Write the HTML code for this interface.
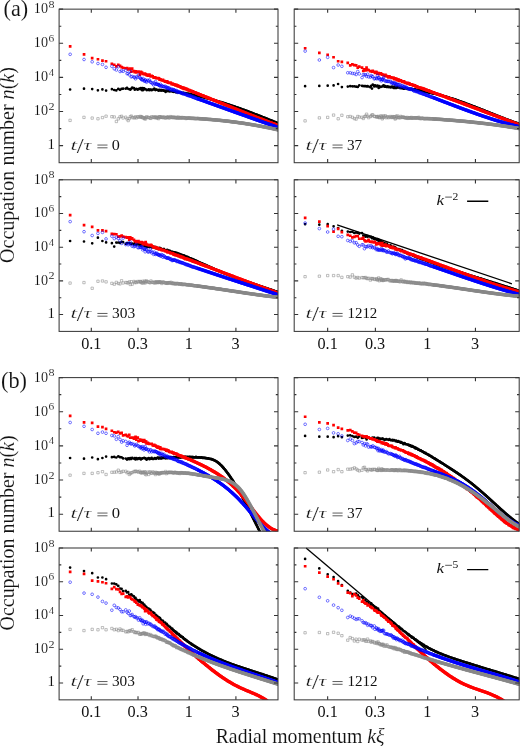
<!DOCTYPE html><html><head><meta charset="utf-8"><style>html,body{margin:0;padding:0;background:#fff;width:520px;height:746px;overflow:hidden}svg{display:block;will-change:transform}text{font-family:"Liberation Serif",serif;fill:#111}</style></head><body>
<svg width="520" height="746" viewBox="0 0 520 746">
<defs>
<clipPath id="cA1"><rect x="59.10" y="9.15" width="218.90" height="153.55"/></clipPath>
<clipPath id="cA2"><rect x="294.20" y="9.15" width="225.00" height="153.55"/></clipPath>
<clipPath id="cA3"><rect x="59.10" y="179.80" width="218.90" height="151.60"/></clipPath>
<clipPath id="cA4"><rect x="294.20" y="179.80" width="225.00" height="151.60"/></clipPath>
<clipPath id="cB1"><rect x="59.10" y="377.60" width="218.90" height="153.65"/></clipPath>
<clipPath id="cB2"><rect x="294.20" y="377.60" width="225.00" height="153.65"/></clipPath>
<clipPath id="cB3"><rect x="59.10" y="548.00" width="218.90" height="151.85"/></clipPath>
<clipPath id="cB4"><rect x="294.20" y="548.00" width="225.00" height="151.85"/></clipPath>
</defs>
<g clip-path="url(#cA1)">
<path d="M172.0 91.5L173.5 91.6L175.0 91.8L176.5 92.0L178.0 92.3L179.5 92.5L181.0 92.7L182.5 93.0L184.0 93.2L185.5 93.5L187.0 93.7L188.5 94.0L190.0 94.3L191.5 94.6L193.0 94.9L194.5 95.2L196.0 95.5L197.5 95.9L199.0 96.2L200.5 96.6L202.0 96.9L203.5 97.3L205.0 97.7L206.5 98.1L208.0 98.5L209.5 98.9L211.0 99.3L212.5 99.7L214.0 100.1L215.5 100.5L217.0 101.0L218.5 101.4L220.0 101.9L221.5 102.3L223.0 102.8L224.5 103.3L226.0 103.7L227.5 104.2L229.0 104.7L230.5 105.2L232.0 105.7L233.5 106.2L235.0 106.7L236.5 107.3L238.0 107.8L239.5 108.3L241.0 108.8L242.5 109.4L244.0 109.9L245.5 110.5L247.0 111.0L248.5 111.6L250.0 112.1L251.5 112.7L253.0 113.3L254.5 113.9L256.0 114.4L257.5 115.0L259.0 115.6L260.5 116.2L262.0 116.8L263.5 117.4L265.0 118.0L266.5 118.6L268.0 119.2L269.5 119.8L271.0 120.4L272.5 121.0L274.0 121.6L275.5 122.2L277.0 122.8L278.5 123.4L280.0 124.0" stroke="#000" stroke-width="2.5" fill="none" stroke-linejoin="round"/>
<path d="M70.1 89.5h0M84.0 88.7h0M92.2 89.1h0M97.9 90.3h0M102.4 89.4h0M106.1 90.6h0M111.9 89.2h0M114.2 90.0h0M116.3 90.4h0M118.3 88.8h0M120.0 89.8h0M121.6 88.9h0M123.1 88.7h0M125.8 88.7h0M127.0 87.9h0M128.2 88.8h0M129.2 89.0h0M130.3 89.7h0M131.3 88.7h0M132.2 87.7h0M133.9 88.2h0M134.8 89.7h0M135.5 89.2h0M136.3 88.9h0M137.7 89.7h0M138.4 89.0h0M139.7 88.6h0M140.3 89.1h0M140.9 88.2h0M141.5 88.6h0M142.1 90.2h0M142.6 88.0h0M143.2 90.1h0M144.2 88.3h0M144.7 89.2h0M145.2 89.0h0M145.6 89.3h0M146.1 89.5h0M146.6 90.1h0M147.9 89.9h0M148.7 89.3h0M149.5 90.2h0M150.2 89.5h0M151.0 89.5h0M151.7 90.2h0M152.7 89.7h0M153.6 89.5h0M154.3 88.7h0M154.9 89.5h0M155.4 90.1h0M156.0 89.7h0M156.6 89.5h0M157.1 89.8h0M157.6 89.9h0M158.1 90.3h0M158.6 90.7h0M159.1 89.9h0M159.6 90.5h0M160.0 90.2h0M160.5 90.0h0M161.1 90.7h0M161.8 90.2h0M162.4 90.5h0M163.0 90.6h0M163.6 90.4h0M164.1 90.7h0M165.1 90.7h0M165.6 91.9h0M166.3 90.8h0M166.8 90.7h0M167.2 90.7h0M167.7 91.1h0M168.2 90.9h0M168.8 90.6h0M169.4 91.4h0M169.9 90.9h0M170.5 91.0h0M171.0 91.3h0M171.7 91.0h0M172.2 91.3h0M172.7 91.5h0M173.1 91.3h0M173.6 91.8h0M174.1 91.7h0M174.6 91.4h0M175.2 91.6h0M175.7 92.2h0M176.2 91.8h0M176.7 92.2h0M177.3 92.0h0M177.8 92.1h0M178.3 92.1h0M178.8 92.3h0M179.3 92.4h0M179.8 92.8h0M180.4 93.0h0M180.8 92.3h0M181.3 93.0h0M181.8 93.2h0M182.3 93.2h0M182.8 93.3h0M183.3 92.8h0M183.8 92.8h0M184.4 93.3h0M184.9 93.6h0M185.5 93.1h0M186.0 93.3h0M186.5 93.5h0M186.9 93.7h0M187.4 94.1h0M187.9 93.7h0M188.3 94.0h0M188.8 93.8h0M189.3 93.9h0M189.8 94.0h0M190.2 94.2h0M190.7 94.2h0M191.2 94.5h0M191.7 94.6h0M192.2 94.6h0M192.6 94.8h0M193.1 94.8h0M193.6 95.2h0M194.1 94.9h0M194.6 95.2h0M195.1 95.5h0M195.6 95.4h0M196.0 95.4h0M196.5 95.6h0M197.0 95.7h0M197.5 95.8h0M197.9 95.8h0M198.4 96.2h0M198.9 96.0h0M199.4 96.4h0M199.9 96.5h0M200.4 96.7h0M200.9 96.7h0M201.3 96.7h0M201.8 96.9h0M202.3 96.9h0M202.7 97.1h0M203.2 97.1h0M203.7 97.2h0M204.1 97.6h0M204.6 97.7h0M205.0 97.7h0M205.5 97.9h0M206.0 97.9h0M206.4 98.0h0M206.9 98.2h0M207.3 98.3h0M207.8 98.4h0M208.3 98.5h0M208.7 98.7h0M209.2 98.8h0M209.7 99.0h0M210.1 99.0h0M210.6 99.2h0M211.1 99.3h0M211.6 99.5h0M212.0 99.5h0M212.5 99.7h0M212.9 99.8h0M213.4 100.0h0M213.8 100.0h0M214.3 100.2h0M214.8 100.3h0M215.2 100.4h0M215.7 100.6h0M216.1 100.7h0M216.6 100.9h0M217.0 101.0h0M217.5 101.1h0M218.0 101.3h0M218.4 101.4h0M218.9 101.5h0M219.4 101.7h0M219.8 101.8h0M220.3 102.0h0M220.8 102.1h0M221.2 102.2h0M221.7 102.4h0M222.1 102.5h0M222.6 102.7h0M223.0 102.8h0M223.5 102.9h0M223.9 103.1h0M224.4 103.2h0M224.9 103.4h0M225.3 103.5h0M225.8 103.7h0M226.2 103.8h0M226.7 104.0h0M227.1 104.1h0M227.6 104.3h0M228.1 104.4h0M228.5 104.6h0M229.0 104.7h0M229.4 104.9h0M229.9 105.0h0M230.3 105.2h0M230.8 105.3h0M231.2 105.5h0M231.7 105.6h0M232.2 105.8h0M232.6 105.9h0M233.1 106.1h0M233.5 106.2h0M234.0 106.4h0M234.4 106.5h0M234.9 106.7h0M235.3 106.9h0M235.8 107.0h0M236.2 107.2h0M236.7 107.3h0M237.2 107.5h0M237.6 107.6h0M238.1 107.8h0M238.5 108.0h0M239.0 108.1h0M239.4 108.3h0M239.9 108.4h0M240.3 108.6h0M240.8 108.8h0M241.2 108.9h0M241.7 109.1h0M242.1 109.3h0M242.6 109.4h0M243.0 109.6h0M243.5 109.7h0M243.9 109.9h0M244.4 110.1h0M244.8 110.2h0M245.3 110.4h0M245.8 110.6h0M246.2 110.7h0M246.7 110.9h0M247.1 111.1h0M247.6 111.2h0M248.0 111.4h0M248.5 111.6h0M248.9 111.7h0M249.4 111.9h0M249.8 112.1h0M250.3 112.3h0M250.7 112.4h0M251.2 112.6h0M251.6 112.8h0M252.1 112.9h0M252.5 113.1h0M253.0 113.3h0M253.4 113.5h0M253.9 113.6h0M254.3 113.8h0M254.8 114.0h0M255.3 114.1h0M255.7 114.3h0M256.2 114.5h0M256.6 114.7h0M257.1 114.8h0M257.5 115.0h0M258.0 115.2h0M258.4 115.4h0M258.9 115.5h0M259.3 115.7h0M259.8 115.9h0M260.2 116.1h0M260.7 116.2h0M261.1 116.4h0M261.6 116.6h0M262.0 116.8h0M262.5 117.0h0M262.9 117.1h0M263.4 117.3h0M263.8 117.5h0M264.3 117.7h0M264.7 117.8h0M265.2 118.0h0M265.6 118.2h0M266.1 118.4h0M266.5 118.6h0M267.0 118.7h0M267.4 118.9h0M267.9 119.1h0M268.3 119.3h0M268.8 119.5h0M269.2 119.7h0M269.7 119.8h0M270.1 120.0h0M270.6 120.2h0M271.0 120.4h0M271.5 120.6h0M271.9 120.7h0M272.4 120.9h0M272.8 121.1h0M273.3 121.3h0M273.7 121.5h0M274.2 121.7h0M274.6 121.8h0M275.1 122.0h0M275.5 122.2h0M276.0 122.4h0M276.4 122.6h0M276.9 122.8h0M277.3 123.0h0M277.8 123.1h0M278.2 123.3h0M278.7 123.5h0" stroke="#000" stroke-width="2.7" stroke-linecap="round" fill="none"/>
<path d="M172.0 83.7L173.5 84.3L175.0 84.8L176.5 85.4L178.0 86.0L179.5 86.5L181.0 87.1L182.5 87.7L184.0 88.3L185.5 88.8L187.0 89.4L188.5 90.0L190.0 90.6L191.5 91.2L193.0 91.8L194.5 92.4L196.0 93.0L197.5 93.6L199.0 94.2L200.5 94.8L202.0 95.4L203.5 96.0L205.0 96.6L206.5 97.2L208.0 97.8L209.5 98.4L211.0 99.0L212.5 99.6L214.0 100.2L215.5 100.8L217.0 101.4L218.5 102.0L220.0 102.6L221.5 103.2L223.0 103.8L224.5 104.5L226.0 105.1L227.5 105.7L229.0 106.3L230.5 106.9L232.0 107.5L233.5 108.1L235.0 108.7L236.5 109.3L238.0 109.9L239.5 110.5L241.0 111.1L242.5 111.7L244.0 112.3L245.5 112.9L247.0 113.5L248.5 114.1L250.0 114.7L251.5 115.3L253.0 115.8L254.5 116.4L256.0 117.0L257.5 117.6L259.0 118.2L260.5 118.8L262.0 119.3L263.5 119.9L265.0 120.5L266.5 121.0L268.0 121.6L269.5 122.2L271.0 122.7L272.5 123.3L274.0 123.8L275.5 124.4L277.0 124.9L278.5 125.5L280.0 126.0" stroke="#f00" stroke-width="3.1" fill="none" stroke-linejoin="round"/>
<path d="M68.8 45.1h2.7v2.7h-2.7zM82.7 53.0h2.7v2.7h-2.7zM90.8 56.8h2.7v2.7h-2.7zM96.6 57.9h2.7v2.7h-2.7zM101.1 59.2h2.7v2.7h-2.7zM104.7 59.9h2.7v2.7h-2.7zM110.5 62.4h2.7v2.7h-2.7zM112.9 63.4h2.7v2.7h-2.7zM115.0 65.0h2.7v2.7h-2.7zM116.9 63.4h2.7v2.7h-2.7zM118.7 64.6h2.7v2.7h-2.7zM120.3 65.7h2.7v2.7h-2.7zM121.8 66.4h2.7v2.7h-2.7zM124.4 66.9h2.7v2.7h-2.7zM125.7 66.8h2.7v2.7h-2.7zM126.8 68.0h2.7v2.7h-2.7zM127.9 67.5h2.7v2.7h-2.7zM128.9 67.3h2.7v2.7h-2.7zM129.9 70.3h2.7v2.7h-2.7zM130.8 67.2h2.7v2.7h-2.7zM132.6 69.8h2.7v2.7h-2.7zM133.4 70.9h2.7v2.7h-2.7zM134.2 69.9h2.7v2.7h-2.7zM135.0 71.0h2.7v2.7h-2.7zM136.4 70.2h2.7v2.7h-2.7zM137.1 70.3h2.7v2.7h-2.7zM138.4 73.3h2.7v2.7h-2.7zM139.0 71.2h2.7v2.7h-2.7zM139.6 70.4h2.7v2.7h-2.7zM140.2 71.5h2.7v2.7h-2.7zM140.7 71.3h2.7v2.7h-2.7zM141.3 72.6h2.7v2.7h-2.7zM141.8 72.5h2.7v2.7h-2.7zM142.8 72.7h2.7v2.7h-2.7zM143.3 72.2h2.7v2.7h-2.7zM143.8 73.1h2.7v2.7h-2.7zM144.3 72.8h2.7v2.7h-2.7zM144.8 73.0h2.7v2.7h-2.7zM145.2 73.7h2.7v2.7h-2.7zM146.5 74.4h2.7v2.7h-2.7zM147.3 73.6h2.7v2.7h-2.7zM148.1 73.3h2.7v2.7h-2.7zM148.9 74.5h2.7v2.7h-2.7zM149.6 75.0h2.7v2.7h-2.7zM150.3 74.4h2.7v2.7h-2.7zM151.3 75.0h2.7v2.7h-2.7zM152.3 76.3h2.7v2.7h-2.7zM152.9 76.1h2.7v2.7h-2.7zM153.5 76.1h2.7v2.7h-2.7zM154.1 76.2h2.7v2.7h-2.7zM154.7 76.7h2.7v2.7h-2.7zM155.2 76.7h2.7v2.7h-2.7zM155.7 76.9h2.7v2.7h-2.7zM156.3 77.0h2.7v2.7h-2.7zM156.8 76.7h2.7v2.7h-2.7zM157.3 76.9h2.7v2.7h-2.7zM157.7 77.1h2.7v2.7h-2.7zM158.2 78.4h2.7v2.7h-2.7zM158.7 77.9h2.7v2.7h-2.7zM159.1 78.1h2.7v2.7h-2.7zM159.8 78.6h2.7v2.7h-2.7zM160.4 78.8h2.7v2.7h-2.7zM161.0 79.0h2.7v2.7h-2.7zM161.6 78.6h2.7v2.7h-2.7zM162.2 79.4h2.7v2.7h-2.7zM162.8 79.6h2.7v2.7h-2.7zM163.7 80.2h2.7v2.7h-2.7zM164.2 80.3h2.7v2.7h-2.7zM164.9 80.1h2.7v2.7h-2.7zM165.4 80.6h2.7v2.7h-2.7zM165.9 80.1h2.7v2.7h-2.7zM166.4 81.0h2.7v2.7h-2.7zM166.8 81.4h2.7v2.7h-2.7zM167.4 81.3h2.7v2.7h-2.7zM168.0 81.5h2.7v2.7h-2.7zM168.6 81.3h2.7v2.7h-2.7zM169.1 81.3h2.7v2.7h-2.7zM169.7 81.7h2.7v2.7h-2.7zM170.3 82.7h2.7v2.7h-2.7zM170.8 82.4h2.7v2.7h-2.7zM171.3 82.8h2.7v2.7h-2.7zM171.8 82.7h2.7v2.7h-2.7zM172.3 83.0h2.7v2.7h-2.7zM172.7 83.0h2.7v2.7h-2.7zM173.3 83.4h2.7v2.7h-2.7zM173.8 83.6h2.7v2.7h-2.7zM174.4 84.1h2.7v2.7h-2.7zM174.9 83.5h2.7v2.7h-2.7zM175.4 83.8h2.7v2.7h-2.7zM176.0 84.1h2.7v2.7h-2.7zM176.4 84.7h2.7v2.7h-2.7zM176.9 84.5h2.7v2.7h-2.7zM177.4 84.9h2.7v2.7h-2.7zM178.0 84.9h2.7v2.7h-2.7zM178.5 85.2h2.7v2.7h-2.7zM179.0 85.5h2.7v2.7h-2.7zM179.5 85.7h2.7v2.7h-2.7zM180.0 86.0h2.7v2.7h-2.7zM180.4 86.3h2.7v2.7h-2.7zM180.9 86.5h2.7v2.7h-2.7zM181.4 86.8h2.7v2.7h-2.7zM181.9 86.3h2.7v2.7h-2.7zM182.5 87.6h2.7v2.7h-2.7zM183.0 86.8h2.7v2.7h-2.7zM183.6 87.2h2.7v2.7h-2.7zM184.1 87.3h2.7v2.7h-2.7zM184.6 87.7h2.7v2.7h-2.7zM185.1 87.6h2.7v2.7h-2.7zM185.6 87.8h2.7v2.7h-2.7zM186.1 88.3h2.7v2.7h-2.7zM186.5 88.7h2.7v2.7h-2.7zM187.0 88.7h2.7v2.7h-2.7zM187.5 88.7h2.7v2.7h-2.7zM188.0 88.8h2.7v2.7h-2.7zM188.4 89.2h2.7v2.7h-2.7zM188.9 89.5h2.7v2.7h-2.7zM189.3 89.6h2.7v2.7h-2.7zM189.9 89.5h2.7v2.7h-2.7zM190.4 90.2h2.7v2.7h-2.7zM190.8 90.2h2.7v2.7h-2.7zM191.3 90.1h2.7v2.7h-2.7zM191.8 90.4h2.7v2.7h-2.7zM192.2 90.8h2.7v2.7h-2.7zM192.8 91.0h2.7v2.7h-2.7zM193.2 91.0h2.7v2.7h-2.7zM193.7 91.0h2.7v2.7h-2.7zM194.2 91.4h2.7v2.7h-2.7zM194.7 91.6h2.7v2.7h-2.7zM195.2 91.9h2.7v2.7h-2.7zM195.6 92.0h2.7v2.7h-2.7zM196.1 92.4h2.7v2.7h-2.7zM196.6 92.3h2.7v2.7h-2.7zM197.1 92.6h2.7v2.7h-2.7zM197.5 92.9h2.7v2.7h-2.7zM198.1 92.9h2.7v2.7h-2.7zM198.5 93.3h2.7v2.7h-2.7zM199.0 93.4h2.7v2.7h-2.7zM199.5 93.6h2.7v2.7h-2.7zM200.0 93.9h2.7v2.7h-2.7zM200.5 94.0h2.7v2.7h-2.7zM200.9 94.1h2.7v2.7h-2.7zM201.4 94.2h2.7v2.7h-2.7zM201.8 94.5h2.7v2.7h-2.7zM202.3 94.6h2.7v2.7h-2.7zM202.8 94.9h2.7v2.7h-2.7zM203.2 95.1h2.7v2.7h-2.7zM203.7 95.3h2.7v2.7h-2.7zM204.1 95.3h2.7v2.7h-2.7zM204.6 95.5h2.7v2.7h-2.7zM205.1 95.7h2.7v2.7h-2.7zM205.5 96.0h2.7v2.7h-2.7zM206.0 96.1h2.7v2.7h-2.7zM206.5 96.3h2.7v2.7h-2.7zM206.9 96.6h2.7v2.7h-2.7zM207.4 96.7h2.7v2.7h-2.7zM207.9 96.8h2.7v2.7h-2.7zM208.3 97.1h2.7v2.7h-2.7zM208.8 97.2h2.7v2.7h-2.7zM209.2 97.5h2.7v2.7h-2.7zM209.7 97.7h2.7v2.7h-2.7zM210.2 97.9h2.7v2.7h-2.7zM210.7 98.0h2.7v2.7h-2.7zM211.1 98.2h2.7v2.7h-2.7zM211.6 98.4h2.7v2.7h-2.7zM212.0 98.6h2.7v2.7h-2.7zM212.5 98.8h2.7v2.7h-2.7zM213.0 98.9h2.7v2.7h-2.7zM213.4 99.2h2.7v2.7h-2.7zM213.9 99.3h2.7v2.7h-2.7zM214.3 99.5h2.7v2.7h-2.7zM214.8 99.7h2.7v2.7h-2.7zM215.2 99.9h2.7v2.7h-2.7zM215.7 100.1h2.7v2.7h-2.7zM216.2 100.3h2.7v2.7h-2.7zM216.6 100.5h2.7v2.7h-2.7zM217.1 100.6h2.7v2.7h-2.7zM217.5 100.8h2.7v2.7h-2.7zM218.0 101.0h2.7v2.7h-2.7zM218.5 101.2h2.7v2.7h-2.7zM218.9 101.4h2.7v2.7h-2.7zM219.4 101.6h2.7v2.7h-2.7zM219.9 101.8h2.7v2.7h-2.7zM220.3 102.0h2.7v2.7h-2.7zM220.8 102.1h2.7v2.7h-2.7zM221.2 102.3h2.7v2.7h-2.7zM221.7 102.5h2.7v2.7h-2.7zM222.1 102.7h2.7v2.7h-2.7zM222.6 102.9h2.7v2.7h-2.7zM223.1 103.1h2.7v2.7h-2.7zM223.5 103.2h2.7v2.7h-2.7zM224.0 103.4h2.7v2.7h-2.7zM224.4 103.6h2.7v2.7h-2.7zM224.9 103.8h2.7v2.7h-2.7zM225.3 104.0h2.7v2.7h-2.7zM225.8 104.2h2.7v2.7h-2.7zM226.3 104.4h2.7v2.7h-2.7zM226.7 104.5h2.7v2.7h-2.7zM227.2 104.7h2.7v2.7h-2.7zM227.6 104.9h2.7v2.7h-2.7zM228.1 105.1h2.7v2.7h-2.7zM228.5 105.3h2.7v2.7h-2.7zM229.0 105.5h2.7v2.7h-2.7zM229.4 105.6h2.7v2.7h-2.7zM229.9 105.8h2.7v2.7h-2.7zM230.4 106.0h2.7v2.7h-2.7zM230.8 106.2h2.7v2.7h-2.7zM231.3 106.4h2.7v2.7h-2.7zM231.7 106.6h2.7v2.7h-2.7zM232.2 106.7h2.7v2.7h-2.7zM232.6 106.9h2.7v2.7h-2.7zM233.1 107.1h2.7v2.7h-2.7zM233.5 107.3h2.7v2.7h-2.7zM234.0 107.5h2.7v2.7h-2.7zM234.4 107.7h2.7v2.7h-2.7zM234.9 107.8h2.7v2.7h-2.7zM235.4 108.0h2.7v2.7h-2.7zM235.8 108.2h2.7v2.7h-2.7zM236.3 108.4h2.7v2.7h-2.7zM236.7 108.6h2.7v2.7h-2.7zM237.2 108.8h2.7v2.7h-2.7zM237.6 108.9h2.7v2.7h-2.7zM238.1 109.1h2.7v2.7h-2.7zM238.5 109.3h2.7v2.7h-2.7zM239.0 109.5h2.7v2.7h-2.7zM239.4 109.7h2.7v2.7h-2.7zM239.9 109.8h2.7v2.7h-2.7zM240.3 110.0h2.7v2.7h-2.7zM240.8 110.2h2.7v2.7h-2.7zM241.2 110.4h2.7v2.7h-2.7zM241.7 110.6h2.7v2.7h-2.7zM242.1 110.7h2.7v2.7h-2.7zM242.6 110.9h2.7v2.7h-2.7zM243.0 111.1h2.7v2.7h-2.7zM243.5 111.3h2.7v2.7h-2.7zM244.0 111.5h2.7v2.7h-2.7zM244.4 111.6h2.7v2.7h-2.7zM244.9 111.8h2.7v2.7h-2.7zM245.3 112.0h2.7v2.7h-2.7zM245.8 112.2h2.7v2.7h-2.7zM246.2 112.4h2.7v2.7h-2.7zM246.7 112.5h2.7v2.7h-2.7zM247.1 112.7h2.7v2.7h-2.7zM247.6 112.9h2.7v2.7h-2.7zM248.0 113.1h2.7v2.7h-2.7zM248.5 113.3h2.7v2.7h-2.7zM248.9 113.4h2.7v2.7h-2.7zM249.4 113.6h2.7v2.7h-2.7zM249.8 113.8h2.7v2.7h-2.7zM250.3 114.0h2.7v2.7h-2.7zM250.7 114.1h2.7v2.7h-2.7zM251.2 114.3h2.7v2.7h-2.7zM251.6 114.5h2.7v2.7h-2.7zM252.1 114.7h2.7v2.7h-2.7zM252.5 114.8h2.7v2.7h-2.7zM253.0 115.0h2.7v2.7h-2.7zM253.4 115.2h2.7v2.7h-2.7zM253.9 115.4h2.7v2.7h-2.7zM254.4 115.5h2.7v2.7h-2.7zM254.8 115.7h2.7v2.7h-2.7zM255.3 115.9h2.7v2.7h-2.7zM255.7 116.1h2.7v2.7h-2.7zM256.2 116.2h2.7v2.7h-2.7zM256.6 116.4h2.7v2.7h-2.7zM257.1 116.6h2.7v2.7h-2.7zM257.5 116.8h2.7v2.7h-2.7zM258.0 116.9h2.7v2.7h-2.7zM258.4 117.1h2.7v2.7h-2.7zM258.9 117.3h2.7v2.7h-2.7zM259.3 117.5h2.7v2.7h-2.7zM259.8 117.6h2.7v2.7h-2.7zM260.2 117.8h2.7v2.7h-2.7zM260.7 118.0h2.7v2.7h-2.7zM261.1 118.2h2.7v2.7h-2.7zM261.6 118.3h2.7v2.7h-2.7zM262.0 118.5h2.7v2.7h-2.7zM262.5 118.7h2.7v2.7h-2.7zM262.9 118.8h2.7v2.7h-2.7zM263.4 119.0h2.7v2.7h-2.7zM263.8 119.2h2.7v2.7h-2.7zM264.3 119.3h2.7v2.7h-2.7zM264.7 119.5h2.7v2.7h-2.7zM265.2 119.7h2.7v2.7h-2.7zM265.6 119.9h2.7v2.7h-2.7zM266.1 120.0h2.7v2.7h-2.7zM266.5 120.2h2.7v2.7h-2.7zM267.0 120.4h2.7v2.7h-2.7zM267.4 120.5h2.7v2.7h-2.7zM267.9 120.7h2.7v2.7h-2.7zM268.3 120.9h2.7v2.7h-2.7zM268.8 121.0h2.7v2.7h-2.7zM269.2 121.2h2.7v2.7h-2.7zM269.7 121.4h2.7v2.7h-2.7zM270.1 121.5h2.7v2.7h-2.7zM270.6 121.7h2.7v2.7h-2.7zM271.0 121.9h2.7v2.7h-2.7zM271.5 122.0h2.7v2.7h-2.7zM271.9 122.2h2.7v2.7h-2.7zM272.4 122.4h2.7v2.7h-2.7zM272.8 122.5h2.7v2.7h-2.7zM273.3 122.7h2.7v2.7h-2.7zM273.7 122.9h2.7v2.7h-2.7zM274.2 123.0h2.7v2.7h-2.7zM274.6 123.2h2.7v2.7h-2.7zM275.1 123.4h2.7v2.7h-2.7zM275.5 123.5h2.7v2.7h-2.7zM276.0 123.7h2.7v2.7h-2.7zM276.4 123.8h2.7v2.7h-2.7zM276.9 124.0h2.7v2.7h-2.7zM277.3 124.2h2.7v2.7h-2.7z" fill="#f00"/>
<path d="M197.0 98.5L198.5 99.0L200.0 99.6L201.5 100.1L203.0 100.7L204.5 101.2L206.0 101.7L207.5 102.3L209.0 102.8L210.5 103.4L212.0 103.9L213.5 104.4L215.0 105.0L216.5 105.5L218.0 106.0L219.5 106.6L221.0 107.1L222.5 107.7L224.0 108.2L225.5 108.7L227.0 109.3L228.5 109.8L230.0 110.3L231.5 110.9L233.0 111.4L234.5 112.0L236.0 112.5L237.5 113.0L239.0 113.6L240.5 114.1L242.0 114.6L243.5 115.2L245.0 115.7L246.5 116.2L248.0 116.8L249.5 117.3L251.0 117.8L252.5 118.4L254.0 118.9L255.5 119.5L257.0 120.0L258.5 120.5L260.0 121.1L261.5 121.6L263.0 122.1L264.5 122.7L266.0 123.2L267.5 123.7L269.0 124.2L270.5 124.8L272.0 125.3L273.5 125.8L275.0 126.4L276.5 126.9L278.0 127.4L279.5 128.0" stroke="#00f" stroke-width="3.0" fill="none" stroke-linejoin="round"/>
<path d="M68.8 54.3a1.35 1.35 0 1 0 2.7 0a1.35 1.35 0 1 0 -2.7 0M82.7 59.5a1.35 1.35 0 1 0 2.7 0a1.35 1.35 0 1 0 -2.7 0M90.8 61.8a1.35 1.35 0 1 0 2.7 0a1.35 1.35 0 1 0 -2.7 0M96.6 63.5a1.35 1.35 0 1 0 2.7 0a1.35 1.35 0 1 0 -2.7 0M101.1 64.4a1.35 1.35 0 1 0 2.7 0a1.35 1.35 0 1 0 -2.7 0M104.7 67.3a1.35 1.35 0 1 0 2.7 0a1.35 1.35 0 1 0 -2.7 0M110.5 66.3a1.35 1.35 0 1 0 2.7 0a1.35 1.35 0 1 0 -2.7 0M112.9 68.8a1.35 1.35 0 1 0 2.7 0a1.35 1.35 0 1 0 -2.7 0M115.0 70.0a1.35 1.35 0 1 0 2.7 0a1.35 1.35 0 1 0 -2.7 0M116.9 66.8a1.35 1.35 0 1 0 2.7 0a1.35 1.35 0 1 0 -2.7 0M118.7 71.5a1.35 1.35 0 1 0 2.7 0a1.35 1.35 0 1 0 -2.7 0M120.3 70.7a1.35 1.35 0 1 0 2.7 0a1.35 1.35 0 1 0 -2.7 0M121.8 71.3a1.35 1.35 0 1 0 2.7 0a1.35 1.35 0 1 0 -2.7 0M124.4 70.3a1.35 1.35 0 1 0 2.7 0a1.35 1.35 0 1 0 -2.7 0M125.7 73.7a1.35 1.35 0 1 0 2.7 0a1.35 1.35 0 1 0 -2.7 0M126.8 73.4a1.35 1.35 0 1 0 2.7 0a1.35 1.35 0 1 0 -2.7 0M127.9 74.8a1.35 1.35 0 1 0 2.7 0a1.35 1.35 0 1 0 -2.7 0M128.9 71.5a1.35 1.35 0 1 0 2.7 0a1.35 1.35 0 1 0 -2.7 0M129.9 76.9a1.35 1.35 0 1 0 2.7 0a1.35 1.35 0 1 0 -2.7 0M130.8 76.4a1.35 1.35 0 1 0 2.7 0a1.35 1.35 0 1 0 -2.7 0M132.6 77.0a1.35 1.35 0 1 0 2.7 0a1.35 1.35 0 1 0 -2.7 0M133.4 77.5a1.35 1.35 0 1 0 2.7 0a1.35 1.35 0 1 0 -2.7 0M134.2 78.8a1.35 1.35 0 1 0 2.7 0a1.35 1.35 0 1 0 -2.7 0M135.0 76.9a1.35 1.35 0 1 0 2.7 0a1.35 1.35 0 1 0 -2.7 0M136.4 77.3a1.35 1.35 0 1 0 2.7 0a1.35 1.35 0 1 0 -2.7 0M137.1 75.0a1.35 1.35 0 1 0 2.7 0a1.35 1.35 0 1 0 -2.7 0M138.4 77.3a1.35 1.35 0 1 0 2.7 0a1.35 1.35 0 1 0 -2.7 0M139.0 78.2a1.35 1.35 0 1 0 2.7 0a1.35 1.35 0 1 0 -2.7 0M139.6 78.8a1.35 1.35 0 1 0 2.7 0a1.35 1.35 0 1 0 -2.7 0M140.2 79.6a1.35 1.35 0 1 0 2.7 0a1.35 1.35 0 1 0 -2.7 0M140.7 79.6a1.35 1.35 0 1 0 2.7 0a1.35 1.35 0 1 0 -2.7 0M141.3 79.8a1.35 1.35 0 1 0 2.7 0a1.35 1.35 0 1 0 -2.7 0M141.8 78.5a1.35 1.35 0 1 0 2.7 0a1.35 1.35 0 1 0 -2.7 0M142.8 81.0a1.35 1.35 0 1 0 2.7 0a1.35 1.35 0 1 0 -2.7 0M143.3 81.0a1.35 1.35 0 1 0 2.7 0a1.35 1.35 0 1 0 -2.7 0M143.8 80.1a1.35 1.35 0 1 0 2.7 0a1.35 1.35 0 1 0 -2.7 0M144.3 80.0a1.35 1.35 0 1 0 2.7 0a1.35 1.35 0 1 0 -2.7 0M144.8 81.3a1.35 1.35 0 1 0 2.7 0a1.35 1.35 0 1 0 -2.7 0M145.2 82.2a1.35 1.35 0 1 0 2.7 0a1.35 1.35 0 1 0 -2.7 0M146.5 80.3a1.35 1.35 0 1 0 2.7 0a1.35 1.35 0 1 0 -2.7 0M147.3 81.0a1.35 1.35 0 1 0 2.7 0a1.35 1.35 0 1 0 -2.7 0M148.1 80.0a1.35 1.35 0 1 0 2.7 0a1.35 1.35 0 1 0 -2.7 0M148.9 81.9a1.35 1.35 0 1 0 2.7 0a1.35 1.35 0 1 0 -2.7 0M149.6 82.5a1.35 1.35 0 1 0 2.7 0a1.35 1.35 0 1 0 -2.7 0M150.3 82.6a1.35 1.35 0 1 0 2.7 0a1.35 1.35 0 1 0 -2.7 0M151.3 83.7a1.35 1.35 0 1 0 2.7 0a1.35 1.35 0 1 0 -2.7 0M152.3 84.9a1.35 1.35 0 1 0 2.7 0a1.35 1.35 0 1 0 -2.7 0M152.9 82.7a1.35 1.35 0 1 0 2.7 0a1.35 1.35 0 1 0 -2.7 0M153.5 83.8a1.35 1.35 0 1 0 2.7 0a1.35 1.35 0 1 0 -2.7 0M154.1 81.6a1.35 1.35 0 1 0 2.7 0a1.35 1.35 0 1 0 -2.7 0M154.7 84.2a1.35 1.35 0 1 0 2.7 0a1.35 1.35 0 1 0 -2.7 0M155.2 84.0a1.35 1.35 0 1 0 2.7 0a1.35 1.35 0 1 0 -2.7 0M155.7 84.3a1.35 1.35 0 1 0 2.7 0a1.35 1.35 0 1 0 -2.7 0M156.3 84.3a1.35 1.35 0 1 0 2.7 0a1.35 1.35 0 1 0 -2.7 0M156.8 84.7a1.35 1.35 0 1 0 2.7 0a1.35 1.35 0 1 0 -2.7 0M157.3 84.5a1.35 1.35 0 1 0 2.7 0a1.35 1.35 0 1 0 -2.7 0M157.7 85.4a1.35 1.35 0 1 0 2.7 0a1.35 1.35 0 1 0 -2.7 0M158.2 85.4a1.35 1.35 0 1 0 2.7 0a1.35 1.35 0 1 0 -2.7 0M158.7 85.8a1.35 1.35 0 1 0 2.7 0a1.35 1.35 0 1 0 -2.7 0M159.1 84.3a1.35 1.35 0 1 0 2.7 0a1.35 1.35 0 1 0 -2.7 0M159.8 86.7a1.35 1.35 0 1 0 2.7 0a1.35 1.35 0 1 0 -2.7 0M160.4 85.6a1.35 1.35 0 1 0 2.7 0a1.35 1.35 0 1 0 -2.7 0M161.0 86.4a1.35 1.35 0 1 0 2.7 0a1.35 1.35 0 1 0 -2.7 0M161.6 86.3a1.35 1.35 0 1 0 2.7 0a1.35 1.35 0 1 0 -2.7 0M162.2 86.8a1.35 1.35 0 1 0 2.7 0a1.35 1.35 0 1 0 -2.7 0M162.8 86.7a1.35 1.35 0 1 0 2.7 0a1.35 1.35 0 1 0 -2.7 0M163.7 86.2a1.35 1.35 0 1 0 2.7 0a1.35 1.35 0 1 0 -2.7 0M164.2 87.2a1.35 1.35 0 1 0 2.7 0a1.35 1.35 0 1 0 -2.7 0M164.9 87.6a1.35 1.35 0 1 0 2.7 0a1.35 1.35 0 1 0 -2.7 0M165.4 87.0a1.35 1.35 0 1 0 2.7 0a1.35 1.35 0 1 0 -2.7 0M165.9 88.6a1.35 1.35 0 1 0 2.7 0a1.35 1.35 0 1 0 -2.7 0M166.4 88.0a1.35 1.35 0 1 0 2.7 0a1.35 1.35 0 1 0 -2.7 0M166.8 87.8a1.35 1.35 0 1 0 2.7 0a1.35 1.35 0 1 0 -2.7 0M167.4 88.4a1.35 1.35 0 1 0 2.7 0a1.35 1.35 0 1 0 -2.7 0M168.0 88.0a1.35 1.35 0 1 0 2.7 0a1.35 1.35 0 1 0 -2.7 0M168.6 89.4a1.35 1.35 0 1 0 2.7 0a1.35 1.35 0 1 0 -2.7 0M169.1 89.7a1.35 1.35 0 1 0 2.7 0a1.35 1.35 0 1 0 -2.7 0M169.7 89.7a1.35 1.35 0 1 0 2.7 0a1.35 1.35 0 1 0 -2.7 0M170.3 88.8a1.35 1.35 0 1 0 2.7 0a1.35 1.35 0 1 0 -2.7 0M170.8 89.9a1.35 1.35 0 1 0 2.7 0a1.35 1.35 0 1 0 -2.7 0M171.3 90.0a1.35 1.35 0 1 0 2.7 0a1.35 1.35 0 1 0 -2.7 0M171.8 90.3a1.35 1.35 0 1 0 2.7 0a1.35 1.35 0 1 0 -2.7 0M172.3 89.6a1.35 1.35 0 1 0 2.7 0a1.35 1.35 0 1 0 -2.7 0M172.7 89.9a1.35 1.35 0 1 0 2.7 0a1.35 1.35 0 1 0 -2.7 0M173.3 90.2a1.35 1.35 0 1 0 2.7 0a1.35 1.35 0 1 0 -2.7 0M173.8 90.7a1.35 1.35 0 1 0 2.7 0a1.35 1.35 0 1 0 -2.7 0M174.4 91.4a1.35 1.35 0 1 0 2.7 0a1.35 1.35 0 1 0 -2.7 0M174.9 90.5a1.35 1.35 0 1 0 2.7 0a1.35 1.35 0 1 0 -2.7 0M175.4 91.1a1.35 1.35 0 1 0 2.7 0a1.35 1.35 0 1 0 -2.7 0M176.0 92.4a1.35 1.35 0 1 0 2.7 0a1.35 1.35 0 1 0 -2.7 0M176.4 91.2a1.35 1.35 0 1 0 2.7 0a1.35 1.35 0 1 0 -2.7 0M176.9 92.1a1.35 1.35 0 1 0 2.7 0a1.35 1.35 0 1 0 -2.7 0M177.4 92.3a1.35 1.35 0 1 0 2.7 0a1.35 1.35 0 1 0 -2.7 0M178.0 91.9a1.35 1.35 0 1 0 2.7 0a1.35 1.35 0 1 0 -2.7 0M178.5 92.3a1.35 1.35 0 1 0 2.7 0a1.35 1.35 0 1 0 -2.7 0M179.0 92.5a1.35 1.35 0 1 0 2.7 0a1.35 1.35 0 1 0 -2.7 0M179.5 92.7a1.35 1.35 0 1 0 2.7 0a1.35 1.35 0 1 0 -2.7 0M180.0 92.9a1.35 1.35 0 1 0 2.7 0a1.35 1.35 0 1 0 -2.7 0M180.4 92.7a1.35 1.35 0 1 0 2.7 0a1.35 1.35 0 1 0 -2.7 0M180.9 93.6a1.35 1.35 0 1 0 2.7 0a1.35 1.35 0 1 0 -2.7 0M181.4 93.5a1.35 1.35 0 1 0 2.7 0a1.35 1.35 0 1 0 -2.7 0M181.9 93.7a1.35 1.35 0 1 0 2.7 0a1.35 1.35 0 1 0 -2.7 0M182.5 93.9a1.35 1.35 0 1 0 2.7 0a1.35 1.35 0 1 0 -2.7 0M183.0 94.0a1.35 1.35 0 1 0 2.7 0a1.35 1.35 0 1 0 -2.7 0M183.6 94.0a1.35 1.35 0 1 0 2.7 0a1.35 1.35 0 1 0 -2.7 0M184.1 94.1a1.35 1.35 0 1 0 2.7 0a1.35 1.35 0 1 0 -2.7 0M184.6 94.8a1.35 1.35 0 1 0 2.7 0a1.35 1.35 0 1 0 -2.7 0M185.1 94.5a1.35 1.35 0 1 0 2.7 0a1.35 1.35 0 1 0 -2.7 0M185.6 94.9a1.35 1.35 0 1 0 2.7 0a1.35 1.35 0 1 0 -2.7 0M186.1 95.1a1.35 1.35 0 1 0 2.7 0a1.35 1.35 0 1 0 -2.7 0M186.5 95.5a1.35 1.35 0 1 0 2.7 0a1.35 1.35 0 1 0 -2.7 0M187.0 95.4a1.35 1.35 0 1 0 2.7 0a1.35 1.35 0 1 0 -2.7 0M187.5 95.7a1.35 1.35 0 1 0 2.7 0a1.35 1.35 0 1 0 -2.7 0M188.0 95.5a1.35 1.35 0 1 0 2.7 0a1.35 1.35 0 1 0 -2.7 0M188.4 95.9a1.35 1.35 0 1 0 2.7 0a1.35 1.35 0 1 0 -2.7 0M188.9 95.9a1.35 1.35 0 1 0 2.7 0a1.35 1.35 0 1 0 -2.7 0M189.3 96.1a1.35 1.35 0 1 0 2.7 0a1.35 1.35 0 1 0 -2.7 0M189.9 96.4a1.35 1.35 0 1 0 2.7 0a1.35 1.35 0 1 0 -2.7 0M190.4 96.4a1.35 1.35 0 1 0 2.7 0a1.35 1.35 0 1 0 -2.7 0M190.8 96.7a1.35 1.35 0 1 0 2.7 0a1.35 1.35 0 1 0 -2.7 0M191.3 97.0a1.35 1.35 0 1 0 2.7 0a1.35 1.35 0 1 0 -2.7 0M191.8 97.1a1.35 1.35 0 1 0 2.7 0a1.35 1.35 0 1 0 -2.7 0M192.2 97.4a1.35 1.35 0 1 0 2.7 0a1.35 1.35 0 1 0 -2.7 0M192.8 97.5a1.35 1.35 0 1 0 2.7 0a1.35 1.35 0 1 0 -2.7 0M193.2 97.5a1.35 1.35 0 1 0 2.7 0a1.35 1.35 0 1 0 -2.7 0M193.7 97.8a1.35 1.35 0 1 0 2.7 0a1.35 1.35 0 1 0 -2.7 0M194.2 98.1a1.35 1.35 0 1 0 2.7 0a1.35 1.35 0 1 0 -2.7 0M194.7 98.3a1.35 1.35 0 1 0 2.7 0a1.35 1.35 0 1 0 -2.7 0M195.2 98.5a1.35 1.35 0 1 0 2.7 0a1.35 1.35 0 1 0 -2.7 0M195.6 98.6a1.35 1.35 0 1 0 2.7 0a1.35 1.35 0 1 0 -2.7 0M196.1 98.8a1.35 1.35 0 1 0 2.7 0a1.35 1.35 0 1 0 -2.7 0M196.6 98.8a1.35 1.35 0 1 0 2.7 0a1.35 1.35 0 1 0 -2.7 0M197.1 99.0a1.35 1.35 0 1 0 2.7 0a1.35 1.35 0 1 0 -2.7 0M197.5 99.2a1.35 1.35 0 1 0 2.7 0a1.35 1.35 0 1 0 -2.7 0M198.1 99.4a1.35 1.35 0 1 0 2.7 0a1.35 1.35 0 1 0 -2.7 0M198.5 99.5a1.35 1.35 0 1 0 2.7 0a1.35 1.35 0 1 0 -2.7 0M199.0 99.8a1.35 1.35 0 1 0 2.7 0a1.35 1.35 0 1 0 -2.7 0M199.5 99.9a1.35 1.35 0 1 0 2.7 0a1.35 1.35 0 1 0 -2.7 0M200.0 100.1a1.35 1.35 0 1 0 2.7 0a1.35 1.35 0 1 0 -2.7 0M200.5 100.2a1.35 1.35 0 1 0 2.7 0a1.35 1.35 0 1 0 -2.7 0M200.9 100.4a1.35 1.35 0 1 0 2.7 0a1.35 1.35 0 1 0 -2.7 0M201.4 100.5a1.35 1.35 0 1 0 2.7 0a1.35 1.35 0 1 0 -2.7 0M201.8 100.7a1.35 1.35 0 1 0 2.7 0a1.35 1.35 0 1 0 -2.7 0M202.3 100.9a1.35 1.35 0 1 0 2.7 0a1.35 1.35 0 1 0 -2.7 0M202.8 101.1a1.35 1.35 0 1 0 2.7 0a1.35 1.35 0 1 0 -2.7 0M203.2 101.2a1.35 1.35 0 1 0 2.7 0a1.35 1.35 0 1 0 -2.7 0M203.7 101.4a1.35 1.35 0 1 0 2.7 0a1.35 1.35 0 1 0 -2.7 0M204.1 101.6a1.35 1.35 0 1 0 2.7 0a1.35 1.35 0 1 0 -2.7 0M204.6 101.7a1.35 1.35 0 1 0 2.7 0a1.35 1.35 0 1 0 -2.7 0M205.1 101.9a1.35 1.35 0 1 0 2.7 0a1.35 1.35 0 1 0 -2.7 0M205.5 102.1a1.35 1.35 0 1 0 2.7 0a1.35 1.35 0 1 0 -2.7 0M206.0 102.2a1.35 1.35 0 1 0 2.7 0a1.35 1.35 0 1 0 -2.7 0M206.5 102.4a1.35 1.35 0 1 0 2.7 0a1.35 1.35 0 1 0 -2.7 0M206.9 102.6a1.35 1.35 0 1 0 2.7 0a1.35 1.35 0 1 0 -2.7 0M207.4 102.7a1.35 1.35 0 1 0 2.7 0a1.35 1.35 0 1 0 -2.7 0M207.9 102.9a1.35 1.35 0 1 0 2.7 0a1.35 1.35 0 1 0 -2.7 0M208.3 103.1a1.35 1.35 0 1 0 2.7 0a1.35 1.35 0 1 0 -2.7 0M208.8 103.2a1.35 1.35 0 1 0 2.7 0a1.35 1.35 0 1 0 -2.7 0M209.2 103.4a1.35 1.35 0 1 0 2.7 0a1.35 1.35 0 1 0 -2.7 0M209.7 103.6a1.35 1.35 0 1 0 2.7 0a1.35 1.35 0 1 0 -2.7 0M210.2 103.7a1.35 1.35 0 1 0 2.7 0a1.35 1.35 0 1 0 -2.7 0M210.7 103.9a1.35 1.35 0 1 0 2.7 0a1.35 1.35 0 1 0 -2.7 0M211.1 104.1a1.35 1.35 0 1 0 2.7 0a1.35 1.35 0 1 0 -2.7 0M211.6 104.2a1.35 1.35 0 1 0 2.7 0a1.35 1.35 0 1 0 -2.7 0M212.0 104.4a1.35 1.35 0 1 0 2.7 0a1.35 1.35 0 1 0 -2.7 0M212.5 104.5a1.35 1.35 0 1 0 2.7 0a1.35 1.35 0 1 0 -2.7 0M213.0 104.7a1.35 1.35 0 1 0 2.7 0a1.35 1.35 0 1 0 -2.7 0M213.4 104.9a1.35 1.35 0 1 0 2.7 0a1.35 1.35 0 1 0 -2.7 0M213.9 105.0a1.35 1.35 0 1 0 2.7 0a1.35 1.35 0 1 0 -2.7 0M214.3 105.2a1.35 1.35 0 1 0 2.7 0a1.35 1.35 0 1 0 -2.7 0M214.8 105.4a1.35 1.35 0 1 0 2.7 0a1.35 1.35 0 1 0 -2.7 0M215.2 105.5a1.35 1.35 0 1 0 2.7 0a1.35 1.35 0 1 0 -2.7 0M215.7 105.7a1.35 1.35 0 1 0 2.7 0a1.35 1.35 0 1 0 -2.7 0M216.2 105.9a1.35 1.35 0 1 0 2.7 0a1.35 1.35 0 1 0 -2.7 0M216.6 106.0a1.35 1.35 0 1 0 2.7 0a1.35 1.35 0 1 0 -2.7 0M217.1 106.2a1.35 1.35 0 1 0 2.7 0a1.35 1.35 0 1 0 -2.7 0M217.5 106.4a1.35 1.35 0 1 0 2.7 0a1.35 1.35 0 1 0 -2.7 0M218.0 106.5a1.35 1.35 0 1 0 2.7 0a1.35 1.35 0 1 0 -2.7 0M218.5 106.7a1.35 1.35 0 1 0 2.7 0a1.35 1.35 0 1 0 -2.7 0M218.9 106.9a1.35 1.35 0 1 0 2.7 0a1.35 1.35 0 1 0 -2.7 0M219.4 107.0a1.35 1.35 0 1 0 2.7 0a1.35 1.35 0 1 0 -2.7 0M219.9 107.2a1.35 1.35 0 1 0 2.7 0a1.35 1.35 0 1 0 -2.7 0M220.3 107.4a1.35 1.35 0 1 0 2.7 0a1.35 1.35 0 1 0 -2.7 0M220.8 107.5a1.35 1.35 0 1 0 2.7 0a1.35 1.35 0 1 0 -2.7 0M221.2 107.7a1.35 1.35 0 1 0 2.7 0a1.35 1.35 0 1 0 -2.7 0M221.7 107.8a1.35 1.35 0 1 0 2.7 0a1.35 1.35 0 1 0 -2.7 0M222.1 108.0a1.35 1.35 0 1 0 2.7 0a1.35 1.35 0 1 0 -2.7 0M222.6 108.2a1.35 1.35 0 1 0 2.7 0a1.35 1.35 0 1 0 -2.7 0M223.1 108.3a1.35 1.35 0 1 0 2.7 0a1.35 1.35 0 1 0 -2.7 0M223.5 108.5a1.35 1.35 0 1 0 2.7 0a1.35 1.35 0 1 0 -2.7 0M224.0 108.7a1.35 1.35 0 1 0 2.7 0a1.35 1.35 0 1 0 -2.7 0M224.4 108.8a1.35 1.35 0 1 0 2.7 0a1.35 1.35 0 1 0 -2.7 0M224.9 109.0a1.35 1.35 0 1 0 2.7 0a1.35 1.35 0 1 0 -2.7 0M225.3 109.2a1.35 1.35 0 1 0 2.7 0a1.35 1.35 0 1 0 -2.7 0M225.8 109.3a1.35 1.35 0 1 0 2.7 0a1.35 1.35 0 1 0 -2.7 0M226.3 109.5a1.35 1.35 0 1 0 2.7 0a1.35 1.35 0 1 0 -2.7 0M226.7 109.7a1.35 1.35 0 1 0 2.7 0a1.35 1.35 0 1 0 -2.7 0M227.2 109.8a1.35 1.35 0 1 0 2.7 0a1.35 1.35 0 1 0 -2.7 0M227.6 110.0a1.35 1.35 0 1 0 2.7 0a1.35 1.35 0 1 0 -2.7 0M228.1 110.1a1.35 1.35 0 1 0 2.7 0a1.35 1.35 0 1 0 -2.7 0M228.5 110.3a1.35 1.35 0 1 0 2.7 0a1.35 1.35 0 1 0 -2.7 0M229.0 110.5a1.35 1.35 0 1 0 2.7 0a1.35 1.35 0 1 0 -2.7 0M229.4 110.6a1.35 1.35 0 1 0 2.7 0a1.35 1.35 0 1 0 -2.7 0M229.9 110.8a1.35 1.35 0 1 0 2.7 0a1.35 1.35 0 1 0 -2.7 0M230.4 111.0a1.35 1.35 0 1 0 2.7 0a1.35 1.35 0 1 0 -2.7 0M230.8 111.1a1.35 1.35 0 1 0 2.7 0a1.35 1.35 0 1 0 -2.7 0M231.3 111.3a1.35 1.35 0 1 0 2.7 0a1.35 1.35 0 1 0 -2.7 0M231.7 111.4a1.35 1.35 0 1 0 2.7 0a1.35 1.35 0 1 0 -2.7 0M232.2 111.6a1.35 1.35 0 1 0 2.7 0a1.35 1.35 0 1 0 -2.7 0M232.6 111.8a1.35 1.35 0 1 0 2.7 0a1.35 1.35 0 1 0 -2.7 0M233.1 111.9a1.35 1.35 0 1 0 2.7 0a1.35 1.35 0 1 0 -2.7 0M233.5 112.1a1.35 1.35 0 1 0 2.7 0a1.35 1.35 0 1 0 -2.7 0M234.0 112.3a1.35 1.35 0 1 0 2.7 0a1.35 1.35 0 1 0 -2.7 0M234.4 112.4a1.35 1.35 0 1 0 2.7 0a1.35 1.35 0 1 0 -2.7 0M234.9 112.6a1.35 1.35 0 1 0 2.7 0a1.35 1.35 0 1 0 -2.7 0M235.4 112.7a1.35 1.35 0 1 0 2.7 0a1.35 1.35 0 1 0 -2.7 0M235.8 112.9a1.35 1.35 0 1 0 2.7 0a1.35 1.35 0 1 0 -2.7 0M236.3 113.1a1.35 1.35 0 1 0 2.7 0a1.35 1.35 0 1 0 -2.7 0M236.7 113.2a1.35 1.35 0 1 0 2.7 0a1.35 1.35 0 1 0 -2.7 0M237.2 113.4a1.35 1.35 0 1 0 2.7 0a1.35 1.35 0 1 0 -2.7 0M237.6 113.6a1.35 1.35 0 1 0 2.7 0a1.35 1.35 0 1 0 -2.7 0M238.1 113.7a1.35 1.35 0 1 0 2.7 0a1.35 1.35 0 1 0 -2.7 0M238.5 113.9a1.35 1.35 0 1 0 2.7 0a1.35 1.35 0 1 0 -2.7 0M239.0 114.0a1.35 1.35 0 1 0 2.7 0a1.35 1.35 0 1 0 -2.7 0M239.4 114.2a1.35 1.35 0 1 0 2.7 0a1.35 1.35 0 1 0 -2.7 0M239.9 114.4a1.35 1.35 0 1 0 2.7 0a1.35 1.35 0 1 0 -2.7 0M240.3 114.5a1.35 1.35 0 1 0 2.7 0a1.35 1.35 0 1 0 -2.7 0M240.8 114.7a1.35 1.35 0 1 0 2.7 0a1.35 1.35 0 1 0 -2.7 0M241.2 114.8a1.35 1.35 0 1 0 2.7 0a1.35 1.35 0 1 0 -2.7 0M241.7 115.0a1.35 1.35 0 1 0 2.7 0a1.35 1.35 0 1 0 -2.7 0M242.1 115.2a1.35 1.35 0 1 0 2.7 0a1.35 1.35 0 1 0 -2.7 0M242.6 115.3a1.35 1.35 0 1 0 2.7 0a1.35 1.35 0 1 0 -2.7 0M243.0 115.5a1.35 1.35 0 1 0 2.7 0a1.35 1.35 0 1 0 -2.7 0M243.5 115.7a1.35 1.35 0 1 0 2.7 0a1.35 1.35 0 1 0 -2.7 0M244.0 115.8a1.35 1.35 0 1 0 2.7 0a1.35 1.35 0 1 0 -2.7 0M244.4 116.0a1.35 1.35 0 1 0 2.7 0a1.35 1.35 0 1 0 -2.7 0M244.9 116.1a1.35 1.35 0 1 0 2.7 0a1.35 1.35 0 1 0 -2.7 0M245.3 116.3a1.35 1.35 0 1 0 2.7 0a1.35 1.35 0 1 0 -2.7 0M245.8 116.5a1.35 1.35 0 1 0 2.7 0a1.35 1.35 0 1 0 -2.7 0M246.2 116.6a1.35 1.35 0 1 0 2.7 0a1.35 1.35 0 1 0 -2.7 0M246.7 116.8a1.35 1.35 0 1 0 2.7 0a1.35 1.35 0 1 0 -2.7 0M247.1 116.9a1.35 1.35 0 1 0 2.7 0a1.35 1.35 0 1 0 -2.7 0M247.6 117.1a1.35 1.35 0 1 0 2.7 0a1.35 1.35 0 1 0 -2.7 0M248.0 117.3a1.35 1.35 0 1 0 2.7 0a1.35 1.35 0 1 0 -2.7 0M248.5 117.4a1.35 1.35 0 1 0 2.7 0a1.35 1.35 0 1 0 -2.7 0M248.9 117.6a1.35 1.35 0 1 0 2.7 0a1.35 1.35 0 1 0 -2.7 0M249.4 117.8a1.35 1.35 0 1 0 2.7 0a1.35 1.35 0 1 0 -2.7 0M249.8 117.9a1.35 1.35 0 1 0 2.7 0a1.35 1.35 0 1 0 -2.7 0M250.3 118.1a1.35 1.35 0 1 0 2.7 0a1.35 1.35 0 1 0 -2.7 0M250.7 118.2a1.35 1.35 0 1 0 2.7 0a1.35 1.35 0 1 0 -2.7 0M251.2 118.4a1.35 1.35 0 1 0 2.7 0a1.35 1.35 0 1 0 -2.7 0M251.6 118.6a1.35 1.35 0 1 0 2.7 0a1.35 1.35 0 1 0 -2.7 0M252.1 118.7a1.35 1.35 0 1 0 2.7 0a1.35 1.35 0 1 0 -2.7 0M252.5 118.9a1.35 1.35 0 1 0 2.7 0a1.35 1.35 0 1 0 -2.7 0M253.0 119.0a1.35 1.35 0 1 0 2.7 0a1.35 1.35 0 1 0 -2.7 0M253.4 119.2a1.35 1.35 0 1 0 2.7 0a1.35 1.35 0 1 0 -2.7 0M253.9 119.4a1.35 1.35 0 1 0 2.7 0a1.35 1.35 0 1 0 -2.7 0M254.4 119.5a1.35 1.35 0 1 0 2.7 0a1.35 1.35 0 1 0 -2.7 0M254.8 119.7a1.35 1.35 0 1 0 2.7 0a1.35 1.35 0 1 0 -2.7 0M255.3 119.8a1.35 1.35 0 1 0 2.7 0a1.35 1.35 0 1 0 -2.7 0M255.7 120.0a1.35 1.35 0 1 0 2.7 0a1.35 1.35 0 1 0 -2.7 0M256.2 120.2a1.35 1.35 0 1 0 2.7 0a1.35 1.35 0 1 0 -2.7 0M256.6 120.3a1.35 1.35 0 1 0 2.7 0a1.35 1.35 0 1 0 -2.7 0M257.1 120.5a1.35 1.35 0 1 0 2.7 0a1.35 1.35 0 1 0 -2.7 0M257.5 120.6a1.35 1.35 0 1 0 2.7 0a1.35 1.35 0 1 0 -2.7 0M258.0 120.8a1.35 1.35 0 1 0 2.7 0a1.35 1.35 0 1 0 -2.7 0M258.4 121.0a1.35 1.35 0 1 0 2.7 0a1.35 1.35 0 1 0 -2.7 0M258.9 121.1a1.35 1.35 0 1 0 2.7 0a1.35 1.35 0 1 0 -2.7 0M259.3 121.3a1.35 1.35 0 1 0 2.7 0a1.35 1.35 0 1 0 -2.7 0M259.8 121.4a1.35 1.35 0 1 0 2.7 0a1.35 1.35 0 1 0 -2.7 0M260.2 121.6a1.35 1.35 0 1 0 2.7 0a1.35 1.35 0 1 0 -2.7 0M260.7 121.8a1.35 1.35 0 1 0 2.7 0a1.35 1.35 0 1 0 -2.7 0M261.1 121.9a1.35 1.35 0 1 0 2.7 0a1.35 1.35 0 1 0 -2.7 0M261.6 122.1a1.35 1.35 0 1 0 2.7 0a1.35 1.35 0 1 0 -2.7 0M262.0 122.2a1.35 1.35 0 1 0 2.7 0a1.35 1.35 0 1 0 -2.7 0M262.5 122.4a1.35 1.35 0 1 0 2.7 0a1.35 1.35 0 1 0 -2.7 0M262.9 122.6a1.35 1.35 0 1 0 2.7 0a1.35 1.35 0 1 0 -2.7 0M263.4 122.7a1.35 1.35 0 1 0 2.7 0a1.35 1.35 0 1 0 -2.7 0M263.8 122.9a1.35 1.35 0 1 0 2.7 0a1.35 1.35 0 1 0 -2.7 0M264.3 123.0a1.35 1.35 0 1 0 2.7 0a1.35 1.35 0 1 0 -2.7 0M264.7 123.2a1.35 1.35 0 1 0 2.7 0a1.35 1.35 0 1 0 -2.7 0M265.2 123.4a1.35 1.35 0 1 0 2.7 0a1.35 1.35 0 1 0 -2.7 0M265.6 123.5a1.35 1.35 0 1 0 2.7 0a1.35 1.35 0 1 0 -2.7 0M266.1 123.7a1.35 1.35 0 1 0 2.7 0a1.35 1.35 0 1 0 -2.7 0M266.5 123.8a1.35 1.35 0 1 0 2.7 0a1.35 1.35 0 1 0 -2.7 0M267.0 124.0a1.35 1.35 0 1 0 2.7 0a1.35 1.35 0 1 0 -2.7 0M267.4 124.2a1.35 1.35 0 1 0 2.7 0a1.35 1.35 0 1 0 -2.7 0M267.9 124.3a1.35 1.35 0 1 0 2.7 0a1.35 1.35 0 1 0 -2.7 0M268.3 124.5a1.35 1.35 0 1 0 2.7 0a1.35 1.35 0 1 0 -2.7 0M268.8 124.6a1.35 1.35 0 1 0 2.7 0a1.35 1.35 0 1 0 -2.7 0M269.2 124.8a1.35 1.35 0 1 0 2.7 0a1.35 1.35 0 1 0 -2.7 0M269.7 125.0a1.35 1.35 0 1 0 2.7 0a1.35 1.35 0 1 0 -2.7 0M270.1 125.1a1.35 1.35 0 1 0 2.7 0a1.35 1.35 0 1 0 -2.7 0M270.6 125.3a1.35 1.35 0 1 0 2.7 0a1.35 1.35 0 1 0 -2.7 0M271.0 125.4a1.35 1.35 0 1 0 2.7 0a1.35 1.35 0 1 0 -2.7 0M271.5 125.6a1.35 1.35 0 1 0 2.7 0a1.35 1.35 0 1 0 -2.7 0M271.9 125.8a1.35 1.35 0 1 0 2.7 0a1.35 1.35 0 1 0 -2.7 0M272.4 125.9a1.35 1.35 0 1 0 2.7 0a1.35 1.35 0 1 0 -2.7 0M272.8 126.1a1.35 1.35 0 1 0 2.7 0a1.35 1.35 0 1 0 -2.7 0M273.3 126.2a1.35 1.35 0 1 0 2.7 0a1.35 1.35 0 1 0 -2.7 0M273.7 126.4a1.35 1.35 0 1 0 2.7 0a1.35 1.35 0 1 0 -2.7 0M274.2 126.6a1.35 1.35 0 1 0 2.7 0a1.35 1.35 0 1 0 -2.7 0M274.6 126.7a1.35 1.35 0 1 0 2.7 0a1.35 1.35 0 1 0 -2.7 0M275.1 126.9a1.35 1.35 0 1 0 2.7 0a1.35 1.35 0 1 0 -2.7 0M275.5 127.0a1.35 1.35 0 1 0 2.7 0a1.35 1.35 0 1 0 -2.7 0M276.0 127.2a1.35 1.35 0 1 0 2.7 0a1.35 1.35 0 1 0 -2.7 0M276.4 127.4a1.35 1.35 0 1 0 2.7 0a1.35 1.35 0 1 0 -2.7 0M276.9 127.5a1.35 1.35 0 1 0 2.7 0a1.35 1.35 0 1 0 -2.7 0M277.3 127.7a1.35 1.35 0 1 0 2.7 0a1.35 1.35 0 1 0 -2.7 0" stroke="#00f" stroke-width="0.55" fill="none"/>
<path d="M197.0 118.5L198.5 118.6L200.0 118.7L201.5 118.8L203.0 118.9L204.5 119.0L206.0 119.1L207.5 119.3L209.0 119.4L210.5 119.5L212.0 119.6L213.5 119.8L215.0 119.9L216.5 120.0L218.0 120.2L219.5 120.3L221.0 120.5L222.5 120.6L224.0 120.8L225.5 121.0L227.0 121.1L228.5 121.3L230.0 121.5L231.5 121.7L233.0 121.9L234.5 122.1L236.0 122.3L237.5 122.5L239.0 122.7L240.5 122.9L242.0 123.1L243.5 123.3L245.0 123.5L246.5 123.8L248.0 124.0L249.5 124.3L251.0 124.5L252.5 124.8L254.0 125.0L255.5 125.3L257.0 125.5L258.5 125.8L260.0 126.1L261.5 126.4L263.0 126.7L264.5 127.0L266.0 127.3L267.5 127.6L269.0 127.9L270.5 128.2L272.0 128.5L273.5 128.8L275.0 129.2L276.5 129.5L278.0 129.8L279.5 130.2" stroke="#808080" stroke-width="3.0" fill="none" stroke-linejoin="round"/>
<path d="M68.9 119.2h2.35v2.35h-2.35zM82.8 116.2h2.35v2.35h-2.35zM91.0 116.9h2.35v2.35h-2.35zM96.8 117.6h2.35v2.35h-2.35zM101.3 116.4h2.35v2.35h-2.35zM104.9 115.0h2.35v2.35h-2.35zM110.7 115.5h2.35v2.35h-2.35zM113.1 115.8h2.35v2.35h-2.35zM115.2 120.3h2.35v2.35h-2.35zM117.1 117.7h2.35v2.35h-2.35zM118.8 115.7h2.35v2.35h-2.35zM120.4 115.1h2.35v2.35h-2.35zM121.9 116.8h2.35v2.35h-2.35zM124.6 116.0h2.35v2.35h-2.35zM125.8 117.7h2.35v2.35h-2.35zM127.0 119.4h2.35v2.35h-2.35zM128.1 117.5h2.35v2.35h-2.35zM129.1 115.6h2.35v2.35h-2.35zM130.1 114.9h2.35v2.35h-2.35zM131.0 116.4h2.35v2.35h-2.35zM132.8 116.8h2.35v2.35h-2.35zM133.6 116.1h2.35v2.35h-2.35zM134.4 115.7h2.35v2.35h-2.35zM135.1 116.8h2.35v2.35h-2.35zM136.6 115.6h2.35v2.35h-2.35zM137.2 115.8h2.35v2.35h-2.35zM138.5 116.0h2.35v2.35h-2.35zM139.2 115.2h2.35v2.35h-2.35zM139.8 115.9h2.35v2.35h-2.35zM140.3 115.7h2.35v2.35h-2.35zM140.9 115.8h2.35v2.35h-2.35zM141.5 116.6h2.35v2.35h-2.35zM142.0 116.6h2.35v2.35h-2.35zM143.0 116.9h2.35v2.35h-2.35zM143.5 117.7h2.35v2.35h-2.35zM144.0 116.7h2.35v2.35h-2.35zM144.5 117.7h2.35v2.35h-2.35zM144.9 116.1h2.35v2.35h-2.35zM145.4 115.7h2.35v2.35h-2.35zM146.7 116.1h2.35v2.35h-2.35zM147.5 116.3h2.35v2.35h-2.35zM148.3 116.6h2.35v2.35h-2.35zM149.0 116.9h2.35v2.35h-2.35zM149.8 117.2h2.35v2.35h-2.35zM150.5 115.5h2.35v2.35h-2.35zM151.5 116.1h2.35v2.35h-2.35zM152.5 115.9h2.35v2.35h-2.35zM153.1 116.4h2.35v2.35h-2.35zM153.7 115.8h2.35v2.35h-2.35zM154.3 116.6h2.35v2.35h-2.35zM154.8 115.8h2.35v2.35h-2.35zM155.4 116.4h2.35v2.35h-2.35zM155.9 116.8h2.35v2.35h-2.35zM156.4 116.0h2.35v2.35h-2.35zM156.9 116.8h2.35v2.35h-2.35zM157.4 117.5h2.35v2.35h-2.35zM157.9 115.7h2.35v2.35h-2.35zM158.4 115.7h2.35v2.35h-2.35zM158.9 115.7h2.35v2.35h-2.35zM159.3 116.2h2.35v2.35h-2.35zM160.0 115.9h2.35v2.35h-2.35zM160.6 116.1h2.35v2.35h-2.35zM161.2 116.1h2.35v2.35h-2.35zM161.8 116.6h2.35v2.35h-2.35zM162.4 116.0h2.35v2.35h-2.35zM163.0 115.8h2.35v2.35h-2.35zM163.9 116.8h2.35v2.35h-2.35zM164.4 116.7h2.35v2.35h-2.35zM165.1 116.4h2.35v2.35h-2.35zM165.6 116.0h2.35v2.35h-2.35zM166.1 116.4h2.35v2.35h-2.35zM166.5 116.0h2.35v2.35h-2.35zM167.0 115.8h2.35v2.35h-2.35zM167.6 116.8h2.35v2.35h-2.35zM168.2 116.3h2.35v2.35h-2.35zM168.7 116.6h2.35v2.35h-2.35zM169.3 115.4h2.35v2.35h-2.35zM169.8 116.0h2.35v2.35h-2.35zM170.5 115.9h2.35v2.35h-2.35zM171.0 116.3h2.35v2.35h-2.35zM171.5 116.4h2.35v2.35h-2.35zM172.0 116.1h2.35v2.35h-2.35zM172.4 116.4h2.35v2.35h-2.35zM172.9 115.9h2.35v2.35h-2.35zM173.5 116.5h2.35v2.35h-2.35zM174.0 116.2h2.35v2.35h-2.35zM174.5 116.7h2.35v2.35h-2.35zM175.0 116.7h2.35v2.35h-2.35zM175.5 116.1h2.35v2.35h-2.35zM176.1 116.8h2.35v2.35h-2.35zM176.6 116.9h2.35v2.35h-2.35zM177.1 115.8h2.35v2.35h-2.35zM177.6 116.9h2.35v2.35h-2.35zM178.2 116.4h2.35v2.35h-2.35zM178.7 116.8h2.35v2.35h-2.35zM179.2 116.5h2.35v2.35h-2.35zM179.7 116.8h2.35v2.35h-2.35zM180.1 116.4h2.35v2.35h-2.35zM180.6 116.3h2.35v2.35h-2.35zM181.1 116.9h2.35v2.35h-2.35zM181.6 116.7h2.35v2.35h-2.35zM182.1 116.4h2.35v2.35h-2.35zM182.7 116.7h2.35v2.35h-2.35zM183.2 116.5h2.35v2.35h-2.35zM183.8 116.5h2.35v2.35h-2.35zM184.3 117.0h2.35v2.35h-2.35zM184.8 117.4h2.35v2.35h-2.35zM185.3 117.0h2.35v2.35h-2.35zM185.8 116.9h2.35v2.35h-2.35zM186.2 116.9h2.35v2.35h-2.35zM186.7 116.9h2.35v2.35h-2.35zM187.2 116.8h2.35v2.35h-2.35zM187.6 117.0h2.35v2.35h-2.35zM188.1 116.8h2.35v2.35h-2.35zM188.6 116.9h2.35v2.35h-2.35zM189.1 116.8h2.35v2.35h-2.35zM189.5 117.3h2.35v2.35h-2.35zM190.1 117.1h2.35v2.35h-2.35zM190.5 117.0h2.35v2.35h-2.35zM191.0 117.3h2.35v2.35h-2.35zM191.5 117.2h2.35v2.35h-2.35zM191.9 116.9h2.35v2.35h-2.35zM192.4 117.3h2.35v2.35h-2.35zM192.9 117.4h2.35v2.35h-2.35zM193.4 117.0h2.35v2.35h-2.35zM193.9 117.4h2.35v2.35h-2.35zM194.4 117.5h2.35v2.35h-2.35zM194.8 117.3h2.35v2.35h-2.35zM195.3 117.5h2.35v2.35h-2.35zM195.8 117.2h2.35v2.35h-2.35zM196.3 117.4h2.35v2.35h-2.35zM196.8 117.3h2.35v2.35h-2.35zM197.2 117.3h2.35v2.35h-2.35zM197.7 117.5h2.35v2.35h-2.35zM198.2 117.6h2.35v2.35h-2.35zM198.7 117.4h2.35v2.35h-2.35zM199.2 117.5h2.35v2.35h-2.35zM199.7 117.7h2.35v2.35h-2.35zM200.2 117.7h2.35v2.35h-2.35zM200.6 117.6h2.35v2.35h-2.35zM201.1 117.6h2.35v2.35h-2.35zM201.5 117.8h2.35v2.35h-2.35zM202.0 117.6h2.35v2.35h-2.35zM202.5 117.7h2.35v2.35h-2.35zM202.9 117.8h2.35v2.35h-2.35zM203.4 117.8h2.35v2.35h-2.35zM203.9 118.0h2.35v2.35h-2.35zM204.3 118.0h2.35v2.35h-2.35zM204.8 117.9h2.35v2.35h-2.35zM205.2 118.1h2.35v2.35h-2.35zM205.7 118.1h2.35v2.35h-2.35zM206.2 118.1h2.35v2.35h-2.35zM206.6 118.0h2.35v2.35h-2.35zM207.1 118.2h2.35v2.35h-2.35zM207.6 118.3h2.35v2.35h-2.35zM208.0 118.2h2.35v2.35h-2.35zM208.5 118.2h2.35v2.35h-2.35zM209.0 118.3h2.35v2.35h-2.35zM209.4 118.3h2.35v2.35h-2.35zM209.9 118.3h2.35v2.35h-2.35zM210.4 118.5h2.35v2.35h-2.35zM210.8 118.4h2.35v2.35h-2.35zM211.3 118.5h2.35v2.35h-2.35zM211.8 118.6h2.35v2.35h-2.35zM212.2 118.6h2.35v2.35h-2.35zM212.7 118.6h2.35v2.35h-2.35zM213.1 118.6h2.35v2.35h-2.35zM213.6 118.7h2.35v2.35h-2.35zM214.0 118.7h2.35v2.35h-2.35zM214.5 118.8h2.35v2.35h-2.35zM215.0 118.8h2.35v2.35h-2.35zM215.4 118.9h2.35v2.35h-2.35zM215.9 118.9h2.35v2.35h-2.35zM216.3 119.0h2.35v2.35h-2.35zM216.8 119.0h2.35v2.35h-2.35zM217.2 119.0h2.35v2.35h-2.35zM217.7 119.1h2.35v2.35h-2.35zM218.2 119.1h2.35v2.35h-2.35zM218.7 119.2h2.35v2.35h-2.35zM219.1 119.2h2.35v2.35h-2.35zM219.6 119.3h2.35v2.35h-2.35zM220.0 119.3h2.35v2.35h-2.35zM220.5 119.4h2.35v2.35h-2.35zM220.9 119.4h2.35v2.35h-2.35zM221.4 119.5h2.35v2.35h-2.35zM221.9 119.5h2.35v2.35h-2.35zM222.3 119.6h2.35v2.35h-2.35zM222.8 119.6h2.35v2.35h-2.35zM223.2 119.7h2.35v2.35h-2.35zM223.7 119.7h2.35v2.35h-2.35zM224.1 119.8h2.35v2.35h-2.35zM224.6 119.8h2.35v2.35h-2.35zM225.1 119.9h2.35v2.35h-2.35zM225.5 119.9h2.35v2.35h-2.35zM226.0 120.0h2.35v2.35h-2.35zM226.4 120.0h2.35v2.35h-2.35zM226.9 120.1h2.35v2.35h-2.35zM227.3 120.1h2.35v2.35h-2.35zM227.8 120.2h2.35v2.35h-2.35zM228.2 120.2h2.35v2.35h-2.35zM228.7 120.3h2.35v2.35h-2.35zM229.2 120.4h2.35v2.35h-2.35zM229.6 120.4h2.35v2.35h-2.35zM230.1 120.5h2.35v2.35h-2.35zM230.5 120.5h2.35v2.35h-2.35zM231.0 120.6h2.35v2.35h-2.35zM231.4 120.6h2.35v2.35h-2.35zM231.9 120.7h2.35v2.35h-2.35zM232.4 120.8h2.35v2.35h-2.35zM232.8 120.8h2.35v2.35h-2.35zM233.3 120.9h2.35v2.35h-2.35zM233.7 120.9h2.35v2.35h-2.35zM234.2 121.0h2.35v2.35h-2.35zM234.6 121.1h2.35v2.35h-2.35zM235.1 121.1h2.35v2.35h-2.35zM235.5 121.2h2.35v2.35h-2.35zM236.0 121.2h2.35v2.35h-2.35zM236.4 121.3h2.35v2.35h-2.35zM236.9 121.4h2.35v2.35h-2.35zM237.3 121.4h2.35v2.35h-2.35zM237.8 121.5h2.35v2.35h-2.35zM238.2 121.6h2.35v2.35h-2.35zM238.7 121.6h2.35v2.35h-2.35zM239.1 121.7h2.35v2.35h-2.35zM239.6 121.7h2.35v2.35h-2.35zM240.1 121.8h2.35v2.35h-2.35zM240.5 121.9h2.35v2.35h-2.35zM241.0 121.9h2.35v2.35h-2.35zM241.4 122.0h2.35v2.35h-2.35zM241.9 122.1h2.35v2.35h-2.35zM242.3 122.1h2.35v2.35h-2.35zM242.8 122.2h2.35v2.35h-2.35zM243.2 122.3h2.35v2.35h-2.35zM243.7 122.3h2.35v2.35h-2.35zM244.1 122.4h2.35v2.35h-2.35zM244.6 122.5h2.35v2.35h-2.35zM245.0 122.6h2.35v2.35h-2.35zM245.5 122.6h2.35v2.35h-2.35zM245.9 122.7h2.35v2.35h-2.35zM246.4 122.8h2.35v2.35h-2.35zM246.8 122.8h2.35v2.35h-2.35zM247.3 122.9h2.35v2.35h-2.35zM247.7 123.0h2.35v2.35h-2.35zM248.2 123.1h2.35v2.35h-2.35zM248.7 123.1h2.35v2.35h-2.35zM249.1 123.2h2.35v2.35h-2.35zM249.6 123.3h2.35v2.35h-2.35zM250.0 123.4h2.35v2.35h-2.35zM250.5 123.4h2.35v2.35h-2.35zM250.9 123.5h2.35v2.35h-2.35zM251.4 123.6h2.35v2.35h-2.35zM251.8 123.7h2.35v2.35h-2.35zM252.3 123.7h2.35v2.35h-2.35zM252.7 123.8h2.35v2.35h-2.35zM253.2 123.9h2.35v2.35h-2.35zM253.6 124.0h2.35v2.35h-2.35zM254.1 124.1h2.35v2.35h-2.35zM254.5 124.1h2.35v2.35h-2.35zM255.0 124.2h2.35v2.35h-2.35zM255.4 124.3h2.35v2.35h-2.35zM255.9 124.4h2.35v2.35h-2.35zM256.3 124.5h2.35v2.35h-2.35zM256.8 124.5h2.35v2.35h-2.35zM257.2 124.6h2.35v2.35h-2.35zM257.7 124.7h2.35v2.35h-2.35zM258.1 124.8h2.35v2.35h-2.35zM258.6 124.9h2.35v2.35h-2.35zM259.0 125.0h2.35v2.35h-2.35zM259.5 125.0h2.35v2.35h-2.35zM259.9 125.1h2.35v2.35h-2.35zM260.4 125.2h2.35v2.35h-2.35zM260.8 125.3h2.35v2.35h-2.35zM261.3 125.4h2.35v2.35h-2.35zM261.7 125.5h2.35v2.35h-2.35zM262.2 125.6h2.35v2.35h-2.35zM262.6 125.6h2.35v2.35h-2.35zM263.1 125.7h2.35v2.35h-2.35zM263.5 125.8h2.35v2.35h-2.35zM264.0 125.9h2.35v2.35h-2.35zM264.4 126.0h2.35v2.35h-2.35zM264.9 126.1h2.35v2.35h-2.35zM265.3 126.2h2.35v2.35h-2.35zM265.8 126.3h2.35v2.35h-2.35zM266.2 126.4h2.35v2.35h-2.35zM266.7 126.5h2.35v2.35h-2.35zM267.1 126.5h2.35v2.35h-2.35zM267.6 126.6h2.35v2.35h-2.35zM268.1 126.7h2.35v2.35h-2.35zM268.5 126.8h2.35v2.35h-2.35zM269.0 126.9h2.35v2.35h-2.35zM269.4 127.0h2.35v2.35h-2.35zM269.9 127.1h2.35v2.35h-2.35zM270.3 127.2h2.35v2.35h-2.35zM270.8 127.3h2.35v2.35h-2.35zM271.2 127.4h2.35v2.35h-2.35zM271.7 127.5h2.35v2.35h-2.35zM272.1 127.6h2.35v2.35h-2.35zM272.6 127.7h2.35v2.35h-2.35zM273.0 127.8h2.35v2.35h-2.35zM273.5 127.9h2.35v2.35h-2.35zM273.9 128.0h2.35v2.35h-2.35zM274.4 128.1h2.35v2.35h-2.35zM274.8 128.2h2.35v2.35h-2.35zM275.3 128.3h2.35v2.35h-2.35zM275.7 128.4h2.35v2.35h-2.35zM276.2 128.5h2.35v2.35h-2.35zM276.6 128.6h2.35v2.35h-2.35zM277.1 128.7h2.35v2.35h-2.35zM277.5 128.8h2.35v2.35h-2.35z" stroke="#8a8a8a" stroke-width="0.55" fill="none"/>
</g>
<g clip-path="url(#cA2)">
<path d="M407.8 88.7L409.3 88.9L410.8 89.1L412.3 89.3L413.8 89.6L415.3 89.8L416.8 90.0L418.3 90.3L419.8 90.6L421.3 90.8L422.8 91.1L424.3 91.4L425.8 91.7L427.3 92.0L428.8 92.3L430.3 92.7L431.8 93.0L433.3 93.3L434.8 93.7L436.3 94.1L437.8 94.4L439.3 94.8L440.8 95.2L442.3 95.6L443.8 96.1L445.3 96.5L446.8 96.9L448.3 97.4L449.8 97.9L451.3 98.3L452.8 98.8L454.3 99.3L455.8 99.8L457.3 100.3L458.8 100.8L460.3 101.4L461.8 101.9L463.3 102.5L464.8 103.0L466.3 103.6L467.8 104.1L469.3 104.7L470.8 105.2L472.3 105.8L473.8 106.4L475.3 107.0L476.8 107.6L478.3 108.2L479.8 108.7L481.3 109.3L482.8 109.9L484.3 110.5L485.8 111.1L487.3 111.7L488.8 112.3L490.3 112.9L491.8 113.5L493.3 114.1L494.8 114.7L496.3 115.3L497.8 115.9L499.3 116.5L500.8 117.1L502.3 117.6L503.8 118.2L505.3 118.8L506.8 119.4L508.3 119.9L509.8 120.5L511.3 121.0L512.8 121.6L514.3 122.1L515.8 122.6L517.3 123.2L518.8 123.7L520.3 124.2" stroke="#000" stroke-width="2.5" fill="none" stroke-linejoin="round"/>
<path d="M305.1 86.2h0M319.3 85.9h0M327.7 85.7h0M333.6 85.4h0M338.1 84.0h0M341.9 87.1h0M347.8 86.6h0M350.2 86.2h0M352.4 86.3h0M354.3 86.3h0M356.1 86.7h0M357.8 86.9h0M359.3 85.3h0M362.0 85.8h0M363.3 86.1h0M364.4 86.1h0M365.5 86.2h0M366.6 86.5h0M367.6 86.1h0M368.6 86.5h0M370.3 87.2h0M371.2 85.8h0M372.0 88.6h0M372.8 84.7h0M374.2 86.4h0M374.9 85.3h0M376.2 86.2h0M376.9 86.4h0M377.5 85.7h0M378.1 86.7h0M378.7 87.9h0M379.2 86.1h0M379.8 86.7h0M380.8 87.0h0M381.3 86.7h0M381.8 86.6h0M382.3 86.4h0M382.8 86.3h0M383.2 85.7h0M383.7 85.4h0M384.6 86.7h0M385.4 86.2h0M386.2 86.8h0M387.0 86.8h0M387.7 86.3h0M388.5 87.1h0M389.5 86.8h0M390.5 87.4h0M391.1 86.8h0M391.7 87.2h0M392.3 86.6h0M392.9 87.4h0M393.5 87.8h0M394.0 86.9h0M394.5 87.9h0M395.1 86.7h0M395.6 87.1h0M396.1 86.8h0M396.5 87.9h0M397.0 87.6h0M397.5 87.2h0M398.2 87.4h0M398.8 87.6h0M399.4 87.8h0M400.0 87.7h0M400.6 88.1h0M401.2 88.2h0M402.1 87.6h0M402.7 88.4h0M403.4 88.6h0M403.9 88.3h0M404.4 88.7h0M404.9 88.3h0M405.3 88.3h0M406.0 88.4h0M406.5 88.6h0M407.1 88.9h0M407.7 89.0h0M408.2 88.9h0M408.9 88.6h0M409.4 89.2h0M409.9 88.9h0M410.4 89.0h0M410.9 88.9h0M411.4 89.4h0M411.8 89.5h0M412.4 89.1h0M413.0 89.4h0M413.6 89.9h0M414.1 89.3h0M414.7 89.7h0M415.2 89.3h0M415.6 89.7h0M416.2 90.3h0M416.6 89.9h0M417.2 90.5h0M417.7 89.9h0M418.3 90.5h0M418.8 90.5h0M419.3 90.1h0M419.7 90.5h0M420.2 90.6h0M420.8 90.6h0M421.4 90.8h0M421.9 91.2h0M422.5 90.7h0M423.0 91.5h0M423.5 91.5h0M424.0 91.6h0M424.5 91.2h0M425.0 91.4h0M425.5 91.8h0M425.9 91.9h0M426.4 92.0h0M426.9 91.8h0M427.4 92.1h0M427.9 92.1h0M428.4 92.1h0M428.8 92.7h0M429.3 92.7h0M429.8 92.5h0M430.3 92.6h0M430.8 92.8h0M431.3 92.7h0M431.8 93.2h0M432.2 93.3h0M432.7 93.3h0M433.2 93.5h0M433.6 93.6h0M434.1 93.5h0M434.6 93.5h0M435.0 93.6h0M435.5 93.8h0M436.0 93.9h0M436.5 94.1h0M437.0 94.2h0M437.4 94.4h0M437.9 94.5h0M438.3 94.6h0M438.8 94.8h0M439.3 94.9h0M439.7 94.8h0M440.2 95.1h0M440.6 95.2h0M441.1 95.2h0M441.6 95.4h0M442.0 95.7h0M442.5 95.6h0M443.0 95.8h0M443.5 95.9h0M443.9 96.1h0M444.4 96.2h0M444.8 96.4h0M445.3 96.5h0M445.8 96.6h0M446.2 96.7h0M446.7 96.9h0M447.2 97.0h0M447.6 97.2h0M448.1 97.4h0M448.5 97.4h0M449.0 97.6h0M449.4 97.8h0M449.9 97.9h0M450.4 98.1h0M450.8 98.2h0M451.3 98.3h0M451.8 98.5h0M452.2 98.6h0M452.7 98.8h0M453.1 98.9h0M453.6 99.1h0M454.1 99.2h0M454.5 99.4h0M455.0 99.5h0M455.4 99.7h0M455.9 99.9h0M456.4 100.0h0M456.8 100.2h0M457.3 100.3h0M457.7 100.5h0M458.2 100.6h0M458.6 100.8h0M459.1 101.0h0M459.6 101.1h0M460.0 101.3h0M460.5 101.4h0M460.9 101.6h0M461.4 101.8h0M461.8 101.9h0M462.3 102.1h0M462.7 102.2h0M463.2 102.4h0M463.6 102.6h0M464.1 102.7h0M464.6 102.9h0M465.0 103.1h0M465.5 103.3h0M465.9 103.4h0M466.4 103.6h0M466.9 103.8h0M467.3 103.9h0M467.8 104.1h0M468.2 104.3h0M468.7 104.4h0M469.1 104.6h0M469.6 104.8h0M470.0 105.0h0M470.5 105.1h0M470.9 105.3h0M471.4 105.5h0M471.9 105.7h0M472.3 105.8h0M472.8 106.0h0M473.2 106.2h0M473.7 106.3h0M474.1 106.5h0M474.6 106.7h0M475.0 106.9h0M475.5 107.1h0M475.9 107.2h0M476.4 107.4h0M476.8 107.6h0M477.3 107.8h0M477.8 107.9h0M478.2 108.1h0M478.7 108.3h0M479.1 108.5h0M479.6 108.7h0M480.0 108.8h0M480.5 109.0h0M480.9 109.2h0M481.4 109.4h0M481.8 109.6h0M482.3 109.7h0M482.7 109.9h0M483.2 110.1h0M483.6 110.3h0M484.1 110.5h0M484.6 110.6h0M485.0 110.8h0M485.5 111.0h0M485.9 111.2h0M486.4 111.4h0M486.8 111.5h0M487.3 111.7h0M487.7 111.9h0M488.2 112.1h0M488.6 112.3h0M489.1 112.4h0M489.5 112.6h0M490.0 112.8h0M490.4 113.0h0M490.9 113.1h0M491.3 113.3h0M491.8 113.5h0M492.2 113.7h0M492.7 113.9h0M493.1 114.0h0M493.6 114.2h0M494.0 114.4h0M494.5 114.6h0M494.9 114.8h0M495.4 114.9h0M495.8 115.1h0M496.3 115.3h0M496.8 115.5h0M497.2 115.7h0M497.7 115.8h0M498.1 116.0h0M498.6 116.2h0M499.0 116.4h0M499.5 116.5h0M499.9 116.7h0M500.4 116.9h0M500.8 117.1h0M501.3 117.2h0M501.7 117.4h0M502.2 117.6h0M502.6 117.8h0M503.1 117.9h0M503.5 118.1h0M504.0 118.3h0M504.4 118.5h0M504.9 118.6h0M505.3 118.8h0M505.8 119.0h0M506.2 119.1h0M506.7 119.3h0M507.1 119.5h0M507.6 119.6h0M508.0 119.8h0M508.5 120.0h0M508.9 120.2h0M509.4 120.3h0M509.8 120.5h0M510.3 120.7h0M510.7 120.8h0M511.2 121.0h0M511.6 121.1h0M512.1 121.3h0M512.5 121.5h0M513.0 121.6h0M513.4 121.8h0M513.9 122.0h0M514.3 122.1h0M514.8 122.3h0M515.2 122.4h0M515.7 122.6h0M516.1 122.8h0M516.6 122.9h0M517.0 123.1h0M517.5 123.2h0M517.9 123.4h0M518.4 123.5h0M518.8 123.7h0M519.3 123.8h0M519.7 124.0h0M520.2 124.1h0" stroke="#000" stroke-width="2.7" stroke-linecap="round" fill="none"/>
<path d="M407.8 83.3L409.3 83.8L410.8 84.4L412.3 84.9L413.8 85.4L415.3 86.0L416.8 86.5L418.3 87.1L419.8 87.6L421.3 88.1L422.8 88.7L424.3 89.2L425.8 89.8L427.3 90.3L428.8 90.9L430.3 91.4L431.8 92.0L433.3 92.5L434.8 93.1L436.3 93.6L437.8 94.2L439.3 94.7L440.8 95.3L442.3 95.8L443.8 96.4L445.3 96.9L446.8 97.5L448.3 98.1L449.8 98.6L451.3 99.2L452.8 99.7L454.3 100.3L455.8 100.9L457.3 101.4L458.8 102.0L460.3 102.5L461.8 103.1L463.3 103.7L464.8 104.2L466.3 104.8L467.8 105.4L469.3 105.9L470.8 106.5L472.3 107.1L473.8 107.6L475.3 108.2L476.8 108.8L478.3 109.3L479.8 109.9L481.3 110.5L482.8 111.0L484.3 111.6L485.8 112.2L487.3 112.7L488.8 113.3L490.3 113.9L491.8 114.4L493.3 115.0L494.8 115.6L496.3 116.1L497.8 116.7L499.3 117.3L500.8 117.8L502.3 118.4L503.8 119.0L505.3 119.5L506.8 120.1L508.3 120.7L509.8 121.2L511.3 121.8L512.8 122.3L514.3 122.9L515.8 123.5L517.3 124.0L518.8 124.6L520.3 125.2" stroke="#f00" stroke-width="3.1" fill="none" stroke-linejoin="round"/>
<path d="M303.8 46.9h2.7v2.7h-2.7zM318.0 51.6h2.7v2.7h-2.7zM326.3 53.4h2.7v2.7h-2.7zM332.2 55.9h2.7v2.7h-2.7zM336.8 59.9h2.7v2.7h-2.7zM340.5 60.6h2.7v2.7h-2.7zM346.4 61.5h2.7v2.7h-2.7zM348.9 64.1h2.7v2.7h-2.7zM351.0 63.1h2.7v2.7h-2.7zM353.0 63.8h2.7v2.7h-2.7zM354.8 64.0h2.7v2.7h-2.7zM356.4 66.3h2.7v2.7h-2.7zM357.9 65.2h2.7v2.7h-2.7zM360.7 66.2h2.7v2.7h-2.7zM361.9 69.6h2.7v2.7h-2.7zM363.1 68.0h2.7v2.7h-2.7zM364.2 69.1h2.7v2.7h-2.7zM365.2 66.3h2.7v2.7h-2.7zM366.3 68.6h2.7v2.7h-2.7zM367.2 68.8h2.7v2.7h-2.7zM369.0 69.7h2.7v2.7h-2.7zM369.8 69.9h2.7v2.7h-2.7zM370.6 70.3h2.7v2.7h-2.7zM371.4 69.6h2.7v2.7h-2.7zM372.9 70.4h2.7v2.7h-2.7zM373.6 71.6h2.7v2.7h-2.7zM374.9 70.4h2.7v2.7h-2.7zM375.5 71.2h2.7v2.7h-2.7zM376.1 72.2h2.7v2.7h-2.7zM376.7 72.6h2.7v2.7h-2.7zM377.3 71.8h2.7v2.7h-2.7zM377.9 72.3h2.7v2.7h-2.7zM378.4 72.7h2.7v2.7h-2.7zM379.5 71.9h2.7v2.7h-2.7zM380.0 72.7h2.7v2.7h-2.7zM380.5 72.9h2.7v2.7h-2.7zM381.0 73.3h2.7v2.7h-2.7zM381.4 73.2h2.7v2.7h-2.7zM381.9 73.4h2.7v2.7h-2.7zM382.3 73.6h2.7v2.7h-2.7zM383.2 74.6h2.7v2.7h-2.7zM384.1 73.6h2.7v2.7h-2.7zM384.9 74.6h2.7v2.7h-2.7zM385.6 75.1h2.7v2.7h-2.7zM386.4 75.1h2.7v2.7h-2.7zM387.1 76.0h2.7v2.7h-2.7zM388.1 75.1h2.7v2.7h-2.7zM389.1 76.0h2.7v2.7h-2.7zM389.8 76.0h2.7v2.7h-2.7zM390.4 76.4h2.7v2.7h-2.7zM391.0 76.6h2.7v2.7h-2.7zM391.5 76.6h2.7v2.7h-2.7zM392.1 76.3h2.7v2.7h-2.7zM392.7 77.8h2.7v2.7h-2.7zM393.2 77.3h2.7v2.7h-2.7zM393.7 77.1h2.7v2.7h-2.7zM394.2 77.2h2.7v2.7h-2.7zM394.7 78.0h2.7v2.7h-2.7zM395.2 77.4h2.7v2.7h-2.7zM395.7 78.7h2.7v2.7h-2.7zM396.1 78.1h2.7v2.7h-2.7zM396.8 79.1h2.7v2.7h-2.7zM397.5 78.3h2.7v2.7h-2.7zM398.1 79.5h2.7v2.7h-2.7zM398.7 79.4h2.7v2.7h-2.7zM399.3 79.1h2.7v2.7h-2.7zM399.9 79.4h2.7v2.7h-2.7zM400.8 80.5h2.7v2.7h-2.7zM401.3 79.9h2.7v2.7h-2.7zM402.0 80.0h2.7v2.7h-2.7zM402.5 80.1h2.7v2.7h-2.7zM403.0 80.6h2.7v2.7h-2.7zM403.5 81.4h2.7v2.7h-2.7zM404.0 81.6h2.7v2.7h-2.7zM404.6 81.2h2.7v2.7h-2.7zM405.2 81.8h2.7v2.7h-2.7zM405.8 81.4h2.7v2.7h-2.7zM406.3 82.2h2.7v2.7h-2.7zM406.9 81.8h2.7v2.7h-2.7zM407.6 82.5h2.7v2.7h-2.7zM408.1 82.3h2.7v2.7h-2.7zM408.6 82.9h2.7v2.7h-2.7zM409.1 83.2h2.7v2.7h-2.7zM409.5 83.4h2.7v2.7h-2.7zM410.0 83.0h2.7v2.7h-2.7zM410.5 83.2h2.7v2.7h-2.7zM411.0 83.4h2.7v2.7h-2.7zM411.7 84.1h2.7v2.7h-2.7zM412.2 83.7h2.7v2.7h-2.7zM412.7 84.4h2.7v2.7h-2.7zM413.3 84.0h2.7v2.7h-2.7zM413.8 84.8h2.7v2.7h-2.7zM414.3 84.7h2.7v2.7h-2.7zM414.8 85.1h2.7v2.7h-2.7zM415.3 84.9h2.7v2.7h-2.7zM415.8 85.6h2.7v2.7h-2.7zM416.3 85.8h2.7v2.7h-2.7zM416.9 86.0h2.7v2.7h-2.7zM417.4 86.1h2.7v2.7h-2.7zM417.9 86.3h2.7v2.7h-2.7zM418.4 86.6h2.7v2.7h-2.7zM418.8 86.5h2.7v2.7h-2.7zM419.4 86.6h2.7v2.7h-2.7zM420.0 86.8h2.7v2.7h-2.7zM420.6 86.7h2.7v2.7h-2.7zM421.1 86.9h2.7v2.7h-2.7zM421.6 87.2h2.7v2.7h-2.7zM422.2 87.3h2.7v2.7h-2.7zM422.7 87.9h2.7v2.7h-2.7zM423.2 87.7h2.7v2.7h-2.7zM423.7 88.3h2.7v2.7h-2.7zM424.1 88.4h2.7v2.7h-2.7zM424.6 88.3h2.7v2.7h-2.7zM425.1 88.8h2.7v2.7h-2.7zM425.6 88.9h2.7v2.7h-2.7zM426.1 89.0h2.7v2.7h-2.7zM426.5 89.3h2.7v2.7h-2.7zM427.0 89.1h2.7v2.7h-2.7zM427.5 89.3h2.7v2.7h-2.7zM427.9 89.6h2.7v2.7h-2.7zM428.4 90.1h2.7v2.7h-2.7zM428.9 90.1h2.7v2.7h-2.7zM429.4 90.1h2.7v2.7h-2.7zM429.9 90.6h2.7v2.7h-2.7zM430.4 90.8h2.7v2.7h-2.7zM430.9 90.9h2.7v2.7h-2.7zM431.3 90.9h2.7v2.7h-2.7zM431.8 90.9h2.7v2.7h-2.7zM432.3 91.1h2.7v2.7h-2.7zM432.8 91.4h2.7v2.7h-2.7zM433.2 91.4h2.7v2.7h-2.7zM433.7 91.9h2.7v2.7h-2.7zM434.2 92.1h2.7v2.7h-2.7zM434.6 92.2h2.7v2.7h-2.7zM435.1 92.3h2.7v2.7h-2.7zM435.6 92.3h2.7v2.7h-2.7zM436.1 92.8h2.7v2.7h-2.7zM436.5 92.8h2.7v2.7h-2.7zM437.0 92.9h2.7v2.7h-2.7zM437.5 93.0h2.7v2.7h-2.7zM437.9 93.3h2.7v2.7h-2.7zM438.4 93.7h2.7v2.7h-2.7zM438.8 93.7h2.7v2.7h-2.7zM439.3 93.8h2.7v2.7h-2.7zM439.8 94.1h2.7v2.7h-2.7zM440.2 94.1h2.7v2.7h-2.7zM440.7 94.3h2.7v2.7h-2.7zM441.2 94.5h2.7v2.7h-2.7zM441.6 94.7h2.7v2.7h-2.7zM442.1 94.9h2.7v2.7h-2.7zM442.6 95.1h2.7v2.7h-2.7zM443.0 95.3h2.7v2.7h-2.7zM443.5 95.4h2.7v2.7h-2.7zM444.0 95.6h2.7v2.7h-2.7zM444.4 95.7h2.7v2.7h-2.7zM444.9 95.9h2.7v2.7h-2.7zM445.4 96.1h2.7v2.7h-2.7zM445.8 96.2h2.7v2.7h-2.7zM446.3 96.5h2.7v2.7h-2.7zM446.7 96.6h2.7v2.7h-2.7zM447.2 96.8h2.7v2.7h-2.7zM447.6 97.0h2.7v2.7h-2.7zM448.1 97.1h2.7v2.7h-2.7zM448.6 97.3h2.7v2.7h-2.7zM449.0 97.5h2.7v2.7h-2.7zM449.5 97.7h2.7v2.7h-2.7zM449.9 97.8h2.7v2.7h-2.7zM450.4 98.0h2.7v2.7h-2.7zM450.9 98.2h2.7v2.7h-2.7zM451.3 98.3h2.7v2.7h-2.7zM451.8 98.5h2.7v2.7h-2.7zM452.3 98.7h2.7v2.7h-2.7zM452.7 98.9h2.7v2.7h-2.7zM453.2 99.0h2.7v2.7h-2.7zM453.6 99.2h2.7v2.7h-2.7zM454.1 99.4h2.7v2.7h-2.7zM454.5 99.5h2.7v2.7h-2.7zM455.0 99.7h2.7v2.7h-2.7zM455.5 99.9h2.7v2.7h-2.7zM455.9 100.1h2.7v2.7h-2.7zM456.4 100.2h2.7v2.7h-2.7zM456.8 100.4h2.7v2.7h-2.7zM457.3 100.6h2.7v2.7h-2.7zM457.7 100.7h2.7v2.7h-2.7zM458.2 100.9h2.7v2.7h-2.7zM458.7 101.1h2.7v2.7h-2.7zM459.1 101.3h2.7v2.7h-2.7zM459.6 101.4h2.7v2.7h-2.7zM460.0 101.6h2.7v2.7h-2.7zM460.5 101.8h2.7v2.7h-2.7zM460.9 101.9h2.7v2.7h-2.7zM461.4 102.1h2.7v2.7h-2.7zM461.8 102.3h2.7v2.7h-2.7zM462.3 102.4h2.7v2.7h-2.7zM462.7 102.6h2.7v2.7h-2.7zM463.2 102.8h2.7v2.7h-2.7zM463.7 103.0h2.7v2.7h-2.7zM464.1 103.1h2.7v2.7h-2.7zM464.6 103.3h2.7v2.7h-2.7zM465.1 103.5h2.7v2.7h-2.7zM465.5 103.7h2.7v2.7h-2.7zM466.0 103.8h2.7v2.7h-2.7zM466.4 104.0h2.7v2.7h-2.7zM466.9 104.2h2.7v2.7h-2.7zM467.3 104.3h2.7v2.7h-2.7zM467.8 104.5h2.7v2.7h-2.7zM468.2 104.7h2.7v2.7h-2.7zM468.7 104.9h2.7v2.7h-2.7zM469.1 105.0h2.7v2.7h-2.7zM469.6 105.2h2.7v2.7h-2.7zM470.1 105.4h2.7v2.7h-2.7zM470.5 105.5h2.7v2.7h-2.7zM471.0 105.7h2.7v2.7h-2.7zM471.4 105.9h2.7v2.7h-2.7zM471.9 106.0h2.7v2.7h-2.7zM472.3 106.2h2.7v2.7h-2.7zM472.8 106.4h2.7v2.7h-2.7zM473.2 106.6h2.7v2.7h-2.7zM473.7 106.7h2.7v2.7h-2.7zM474.1 106.9h2.7v2.7h-2.7zM474.6 107.1h2.7v2.7h-2.7zM475.0 107.2h2.7v2.7h-2.7zM475.5 107.4h2.7v2.7h-2.7zM475.9 107.6h2.7v2.7h-2.7zM476.4 107.8h2.7v2.7h-2.7zM476.9 107.9h2.7v2.7h-2.7zM477.3 108.1h2.7v2.7h-2.7zM477.8 108.3h2.7v2.7h-2.7zM478.2 108.4h2.7v2.7h-2.7zM478.7 108.6h2.7v2.7h-2.7zM479.1 108.8h2.7v2.7h-2.7zM479.6 109.0h2.7v2.7h-2.7zM480.0 109.1h2.7v2.7h-2.7zM480.5 109.3h2.7v2.7h-2.7zM480.9 109.5h2.7v2.7h-2.7zM481.4 109.6h2.7v2.7h-2.7zM481.8 109.8h2.7v2.7h-2.7zM482.3 110.0h2.7v2.7h-2.7zM482.7 110.2h2.7v2.7h-2.7zM483.2 110.3h2.7v2.7h-2.7zM483.7 110.5h2.7v2.7h-2.7zM484.1 110.7h2.7v2.7h-2.7zM484.6 110.8h2.7v2.7h-2.7zM485.0 111.0h2.7v2.7h-2.7zM485.5 111.2h2.7v2.7h-2.7zM485.9 111.4h2.7v2.7h-2.7zM486.4 111.5h2.7v2.7h-2.7zM486.8 111.7h2.7v2.7h-2.7zM487.3 111.9h2.7v2.7h-2.7zM487.7 112.0h2.7v2.7h-2.7zM488.2 112.2h2.7v2.7h-2.7zM488.6 112.4h2.7v2.7h-2.7zM489.1 112.6h2.7v2.7h-2.7zM489.5 112.7h2.7v2.7h-2.7zM490.0 112.9h2.7v2.7h-2.7zM490.4 113.1h2.7v2.7h-2.7zM490.9 113.2h2.7v2.7h-2.7zM491.3 113.4h2.7v2.7h-2.7zM491.8 113.6h2.7v2.7h-2.7zM492.2 113.7h2.7v2.7h-2.7zM492.7 113.9h2.7v2.7h-2.7zM493.1 114.1h2.7v2.7h-2.7zM493.6 114.3h2.7v2.7h-2.7zM494.0 114.4h2.7v2.7h-2.7zM494.5 114.6h2.7v2.7h-2.7zM495.0 114.8h2.7v2.7h-2.7zM495.4 114.9h2.7v2.7h-2.7zM495.9 115.1h2.7v2.7h-2.7zM496.3 115.3h2.7v2.7h-2.7zM496.8 115.5h2.7v2.7h-2.7zM497.2 115.6h2.7v2.7h-2.7zM497.7 115.8h2.7v2.7h-2.7zM498.1 116.0h2.7v2.7h-2.7zM498.6 116.1h2.7v2.7h-2.7zM499.0 116.3h2.7v2.7h-2.7zM499.5 116.5h2.7v2.7h-2.7zM499.9 116.6h2.7v2.7h-2.7zM500.4 116.8h2.7v2.7h-2.7zM500.8 117.0h2.7v2.7h-2.7zM501.3 117.2h2.7v2.7h-2.7zM501.7 117.3h2.7v2.7h-2.7zM502.2 117.5h2.7v2.7h-2.7zM502.6 117.7h2.7v2.7h-2.7zM503.1 117.8h2.7v2.7h-2.7zM503.5 118.0h2.7v2.7h-2.7zM504.0 118.2h2.7v2.7h-2.7zM504.4 118.3h2.7v2.7h-2.7zM504.9 118.5h2.7v2.7h-2.7zM505.3 118.7h2.7v2.7h-2.7zM505.8 118.9h2.7v2.7h-2.7zM506.2 119.0h2.7v2.7h-2.7zM506.7 119.2h2.7v2.7h-2.7zM507.1 119.4h2.7v2.7h-2.7zM507.6 119.5h2.7v2.7h-2.7zM508.0 119.7h2.7v2.7h-2.7zM508.5 119.9h2.7v2.7h-2.7zM508.9 120.0h2.7v2.7h-2.7zM509.4 120.2h2.7v2.7h-2.7zM509.8 120.4h2.7v2.7h-2.7zM510.3 120.6h2.7v2.7h-2.7zM510.7 120.7h2.7v2.7h-2.7zM511.2 120.9h2.7v2.7h-2.7zM511.6 121.1h2.7v2.7h-2.7zM512.1 121.2h2.7v2.7h-2.7zM512.5 121.4h2.7v2.7h-2.7zM513.0 121.6h2.7v2.7h-2.7zM513.4 121.7h2.7v2.7h-2.7zM513.9 121.9h2.7v2.7h-2.7zM514.3 122.1h2.7v2.7h-2.7zM514.8 122.3h2.7v2.7h-2.7zM515.2 122.4h2.7v2.7h-2.7zM515.7 122.6h2.7v2.7h-2.7zM516.1 122.8h2.7v2.7h-2.7zM516.6 122.9h2.7v2.7h-2.7zM517.0 123.1h2.7v2.7h-2.7zM517.5 123.3h2.7v2.7h-2.7zM517.9 123.4h2.7v2.7h-2.7zM518.4 123.6h2.7v2.7h-2.7zM518.8 123.8h2.7v2.7h-2.7z" fill="#f00"/>
<path d="M432.8 97.5L434.3 98.0L435.8 98.6L437.3 99.2L438.8 99.8L440.3 100.3L441.8 100.9L443.3 101.5L444.8 102.1L446.3 102.6L447.8 103.2L449.3 103.8L450.8 104.4L452.3 104.9L453.8 105.5L455.3 106.1L456.8 106.6L458.3 107.2L459.8 107.8L461.3 108.3L462.8 108.9L464.3 109.4L465.8 110.0L467.3 110.5L468.8 111.1L470.3 111.6L471.8 112.2L473.3 112.7L474.8 113.2L476.3 113.8L477.8 114.3L479.3 114.8L480.8 115.3L482.3 115.9L483.8 116.4L485.3 116.9L486.8 117.4L488.3 117.9L489.8 118.4L491.3 118.9L492.8 119.3L494.3 119.8L495.8 120.3L497.3 120.7L498.8 121.2L500.3 121.7L501.8 122.1L503.3 122.5L504.8 123.0L506.3 123.4L507.8 123.8L509.3 124.2L510.8 124.6L512.3 125.0L513.8 125.4L515.3 125.8L516.8 126.2L518.3 126.5L519.8 126.9" stroke="#00f" stroke-width="3.0" fill="none" stroke-linejoin="round"/>
<path d="M303.8 51.1a1.35 1.35 0 1 0 2.7 0a1.35 1.35 0 1 0 -2.7 0M318.0 60.0a1.35 1.35 0 1 0 2.7 0a1.35 1.35 0 1 0 -2.7 0M326.3 57.3a1.35 1.35 0 1 0 2.7 0a1.35 1.35 0 1 0 -2.7 0M332.2 67.6a1.35 1.35 0 1 0 2.7 0a1.35 1.35 0 1 0 -2.7 0M336.8 65.0a1.35 1.35 0 1 0 2.7 0a1.35 1.35 0 1 0 -2.7 0M340.5 66.3a1.35 1.35 0 1 0 2.7 0a1.35 1.35 0 1 0 -2.7 0M346.4 72.8a1.35 1.35 0 1 0 2.7 0a1.35 1.35 0 1 0 -2.7 0M348.9 72.8a1.35 1.35 0 1 0 2.7 0a1.35 1.35 0 1 0 -2.7 0M351.0 73.4a1.35 1.35 0 1 0 2.7 0a1.35 1.35 0 1 0 -2.7 0M353.0 73.6a1.35 1.35 0 1 0 2.7 0a1.35 1.35 0 1 0 -2.7 0M354.8 74.5a1.35 1.35 0 1 0 2.7 0a1.35 1.35 0 1 0 -2.7 0M356.4 71.5a1.35 1.35 0 1 0 2.7 0a1.35 1.35 0 1 0 -2.7 0M357.9 73.9a1.35 1.35 0 1 0 2.7 0a1.35 1.35 0 1 0 -2.7 0M360.7 77.6a1.35 1.35 0 1 0 2.7 0a1.35 1.35 0 1 0 -2.7 0M361.9 74.6a1.35 1.35 0 1 0 2.7 0a1.35 1.35 0 1 0 -2.7 0M363.1 74.8a1.35 1.35 0 1 0 2.7 0a1.35 1.35 0 1 0 -2.7 0M364.2 74.9a1.35 1.35 0 1 0 2.7 0a1.35 1.35 0 1 0 -2.7 0M365.2 76.4a1.35 1.35 0 1 0 2.7 0a1.35 1.35 0 1 0 -2.7 0M366.3 74.2a1.35 1.35 0 1 0 2.7 0a1.35 1.35 0 1 0 -2.7 0M367.2 76.9a1.35 1.35 0 1 0 2.7 0a1.35 1.35 0 1 0 -2.7 0M369.0 77.1a1.35 1.35 0 1 0 2.7 0a1.35 1.35 0 1 0 -2.7 0M369.8 75.5a1.35 1.35 0 1 0 2.7 0a1.35 1.35 0 1 0 -2.7 0M370.6 76.4a1.35 1.35 0 1 0 2.7 0a1.35 1.35 0 1 0 -2.7 0M371.4 76.7a1.35 1.35 0 1 0 2.7 0a1.35 1.35 0 1 0 -2.7 0M372.9 78.9a1.35 1.35 0 1 0 2.7 0a1.35 1.35 0 1 0 -2.7 0M373.6 78.4a1.35 1.35 0 1 0 2.7 0a1.35 1.35 0 1 0 -2.7 0M374.9 78.1a1.35 1.35 0 1 0 2.7 0a1.35 1.35 0 1 0 -2.7 0M375.5 78.8a1.35 1.35 0 1 0 2.7 0a1.35 1.35 0 1 0 -2.7 0M376.1 75.4a1.35 1.35 0 1 0 2.7 0a1.35 1.35 0 1 0 -2.7 0M376.7 78.1a1.35 1.35 0 1 0 2.7 0a1.35 1.35 0 1 0 -2.7 0M377.3 77.7a1.35 1.35 0 1 0 2.7 0a1.35 1.35 0 1 0 -2.7 0M377.9 77.9a1.35 1.35 0 1 0 2.7 0a1.35 1.35 0 1 0 -2.7 0M378.4 79.5a1.35 1.35 0 1 0 2.7 0a1.35 1.35 0 1 0 -2.7 0M379.5 79.3a1.35 1.35 0 1 0 2.7 0a1.35 1.35 0 1 0 -2.7 0M380.0 80.9a1.35 1.35 0 1 0 2.7 0a1.35 1.35 0 1 0 -2.7 0M380.5 79.5a1.35 1.35 0 1 0 2.7 0a1.35 1.35 0 1 0 -2.7 0M381.0 79.2a1.35 1.35 0 1 0 2.7 0a1.35 1.35 0 1 0 -2.7 0M381.4 79.9a1.35 1.35 0 1 0 2.7 0a1.35 1.35 0 1 0 -2.7 0M381.9 78.8a1.35 1.35 0 1 0 2.7 0a1.35 1.35 0 1 0 -2.7 0M382.3 77.2a1.35 1.35 0 1 0 2.7 0a1.35 1.35 0 1 0 -2.7 0M383.2 80.3a1.35 1.35 0 1 0 2.7 0a1.35 1.35 0 1 0 -2.7 0M384.1 81.3a1.35 1.35 0 1 0 2.7 0a1.35 1.35 0 1 0 -2.7 0M384.9 81.1a1.35 1.35 0 1 0 2.7 0a1.35 1.35 0 1 0 -2.7 0M385.6 81.2a1.35 1.35 0 1 0 2.7 0a1.35 1.35 0 1 0 -2.7 0M386.4 81.4a1.35 1.35 0 1 0 2.7 0a1.35 1.35 0 1 0 -2.7 0M387.1 81.3a1.35 1.35 0 1 0 2.7 0a1.35 1.35 0 1 0 -2.7 0M388.1 81.6a1.35 1.35 0 1 0 2.7 0a1.35 1.35 0 1 0 -2.7 0M389.1 81.2a1.35 1.35 0 1 0 2.7 0a1.35 1.35 0 1 0 -2.7 0M389.8 82.3a1.35 1.35 0 1 0 2.7 0a1.35 1.35 0 1 0 -2.7 0M390.4 83.5a1.35 1.35 0 1 0 2.7 0a1.35 1.35 0 1 0 -2.7 0M391.0 82.7a1.35 1.35 0 1 0 2.7 0a1.35 1.35 0 1 0 -2.7 0M391.5 83.0a1.35 1.35 0 1 0 2.7 0a1.35 1.35 0 1 0 -2.7 0M392.1 83.7a1.35 1.35 0 1 0 2.7 0a1.35 1.35 0 1 0 -2.7 0M392.7 83.3a1.35 1.35 0 1 0 2.7 0a1.35 1.35 0 1 0 -2.7 0M393.2 82.8a1.35 1.35 0 1 0 2.7 0a1.35 1.35 0 1 0 -2.7 0M393.7 83.3a1.35 1.35 0 1 0 2.7 0a1.35 1.35 0 1 0 -2.7 0M394.2 83.9a1.35 1.35 0 1 0 2.7 0a1.35 1.35 0 1 0 -2.7 0M394.7 85.4a1.35 1.35 0 1 0 2.7 0a1.35 1.35 0 1 0 -2.7 0M395.2 84.1a1.35 1.35 0 1 0 2.7 0a1.35 1.35 0 1 0 -2.7 0M395.7 84.3a1.35 1.35 0 1 0 2.7 0a1.35 1.35 0 1 0 -2.7 0M396.1 84.6a1.35 1.35 0 1 0 2.7 0a1.35 1.35 0 1 0 -2.7 0M396.8 84.9a1.35 1.35 0 1 0 2.7 0a1.35 1.35 0 1 0 -2.7 0M397.5 84.5a1.35 1.35 0 1 0 2.7 0a1.35 1.35 0 1 0 -2.7 0M398.1 84.6a1.35 1.35 0 1 0 2.7 0a1.35 1.35 0 1 0 -2.7 0M398.7 87.1a1.35 1.35 0 1 0 2.7 0a1.35 1.35 0 1 0 -2.7 0M399.3 85.3a1.35 1.35 0 1 0 2.7 0a1.35 1.35 0 1 0 -2.7 0M399.9 86.5a1.35 1.35 0 1 0 2.7 0a1.35 1.35 0 1 0 -2.7 0M400.8 86.0a1.35 1.35 0 1 0 2.7 0a1.35 1.35 0 1 0 -2.7 0M401.3 85.7a1.35 1.35 0 1 0 2.7 0a1.35 1.35 0 1 0 -2.7 0M402.0 86.9a1.35 1.35 0 1 0 2.7 0a1.35 1.35 0 1 0 -2.7 0M402.5 86.9a1.35 1.35 0 1 0 2.7 0a1.35 1.35 0 1 0 -2.7 0M403.0 86.6a1.35 1.35 0 1 0 2.7 0a1.35 1.35 0 1 0 -2.7 0M403.5 87.5a1.35 1.35 0 1 0 2.7 0a1.35 1.35 0 1 0 -2.7 0M404.0 87.4a1.35 1.35 0 1 0 2.7 0a1.35 1.35 0 1 0 -2.7 0M404.6 87.4a1.35 1.35 0 1 0 2.7 0a1.35 1.35 0 1 0 -2.7 0M405.2 87.2a1.35 1.35 0 1 0 2.7 0a1.35 1.35 0 1 0 -2.7 0M405.8 88.1a1.35 1.35 0 1 0 2.7 0a1.35 1.35 0 1 0 -2.7 0M406.3 88.5a1.35 1.35 0 1 0 2.7 0a1.35 1.35 0 1 0 -2.7 0M406.9 88.6a1.35 1.35 0 1 0 2.7 0a1.35 1.35 0 1 0 -2.7 0M407.6 88.8a1.35 1.35 0 1 0 2.7 0a1.35 1.35 0 1 0 -2.7 0M408.1 89.2a1.35 1.35 0 1 0 2.7 0a1.35 1.35 0 1 0 -2.7 0M408.6 89.1a1.35 1.35 0 1 0 2.7 0a1.35 1.35 0 1 0 -2.7 0M409.1 89.2a1.35 1.35 0 1 0 2.7 0a1.35 1.35 0 1 0 -2.7 0M409.5 89.4a1.35 1.35 0 1 0 2.7 0a1.35 1.35 0 1 0 -2.7 0M410.0 88.8a1.35 1.35 0 1 0 2.7 0a1.35 1.35 0 1 0 -2.7 0M410.5 89.1a1.35 1.35 0 1 0 2.7 0a1.35 1.35 0 1 0 -2.7 0M411.0 89.9a1.35 1.35 0 1 0 2.7 0a1.35 1.35 0 1 0 -2.7 0M411.7 89.9a1.35 1.35 0 1 0 2.7 0a1.35 1.35 0 1 0 -2.7 0M412.2 90.5a1.35 1.35 0 1 0 2.7 0a1.35 1.35 0 1 0 -2.7 0M412.7 91.1a1.35 1.35 0 1 0 2.7 0a1.35 1.35 0 1 0 -2.7 0M413.3 90.3a1.35 1.35 0 1 0 2.7 0a1.35 1.35 0 1 0 -2.7 0M413.8 90.6a1.35 1.35 0 1 0 2.7 0a1.35 1.35 0 1 0 -2.7 0M414.3 91.4a1.35 1.35 0 1 0 2.7 0a1.35 1.35 0 1 0 -2.7 0M414.8 91.2a1.35 1.35 0 1 0 2.7 0a1.35 1.35 0 1 0 -2.7 0M415.3 91.7a1.35 1.35 0 1 0 2.7 0a1.35 1.35 0 1 0 -2.7 0M415.8 91.2a1.35 1.35 0 1 0 2.7 0a1.35 1.35 0 1 0 -2.7 0M416.3 91.8a1.35 1.35 0 1 0 2.7 0a1.35 1.35 0 1 0 -2.7 0M416.9 91.7a1.35 1.35 0 1 0 2.7 0a1.35 1.35 0 1 0 -2.7 0M417.4 92.5a1.35 1.35 0 1 0 2.7 0a1.35 1.35 0 1 0 -2.7 0M417.9 92.1a1.35 1.35 0 1 0 2.7 0a1.35 1.35 0 1 0 -2.7 0M418.4 92.9a1.35 1.35 0 1 0 2.7 0a1.35 1.35 0 1 0 -2.7 0M418.8 92.8a1.35 1.35 0 1 0 2.7 0a1.35 1.35 0 1 0 -2.7 0M419.4 92.9a1.35 1.35 0 1 0 2.7 0a1.35 1.35 0 1 0 -2.7 0M420.0 93.4a1.35 1.35 0 1 0 2.7 0a1.35 1.35 0 1 0 -2.7 0M420.6 93.0a1.35 1.35 0 1 0 2.7 0a1.35 1.35 0 1 0 -2.7 0M421.1 93.8a1.35 1.35 0 1 0 2.7 0a1.35 1.35 0 1 0 -2.7 0M421.6 93.9a1.35 1.35 0 1 0 2.7 0a1.35 1.35 0 1 0 -2.7 0M422.2 94.1a1.35 1.35 0 1 0 2.7 0a1.35 1.35 0 1 0 -2.7 0M422.7 94.1a1.35 1.35 0 1 0 2.7 0a1.35 1.35 0 1 0 -2.7 0M423.2 94.2a1.35 1.35 0 1 0 2.7 0a1.35 1.35 0 1 0 -2.7 0M423.7 94.7a1.35 1.35 0 1 0 2.7 0a1.35 1.35 0 1 0 -2.7 0M424.1 94.4a1.35 1.35 0 1 0 2.7 0a1.35 1.35 0 1 0 -2.7 0M424.6 95.0a1.35 1.35 0 1 0 2.7 0a1.35 1.35 0 1 0 -2.7 0M425.1 95.3a1.35 1.35 0 1 0 2.7 0a1.35 1.35 0 1 0 -2.7 0M425.6 95.3a1.35 1.35 0 1 0 2.7 0a1.35 1.35 0 1 0 -2.7 0M426.1 95.5a1.35 1.35 0 1 0 2.7 0a1.35 1.35 0 1 0 -2.7 0M426.5 95.5a1.35 1.35 0 1 0 2.7 0a1.35 1.35 0 1 0 -2.7 0M427.0 95.6a1.35 1.35 0 1 0 2.7 0a1.35 1.35 0 1 0 -2.7 0M427.5 95.9a1.35 1.35 0 1 0 2.7 0a1.35 1.35 0 1 0 -2.7 0M427.9 96.3a1.35 1.35 0 1 0 2.7 0a1.35 1.35 0 1 0 -2.7 0M428.4 96.2a1.35 1.35 0 1 0 2.7 0a1.35 1.35 0 1 0 -2.7 0M428.9 96.6a1.35 1.35 0 1 0 2.7 0a1.35 1.35 0 1 0 -2.7 0M429.4 96.8a1.35 1.35 0 1 0 2.7 0a1.35 1.35 0 1 0 -2.7 0M429.9 96.9a1.35 1.35 0 1 0 2.7 0a1.35 1.35 0 1 0 -2.7 0M430.4 97.1a1.35 1.35 0 1 0 2.7 0a1.35 1.35 0 1 0 -2.7 0M430.9 97.3a1.35 1.35 0 1 0 2.7 0a1.35 1.35 0 1 0 -2.7 0M431.3 97.3a1.35 1.35 0 1 0 2.7 0a1.35 1.35 0 1 0 -2.7 0M431.8 97.5a1.35 1.35 0 1 0 2.7 0a1.35 1.35 0 1 0 -2.7 0M432.3 97.8a1.35 1.35 0 1 0 2.7 0a1.35 1.35 0 1 0 -2.7 0M432.8 97.9a1.35 1.35 0 1 0 2.7 0a1.35 1.35 0 1 0 -2.7 0M433.2 98.2a1.35 1.35 0 1 0 2.7 0a1.35 1.35 0 1 0 -2.7 0M433.7 98.3a1.35 1.35 0 1 0 2.7 0a1.35 1.35 0 1 0 -2.7 0M434.2 98.4a1.35 1.35 0 1 0 2.7 0a1.35 1.35 0 1 0 -2.7 0M434.6 98.6a1.35 1.35 0 1 0 2.7 0a1.35 1.35 0 1 0 -2.7 0M435.1 98.9a1.35 1.35 0 1 0 2.7 0a1.35 1.35 0 1 0 -2.7 0M435.6 99.1a1.35 1.35 0 1 0 2.7 0a1.35 1.35 0 1 0 -2.7 0M436.1 99.2a1.35 1.35 0 1 0 2.7 0a1.35 1.35 0 1 0 -2.7 0M436.5 99.4a1.35 1.35 0 1 0 2.7 0a1.35 1.35 0 1 0 -2.7 0M437.0 99.6a1.35 1.35 0 1 0 2.7 0a1.35 1.35 0 1 0 -2.7 0M437.5 99.8a1.35 1.35 0 1 0 2.7 0a1.35 1.35 0 1 0 -2.7 0M437.9 99.9a1.35 1.35 0 1 0 2.7 0a1.35 1.35 0 1 0 -2.7 0M438.4 100.1a1.35 1.35 0 1 0 2.7 0a1.35 1.35 0 1 0 -2.7 0M438.8 100.3a1.35 1.35 0 1 0 2.7 0a1.35 1.35 0 1 0 -2.7 0M439.3 100.5a1.35 1.35 0 1 0 2.7 0a1.35 1.35 0 1 0 -2.7 0M439.8 100.7a1.35 1.35 0 1 0 2.7 0a1.35 1.35 0 1 0 -2.7 0M440.2 100.8a1.35 1.35 0 1 0 2.7 0a1.35 1.35 0 1 0 -2.7 0M440.7 101.0a1.35 1.35 0 1 0 2.7 0a1.35 1.35 0 1 0 -2.7 0M441.2 101.2a1.35 1.35 0 1 0 2.7 0a1.35 1.35 0 1 0 -2.7 0M441.6 101.4a1.35 1.35 0 1 0 2.7 0a1.35 1.35 0 1 0 -2.7 0M442.1 101.6a1.35 1.35 0 1 0 2.7 0a1.35 1.35 0 1 0 -2.7 0M442.6 101.7a1.35 1.35 0 1 0 2.7 0a1.35 1.35 0 1 0 -2.7 0M443.0 101.9a1.35 1.35 0 1 0 2.7 0a1.35 1.35 0 1 0 -2.7 0M443.5 102.1a1.35 1.35 0 1 0 2.7 0a1.35 1.35 0 1 0 -2.7 0M444.0 102.3a1.35 1.35 0 1 0 2.7 0a1.35 1.35 0 1 0 -2.7 0M444.4 102.4a1.35 1.35 0 1 0 2.7 0a1.35 1.35 0 1 0 -2.7 0M444.9 102.6a1.35 1.35 0 1 0 2.7 0a1.35 1.35 0 1 0 -2.7 0M445.4 102.8a1.35 1.35 0 1 0 2.7 0a1.35 1.35 0 1 0 -2.7 0M445.8 103.0a1.35 1.35 0 1 0 2.7 0a1.35 1.35 0 1 0 -2.7 0M446.3 103.1a1.35 1.35 0 1 0 2.7 0a1.35 1.35 0 1 0 -2.7 0M446.7 103.3a1.35 1.35 0 1 0 2.7 0a1.35 1.35 0 1 0 -2.7 0M447.2 103.5a1.35 1.35 0 1 0 2.7 0a1.35 1.35 0 1 0 -2.7 0M447.6 103.7a1.35 1.35 0 1 0 2.7 0a1.35 1.35 0 1 0 -2.7 0M448.1 103.8a1.35 1.35 0 1 0 2.7 0a1.35 1.35 0 1 0 -2.7 0M448.6 104.0a1.35 1.35 0 1 0 2.7 0a1.35 1.35 0 1 0 -2.7 0M449.0 104.2a1.35 1.35 0 1 0 2.7 0a1.35 1.35 0 1 0 -2.7 0M449.5 104.4a1.35 1.35 0 1 0 2.7 0a1.35 1.35 0 1 0 -2.7 0M449.9 104.5a1.35 1.35 0 1 0 2.7 0a1.35 1.35 0 1 0 -2.7 0M450.4 104.7a1.35 1.35 0 1 0 2.7 0a1.35 1.35 0 1 0 -2.7 0M450.9 104.9a1.35 1.35 0 1 0 2.7 0a1.35 1.35 0 1 0 -2.7 0M451.3 105.1a1.35 1.35 0 1 0 2.7 0a1.35 1.35 0 1 0 -2.7 0M451.8 105.2a1.35 1.35 0 1 0 2.7 0a1.35 1.35 0 1 0 -2.7 0M452.3 105.4a1.35 1.35 0 1 0 2.7 0a1.35 1.35 0 1 0 -2.7 0M452.7 105.6a1.35 1.35 0 1 0 2.7 0a1.35 1.35 0 1 0 -2.7 0M453.2 105.8a1.35 1.35 0 1 0 2.7 0a1.35 1.35 0 1 0 -2.7 0M453.6 105.9a1.35 1.35 0 1 0 2.7 0a1.35 1.35 0 1 0 -2.7 0M454.1 106.1a1.35 1.35 0 1 0 2.7 0a1.35 1.35 0 1 0 -2.7 0M454.5 106.3a1.35 1.35 0 1 0 2.7 0a1.35 1.35 0 1 0 -2.7 0M455.0 106.5a1.35 1.35 0 1 0 2.7 0a1.35 1.35 0 1 0 -2.7 0M455.5 106.6a1.35 1.35 0 1 0 2.7 0a1.35 1.35 0 1 0 -2.7 0M455.9 106.8a1.35 1.35 0 1 0 2.7 0a1.35 1.35 0 1 0 -2.7 0M456.4 107.0a1.35 1.35 0 1 0 2.7 0a1.35 1.35 0 1 0 -2.7 0M456.8 107.1a1.35 1.35 0 1 0 2.7 0a1.35 1.35 0 1 0 -2.7 0M457.3 107.3a1.35 1.35 0 1 0 2.7 0a1.35 1.35 0 1 0 -2.7 0M457.7 107.5a1.35 1.35 0 1 0 2.7 0a1.35 1.35 0 1 0 -2.7 0M458.2 107.7a1.35 1.35 0 1 0 2.7 0a1.35 1.35 0 1 0 -2.7 0M458.7 107.8a1.35 1.35 0 1 0 2.7 0a1.35 1.35 0 1 0 -2.7 0M459.1 108.0a1.35 1.35 0 1 0 2.7 0a1.35 1.35 0 1 0 -2.7 0M459.6 108.2a1.35 1.35 0 1 0 2.7 0a1.35 1.35 0 1 0 -2.7 0M460.0 108.3a1.35 1.35 0 1 0 2.7 0a1.35 1.35 0 1 0 -2.7 0M460.5 108.5a1.35 1.35 0 1 0 2.7 0a1.35 1.35 0 1 0 -2.7 0M460.9 108.7a1.35 1.35 0 1 0 2.7 0a1.35 1.35 0 1 0 -2.7 0M461.4 108.9a1.35 1.35 0 1 0 2.7 0a1.35 1.35 0 1 0 -2.7 0M461.8 109.0a1.35 1.35 0 1 0 2.7 0a1.35 1.35 0 1 0 -2.7 0M462.3 109.2a1.35 1.35 0 1 0 2.7 0a1.35 1.35 0 1 0 -2.7 0M462.7 109.4a1.35 1.35 0 1 0 2.7 0a1.35 1.35 0 1 0 -2.7 0M463.2 109.5a1.35 1.35 0 1 0 2.7 0a1.35 1.35 0 1 0 -2.7 0M463.7 109.7a1.35 1.35 0 1 0 2.7 0a1.35 1.35 0 1 0 -2.7 0M464.1 109.9a1.35 1.35 0 1 0 2.7 0a1.35 1.35 0 1 0 -2.7 0M464.6 110.0a1.35 1.35 0 1 0 2.7 0a1.35 1.35 0 1 0 -2.7 0M465.1 110.2a1.35 1.35 0 1 0 2.7 0a1.35 1.35 0 1 0 -2.7 0M465.5 110.4a1.35 1.35 0 1 0 2.7 0a1.35 1.35 0 1 0 -2.7 0M466.0 110.5a1.35 1.35 0 1 0 2.7 0a1.35 1.35 0 1 0 -2.7 0M466.4 110.7a1.35 1.35 0 1 0 2.7 0a1.35 1.35 0 1 0 -2.7 0M466.9 110.9a1.35 1.35 0 1 0 2.7 0a1.35 1.35 0 1 0 -2.7 0M467.3 111.0a1.35 1.35 0 1 0 2.7 0a1.35 1.35 0 1 0 -2.7 0M467.8 111.2a1.35 1.35 0 1 0 2.7 0a1.35 1.35 0 1 0 -2.7 0M468.2 111.4a1.35 1.35 0 1 0 2.7 0a1.35 1.35 0 1 0 -2.7 0M468.7 111.5a1.35 1.35 0 1 0 2.7 0a1.35 1.35 0 1 0 -2.7 0M469.1 111.7a1.35 1.35 0 1 0 2.7 0a1.35 1.35 0 1 0 -2.7 0M469.6 111.9a1.35 1.35 0 1 0 2.7 0a1.35 1.35 0 1 0 -2.7 0M470.1 112.0a1.35 1.35 0 1 0 2.7 0a1.35 1.35 0 1 0 -2.7 0M470.5 112.2a1.35 1.35 0 1 0 2.7 0a1.35 1.35 0 1 0 -2.7 0M471.0 112.4a1.35 1.35 0 1 0 2.7 0a1.35 1.35 0 1 0 -2.7 0M471.4 112.5a1.35 1.35 0 1 0 2.7 0a1.35 1.35 0 1 0 -2.7 0M471.9 112.7a1.35 1.35 0 1 0 2.7 0a1.35 1.35 0 1 0 -2.7 0M472.3 112.8a1.35 1.35 0 1 0 2.7 0a1.35 1.35 0 1 0 -2.7 0M472.8 113.0a1.35 1.35 0 1 0 2.7 0a1.35 1.35 0 1 0 -2.7 0M473.2 113.2a1.35 1.35 0 1 0 2.7 0a1.35 1.35 0 1 0 -2.7 0M473.7 113.3a1.35 1.35 0 1 0 2.7 0a1.35 1.35 0 1 0 -2.7 0M474.1 113.5a1.35 1.35 0 1 0 2.7 0a1.35 1.35 0 1 0 -2.7 0M474.6 113.6a1.35 1.35 0 1 0 2.7 0a1.35 1.35 0 1 0 -2.7 0M475.0 113.8a1.35 1.35 0 1 0 2.7 0a1.35 1.35 0 1 0 -2.7 0M475.5 114.0a1.35 1.35 0 1 0 2.7 0a1.35 1.35 0 1 0 -2.7 0M475.9 114.1a1.35 1.35 0 1 0 2.7 0a1.35 1.35 0 1 0 -2.7 0M476.4 114.3a1.35 1.35 0 1 0 2.7 0a1.35 1.35 0 1 0 -2.7 0M476.9 114.4a1.35 1.35 0 1 0 2.7 0a1.35 1.35 0 1 0 -2.7 0M477.3 114.6a1.35 1.35 0 1 0 2.7 0a1.35 1.35 0 1 0 -2.7 0M477.8 114.8a1.35 1.35 0 1 0 2.7 0a1.35 1.35 0 1 0 -2.7 0M478.2 114.9a1.35 1.35 0 1 0 2.7 0a1.35 1.35 0 1 0 -2.7 0M478.7 115.1a1.35 1.35 0 1 0 2.7 0a1.35 1.35 0 1 0 -2.7 0M479.1 115.2a1.35 1.35 0 1 0 2.7 0a1.35 1.35 0 1 0 -2.7 0M479.6 115.4a1.35 1.35 0 1 0 2.7 0a1.35 1.35 0 1 0 -2.7 0M480.0 115.5a1.35 1.35 0 1 0 2.7 0a1.35 1.35 0 1 0 -2.7 0M480.5 115.7a1.35 1.35 0 1 0 2.7 0a1.35 1.35 0 1 0 -2.7 0M480.9 115.9a1.35 1.35 0 1 0 2.7 0a1.35 1.35 0 1 0 -2.7 0M481.4 116.0a1.35 1.35 0 1 0 2.7 0a1.35 1.35 0 1 0 -2.7 0M481.8 116.2a1.35 1.35 0 1 0 2.7 0a1.35 1.35 0 1 0 -2.7 0M482.3 116.3a1.35 1.35 0 1 0 2.7 0a1.35 1.35 0 1 0 -2.7 0M482.7 116.5a1.35 1.35 0 1 0 2.7 0a1.35 1.35 0 1 0 -2.7 0M483.2 116.6a1.35 1.35 0 1 0 2.7 0a1.35 1.35 0 1 0 -2.7 0M483.7 116.8a1.35 1.35 0 1 0 2.7 0a1.35 1.35 0 1 0 -2.7 0M484.1 116.9a1.35 1.35 0 1 0 2.7 0a1.35 1.35 0 1 0 -2.7 0M484.6 117.1a1.35 1.35 0 1 0 2.7 0a1.35 1.35 0 1 0 -2.7 0M485.0 117.2a1.35 1.35 0 1 0 2.7 0a1.35 1.35 0 1 0 -2.7 0M485.5 117.4a1.35 1.35 0 1 0 2.7 0a1.35 1.35 0 1 0 -2.7 0M485.9 117.5a1.35 1.35 0 1 0 2.7 0a1.35 1.35 0 1 0 -2.7 0M486.4 117.7a1.35 1.35 0 1 0 2.7 0a1.35 1.35 0 1 0 -2.7 0M486.8 117.8a1.35 1.35 0 1 0 2.7 0a1.35 1.35 0 1 0 -2.7 0M487.3 118.0a1.35 1.35 0 1 0 2.7 0a1.35 1.35 0 1 0 -2.7 0M487.7 118.1a1.35 1.35 0 1 0 2.7 0a1.35 1.35 0 1 0 -2.7 0M488.2 118.3a1.35 1.35 0 1 0 2.7 0a1.35 1.35 0 1 0 -2.7 0M488.6 118.4a1.35 1.35 0 1 0 2.7 0a1.35 1.35 0 1 0 -2.7 0M489.1 118.6a1.35 1.35 0 1 0 2.7 0a1.35 1.35 0 1 0 -2.7 0M489.5 118.7a1.35 1.35 0 1 0 2.7 0a1.35 1.35 0 1 0 -2.7 0M490.0 118.9a1.35 1.35 0 1 0 2.7 0a1.35 1.35 0 1 0 -2.7 0M490.4 119.0a1.35 1.35 0 1 0 2.7 0a1.35 1.35 0 1 0 -2.7 0M490.9 119.2a1.35 1.35 0 1 0 2.7 0a1.35 1.35 0 1 0 -2.7 0M491.3 119.3a1.35 1.35 0 1 0 2.7 0a1.35 1.35 0 1 0 -2.7 0M491.8 119.4a1.35 1.35 0 1 0 2.7 0a1.35 1.35 0 1 0 -2.7 0M492.2 119.6a1.35 1.35 0 1 0 2.7 0a1.35 1.35 0 1 0 -2.7 0M492.7 119.7a1.35 1.35 0 1 0 2.7 0a1.35 1.35 0 1 0 -2.7 0M493.1 119.9a1.35 1.35 0 1 0 2.7 0a1.35 1.35 0 1 0 -2.7 0M493.6 120.0a1.35 1.35 0 1 0 2.7 0a1.35 1.35 0 1 0 -2.7 0M494.0 120.2a1.35 1.35 0 1 0 2.7 0a1.35 1.35 0 1 0 -2.7 0M494.5 120.3a1.35 1.35 0 1 0 2.7 0a1.35 1.35 0 1 0 -2.7 0M495.0 120.4a1.35 1.35 0 1 0 2.7 0a1.35 1.35 0 1 0 -2.7 0M495.4 120.6a1.35 1.35 0 1 0 2.7 0a1.35 1.35 0 1 0 -2.7 0M495.9 120.7a1.35 1.35 0 1 0 2.7 0a1.35 1.35 0 1 0 -2.7 0M496.3 120.9a1.35 1.35 0 1 0 2.7 0a1.35 1.35 0 1 0 -2.7 0M496.8 121.0a1.35 1.35 0 1 0 2.7 0a1.35 1.35 0 1 0 -2.7 0M497.2 121.1a1.35 1.35 0 1 0 2.7 0a1.35 1.35 0 1 0 -2.7 0M497.7 121.3a1.35 1.35 0 1 0 2.7 0a1.35 1.35 0 1 0 -2.7 0M498.1 121.4a1.35 1.35 0 1 0 2.7 0a1.35 1.35 0 1 0 -2.7 0M498.6 121.5a1.35 1.35 0 1 0 2.7 0a1.35 1.35 0 1 0 -2.7 0M499.0 121.7a1.35 1.35 0 1 0 2.7 0a1.35 1.35 0 1 0 -2.7 0M499.5 121.8a1.35 1.35 0 1 0 2.7 0a1.35 1.35 0 1 0 -2.7 0M499.9 121.9a1.35 1.35 0 1 0 2.7 0a1.35 1.35 0 1 0 -2.7 0M500.4 122.1a1.35 1.35 0 1 0 2.7 0a1.35 1.35 0 1 0 -2.7 0M500.8 122.2a1.35 1.35 0 1 0 2.7 0a1.35 1.35 0 1 0 -2.7 0M501.3 122.3a1.35 1.35 0 1 0 2.7 0a1.35 1.35 0 1 0 -2.7 0M501.7 122.5a1.35 1.35 0 1 0 2.7 0a1.35 1.35 0 1 0 -2.7 0M502.2 122.6a1.35 1.35 0 1 0 2.7 0a1.35 1.35 0 1 0 -2.7 0M502.6 122.7a1.35 1.35 0 1 0 2.7 0a1.35 1.35 0 1 0 -2.7 0M503.1 122.9a1.35 1.35 0 1 0 2.7 0a1.35 1.35 0 1 0 -2.7 0M503.5 123.0a1.35 1.35 0 1 0 2.7 0a1.35 1.35 0 1 0 -2.7 0M504.0 123.1a1.35 1.35 0 1 0 2.7 0a1.35 1.35 0 1 0 -2.7 0M504.4 123.2a1.35 1.35 0 1 0 2.7 0a1.35 1.35 0 1 0 -2.7 0M504.9 123.4a1.35 1.35 0 1 0 2.7 0a1.35 1.35 0 1 0 -2.7 0M505.3 123.5a1.35 1.35 0 1 0 2.7 0a1.35 1.35 0 1 0 -2.7 0M505.8 123.6a1.35 1.35 0 1 0 2.7 0a1.35 1.35 0 1 0 -2.7 0M506.2 123.8a1.35 1.35 0 1 0 2.7 0a1.35 1.35 0 1 0 -2.7 0M506.7 123.9a1.35 1.35 0 1 0 2.7 0a1.35 1.35 0 1 0 -2.7 0M507.1 124.0a1.35 1.35 0 1 0 2.7 0a1.35 1.35 0 1 0 -2.7 0M507.6 124.1a1.35 1.35 0 1 0 2.7 0a1.35 1.35 0 1 0 -2.7 0M508.0 124.2a1.35 1.35 0 1 0 2.7 0a1.35 1.35 0 1 0 -2.7 0M508.5 124.4a1.35 1.35 0 1 0 2.7 0a1.35 1.35 0 1 0 -2.7 0M508.9 124.5a1.35 1.35 0 1 0 2.7 0a1.35 1.35 0 1 0 -2.7 0M509.4 124.6a1.35 1.35 0 1 0 2.7 0a1.35 1.35 0 1 0 -2.7 0M509.8 124.7a1.35 1.35 0 1 0 2.7 0a1.35 1.35 0 1 0 -2.7 0M510.3 124.9a1.35 1.35 0 1 0 2.7 0a1.35 1.35 0 1 0 -2.7 0M510.7 125.0a1.35 1.35 0 1 0 2.7 0a1.35 1.35 0 1 0 -2.7 0M511.2 125.1a1.35 1.35 0 1 0 2.7 0a1.35 1.35 0 1 0 -2.7 0M511.6 125.2a1.35 1.35 0 1 0 2.7 0a1.35 1.35 0 1 0 -2.7 0M512.1 125.3a1.35 1.35 0 1 0 2.7 0a1.35 1.35 0 1 0 -2.7 0M512.5 125.4a1.35 1.35 0 1 0 2.7 0a1.35 1.35 0 1 0 -2.7 0M513.0 125.6a1.35 1.35 0 1 0 2.7 0a1.35 1.35 0 1 0 -2.7 0M513.4 125.7a1.35 1.35 0 1 0 2.7 0a1.35 1.35 0 1 0 -2.7 0M513.9 125.8a1.35 1.35 0 1 0 2.7 0a1.35 1.35 0 1 0 -2.7 0M514.3 125.9a1.35 1.35 0 1 0 2.7 0a1.35 1.35 0 1 0 -2.7 0M514.8 126.0a1.35 1.35 0 1 0 2.7 0a1.35 1.35 0 1 0 -2.7 0M515.2 126.1a1.35 1.35 0 1 0 2.7 0a1.35 1.35 0 1 0 -2.7 0M515.7 126.2a1.35 1.35 0 1 0 2.7 0a1.35 1.35 0 1 0 -2.7 0M516.1 126.3a1.35 1.35 0 1 0 2.7 0a1.35 1.35 0 1 0 -2.7 0M516.6 126.5a1.35 1.35 0 1 0 2.7 0a1.35 1.35 0 1 0 -2.7 0M517.0 126.6a1.35 1.35 0 1 0 2.7 0a1.35 1.35 0 1 0 -2.7 0M517.5 126.7a1.35 1.35 0 1 0 2.7 0a1.35 1.35 0 1 0 -2.7 0M517.9 126.8a1.35 1.35 0 1 0 2.7 0a1.35 1.35 0 1 0 -2.7 0M518.4 126.9a1.35 1.35 0 1 0 2.7 0a1.35 1.35 0 1 0 -2.7 0M518.8 127.0a1.35 1.35 0 1 0 2.7 0a1.35 1.35 0 1 0 -2.7 0" stroke="#00f" stroke-width="0.55" fill="none"/>
<path d="M432.8 118.9L434.3 119.0L435.8 119.1L437.3 119.2L438.8 119.3L440.3 119.4L441.8 119.5L443.3 119.6L444.8 119.7L446.3 119.8L447.8 120.0L449.3 120.1L450.8 120.2L452.3 120.3L453.8 120.4L455.3 120.5L456.8 120.7L458.3 120.8L459.8 120.9L461.3 121.1L462.8 121.2L464.3 121.3L465.8 121.5L467.3 121.6L468.8 121.8L470.3 121.9L471.8 122.1L473.3 122.2L474.8 122.4L476.3 122.6L477.8 122.7L479.3 122.9L480.8 123.1L482.3 123.2L483.8 123.4L485.3 123.6L486.8 123.8L488.3 124.0L489.8 124.2L491.3 124.3L492.8 124.5L494.3 124.7L495.8 124.9L497.3 125.1L498.8 125.3L500.3 125.6L501.8 125.8L503.3 126.0L504.8 126.2L506.3 126.4L507.8 126.7L509.3 126.9L510.8 127.1L512.3 127.4L513.8 127.6L515.3 127.8L516.8 128.1L518.3 128.3L519.8 128.6" stroke="#808080" stroke-width="3.0" fill="none" stroke-linejoin="round"/>
<path d="M303.9 119.7h2.35v2.35h-2.35zM318.2 116.7h2.35v2.35h-2.35zM326.5 116.2h2.35v2.35h-2.35zM332.4 113.9h2.35v2.35h-2.35zM337.0 117.6h2.35v2.35h-2.35zM340.7 114.1h2.35v2.35h-2.35zM346.6 115.6h2.35v2.35h-2.35zM349.0 115.3h2.35v2.35h-2.35zM351.2 116.1h2.35v2.35h-2.35zM353.2 117.4h2.35v2.35h-2.35zM354.9 117.9h2.35v2.35h-2.35zM356.6 115.3h2.35v2.35h-2.35zM358.1 115.9h2.35v2.35h-2.35zM360.8 116.1h2.35v2.35h-2.35zM362.1 117.3h2.35v2.35h-2.35zM363.3 115.5h2.35v2.35h-2.35zM364.4 114.9h2.35v2.35h-2.35zM365.4 113.0h2.35v2.35h-2.35zM366.4 115.1h2.35v2.35h-2.35zM367.4 116.5h2.35v2.35h-2.35zM369.2 115.4h2.35v2.35h-2.35zM370.0 114.8h2.35v2.35h-2.35zM370.8 113.8h2.35v2.35h-2.35zM371.6 113.7h2.35v2.35h-2.35zM373.1 115.1h2.35v2.35h-2.35zM373.7 115.4h2.35v2.35h-2.35zM375.1 115.7h2.35v2.35h-2.35zM375.7 115.4h2.35v2.35h-2.35zM376.3 115.9h2.35v2.35h-2.35zM376.9 115.2h2.35v2.35h-2.35zM377.5 115.8h2.35v2.35h-2.35zM378.1 116.5h2.35v2.35h-2.35zM378.6 116.2h2.35v2.35h-2.35zM379.7 114.6h2.35v2.35h-2.35zM380.2 115.7h2.35v2.35h-2.35zM380.7 115.7h2.35v2.35h-2.35zM381.1 117.7h2.35v2.35h-2.35zM381.6 116.6h2.35v2.35h-2.35zM382.1 114.7h2.35v2.35h-2.35zM382.5 116.2h2.35v2.35h-2.35zM383.4 115.3h2.35v2.35h-2.35zM384.2 114.6h2.35v2.35h-2.35zM385.0 116.6h2.35v2.35h-2.35zM385.8 115.8h2.35v2.35h-2.35zM386.6 115.6h2.35v2.35h-2.35zM387.3 116.6h2.35v2.35h-2.35zM388.3 115.9h2.35v2.35h-2.35zM389.3 115.3h2.35v2.35h-2.35zM389.9 116.3h2.35v2.35h-2.35zM390.5 115.8h2.35v2.35h-2.35zM391.1 116.3h2.35v2.35h-2.35zM391.7 115.4h2.35v2.35h-2.35zM392.3 116.2h2.35v2.35h-2.35zM392.8 115.6h2.35v2.35h-2.35zM393.4 115.6h2.35v2.35h-2.35zM393.9 117.8h2.35v2.35h-2.35zM394.4 117.3h2.35v2.35h-2.35zM394.9 115.0h2.35v2.35h-2.35zM395.4 116.3h2.35v2.35h-2.35zM395.8 115.8h2.35v2.35h-2.35zM396.3 114.7h2.35v2.35h-2.35zM397.0 116.5h2.35v2.35h-2.35zM397.6 116.3h2.35v2.35h-2.35zM398.3 116.3h2.35v2.35h-2.35zM398.9 116.7h2.35v2.35h-2.35zM399.5 115.2h2.35v2.35h-2.35zM400.0 116.0h2.35v2.35h-2.35zM401.0 115.8h2.35v2.35h-2.35zM401.5 116.3h2.35v2.35h-2.35zM402.2 116.0h2.35v2.35h-2.35zM402.7 116.1h2.35v2.35h-2.35zM403.2 116.4h2.35v2.35h-2.35zM403.7 116.4h2.35v2.35h-2.35zM404.2 116.6h2.35v2.35h-2.35zM404.8 116.9h2.35v2.35h-2.35zM405.4 116.7h2.35v2.35h-2.35zM406.0 116.2h2.35v2.35h-2.35zM406.5 117.2h2.35v2.35h-2.35zM407.1 116.9h2.35v2.35h-2.35zM407.7 117.0h2.35v2.35h-2.35zM408.2 116.5h2.35v2.35h-2.35zM408.7 116.5h2.35v2.35h-2.35zM409.2 116.7h2.35v2.35h-2.35zM409.7 116.9h2.35v2.35h-2.35zM410.2 116.2h2.35v2.35h-2.35zM410.6 117.0h2.35v2.35h-2.35zM411.2 117.1h2.35v2.35h-2.35zM411.9 116.5h2.35v2.35h-2.35zM412.4 116.9h2.35v2.35h-2.35zM412.9 116.8h2.35v2.35h-2.35zM413.5 116.5h2.35v2.35h-2.35zM414.0 116.7h2.35v2.35h-2.35zM414.5 116.9h2.35v2.35h-2.35zM415.0 116.6h2.35v2.35h-2.35zM415.5 117.0h2.35v2.35h-2.35zM416.0 116.6h2.35v2.35h-2.35zM416.5 116.9h2.35v2.35h-2.35zM417.1 116.7h2.35v2.35h-2.35zM417.6 116.1h2.35v2.35h-2.35zM418.1 117.1h2.35v2.35h-2.35zM418.5 117.3h2.35v2.35h-2.35zM419.0 117.1h2.35v2.35h-2.35zM419.6 117.6h2.35v2.35h-2.35zM420.2 117.1h2.35v2.35h-2.35zM420.7 116.9h2.35v2.35h-2.35zM421.3 117.3h2.35v2.35h-2.35zM421.8 117.1h2.35v2.35h-2.35zM422.3 117.3h2.35v2.35h-2.35zM422.9 117.6h2.35v2.35h-2.35zM423.3 117.6h2.35v2.35h-2.35zM423.8 117.2h2.35v2.35h-2.35zM424.3 117.6h2.35v2.35h-2.35zM424.8 117.5h2.35v2.35h-2.35zM425.3 117.3h2.35v2.35h-2.35zM425.8 117.4h2.35v2.35h-2.35zM426.2 117.4h2.35v2.35h-2.35zM426.7 117.4h2.35v2.35h-2.35zM427.2 117.5h2.35v2.35h-2.35zM427.6 117.4h2.35v2.35h-2.35zM428.1 117.7h2.35v2.35h-2.35zM428.6 117.4h2.35v2.35h-2.35zM429.1 117.6h2.35v2.35h-2.35zM429.6 117.7h2.35v2.35h-2.35zM430.1 117.5h2.35v2.35h-2.35zM430.6 117.5h2.35v2.35h-2.35zM431.0 117.6h2.35v2.35h-2.35zM431.5 117.7h2.35v2.35h-2.35zM432.0 117.9h2.35v2.35h-2.35zM432.5 117.8h2.35v2.35h-2.35zM432.9 117.9h2.35v2.35h-2.35zM433.4 117.7h2.35v2.35h-2.35zM433.9 117.7h2.35v2.35h-2.35zM434.3 118.1h2.35v2.35h-2.35zM434.8 118.1h2.35v2.35h-2.35zM435.3 118.1h2.35v2.35h-2.35zM435.8 117.8h2.35v2.35h-2.35zM436.2 118.1h2.35v2.35h-2.35zM436.7 118.0h2.35v2.35h-2.35zM437.2 118.2h2.35v2.35h-2.35zM437.6 118.2h2.35v2.35h-2.35zM438.1 118.1h2.35v2.35h-2.35zM438.6 118.2h2.35v2.35h-2.35zM439.0 118.1h2.35v2.35h-2.35zM439.5 118.2h2.35v2.35h-2.35zM439.9 118.3h2.35v2.35h-2.35zM440.4 118.3h2.35v2.35h-2.35zM440.9 118.3h2.35v2.35h-2.35zM441.4 118.3h2.35v2.35h-2.35zM441.8 118.4h2.35v2.35h-2.35zM442.3 118.5h2.35v2.35h-2.35zM442.7 118.6h2.35v2.35h-2.35zM443.2 118.5h2.35v2.35h-2.35zM443.7 118.6h2.35v2.35h-2.35zM444.1 118.6h2.35v2.35h-2.35zM444.6 118.7h2.35v2.35h-2.35zM445.1 118.7h2.35v2.35h-2.35zM445.5 118.7h2.35v2.35h-2.35zM446.0 118.8h2.35v2.35h-2.35zM446.4 118.8h2.35v2.35h-2.35zM446.9 118.8h2.35v2.35h-2.35zM447.4 118.8h2.35v2.35h-2.35zM447.8 118.9h2.35v2.35h-2.35zM448.3 118.9h2.35v2.35h-2.35zM448.7 118.9h2.35v2.35h-2.35zM449.2 119.0h2.35v2.35h-2.35zM449.7 119.0h2.35v2.35h-2.35zM450.1 119.1h2.35v2.35h-2.35zM450.6 119.1h2.35v2.35h-2.35zM451.1 119.1h2.35v2.35h-2.35zM451.5 119.2h2.35v2.35h-2.35zM452.0 119.2h2.35v2.35h-2.35zM452.4 119.2h2.35v2.35h-2.35zM452.9 119.3h2.35v2.35h-2.35zM453.3 119.3h2.35v2.35h-2.35zM453.8 119.3h2.35v2.35h-2.35zM454.3 119.4h2.35v2.35h-2.35zM454.7 119.4h2.35v2.35h-2.35zM455.2 119.5h2.35v2.35h-2.35zM455.6 119.5h2.35v2.35h-2.35zM456.1 119.5h2.35v2.35h-2.35zM456.5 119.6h2.35v2.35h-2.35zM457.0 119.6h2.35v2.35h-2.35zM457.5 119.7h2.35v2.35h-2.35zM457.9 119.7h2.35v2.35h-2.35zM458.4 119.7h2.35v2.35h-2.35zM458.8 119.8h2.35v2.35h-2.35zM459.3 119.8h2.35v2.35h-2.35zM459.7 119.9h2.35v2.35h-2.35zM460.2 119.9h2.35v2.35h-2.35zM460.7 119.9h2.35v2.35h-2.35zM461.1 120.0h2.35v2.35h-2.35zM461.6 120.0h2.35v2.35h-2.35zM462.0 120.1h2.35v2.35h-2.35zM462.5 120.1h2.35v2.35h-2.35zM462.9 120.2h2.35v2.35h-2.35zM463.4 120.2h2.35v2.35h-2.35zM463.9 120.2h2.35v2.35h-2.35zM464.3 120.3h2.35v2.35h-2.35zM464.8 120.3h2.35v2.35h-2.35zM465.2 120.4h2.35v2.35h-2.35zM465.7 120.4h2.35v2.35h-2.35zM466.1 120.5h2.35v2.35h-2.35zM466.6 120.5h2.35v2.35h-2.35zM467.0 120.6h2.35v2.35h-2.35zM467.5 120.6h2.35v2.35h-2.35zM468.0 120.6h2.35v2.35h-2.35zM468.4 120.7h2.35v2.35h-2.35zM468.9 120.7h2.35v2.35h-2.35zM469.3 120.8h2.35v2.35h-2.35zM469.8 120.8h2.35v2.35h-2.35zM470.2 120.9h2.35v2.35h-2.35zM470.7 120.9h2.35v2.35h-2.35zM471.1 121.0h2.35v2.35h-2.35zM471.6 121.0h2.35v2.35h-2.35zM472.0 121.1h2.35v2.35h-2.35zM472.5 121.1h2.35v2.35h-2.35zM472.9 121.2h2.35v2.35h-2.35zM473.4 121.2h2.35v2.35h-2.35zM473.9 121.3h2.35v2.35h-2.35zM474.3 121.3h2.35v2.35h-2.35zM474.8 121.3h2.35v2.35h-2.35zM475.2 121.4h2.35v2.35h-2.35zM475.7 121.4h2.35v2.35h-2.35zM476.1 121.5h2.35v2.35h-2.35zM476.6 121.5h2.35v2.35h-2.35zM477.0 121.6h2.35v2.35h-2.35zM477.5 121.6h2.35v2.35h-2.35zM477.9 121.7h2.35v2.35h-2.35zM478.4 121.8h2.35v2.35h-2.35zM478.8 121.8h2.35v2.35h-2.35zM479.3 121.9h2.35v2.35h-2.35zM479.7 121.9h2.35v2.35h-2.35zM480.2 122.0h2.35v2.35h-2.35zM480.7 122.0h2.35v2.35h-2.35zM481.1 122.1h2.35v2.35h-2.35zM481.6 122.1h2.35v2.35h-2.35zM482.0 122.2h2.35v2.35h-2.35zM482.5 122.2h2.35v2.35h-2.35zM482.9 122.3h2.35v2.35h-2.35zM483.4 122.3h2.35v2.35h-2.35zM483.8 122.4h2.35v2.35h-2.35zM484.3 122.4h2.35v2.35h-2.35zM484.7 122.5h2.35v2.35h-2.35zM485.2 122.5h2.35v2.35h-2.35zM485.6 122.6h2.35v2.35h-2.35zM486.1 122.7h2.35v2.35h-2.35zM486.5 122.7h2.35v2.35h-2.35zM487.0 122.8h2.35v2.35h-2.35zM487.4 122.8h2.35v2.35h-2.35zM487.9 122.9h2.35v2.35h-2.35zM488.3 122.9h2.35v2.35h-2.35zM488.8 123.0h2.35v2.35h-2.35zM489.3 123.1h2.35v2.35h-2.35zM489.7 123.1h2.35v2.35h-2.35zM490.2 123.2h2.35v2.35h-2.35zM490.6 123.2h2.35v2.35h-2.35zM491.1 123.3h2.35v2.35h-2.35zM491.5 123.3h2.35v2.35h-2.35zM492.0 123.4h2.35v2.35h-2.35zM492.4 123.5h2.35v2.35h-2.35zM492.9 123.5h2.35v2.35h-2.35zM493.3 123.6h2.35v2.35h-2.35zM493.8 123.6h2.35v2.35h-2.35zM494.2 123.7h2.35v2.35h-2.35zM494.7 123.8h2.35v2.35h-2.35zM495.1 123.8h2.35v2.35h-2.35zM495.6 123.9h2.35v2.35h-2.35zM496.0 124.0h2.35v2.35h-2.35zM496.5 124.0h2.35v2.35h-2.35zM496.9 124.1h2.35v2.35h-2.35zM497.4 124.1h2.35v2.35h-2.35zM497.8 124.2h2.35v2.35h-2.35zM498.3 124.3h2.35v2.35h-2.35zM498.7 124.3h2.35v2.35h-2.35zM499.2 124.4h2.35v2.35h-2.35zM499.6 124.5h2.35v2.35h-2.35zM500.1 124.5h2.35v2.35h-2.35zM500.5 124.6h2.35v2.35h-2.35zM501.0 124.6h2.35v2.35h-2.35zM501.4 124.7h2.35v2.35h-2.35zM501.9 124.8h2.35v2.35h-2.35zM502.3 124.8h2.35v2.35h-2.35zM502.8 124.9h2.35v2.35h-2.35zM503.2 125.0h2.35v2.35h-2.35zM503.7 125.0h2.35v2.35h-2.35zM504.1 125.1h2.35v2.35h-2.35zM504.6 125.2h2.35v2.35h-2.35zM505.0 125.2h2.35v2.35h-2.35zM505.5 125.3h2.35v2.35h-2.35zM505.9 125.4h2.35v2.35h-2.35zM506.4 125.4h2.35v2.35h-2.35zM506.8 125.5h2.35v2.35h-2.35zM507.3 125.6h2.35v2.35h-2.35zM507.7 125.7h2.35v2.35h-2.35zM508.2 125.7h2.35v2.35h-2.35zM508.6 125.8h2.35v2.35h-2.35zM509.1 125.9h2.35v2.35h-2.35zM509.6 125.9h2.35v2.35h-2.35zM510.0 126.0h2.35v2.35h-2.35zM510.5 126.1h2.35v2.35h-2.35zM510.9 126.2h2.35v2.35h-2.35zM511.4 126.2h2.35v2.35h-2.35zM511.8 126.3h2.35v2.35h-2.35zM512.3 126.4h2.35v2.35h-2.35zM512.7 126.4h2.35v2.35h-2.35zM513.2 126.5h2.35v2.35h-2.35zM513.6 126.6h2.35v2.35h-2.35zM514.1 126.7h2.35v2.35h-2.35zM514.5 126.7h2.35v2.35h-2.35zM515.0 126.8h2.35v2.35h-2.35zM515.4 126.9h2.35v2.35h-2.35zM515.9 127.0h2.35v2.35h-2.35zM516.3 127.0h2.35v2.35h-2.35zM516.8 127.1h2.35v2.35h-2.35zM517.2 127.2h2.35v2.35h-2.35zM517.7 127.3h2.35v2.35h-2.35zM518.1 127.3h2.35v2.35h-2.35zM518.6 127.4h2.35v2.35h-2.35zM519.0 127.5h2.35v2.35h-2.35z" stroke="#8a8a8a" stroke-width="0.55" fill="none"/>
</g>
<g clip-path="url(#cA3)">
<path d="M172.0 251.7L173.5 252.2L175.0 252.6L176.5 253.1L178.0 253.6L179.5 254.1L181.0 254.6L182.5 255.2L184.0 255.8L185.5 256.4L187.0 257.0L188.5 257.6L190.0 258.2L191.5 258.9L193.0 259.5L194.5 260.2L196.0 260.8L197.5 261.5L199.0 262.2L200.5 262.8L202.0 263.5L203.5 264.2L205.0 264.8L206.5 265.5L208.0 266.2L209.5 266.8L211.0 267.5L212.5 268.2L214.0 268.8L215.5 269.5L217.0 270.1L218.5 270.8L220.0 271.4L221.5 272.0L223.0 272.6L224.5 273.3L226.0 273.9L227.5 274.5L229.0 275.0L230.5 275.6L232.0 276.2L233.5 276.8L235.0 277.3L236.5 277.9L238.0 278.4L239.5 279.0L241.0 279.5L242.5 280.1L244.0 280.6L245.5 281.1L247.0 281.6L248.5 282.2L250.0 282.7L251.5 283.2L253.0 283.7L254.5 284.2L256.0 284.7L257.5 285.2L259.0 285.7L260.5 286.2L262.0 286.7L263.5 287.2L265.0 287.7L266.5 288.2L268.0 288.7L269.5 289.2L271.0 289.7L272.5 290.2L274.0 290.7L275.5 291.3L277.0 291.8L278.5 292.3L280.0 292.8" stroke="#000" stroke-width="2.5" fill="none" stroke-linejoin="round"/>
<path d="M70.1 241.0h0M84.0 241.5h0M92.2 243.3h0M97.9 237.7h0M102.4 241.0h0M106.1 242.4h0M111.9 243.2h0M114.2 246.6h0M116.3 242.6h0M118.3 242.5h0M120.0 242.9h0M121.6 241.9h0M123.1 242.2h0M125.8 243.8h0M127.0 243.3h0M128.2 243.0h0M129.2 243.2h0M130.3 243.6h0M131.3 244.0h0M132.2 243.5h0M133.9 244.3h0M134.8 243.3h0M135.5 244.5h0M136.3 244.6h0M137.7 244.0h0M138.4 244.5h0M139.7 244.4h0M140.3 245.1h0M140.9 245.7h0M141.5 245.3h0M142.1 244.4h0M142.6 245.2h0M143.2 245.5h0M144.2 245.8h0M144.7 245.1h0M145.2 245.8h0M145.6 245.2h0M146.1 245.8h0M146.6 247.0h0M147.9 246.4h0M148.7 246.8h0M149.5 246.9h0M150.2 246.5h0M151.0 246.7h0M151.7 247.3h0M152.7 247.2h0M153.6 247.7h0M154.3 246.8h0M154.9 247.9h0M155.4 247.2h0M156.0 247.4h0M156.6 248.4h0M157.1 247.8h0M157.6 248.0h0M158.1 248.8h0M158.6 249.0h0M159.1 248.9h0M159.6 247.8h0M160.0 248.1h0M160.5 248.5h0M161.1 248.6h0M161.8 249.4h0M162.4 249.4h0M163.0 249.9h0M163.6 249.0h0M164.1 249.2h0M165.1 250.1h0M165.6 250.5h0M166.3 250.3h0M166.8 250.2h0M167.2 249.9h0M167.7 250.2h0M168.2 250.5h0M168.8 250.8h0M169.4 250.6h0M169.9 250.8h0M170.5 251.3h0M171.0 251.7h0M171.7 252.1h0M172.2 252.0h0M172.7 252.2h0M173.1 252.3h0M173.6 252.4h0M174.1 252.4h0M174.6 252.6h0M175.2 252.6h0M175.7 253.1h0M176.2 252.8h0M176.7 253.4h0M177.3 253.2h0M177.8 253.4h0M178.3 253.9h0M178.8 254.1h0M179.3 253.8h0M179.8 254.4h0M180.4 254.4h0M180.8 254.9h0M181.3 255.0h0M181.8 255.2h0M182.3 255.1h0M182.8 255.4h0M183.3 255.5h0M183.8 255.4h0M184.4 255.6h0M184.9 256.3h0M185.5 256.3h0M186.0 256.7h0M186.5 256.8h0M186.9 256.8h0M187.4 256.9h0M187.9 257.1h0M188.3 257.3h0M188.8 257.9h0M189.3 258.0h0M189.8 258.0h0M190.2 258.4h0M190.7 258.3h0M191.2 258.7h0M191.7 259.0h0M192.2 259.4h0M192.6 259.2h0M193.1 259.8h0M193.6 259.8h0M194.1 259.8h0M194.6 260.2h0M195.1 260.5h0M195.6 260.6h0M196.0 260.7h0M196.5 260.9h0M197.0 261.1h0M197.5 261.5h0M197.9 261.8h0M198.4 262.0h0M198.9 262.0h0M199.4 262.3h0M199.9 262.6h0M200.4 262.8h0M200.9 263.0h0M201.3 263.2h0M201.8 263.5h0M202.3 263.7h0M202.7 263.9h0M203.2 264.0h0M203.7 264.3h0M204.1 264.4h0M204.6 264.7h0M205.0 264.7h0M205.5 264.9h0M206.0 265.2h0M206.4 265.5h0M206.9 265.7h0M207.3 265.9h0M207.8 266.1h0M208.3 266.2h0M208.7 266.4h0M209.2 266.7h0M209.7 266.9h0M210.1 267.2h0M210.6 267.3h0M211.1 267.5h0M211.6 267.8h0M212.0 267.9h0M212.5 268.1h0M212.9 268.3h0M213.4 268.5h0M213.8 268.7h0M214.3 269.0h0M214.8 269.1h0M215.2 269.3h0M215.7 269.6h0M216.1 269.8h0M216.6 270.0h0M217.0 270.1h0M217.5 270.3h0M218.0 270.5h0M218.4 270.7h0M218.9 270.9h0M219.4 271.1h0M219.8 271.3h0M220.3 271.5h0M220.8 271.7h0M221.2 271.9h0M221.7 272.1h0M222.1 272.3h0M222.6 272.5h0M223.0 272.7h0M223.5 272.8h0M223.9 273.0h0M224.4 273.2h0M224.9 273.4h0M225.3 273.6h0M225.8 273.8h0M226.2 274.0h0M226.7 274.1h0M227.1 274.3h0M227.6 274.5h0M228.1 274.7h0M228.5 274.9h0M229.0 275.0h0M229.4 275.2h0M229.9 275.4h0M230.3 275.6h0M230.8 275.7h0M231.2 275.9h0M231.7 276.1h0M232.2 276.3h0M232.6 276.4h0M233.1 276.6h0M233.5 276.8h0M234.0 276.9h0M234.4 277.1h0M234.9 277.3h0M235.3 277.5h0M235.8 277.6h0M236.2 277.8h0M236.7 278.0h0M237.2 278.1h0M237.6 278.3h0M238.1 278.5h0M238.5 278.6h0M239.0 278.8h0M239.4 278.9h0M239.9 279.1h0M240.3 279.3h0M240.8 279.4h0M241.2 279.6h0M241.7 279.8h0M242.1 279.9h0M242.6 280.1h0M243.0 280.2h0M243.5 280.4h0M243.9 280.6h0M244.4 280.7h0M244.8 280.9h0M245.3 281.0h0M245.8 281.2h0M246.2 281.4h0M246.7 281.5h0M247.1 281.7h0M247.6 281.8h0M248.0 282.0h0M248.5 282.1h0M248.9 282.3h0M249.4 282.5h0M249.8 282.6h0M250.3 282.8h0M250.7 282.9h0M251.2 283.1h0M251.6 283.2h0M252.1 283.4h0M252.5 283.5h0M253.0 283.7h0M253.4 283.8h0M253.9 284.0h0M254.3 284.2h0M254.8 284.3h0M255.3 284.5h0M255.7 284.6h0M256.2 284.8h0M256.6 284.9h0M257.1 285.1h0M257.5 285.2h0M258.0 285.4h0M258.4 285.5h0M258.9 285.7h0M259.3 285.8h0M259.8 286.0h0M260.2 286.1h0M260.7 286.3h0M261.1 286.4h0M261.6 286.6h0M262.0 286.7h0M262.5 286.9h0M262.9 287.0h0M263.4 287.2h0M263.8 287.3h0M264.3 287.5h0M264.7 287.6h0M265.2 287.8h0M265.6 287.9h0M266.1 288.1h0M266.5 288.2h0M267.0 288.4h0M267.4 288.5h0M267.9 288.7h0M268.3 288.8h0M268.8 289.0h0M269.2 289.1h0M269.7 289.3h0M270.1 289.4h0M270.6 289.6h0M271.0 289.7h0M271.5 289.9h0M271.9 290.0h0M272.4 290.2h0M272.8 290.4h0M273.3 290.5h0M273.7 290.7h0M274.2 290.8h0M274.6 291.0h0M275.1 291.1h0M275.5 291.3h0M276.0 291.4h0M276.4 291.6h0M276.9 291.7h0M277.3 291.9h0M277.8 292.0h0M278.2 292.2h0M278.7 292.3h0" stroke="#000" stroke-width="2.7" stroke-linecap="round" fill="none"/>
<path d="M172.0 253.5L173.5 254.0L175.0 254.6L176.5 255.1L178.0 255.7L179.5 256.2L181.0 256.8L182.5 257.3L184.0 257.9L185.5 258.4L187.0 259.0L188.5 259.5L190.0 260.1L191.5 260.7L193.0 261.2L194.5 261.8L196.0 262.3L197.5 262.9L199.0 263.5L200.5 264.0L202.0 264.6L203.5 265.2L205.0 265.7L206.5 266.3L208.0 266.9L209.5 267.4L211.0 268.0L212.5 268.6L214.0 269.1L215.5 269.7L217.0 270.3L218.5 270.8L220.0 271.4L221.5 272.0L223.0 272.5L224.5 273.1L226.0 273.7L227.5 274.2L229.0 274.8L230.5 275.4L232.0 275.9L233.5 276.5L235.0 277.1L236.5 277.6L238.0 278.2L239.5 278.8L241.0 279.3L242.5 279.9L244.0 280.5L245.5 281.0L247.0 281.6L248.5 282.1L250.0 282.7L251.5 283.3L253.0 283.8L254.5 284.4L256.0 284.9L257.5 285.5L259.0 286.1L260.5 286.6L262.0 287.2L263.5 287.7L265.0 288.3L266.5 288.8L268.0 289.4L269.5 289.9L271.0 290.5L272.5 291.0L274.0 291.5L275.5 292.1L277.0 292.6L278.5 293.2L280.0 293.7" stroke="#f00" stroke-width="3.1" fill="none" stroke-linejoin="round"/>
<path d="M68.8 213.8h2.7v2.7h-2.7zM82.7 223.8h2.7v2.7h-2.7zM90.8 225.5h2.7v2.7h-2.7zM96.6 229.0h2.7v2.7h-2.7zM101.1 229.0h2.7v2.7h-2.7zM104.7 229.8h2.7v2.7h-2.7zM110.5 232.5h2.7v2.7h-2.7zM112.9 232.7h2.7v2.7h-2.7zM115.0 232.9h2.7v2.7h-2.7zM116.9 235.3h2.7v2.7h-2.7zM118.7 235.0h2.7v2.7h-2.7zM120.3 234.3h2.7v2.7h-2.7zM121.8 235.2h2.7v2.7h-2.7zM124.4 235.8h2.7v2.7h-2.7zM125.7 236.3h2.7v2.7h-2.7zM126.8 236.0h2.7v2.7h-2.7zM127.9 238.3h2.7v2.7h-2.7zM128.9 235.9h2.7v2.7h-2.7zM129.9 237.6h2.7v2.7h-2.7zM130.8 237.1h2.7v2.7h-2.7zM132.6 238.4h2.7v2.7h-2.7zM133.4 239.7h2.7v2.7h-2.7zM134.2 239.7h2.7v2.7h-2.7zM135.0 240.9h2.7v2.7h-2.7zM136.4 240.2h2.7v2.7h-2.7zM137.1 239.7h2.7v2.7h-2.7zM138.4 241.0h2.7v2.7h-2.7zM139.0 240.9h2.7v2.7h-2.7zM139.6 240.7h2.7v2.7h-2.7zM140.2 240.7h2.7v2.7h-2.7zM140.7 240.9h2.7v2.7h-2.7zM141.3 242.0h2.7v2.7h-2.7zM141.8 243.1h2.7v2.7h-2.7zM142.8 241.6h2.7v2.7h-2.7zM143.3 242.8h2.7v2.7h-2.7zM143.8 241.7h2.7v2.7h-2.7zM144.3 240.8h2.7v2.7h-2.7zM144.8 242.6h2.7v2.7h-2.7zM145.2 243.2h2.7v2.7h-2.7zM146.5 243.6h2.7v2.7h-2.7zM147.3 243.9h2.7v2.7h-2.7zM148.1 244.1h2.7v2.7h-2.7zM148.9 243.7h2.7v2.7h-2.7zM149.6 243.6h2.7v2.7h-2.7zM150.3 244.3h2.7v2.7h-2.7zM151.3 245.0h2.7v2.7h-2.7zM152.3 246.1h2.7v2.7h-2.7zM152.9 246.4h2.7v2.7h-2.7zM153.5 245.9h2.7v2.7h-2.7zM154.1 245.7h2.7v2.7h-2.7zM154.7 246.2h2.7v2.7h-2.7zM155.2 247.0h2.7v2.7h-2.7zM155.7 246.4h2.7v2.7h-2.7zM156.3 246.7h2.7v2.7h-2.7zM156.8 247.0h2.7v2.7h-2.7zM157.3 247.6h2.7v2.7h-2.7zM157.7 248.0h2.7v2.7h-2.7zM158.2 248.1h2.7v2.7h-2.7zM158.7 248.1h2.7v2.7h-2.7zM159.1 247.5h2.7v2.7h-2.7zM159.8 248.3h2.7v2.7h-2.7zM160.4 248.7h2.7v2.7h-2.7zM161.0 248.5h2.7v2.7h-2.7zM161.6 249.1h2.7v2.7h-2.7zM162.2 248.8h2.7v2.7h-2.7zM162.8 249.0h2.7v2.7h-2.7zM163.7 249.8h2.7v2.7h-2.7zM164.2 249.8h2.7v2.7h-2.7zM164.9 250.1h2.7v2.7h-2.7zM165.4 249.8h2.7v2.7h-2.7zM165.9 250.6h2.7v2.7h-2.7zM166.4 251.1h2.7v2.7h-2.7zM166.8 251.0h2.7v2.7h-2.7zM167.4 250.7h2.7v2.7h-2.7zM168.0 250.9h2.7v2.7h-2.7zM168.6 251.3h2.7v2.7h-2.7zM169.1 251.8h2.7v2.7h-2.7zM169.7 252.0h2.7v2.7h-2.7zM170.3 251.7h2.7v2.7h-2.7zM170.8 252.0h2.7v2.7h-2.7zM171.3 252.0h2.7v2.7h-2.7zM171.8 252.4h2.7v2.7h-2.7zM172.3 253.1h2.7v2.7h-2.7zM172.7 253.3h2.7v2.7h-2.7zM173.3 252.9h2.7v2.7h-2.7zM173.8 253.7h2.7v2.7h-2.7zM174.4 253.4h2.7v2.7h-2.7zM174.9 253.7h2.7v2.7h-2.7zM175.4 254.0h2.7v2.7h-2.7zM176.0 254.0h2.7v2.7h-2.7zM176.4 253.8h2.7v2.7h-2.7zM176.9 254.4h2.7v2.7h-2.7zM177.4 254.7h2.7v2.7h-2.7zM178.0 254.9h2.7v2.7h-2.7zM178.5 254.7h2.7v2.7h-2.7zM179.0 255.5h2.7v2.7h-2.7zM179.5 255.1h2.7v2.7h-2.7zM180.0 255.8h2.7v2.7h-2.7zM180.4 255.9h2.7v2.7h-2.7zM180.9 255.9h2.7v2.7h-2.7zM181.4 255.8h2.7v2.7h-2.7zM181.9 256.3h2.7v2.7h-2.7zM182.5 256.7h2.7v2.7h-2.7zM183.0 257.0h2.7v2.7h-2.7zM183.6 257.1h2.7v2.7h-2.7zM184.1 257.8h2.7v2.7h-2.7zM184.6 257.3h2.7v2.7h-2.7zM185.1 257.5h2.7v2.7h-2.7zM185.6 257.5h2.7v2.7h-2.7zM186.1 257.7h2.7v2.7h-2.7zM186.5 258.2h2.7v2.7h-2.7zM187.0 258.3h2.7v2.7h-2.7zM187.5 258.4h2.7v2.7h-2.7zM188.0 258.2h2.7v2.7h-2.7zM188.4 258.8h2.7v2.7h-2.7zM188.9 258.8h2.7v2.7h-2.7zM189.3 258.8h2.7v2.7h-2.7zM189.9 259.0h2.7v2.7h-2.7zM190.4 259.3h2.7v2.7h-2.7zM190.8 259.4h2.7v2.7h-2.7zM191.3 259.7h2.7v2.7h-2.7zM191.8 260.0h2.7v2.7h-2.7zM192.2 260.3h2.7v2.7h-2.7zM192.8 260.3h2.7v2.7h-2.7zM193.2 260.5h2.7v2.7h-2.7zM193.7 260.6h2.7v2.7h-2.7zM194.2 260.7h2.7v2.7h-2.7zM194.7 260.9h2.7v2.7h-2.7zM195.2 261.3h2.7v2.7h-2.7zM195.6 261.3h2.7v2.7h-2.7zM196.1 261.4h2.7v2.7h-2.7zM196.6 261.9h2.7v2.7h-2.7zM197.1 261.7h2.7v2.7h-2.7zM197.5 262.1h2.7v2.7h-2.7zM198.1 262.3h2.7v2.7h-2.7zM198.5 262.3h2.7v2.7h-2.7zM199.0 262.7h2.7v2.7h-2.7zM199.5 262.9h2.7v2.7h-2.7zM200.0 263.4h2.7v2.7h-2.7zM200.5 263.1h2.7v2.7h-2.7zM200.9 263.4h2.7v2.7h-2.7zM201.4 263.7h2.7v2.7h-2.7zM201.8 263.6h2.7v2.7h-2.7zM202.3 263.9h2.7v2.7h-2.7zM202.8 264.0h2.7v2.7h-2.7zM203.2 264.2h2.7v2.7h-2.7zM203.7 264.4h2.7v2.7h-2.7zM204.1 264.7h2.7v2.7h-2.7zM204.6 264.8h2.7v2.7h-2.7zM205.1 265.0h2.7v2.7h-2.7zM205.5 265.1h2.7v2.7h-2.7zM206.0 265.3h2.7v2.7h-2.7zM206.5 265.5h2.7v2.7h-2.7zM206.9 265.6h2.7v2.7h-2.7zM207.4 265.7h2.7v2.7h-2.7zM207.9 266.0h2.7v2.7h-2.7zM208.3 266.1h2.7v2.7h-2.7zM208.8 266.3h2.7v2.7h-2.7zM209.2 266.4h2.7v2.7h-2.7zM209.7 266.7h2.7v2.7h-2.7zM210.2 266.8h2.7v2.7h-2.7zM210.7 267.0h2.7v2.7h-2.7zM211.1 267.2h2.7v2.7h-2.7zM211.6 267.4h2.7v2.7h-2.7zM212.0 267.5h2.7v2.7h-2.7zM212.5 267.7h2.7v2.7h-2.7zM213.0 267.9h2.7v2.7h-2.7zM213.4 268.1h2.7v2.7h-2.7zM213.9 268.2h2.7v2.7h-2.7zM214.3 268.4h2.7v2.7h-2.7zM214.8 268.6h2.7v2.7h-2.7zM215.2 268.8h2.7v2.7h-2.7zM215.7 268.9h2.7v2.7h-2.7zM216.2 269.1h2.7v2.7h-2.7zM216.6 269.3h2.7v2.7h-2.7zM217.1 269.5h2.7v2.7h-2.7zM217.5 269.6h2.7v2.7h-2.7zM218.0 269.8h2.7v2.7h-2.7zM218.5 270.0h2.7v2.7h-2.7zM218.9 270.2h2.7v2.7h-2.7zM219.4 270.3h2.7v2.7h-2.7zM219.9 270.5h2.7v2.7h-2.7zM220.3 270.7h2.7v2.7h-2.7zM220.8 270.9h2.7v2.7h-2.7zM221.2 271.0h2.7v2.7h-2.7zM221.7 271.2h2.7v2.7h-2.7zM222.1 271.4h2.7v2.7h-2.7zM222.6 271.5h2.7v2.7h-2.7zM223.1 271.7h2.7v2.7h-2.7zM223.5 271.9h2.7v2.7h-2.7zM224.0 272.1h2.7v2.7h-2.7zM224.4 272.2h2.7v2.7h-2.7zM224.9 272.4h2.7v2.7h-2.7zM225.3 272.6h2.7v2.7h-2.7zM225.8 272.8h2.7v2.7h-2.7zM226.3 272.9h2.7v2.7h-2.7zM226.7 273.1h2.7v2.7h-2.7zM227.2 273.3h2.7v2.7h-2.7zM227.6 273.4h2.7v2.7h-2.7zM228.1 273.6h2.7v2.7h-2.7zM228.5 273.8h2.7v2.7h-2.7zM229.0 274.0h2.7v2.7h-2.7zM229.4 274.1h2.7v2.7h-2.7zM229.9 274.3h2.7v2.7h-2.7zM230.4 274.5h2.7v2.7h-2.7zM230.8 274.6h2.7v2.7h-2.7zM231.3 274.8h2.7v2.7h-2.7zM231.7 275.0h2.7v2.7h-2.7zM232.2 275.2h2.7v2.7h-2.7zM232.6 275.3h2.7v2.7h-2.7zM233.1 275.5h2.7v2.7h-2.7zM233.5 275.7h2.7v2.7h-2.7zM234.0 275.8h2.7v2.7h-2.7zM234.4 276.0h2.7v2.7h-2.7zM234.9 276.2h2.7v2.7h-2.7zM235.4 276.4h2.7v2.7h-2.7zM235.8 276.5h2.7v2.7h-2.7zM236.3 276.7h2.7v2.7h-2.7zM236.7 276.9h2.7v2.7h-2.7zM237.2 277.0h2.7v2.7h-2.7zM237.6 277.2h2.7v2.7h-2.7zM238.1 277.4h2.7v2.7h-2.7zM238.5 277.6h2.7v2.7h-2.7zM239.0 277.7h2.7v2.7h-2.7zM239.4 277.9h2.7v2.7h-2.7zM239.9 278.1h2.7v2.7h-2.7zM240.3 278.2h2.7v2.7h-2.7zM240.8 278.4h2.7v2.7h-2.7zM241.2 278.6h2.7v2.7h-2.7zM241.7 278.7h2.7v2.7h-2.7zM242.1 278.9h2.7v2.7h-2.7zM242.6 279.1h2.7v2.7h-2.7zM243.0 279.3h2.7v2.7h-2.7zM243.5 279.4h2.7v2.7h-2.7zM244.0 279.6h2.7v2.7h-2.7zM244.4 279.8h2.7v2.7h-2.7zM244.9 279.9h2.7v2.7h-2.7zM245.3 280.1h2.7v2.7h-2.7zM245.8 280.3h2.7v2.7h-2.7zM246.2 280.4h2.7v2.7h-2.7zM246.7 280.6h2.7v2.7h-2.7zM247.1 280.8h2.7v2.7h-2.7zM247.6 281.0h2.7v2.7h-2.7zM248.0 281.1h2.7v2.7h-2.7zM248.5 281.3h2.7v2.7h-2.7zM248.9 281.5h2.7v2.7h-2.7zM249.4 281.6h2.7v2.7h-2.7zM249.8 281.8h2.7v2.7h-2.7zM250.3 282.0h2.7v2.7h-2.7zM250.7 282.1h2.7v2.7h-2.7zM251.2 282.3h2.7v2.7h-2.7zM251.6 282.5h2.7v2.7h-2.7zM252.1 282.6h2.7v2.7h-2.7zM252.5 282.8h2.7v2.7h-2.7zM253.0 283.0h2.7v2.7h-2.7zM253.4 283.1h2.7v2.7h-2.7zM253.9 283.3h2.7v2.7h-2.7zM254.4 283.5h2.7v2.7h-2.7zM254.8 283.6h2.7v2.7h-2.7zM255.3 283.8h2.7v2.7h-2.7zM255.7 284.0h2.7v2.7h-2.7zM256.2 284.1h2.7v2.7h-2.7zM256.6 284.3h2.7v2.7h-2.7zM257.1 284.5h2.7v2.7h-2.7zM257.5 284.6h2.7v2.7h-2.7zM258.0 284.8h2.7v2.7h-2.7zM258.4 285.0h2.7v2.7h-2.7zM258.9 285.1h2.7v2.7h-2.7zM259.3 285.3h2.7v2.7h-2.7zM259.8 285.5h2.7v2.7h-2.7zM260.2 285.6h2.7v2.7h-2.7zM260.7 285.8h2.7v2.7h-2.7zM261.1 286.0h2.7v2.7h-2.7zM261.6 286.1h2.7v2.7h-2.7zM262.0 286.3h2.7v2.7h-2.7zM262.5 286.5h2.7v2.7h-2.7zM262.9 286.6h2.7v2.7h-2.7zM263.4 286.8h2.7v2.7h-2.7zM263.8 287.0h2.7v2.7h-2.7zM264.3 287.1h2.7v2.7h-2.7zM264.7 287.3h2.7v2.7h-2.7zM265.2 287.5h2.7v2.7h-2.7zM265.6 287.6h2.7v2.7h-2.7zM266.1 287.8h2.7v2.7h-2.7zM266.5 288.0h2.7v2.7h-2.7zM267.0 288.1h2.7v2.7h-2.7zM267.4 288.3h2.7v2.7h-2.7zM267.9 288.5h2.7v2.7h-2.7zM268.3 288.6h2.7v2.7h-2.7zM268.8 288.8h2.7v2.7h-2.7zM269.2 289.0h2.7v2.7h-2.7zM269.7 289.1h2.7v2.7h-2.7zM270.1 289.3h2.7v2.7h-2.7zM270.6 289.4h2.7v2.7h-2.7zM271.0 289.6h2.7v2.7h-2.7zM271.5 289.8h2.7v2.7h-2.7zM271.9 289.9h2.7v2.7h-2.7zM272.4 290.1h2.7v2.7h-2.7zM272.8 290.3h2.7v2.7h-2.7zM273.3 290.4h2.7v2.7h-2.7zM273.7 290.6h2.7v2.7h-2.7zM274.2 290.7h2.7v2.7h-2.7zM274.6 290.9h2.7v2.7h-2.7zM275.1 291.1h2.7v2.7h-2.7zM275.5 291.2h2.7v2.7h-2.7zM276.0 291.4h2.7v2.7h-2.7zM276.4 291.6h2.7v2.7h-2.7zM276.9 291.7h2.7v2.7h-2.7zM277.3 291.9h2.7v2.7h-2.7z" fill="#f00"/>
<path d="M197.0 268.1L198.5 268.6L200.0 269.1L201.5 269.7L203.0 270.2L204.5 270.7L206.0 271.2L207.5 271.7L209.0 272.2L210.5 272.7L212.0 273.2L213.5 273.7L215.0 274.2L216.5 274.7L218.0 275.1L219.5 275.6L221.0 276.1L222.5 276.6L224.0 277.1L225.5 277.6L227.0 278.1L228.5 278.6L230.0 279.1L231.5 279.6L233.0 280.1L234.5 280.6L236.0 281.1L237.5 281.5L239.0 282.0L240.5 282.5L242.0 283.0L243.5 283.5L245.0 284.0L246.5 284.5L248.0 285.0L249.5 285.4L251.0 285.9L252.5 286.4L254.0 286.9L255.5 287.4L257.0 287.9L258.5 288.4L260.0 288.9L261.5 289.4L263.0 289.8L264.5 290.3L266.0 290.8L267.5 291.3L269.0 291.8L270.5 292.3L272.0 292.8L273.5 293.3L275.0 293.8L276.5 294.3L278.0 294.8L279.5 295.3" stroke="#00f" stroke-width="3.0" fill="none" stroke-linejoin="round"/>
<path d="M68.8 221.6a1.35 1.35 0 1 0 2.7 0a1.35 1.35 0 1 0 -2.7 0M82.7 231.7a1.35 1.35 0 1 0 2.7 0a1.35 1.35 0 1 0 -2.7 0M90.8 235.5a1.35 1.35 0 1 0 2.7 0a1.35 1.35 0 1 0 -2.7 0M96.6 233.4a1.35 1.35 0 1 0 2.7 0a1.35 1.35 0 1 0 -2.7 0M101.1 232.4a1.35 1.35 0 1 0 2.7 0a1.35 1.35 0 1 0 -2.7 0M104.7 238.9a1.35 1.35 0 1 0 2.7 0a1.35 1.35 0 1 0 -2.7 0M110.5 236.2a1.35 1.35 0 1 0 2.7 0a1.35 1.35 0 1 0 -2.7 0M112.9 238.6a1.35 1.35 0 1 0 2.7 0a1.35 1.35 0 1 0 -2.7 0M115.0 237.3a1.35 1.35 0 1 0 2.7 0a1.35 1.35 0 1 0 -2.7 0M116.9 238.5a1.35 1.35 0 1 0 2.7 0a1.35 1.35 0 1 0 -2.7 0M118.7 240.4a1.35 1.35 0 1 0 2.7 0a1.35 1.35 0 1 0 -2.7 0M120.3 243.4a1.35 1.35 0 1 0 2.7 0a1.35 1.35 0 1 0 -2.7 0M121.8 238.1a1.35 1.35 0 1 0 2.7 0a1.35 1.35 0 1 0 -2.7 0M124.4 244.6a1.35 1.35 0 1 0 2.7 0a1.35 1.35 0 1 0 -2.7 0M125.7 243.2a1.35 1.35 0 1 0 2.7 0a1.35 1.35 0 1 0 -2.7 0M126.8 244.8a1.35 1.35 0 1 0 2.7 0a1.35 1.35 0 1 0 -2.7 0M127.9 244.0a1.35 1.35 0 1 0 2.7 0a1.35 1.35 0 1 0 -2.7 0M128.9 242.2a1.35 1.35 0 1 0 2.7 0a1.35 1.35 0 1 0 -2.7 0M129.9 244.6a1.35 1.35 0 1 0 2.7 0a1.35 1.35 0 1 0 -2.7 0M130.8 246.2a1.35 1.35 0 1 0 2.7 0a1.35 1.35 0 1 0 -2.7 0M132.6 246.7a1.35 1.35 0 1 0 2.7 0a1.35 1.35 0 1 0 -2.7 0M133.4 246.1a1.35 1.35 0 1 0 2.7 0a1.35 1.35 0 1 0 -2.7 0M134.2 245.7a1.35 1.35 0 1 0 2.7 0a1.35 1.35 0 1 0 -2.7 0M135.0 244.5a1.35 1.35 0 1 0 2.7 0a1.35 1.35 0 1 0 -2.7 0M136.4 247.4a1.35 1.35 0 1 0 2.7 0a1.35 1.35 0 1 0 -2.7 0M137.1 247.8a1.35 1.35 0 1 0 2.7 0a1.35 1.35 0 1 0 -2.7 0M138.4 247.4a1.35 1.35 0 1 0 2.7 0a1.35 1.35 0 1 0 -2.7 0M139.0 247.3a1.35 1.35 0 1 0 2.7 0a1.35 1.35 0 1 0 -2.7 0M139.6 246.9a1.35 1.35 0 1 0 2.7 0a1.35 1.35 0 1 0 -2.7 0M140.2 247.3a1.35 1.35 0 1 0 2.7 0a1.35 1.35 0 1 0 -2.7 0M140.7 246.8a1.35 1.35 0 1 0 2.7 0a1.35 1.35 0 1 0 -2.7 0M141.3 249.8a1.35 1.35 0 1 0 2.7 0a1.35 1.35 0 1 0 -2.7 0M141.8 248.3a1.35 1.35 0 1 0 2.7 0a1.35 1.35 0 1 0 -2.7 0M142.8 249.1a1.35 1.35 0 1 0 2.7 0a1.35 1.35 0 1 0 -2.7 0M143.3 248.8a1.35 1.35 0 1 0 2.7 0a1.35 1.35 0 1 0 -2.7 0M143.8 251.8a1.35 1.35 0 1 0 2.7 0a1.35 1.35 0 1 0 -2.7 0M144.3 249.6a1.35 1.35 0 1 0 2.7 0a1.35 1.35 0 1 0 -2.7 0M144.8 248.8a1.35 1.35 0 1 0 2.7 0a1.35 1.35 0 1 0 -2.7 0M145.2 249.8a1.35 1.35 0 1 0 2.7 0a1.35 1.35 0 1 0 -2.7 0M146.5 251.9a1.35 1.35 0 1 0 2.7 0a1.35 1.35 0 1 0 -2.7 0M147.3 252.0a1.35 1.35 0 1 0 2.7 0a1.35 1.35 0 1 0 -2.7 0M148.1 251.4a1.35 1.35 0 1 0 2.7 0a1.35 1.35 0 1 0 -2.7 0M148.9 249.3a1.35 1.35 0 1 0 2.7 0a1.35 1.35 0 1 0 -2.7 0M149.6 251.1a1.35 1.35 0 1 0 2.7 0a1.35 1.35 0 1 0 -2.7 0M150.3 252.9a1.35 1.35 0 1 0 2.7 0a1.35 1.35 0 1 0 -2.7 0M151.3 252.3a1.35 1.35 0 1 0 2.7 0a1.35 1.35 0 1 0 -2.7 0M152.3 254.4a1.35 1.35 0 1 0 2.7 0a1.35 1.35 0 1 0 -2.7 0M152.9 252.1a1.35 1.35 0 1 0 2.7 0a1.35 1.35 0 1 0 -2.7 0M153.5 253.6a1.35 1.35 0 1 0 2.7 0a1.35 1.35 0 1 0 -2.7 0M154.1 254.4a1.35 1.35 0 1 0 2.7 0a1.35 1.35 0 1 0 -2.7 0M154.7 253.3a1.35 1.35 0 1 0 2.7 0a1.35 1.35 0 1 0 -2.7 0M155.2 254.2a1.35 1.35 0 1 0 2.7 0a1.35 1.35 0 1 0 -2.7 0M155.7 253.3a1.35 1.35 0 1 0 2.7 0a1.35 1.35 0 1 0 -2.7 0M156.3 254.2a1.35 1.35 0 1 0 2.7 0a1.35 1.35 0 1 0 -2.7 0M156.8 255.0a1.35 1.35 0 1 0 2.7 0a1.35 1.35 0 1 0 -2.7 0M157.3 255.0a1.35 1.35 0 1 0 2.7 0a1.35 1.35 0 1 0 -2.7 0M157.7 254.7a1.35 1.35 0 1 0 2.7 0a1.35 1.35 0 1 0 -2.7 0M158.2 255.2a1.35 1.35 0 1 0 2.7 0a1.35 1.35 0 1 0 -2.7 0M158.7 255.8a1.35 1.35 0 1 0 2.7 0a1.35 1.35 0 1 0 -2.7 0M159.1 254.9a1.35 1.35 0 1 0 2.7 0a1.35 1.35 0 1 0 -2.7 0M159.8 256.3a1.35 1.35 0 1 0 2.7 0a1.35 1.35 0 1 0 -2.7 0M160.4 254.6a1.35 1.35 0 1 0 2.7 0a1.35 1.35 0 1 0 -2.7 0M161.0 255.3a1.35 1.35 0 1 0 2.7 0a1.35 1.35 0 1 0 -2.7 0M161.6 257.3a1.35 1.35 0 1 0 2.7 0a1.35 1.35 0 1 0 -2.7 0M162.2 255.7a1.35 1.35 0 1 0 2.7 0a1.35 1.35 0 1 0 -2.7 0M162.8 256.1a1.35 1.35 0 1 0 2.7 0a1.35 1.35 0 1 0 -2.7 0M163.7 257.0a1.35 1.35 0 1 0 2.7 0a1.35 1.35 0 1 0 -2.7 0M164.2 257.4a1.35 1.35 0 1 0 2.7 0a1.35 1.35 0 1 0 -2.7 0M164.9 257.7a1.35 1.35 0 1 0 2.7 0a1.35 1.35 0 1 0 -2.7 0M165.4 258.0a1.35 1.35 0 1 0 2.7 0a1.35 1.35 0 1 0 -2.7 0M165.9 258.2a1.35 1.35 0 1 0 2.7 0a1.35 1.35 0 1 0 -2.7 0M166.4 258.1a1.35 1.35 0 1 0 2.7 0a1.35 1.35 0 1 0 -2.7 0M166.8 257.7a1.35 1.35 0 1 0 2.7 0a1.35 1.35 0 1 0 -2.7 0M167.4 258.3a1.35 1.35 0 1 0 2.7 0a1.35 1.35 0 1 0 -2.7 0M168.0 258.4a1.35 1.35 0 1 0 2.7 0a1.35 1.35 0 1 0 -2.7 0M168.6 259.2a1.35 1.35 0 1 0 2.7 0a1.35 1.35 0 1 0 -2.7 0M169.1 259.5a1.35 1.35 0 1 0 2.7 0a1.35 1.35 0 1 0 -2.7 0M169.7 258.8a1.35 1.35 0 1 0 2.7 0a1.35 1.35 0 1 0 -2.7 0M170.3 259.8a1.35 1.35 0 1 0 2.7 0a1.35 1.35 0 1 0 -2.7 0M170.8 260.6a1.35 1.35 0 1 0 2.7 0a1.35 1.35 0 1 0 -2.7 0M171.3 260.1a1.35 1.35 0 1 0 2.7 0a1.35 1.35 0 1 0 -2.7 0M171.8 260.3a1.35 1.35 0 1 0 2.7 0a1.35 1.35 0 1 0 -2.7 0M172.3 260.0a1.35 1.35 0 1 0 2.7 0a1.35 1.35 0 1 0 -2.7 0M172.7 259.9a1.35 1.35 0 1 0 2.7 0a1.35 1.35 0 1 0 -2.7 0M173.3 259.9a1.35 1.35 0 1 0 2.7 0a1.35 1.35 0 1 0 -2.7 0M173.8 260.3a1.35 1.35 0 1 0 2.7 0a1.35 1.35 0 1 0 -2.7 0M174.4 260.6a1.35 1.35 0 1 0 2.7 0a1.35 1.35 0 1 0 -2.7 0M174.9 260.5a1.35 1.35 0 1 0 2.7 0a1.35 1.35 0 1 0 -2.7 0M175.4 261.5a1.35 1.35 0 1 0 2.7 0a1.35 1.35 0 1 0 -2.7 0M176.0 261.5a1.35 1.35 0 1 0 2.7 0a1.35 1.35 0 1 0 -2.7 0M176.4 261.1a1.35 1.35 0 1 0 2.7 0a1.35 1.35 0 1 0 -2.7 0M176.9 261.3a1.35 1.35 0 1 0 2.7 0a1.35 1.35 0 1 0 -2.7 0M177.4 261.6a1.35 1.35 0 1 0 2.7 0a1.35 1.35 0 1 0 -2.7 0M178.0 262.3a1.35 1.35 0 1 0 2.7 0a1.35 1.35 0 1 0 -2.7 0M178.5 262.0a1.35 1.35 0 1 0 2.7 0a1.35 1.35 0 1 0 -2.7 0M179.0 262.1a1.35 1.35 0 1 0 2.7 0a1.35 1.35 0 1 0 -2.7 0M179.5 262.7a1.35 1.35 0 1 0 2.7 0a1.35 1.35 0 1 0 -2.7 0M180.0 262.5a1.35 1.35 0 1 0 2.7 0a1.35 1.35 0 1 0 -2.7 0M180.4 262.7a1.35 1.35 0 1 0 2.7 0a1.35 1.35 0 1 0 -2.7 0M180.9 262.7a1.35 1.35 0 1 0 2.7 0a1.35 1.35 0 1 0 -2.7 0M181.4 263.1a1.35 1.35 0 1 0 2.7 0a1.35 1.35 0 1 0 -2.7 0M181.9 263.0a1.35 1.35 0 1 0 2.7 0a1.35 1.35 0 1 0 -2.7 0M182.5 263.5a1.35 1.35 0 1 0 2.7 0a1.35 1.35 0 1 0 -2.7 0M183.0 263.8a1.35 1.35 0 1 0 2.7 0a1.35 1.35 0 1 0 -2.7 0M183.6 263.9a1.35 1.35 0 1 0 2.7 0a1.35 1.35 0 1 0 -2.7 0M184.1 264.0a1.35 1.35 0 1 0 2.7 0a1.35 1.35 0 1 0 -2.7 0M184.6 264.7a1.35 1.35 0 1 0 2.7 0a1.35 1.35 0 1 0 -2.7 0M185.1 264.2a1.35 1.35 0 1 0 2.7 0a1.35 1.35 0 1 0 -2.7 0M185.6 264.9a1.35 1.35 0 1 0 2.7 0a1.35 1.35 0 1 0 -2.7 0M186.1 264.6a1.35 1.35 0 1 0 2.7 0a1.35 1.35 0 1 0 -2.7 0M186.5 264.8a1.35 1.35 0 1 0 2.7 0a1.35 1.35 0 1 0 -2.7 0M187.0 265.4a1.35 1.35 0 1 0 2.7 0a1.35 1.35 0 1 0 -2.7 0M187.5 265.2a1.35 1.35 0 1 0 2.7 0a1.35 1.35 0 1 0 -2.7 0M188.0 265.5a1.35 1.35 0 1 0 2.7 0a1.35 1.35 0 1 0 -2.7 0M188.4 265.8a1.35 1.35 0 1 0 2.7 0a1.35 1.35 0 1 0 -2.7 0M188.9 265.6a1.35 1.35 0 1 0 2.7 0a1.35 1.35 0 1 0 -2.7 0M189.3 266.2a1.35 1.35 0 1 0 2.7 0a1.35 1.35 0 1 0 -2.7 0M189.9 266.2a1.35 1.35 0 1 0 2.7 0a1.35 1.35 0 1 0 -2.7 0M190.4 266.7a1.35 1.35 0 1 0 2.7 0a1.35 1.35 0 1 0 -2.7 0M190.8 266.6a1.35 1.35 0 1 0 2.7 0a1.35 1.35 0 1 0 -2.7 0M191.3 266.8a1.35 1.35 0 1 0 2.7 0a1.35 1.35 0 1 0 -2.7 0M191.8 266.9a1.35 1.35 0 1 0 2.7 0a1.35 1.35 0 1 0 -2.7 0M192.2 267.2a1.35 1.35 0 1 0 2.7 0a1.35 1.35 0 1 0 -2.7 0M192.8 267.2a1.35 1.35 0 1 0 2.7 0a1.35 1.35 0 1 0 -2.7 0M193.2 267.3a1.35 1.35 0 1 0 2.7 0a1.35 1.35 0 1 0 -2.7 0M193.7 267.4a1.35 1.35 0 1 0 2.7 0a1.35 1.35 0 1 0 -2.7 0M194.2 267.8a1.35 1.35 0 1 0 2.7 0a1.35 1.35 0 1 0 -2.7 0M194.7 267.7a1.35 1.35 0 1 0 2.7 0a1.35 1.35 0 1 0 -2.7 0M195.2 268.1a1.35 1.35 0 1 0 2.7 0a1.35 1.35 0 1 0 -2.7 0M195.6 268.2a1.35 1.35 0 1 0 2.7 0a1.35 1.35 0 1 0 -2.7 0M196.1 268.3a1.35 1.35 0 1 0 2.7 0a1.35 1.35 0 1 0 -2.7 0M196.6 268.6a1.35 1.35 0 1 0 2.7 0a1.35 1.35 0 1 0 -2.7 0M197.1 268.6a1.35 1.35 0 1 0 2.7 0a1.35 1.35 0 1 0 -2.7 0M197.5 268.7a1.35 1.35 0 1 0 2.7 0a1.35 1.35 0 1 0 -2.7 0M198.1 268.9a1.35 1.35 0 1 0 2.7 0a1.35 1.35 0 1 0 -2.7 0M198.5 269.2a1.35 1.35 0 1 0 2.7 0a1.35 1.35 0 1 0 -2.7 0M199.0 269.3a1.35 1.35 0 1 0 2.7 0a1.35 1.35 0 1 0 -2.7 0M199.5 269.5a1.35 1.35 0 1 0 2.7 0a1.35 1.35 0 1 0 -2.7 0M200.0 269.6a1.35 1.35 0 1 0 2.7 0a1.35 1.35 0 1 0 -2.7 0M200.5 269.7a1.35 1.35 0 1 0 2.7 0a1.35 1.35 0 1 0 -2.7 0M200.9 269.9a1.35 1.35 0 1 0 2.7 0a1.35 1.35 0 1 0 -2.7 0M201.4 270.1a1.35 1.35 0 1 0 2.7 0a1.35 1.35 0 1 0 -2.7 0M201.8 270.2a1.35 1.35 0 1 0 2.7 0a1.35 1.35 0 1 0 -2.7 0M202.3 270.4a1.35 1.35 0 1 0 2.7 0a1.35 1.35 0 1 0 -2.7 0M202.8 270.5a1.35 1.35 0 1 0 2.7 0a1.35 1.35 0 1 0 -2.7 0M203.2 270.7a1.35 1.35 0 1 0 2.7 0a1.35 1.35 0 1 0 -2.7 0M203.7 270.8a1.35 1.35 0 1 0 2.7 0a1.35 1.35 0 1 0 -2.7 0M204.1 271.0a1.35 1.35 0 1 0 2.7 0a1.35 1.35 0 1 0 -2.7 0M204.6 271.1a1.35 1.35 0 1 0 2.7 0a1.35 1.35 0 1 0 -2.7 0M205.1 271.3a1.35 1.35 0 1 0 2.7 0a1.35 1.35 0 1 0 -2.7 0M205.5 271.5a1.35 1.35 0 1 0 2.7 0a1.35 1.35 0 1 0 -2.7 0M206.0 271.6a1.35 1.35 0 1 0 2.7 0a1.35 1.35 0 1 0 -2.7 0M206.5 271.8a1.35 1.35 0 1 0 2.7 0a1.35 1.35 0 1 0 -2.7 0M206.9 271.9a1.35 1.35 0 1 0 2.7 0a1.35 1.35 0 1 0 -2.7 0M207.4 272.1a1.35 1.35 0 1 0 2.7 0a1.35 1.35 0 1 0 -2.7 0M207.9 272.2a1.35 1.35 0 1 0 2.7 0a1.35 1.35 0 1 0 -2.7 0M208.3 272.4a1.35 1.35 0 1 0 2.7 0a1.35 1.35 0 1 0 -2.7 0M208.8 272.5a1.35 1.35 0 1 0 2.7 0a1.35 1.35 0 1 0 -2.7 0M209.2 272.7a1.35 1.35 0 1 0 2.7 0a1.35 1.35 0 1 0 -2.7 0M209.7 272.9a1.35 1.35 0 1 0 2.7 0a1.35 1.35 0 1 0 -2.7 0M210.2 273.0a1.35 1.35 0 1 0 2.7 0a1.35 1.35 0 1 0 -2.7 0M210.7 273.2a1.35 1.35 0 1 0 2.7 0a1.35 1.35 0 1 0 -2.7 0M211.1 273.3a1.35 1.35 0 1 0 2.7 0a1.35 1.35 0 1 0 -2.7 0M211.6 273.5a1.35 1.35 0 1 0 2.7 0a1.35 1.35 0 1 0 -2.7 0M212.0 273.6a1.35 1.35 0 1 0 2.7 0a1.35 1.35 0 1 0 -2.7 0M212.5 273.8a1.35 1.35 0 1 0 2.7 0a1.35 1.35 0 1 0 -2.7 0M213.0 273.9a1.35 1.35 0 1 0 2.7 0a1.35 1.35 0 1 0 -2.7 0M213.4 274.1a1.35 1.35 0 1 0 2.7 0a1.35 1.35 0 1 0 -2.7 0M213.9 274.2a1.35 1.35 0 1 0 2.7 0a1.35 1.35 0 1 0 -2.7 0M214.3 274.4a1.35 1.35 0 1 0 2.7 0a1.35 1.35 0 1 0 -2.7 0M214.8 274.5a1.35 1.35 0 1 0 2.7 0a1.35 1.35 0 1 0 -2.7 0M215.2 274.7a1.35 1.35 0 1 0 2.7 0a1.35 1.35 0 1 0 -2.7 0M215.7 274.8a1.35 1.35 0 1 0 2.7 0a1.35 1.35 0 1 0 -2.7 0M216.2 275.0a1.35 1.35 0 1 0 2.7 0a1.35 1.35 0 1 0 -2.7 0M216.6 275.1a1.35 1.35 0 1 0 2.7 0a1.35 1.35 0 1 0 -2.7 0M217.1 275.3a1.35 1.35 0 1 0 2.7 0a1.35 1.35 0 1 0 -2.7 0M217.5 275.4a1.35 1.35 0 1 0 2.7 0a1.35 1.35 0 1 0 -2.7 0M218.0 275.6a1.35 1.35 0 1 0 2.7 0a1.35 1.35 0 1 0 -2.7 0M218.5 275.8a1.35 1.35 0 1 0 2.7 0a1.35 1.35 0 1 0 -2.7 0M218.9 275.9a1.35 1.35 0 1 0 2.7 0a1.35 1.35 0 1 0 -2.7 0M219.4 276.1a1.35 1.35 0 1 0 2.7 0a1.35 1.35 0 1 0 -2.7 0M219.9 276.2a1.35 1.35 0 1 0 2.7 0a1.35 1.35 0 1 0 -2.7 0M220.3 276.4a1.35 1.35 0 1 0 2.7 0a1.35 1.35 0 1 0 -2.7 0M220.8 276.5a1.35 1.35 0 1 0 2.7 0a1.35 1.35 0 1 0 -2.7 0M221.2 276.7a1.35 1.35 0 1 0 2.7 0a1.35 1.35 0 1 0 -2.7 0M221.7 276.8a1.35 1.35 0 1 0 2.7 0a1.35 1.35 0 1 0 -2.7 0M222.1 277.0a1.35 1.35 0 1 0 2.7 0a1.35 1.35 0 1 0 -2.7 0M222.6 277.1a1.35 1.35 0 1 0 2.7 0a1.35 1.35 0 1 0 -2.7 0M223.1 277.3a1.35 1.35 0 1 0 2.7 0a1.35 1.35 0 1 0 -2.7 0M223.5 277.4a1.35 1.35 0 1 0 2.7 0a1.35 1.35 0 1 0 -2.7 0M224.0 277.6a1.35 1.35 0 1 0 2.7 0a1.35 1.35 0 1 0 -2.7 0M224.4 277.7a1.35 1.35 0 1 0 2.7 0a1.35 1.35 0 1 0 -2.7 0M224.9 277.9a1.35 1.35 0 1 0 2.7 0a1.35 1.35 0 1 0 -2.7 0M225.3 278.0a1.35 1.35 0 1 0 2.7 0a1.35 1.35 0 1 0 -2.7 0M225.8 278.2a1.35 1.35 0 1 0 2.7 0a1.35 1.35 0 1 0 -2.7 0M226.3 278.3a1.35 1.35 0 1 0 2.7 0a1.35 1.35 0 1 0 -2.7 0M226.7 278.5a1.35 1.35 0 1 0 2.7 0a1.35 1.35 0 1 0 -2.7 0M227.2 278.6a1.35 1.35 0 1 0 2.7 0a1.35 1.35 0 1 0 -2.7 0M227.6 278.8a1.35 1.35 0 1 0 2.7 0a1.35 1.35 0 1 0 -2.7 0M228.1 278.9a1.35 1.35 0 1 0 2.7 0a1.35 1.35 0 1 0 -2.7 0M228.5 279.1a1.35 1.35 0 1 0 2.7 0a1.35 1.35 0 1 0 -2.7 0M229.0 279.2a1.35 1.35 0 1 0 2.7 0a1.35 1.35 0 1 0 -2.7 0M229.4 279.3a1.35 1.35 0 1 0 2.7 0a1.35 1.35 0 1 0 -2.7 0M229.9 279.5a1.35 1.35 0 1 0 2.7 0a1.35 1.35 0 1 0 -2.7 0M230.4 279.6a1.35 1.35 0 1 0 2.7 0a1.35 1.35 0 1 0 -2.7 0M230.8 279.8a1.35 1.35 0 1 0 2.7 0a1.35 1.35 0 1 0 -2.7 0M231.3 279.9a1.35 1.35 0 1 0 2.7 0a1.35 1.35 0 1 0 -2.7 0M231.7 280.1a1.35 1.35 0 1 0 2.7 0a1.35 1.35 0 1 0 -2.7 0M232.2 280.2a1.35 1.35 0 1 0 2.7 0a1.35 1.35 0 1 0 -2.7 0M232.6 280.4a1.35 1.35 0 1 0 2.7 0a1.35 1.35 0 1 0 -2.7 0M233.1 280.5a1.35 1.35 0 1 0 2.7 0a1.35 1.35 0 1 0 -2.7 0M233.5 280.7a1.35 1.35 0 1 0 2.7 0a1.35 1.35 0 1 0 -2.7 0M234.0 280.8a1.35 1.35 0 1 0 2.7 0a1.35 1.35 0 1 0 -2.7 0M234.4 281.0a1.35 1.35 0 1 0 2.7 0a1.35 1.35 0 1 0 -2.7 0M234.9 281.1a1.35 1.35 0 1 0 2.7 0a1.35 1.35 0 1 0 -2.7 0M235.4 281.3a1.35 1.35 0 1 0 2.7 0a1.35 1.35 0 1 0 -2.7 0M235.8 281.4a1.35 1.35 0 1 0 2.7 0a1.35 1.35 0 1 0 -2.7 0M236.3 281.6a1.35 1.35 0 1 0 2.7 0a1.35 1.35 0 1 0 -2.7 0M236.7 281.7a1.35 1.35 0 1 0 2.7 0a1.35 1.35 0 1 0 -2.7 0M237.2 281.9a1.35 1.35 0 1 0 2.7 0a1.35 1.35 0 1 0 -2.7 0M237.6 282.0a1.35 1.35 0 1 0 2.7 0a1.35 1.35 0 1 0 -2.7 0M238.1 282.2a1.35 1.35 0 1 0 2.7 0a1.35 1.35 0 1 0 -2.7 0M238.5 282.3a1.35 1.35 0 1 0 2.7 0a1.35 1.35 0 1 0 -2.7 0M239.0 282.5a1.35 1.35 0 1 0 2.7 0a1.35 1.35 0 1 0 -2.7 0M239.4 282.6a1.35 1.35 0 1 0 2.7 0a1.35 1.35 0 1 0 -2.7 0M239.9 282.8a1.35 1.35 0 1 0 2.7 0a1.35 1.35 0 1 0 -2.7 0M240.3 282.9a1.35 1.35 0 1 0 2.7 0a1.35 1.35 0 1 0 -2.7 0M240.8 283.1a1.35 1.35 0 1 0 2.7 0a1.35 1.35 0 1 0 -2.7 0M241.2 283.2a1.35 1.35 0 1 0 2.7 0a1.35 1.35 0 1 0 -2.7 0M241.7 283.3a1.35 1.35 0 1 0 2.7 0a1.35 1.35 0 1 0 -2.7 0M242.1 283.5a1.35 1.35 0 1 0 2.7 0a1.35 1.35 0 1 0 -2.7 0M242.6 283.6a1.35 1.35 0 1 0 2.7 0a1.35 1.35 0 1 0 -2.7 0M243.0 283.8a1.35 1.35 0 1 0 2.7 0a1.35 1.35 0 1 0 -2.7 0M243.5 283.9a1.35 1.35 0 1 0 2.7 0a1.35 1.35 0 1 0 -2.7 0M244.0 284.1a1.35 1.35 0 1 0 2.7 0a1.35 1.35 0 1 0 -2.7 0M244.4 284.2a1.35 1.35 0 1 0 2.7 0a1.35 1.35 0 1 0 -2.7 0M244.9 284.4a1.35 1.35 0 1 0 2.7 0a1.35 1.35 0 1 0 -2.7 0M245.3 284.5a1.35 1.35 0 1 0 2.7 0a1.35 1.35 0 1 0 -2.7 0M245.8 284.7a1.35 1.35 0 1 0 2.7 0a1.35 1.35 0 1 0 -2.7 0M246.2 284.8a1.35 1.35 0 1 0 2.7 0a1.35 1.35 0 1 0 -2.7 0M246.7 285.0a1.35 1.35 0 1 0 2.7 0a1.35 1.35 0 1 0 -2.7 0M247.1 285.1a1.35 1.35 0 1 0 2.7 0a1.35 1.35 0 1 0 -2.7 0M247.6 285.3a1.35 1.35 0 1 0 2.7 0a1.35 1.35 0 1 0 -2.7 0M248.0 285.4a1.35 1.35 0 1 0 2.7 0a1.35 1.35 0 1 0 -2.7 0M248.5 285.6a1.35 1.35 0 1 0 2.7 0a1.35 1.35 0 1 0 -2.7 0M248.9 285.7a1.35 1.35 0 1 0 2.7 0a1.35 1.35 0 1 0 -2.7 0M249.4 285.8a1.35 1.35 0 1 0 2.7 0a1.35 1.35 0 1 0 -2.7 0M249.8 286.0a1.35 1.35 0 1 0 2.7 0a1.35 1.35 0 1 0 -2.7 0M250.3 286.1a1.35 1.35 0 1 0 2.7 0a1.35 1.35 0 1 0 -2.7 0M250.7 286.3a1.35 1.35 0 1 0 2.7 0a1.35 1.35 0 1 0 -2.7 0M251.2 286.4a1.35 1.35 0 1 0 2.7 0a1.35 1.35 0 1 0 -2.7 0M251.6 286.6a1.35 1.35 0 1 0 2.7 0a1.35 1.35 0 1 0 -2.7 0M252.1 286.7a1.35 1.35 0 1 0 2.7 0a1.35 1.35 0 1 0 -2.7 0M252.5 286.9a1.35 1.35 0 1 0 2.7 0a1.35 1.35 0 1 0 -2.7 0M253.0 287.0a1.35 1.35 0 1 0 2.7 0a1.35 1.35 0 1 0 -2.7 0M253.4 287.2a1.35 1.35 0 1 0 2.7 0a1.35 1.35 0 1 0 -2.7 0M253.9 287.3a1.35 1.35 0 1 0 2.7 0a1.35 1.35 0 1 0 -2.7 0M254.4 287.5a1.35 1.35 0 1 0 2.7 0a1.35 1.35 0 1 0 -2.7 0M254.8 287.6a1.35 1.35 0 1 0 2.7 0a1.35 1.35 0 1 0 -2.7 0M255.3 287.8a1.35 1.35 0 1 0 2.7 0a1.35 1.35 0 1 0 -2.7 0M255.7 287.9a1.35 1.35 0 1 0 2.7 0a1.35 1.35 0 1 0 -2.7 0M256.2 288.1a1.35 1.35 0 1 0 2.7 0a1.35 1.35 0 1 0 -2.7 0M256.6 288.2a1.35 1.35 0 1 0 2.7 0a1.35 1.35 0 1 0 -2.7 0M257.1 288.4a1.35 1.35 0 1 0 2.7 0a1.35 1.35 0 1 0 -2.7 0M257.5 288.5a1.35 1.35 0 1 0 2.7 0a1.35 1.35 0 1 0 -2.7 0M258.0 288.6a1.35 1.35 0 1 0 2.7 0a1.35 1.35 0 1 0 -2.7 0M258.4 288.8a1.35 1.35 0 1 0 2.7 0a1.35 1.35 0 1 0 -2.7 0M258.9 288.9a1.35 1.35 0 1 0 2.7 0a1.35 1.35 0 1 0 -2.7 0M259.3 289.1a1.35 1.35 0 1 0 2.7 0a1.35 1.35 0 1 0 -2.7 0M259.8 289.2a1.35 1.35 0 1 0 2.7 0a1.35 1.35 0 1 0 -2.7 0M260.2 289.4a1.35 1.35 0 1 0 2.7 0a1.35 1.35 0 1 0 -2.7 0M260.7 289.5a1.35 1.35 0 1 0 2.7 0a1.35 1.35 0 1 0 -2.7 0M261.1 289.7a1.35 1.35 0 1 0 2.7 0a1.35 1.35 0 1 0 -2.7 0M261.6 289.8a1.35 1.35 0 1 0 2.7 0a1.35 1.35 0 1 0 -2.7 0M262.0 290.0a1.35 1.35 0 1 0 2.7 0a1.35 1.35 0 1 0 -2.7 0M262.5 290.1a1.35 1.35 0 1 0 2.7 0a1.35 1.35 0 1 0 -2.7 0M262.9 290.3a1.35 1.35 0 1 0 2.7 0a1.35 1.35 0 1 0 -2.7 0M263.4 290.4a1.35 1.35 0 1 0 2.7 0a1.35 1.35 0 1 0 -2.7 0M263.8 290.6a1.35 1.35 0 1 0 2.7 0a1.35 1.35 0 1 0 -2.7 0M264.3 290.7a1.35 1.35 0 1 0 2.7 0a1.35 1.35 0 1 0 -2.7 0M264.7 290.9a1.35 1.35 0 1 0 2.7 0a1.35 1.35 0 1 0 -2.7 0M265.2 291.0a1.35 1.35 0 1 0 2.7 0a1.35 1.35 0 1 0 -2.7 0M265.6 291.1a1.35 1.35 0 1 0 2.7 0a1.35 1.35 0 1 0 -2.7 0M266.1 291.3a1.35 1.35 0 1 0 2.7 0a1.35 1.35 0 1 0 -2.7 0M266.5 291.4a1.35 1.35 0 1 0 2.7 0a1.35 1.35 0 1 0 -2.7 0M267.0 291.6a1.35 1.35 0 1 0 2.7 0a1.35 1.35 0 1 0 -2.7 0M267.4 291.7a1.35 1.35 0 1 0 2.7 0a1.35 1.35 0 1 0 -2.7 0M267.9 291.9a1.35 1.35 0 1 0 2.7 0a1.35 1.35 0 1 0 -2.7 0M268.3 292.0a1.35 1.35 0 1 0 2.7 0a1.35 1.35 0 1 0 -2.7 0M268.8 292.2a1.35 1.35 0 1 0 2.7 0a1.35 1.35 0 1 0 -2.7 0M269.2 292.3a1.35 1.35 0 1 0 2.7 0a1.35 1.35 0 1 0 -2.7 0M269.7 292.5a1.35 1.35 0 1 0 2.7 0a1.35 1.35 0 1 0 -2.7 0M270.1 292.6a1.35 1.35 0 1 0 2.7 0a1.35 1.35 0 1 0 -2.7 0M270.6 292.8a1.35 1.35 0 1 0 2.7 0a1.35 1.35 0 1 0 -2.7 0M271.0 292.9a1.35 1.35 0 1 0 2.7 0a1.35 1.35 0 1 0 -2.7 0M271.5 293.1a1.35 1.35 0 1 0 2.7 0a1.35 1.35 0 1 0 -2.7 0M271.9 293.2a1.35 1.35 0 1 0 2.7 0a1.35 1.35 0 1 0 -2.7 0M272.4 293.4a1.35 1.35 0 1 0 2.7 0a1.35 1.35 0 1 0 -2.7 0M272.8 293.5a1.35 1.35 0 1 0 2.7 0a1.35 1.35 0 1 0 -2.7 0M273.3 293.7a1.35 1.35 0 1 0 2.7 0a1.35 1.35 0 1 0 -2.7 0M273.7 293.8a1.35 1.35 0 1 0 2.7 0a1.35 1.35 0 1 0 -2.7 0M274.2 294.0a1.35 1.35 0 1 0 2.7 0a1.35 1.35 0 1 0 -2.7 0M274.6 294.1a1.35 1.35 0 1 0 2.7 0a1.35 1.35 0 1 0 -2.7 0M275.1 294.3a1.35 1.35 0 1 0 2.7 0a1.35 1.35 0 1 0 -2.7 0M275.5 294.4a1.35 1.35 0 1 0 2.7 0a1.35 1.35 0 1 0 -2.7 0M276.0 294.6a1.35 1.35 0 1 0 2.7 0a1.35 1.35 0 1 0 -2.7 0M276.4 294.7a1.35 1.35 0 1 0 2.7 0a1.35 1.35 0 1 0 -2.7 0M276.9 294.8a1.35 1.35 0 1 0 2.7 0a1.35 1.35 0 1 0 -2.7 0M277.3 295.0a1.35 1.35 0 1 0 2.7 0a1.35 1.35 0 1 0 -2.7 0" stroke="#00f" stroke-width="0.55" fill="none"/>
<path d="M197.0 286.0L198.5 286.2L200.0 286.4L201.5 286.6L203.0 286.8L204.5 287.0L206.0 287.2L207.5 287.4L209.0 287.6L210.5 287.8L212.0 288.0L213.5 288.2L215.0 288.5L216.5 288.7L218.0 288.9L219.5 289.1L221.0 289.3L222.5 289.6L224.0 289.8L225.5 290.0L227.0 290.2L228.5 290.5L230.0 290.7L231.5 290.9L233.0 291.1L234.5 291.4L236.0 291.6L237.5 291.8L239.0 292.0L240.5 292.3L242.0 292.5L243.5 292.7L245.0 292.9L246.5 293.2L248.0 293.4L249.5 293.6L251.0 293.8L252.5 294.0L254.0 294.2L255.5 294.5L257.0 294.7L258.5 294.9L260.0 295.1L261.5 295.3L263.0 295.5L264.5 295.7L266.0 295.9L267.5 296.1L269.0 296.3L270.5 296.5L272.0 296.6L273.5 296.8L275.0 297.0L276.5 297.2L278.0 297.3L279.5 297.5" stroke="#808080" stroke-width="3.0" fill="none" stroke-linejoin="round"/>
<path d="M68.9 281.9h2.35v2.35h-2.35zM82.8 281.4h2.35v2.35h-2.35zM91.0 287.1h2.35v2.35h-2.35zM96.8 280.1h2.35v2.35h-2.35zM101.3 279.8h2.35v2.35h-2.35zM104.9 280.7h2.35v2.35h-2.35zM110.7 282.2h2.35v2.35h-2.35zM113.1 283.0h2.35v2.35h-2.35zM115.2 281.2h2.35v2.35h-2.35zM117.1 282.3h2.35v2.35h-2.35zM118.8 282.7h2.35v2.35h-2.35zM120.4 279.6h2.35v2.35h-2.35zM121.9 281.8h2.35v2.35h-2.35zM124.6 281.3h2.35v2.35h-2.35zM125.8 281.6h2.35v2.35h-2.35zM127.0 281.7h2.35v2.35h-2.35zM128.1 280.7h2.35v2.35h-2.35zM129.1 283.3h2.35v2.35h-2.35zM130.1 280.5h2.35v2.35h-2.35zM131.0 283.0h2.35v2.35h-2.35zM132.8 280.3h2.35v2.35h-2.35zM133.6 281.4h2.35v2.35h-2.35zM134.4 280.8h2.35v2.35h-2.35zM135.1 281.4h2.35v2.35h-2.35zM136.6 280.3h2.35v2.35h-2.35zM137.2 280.9h2.35v2.35h-2.35zM138.5 280.3h2.35v2.35h-2.35zM139.2 280.4h2.35v2.35h-2.35zM139.8 281.0h2.35v2.35h-2.35zM140.3 280.9h2.35v2.35h-2.35zM140.9 282.0h2.35v2.35h-2.35zM141.5 280.1h2.35v2.35h-2.35zM142.0 281.6h2.35v2.35h-2.35zM143.0 281.4h2.35v2.35h-2.35zM143.5 279.9h2.35v2.35h-2.35zM144.0 281.8h2.35v2.35h-2.35zM144.5 280.3h2.35v2.35h-2.35zM144.9 280.7h2.35v2.35h-2.35zM145.4 279.7h2.35v2.35h-2.35zM146.7 280.5h2.35v2.35h-2.35zM147.5 281.1h2.35v2.35h-2.35zM148.3 281.3h2.35v2.35h-2.35zM149.0 281.6h2.35v2.35h-2.35zM149.8 279.8h2.35v2.35h-2.35zM150.5 281.0h2.35v2.35h-2.35zM151.5 281.1h2.35v2.35h-2.35zM152.5 281.5h2.35v2.35h-2.35zM153.1 281.7h2.35v2.35h-2.35zM153.7 280.5h2.35v2.35h-2.35zM154.3 281.5h2.35v2.35h-2.35zM154.8 281.6h2.35v2.35h-2.35zM155.4 280.8h2.35v2.35h-2.35zM155.9 280.5h2.35v2.35h-2.35zM156.4 281.4h2.35v2.35h-2.35zM156.9 281.1h2.35v2.35h-2.35zM157.4 281.4h2.35v2.35h-2.35zM157.9 280.6h2.35v2.35h-2.35zM158.4 281.0h2.35v2.35h-2.35zM158.9 280.7h2.35v2.35h-2.35zM159.3 280.9h2.35v2.35h-2.35zM160.0 281.2h2.35v2.35h-2.35zM160.6 282.3h2.35v2.35h-2.35zM161.2 281.3h2.35v2.35h-2.35zM161.8 280.9h2.35v2.35h-2.35zM162.4 280.9h2.35v2.35h-2.35zM163.0 281.4h2.35v2.35h-2.35zM163.9 281.7h2.35v2.35h-2.35zM164.4 281.7h2.35v2.35h-2.35zM165.1 282.1h2.35v2.35h-2.35zM165.6 281.5h2.35v2.35h-2.35zM166.1 282.2h2.35v2.35h-2.35zM166.5 281.8h2.35v2.35h-2.35zM167.0 281.7h2.35v2.35h-2.35zM167.6 281.5h2.35v2.35h-2.35zM168.2 281.4h2.35v2.35h-2.35zM168.7 281.7h2.35v2.35h-2.35zM169.3 282.1h2.35v2.35h-2.35zM169.8 281.1h2.35v2.35h-2.35zM170.5 282.3h2.35v2.35h-2.35zM171.0 281.9h2.35v2.35h-2.35zM171.5 282.4h2.35v2.35h-2.35zM172.0 281.9h2.35v2.35h-2.35zM172.4 282.4h2.35v2.35h-2.35zM172.9 282.6h2.35v2.35h-2.35zM173.5 282.1h2.35v2.35h-2.35zM174.0 282.6h2.35v2.35h-2.35zM174.5 282.8h2.35v2.35h-2.35zM175.0 282.7h2.35v2.35h-2.35zM175.5 282.1h2.35v2.35h-2.35zM176.1 282.5h2.35v2.35h-2.35zM176.6 282.3h2.35v2.35h-2.35zM177.1 282.6h2.35v2.35h-2.35zM177.6 282.5h2.35v2.35h-2.35zM178.2 283.1h2.35v2.35h-2.35zM178.7 283.0h2.35v2.35h-2.35zM179.2 282.7h2.35v2.35h-2.35zM179.7 282.6h2.35v2.35h-2.35zM180.1 282.6h2.35v2.35h-2.35zM180.6 283.3h2.35v2.35h-2.35zM181.1 283.3h2.35v2.35h-2.35zM181.6 282.9h2.35v2.35h-2.35zM182.1 283.4h2.35v2.35h-2.35zM182.7 283.1h2.35v2.35h-2.35zM183.2 283.4h2.35v2.35h-2.35zM183.8 283.1h2.35v2.35h-2.35zM184.3 283.1h2.35v2.35h-2.35zM184.8 283.5h2.35v2.35h-2.35zM185.3 283.6h2.35v2.35h-2.35zM185.8 283.5h2.35v2.35h-2.35zM186.2 283.8h2.35v2.35h-2.35zM186.7 283.5h2.35v2.35h-2.35zM187.2 283.4h2.35v2.35h-2.35zM187.6 283.9h2.35v2.35h-2.35zM188.1 284.0h2.35v2.35h-2.35zM188.6 283.8h2.35v2.35h-2.35zM189.1 283.9h2.35v2.35h-2.35zM189.5 283.7h2.35v2.35h-2.35zM190.1 284.1h2.35v2.35h-2.35zM190.5 284.2h2.35v2.35h-2.35zM191.0 284.0h2.35v2.35h-2.35zM191.5 284.2h2.35v2.35h-2.35zM191.9 284.1h2.35v2.35h-2.35zM192.4 284.6h2.35v2.35h-2.35zM192.9 284.5h2.35v2.35h-2.35zM193.4 284.6h2.35v2.35h-2.35zM193.9 284.5h2.35v2.35h-2.35zM194.4 284.5h2.35v2.35h-2.35zM194.8 284.6h2.35v2.35h-2.35zM195.3 284.7h2.35v2.35h-2.35zM195.8 284.9h2.35v2.35h-2.35zM196.3 285.0h2.35v2.35h-2.35zM196.8 284.9h2.35v2.35h-2.35zM197.2 284.9h2.35v2.35h-2.35zM197.7 285.0h2.35v2.35h-2.35zM198.2 284.9h2.35v2.35h-2.35zM198.7 285.1h2.35v2.35h-2.35zM199.2 285.3h2.35v2.35h-2.35zM199.7 285.2h2.35v2.35h-2.35zM200.2 285.4h2.35v2.35h-2.35zM200.6 285.4h2.35v2.35h-2.35zM201.1 285.5h2.35v2.35h-2.35zM201.5 285.6h2.35v2.35h-2.35zM202.0 285.5h2.35v2.35h-2.35zM202.5 285.7h2.35v2.35h-2.35zM202.9 285.8h2.35v2.35h-2.35zM203.4 285.7h2.35v2.35h-2.35zM203.9 285.9h2.35v2.35h-2.35zM204.3 285.9h2.35v2.35h-2.35zM204.8 285.9h2.35v2.35h-2.35zM205.2 286.1h2.35v2.35h-2.35zM205.7 286.1h2.35v2.35h-2.35zM206.2 286.2h2.35v2.35h-2.35zM206.6 286.3h2.35v2.35h-2.35zM207.1 286.4h2.35v2.35h-2.35zM207.6 286.5h2.35v2.35h-2.35zM208.0 286.4h2.35v2.35h-2.35zM208.5 286.6h2.35v2.35h-2.35zM209.0 286.6h2.35v2.35h-2.35zM209.4 286.7h2.35v2.35h-2.35zM209.9 286.7h2.35v2.35h-2.35zM210.4 286.8h2.35v2.35h-2.35zM210.8 286.8h2.35v2.35h-2.35zM211.3 287.0h2.35v2.35h-2.35zM211.8 286.9h2.35v2.35h-2.35zM212.2 287.0h2.35v2.35h-2.35zM212.7 287.1h2.35v2.35h-2.35zM213.1 287.2h2.35v2.35h-2.35zM213.6 287.2h2.35v2.35h-2.35zM214.0 287.3h2.35v2.35h-2.35zM214.5 287.4h2.35v2.35h-2.35zM215.0 287.5h2.35v2.35h-2.35zM215.4 287.5h2.35v2.35h-2.35zM215.9 287.6h2.35v2.35h-2.35zM216.3 287.6h2.35v2.35h-2.35zM216.8 287.7h2.35v2.35h-2.35zM217.2 287.8h2.35v2.35h-2.35zM217.7 287.8h2.35v2.35h-2.35zM218.2 287.9h2.35v2.35h-2.35zM218.7 288.0h2.35v2.35h-2.35zM219.1 288.1h2.35v2.35h-2.35zM219.6 288.1h2.35v2.35h-2.35zM220.0 288.2h2.35v2.35h-2.35zM220.5 288.3h2.35v2.35h-2.35zM220.9 288.3h2.35v2.35h-2.35zM221.4 288.4h2.35v2.35h-2.35zM221.9 288.5h2.35v2.35h-2.35zM222.3 288.5h2.35v2.35h-2.35zM222.8 288.6h2.35v2.35h-2.35zM223.2 288.7h2.35v2.35h-2.35zM223.7 288.7h2.35v2.35h-2.35zM224.1 288.8h2.35v2.35h-2.35zM224.6 288.9h2.35v2.35h-2.35zM225.1 288.9h2.35v2.35h-2.35zM225.5 289.0h2.35v2.35h-2.35zM226.0 289.1h2.35v2.35h-2.35zM226.4 289.1h2.35v2.35h-2.35zM226.9 289.2h2.35v2.35h-2.35zM227.3 289.3h2.35v2.35h-2.35zM227.8 289.4h2.35v2.35h-2.35zM228.2 289.4h2.35v2.35h-2.35zM228.7 289.5h2.35v2.35h-2.35zM229.2 289.6h2.35v2.35h-2.35zM229.6 289.6h2.35v2.35h-2.35zM230.1 289.7h2.35v2.35h-2.35zM230.5 289.8h2.35v2.35h-2.35zM231.0 289.8h2.35v2.35h-2.35zM231.4 289.9h2.35v2.35h-2.35zM231.9 290.0h2.35v2.35h-2.35zM232.4 290.0h2.35v2.35h-2.35zM232.8 290.1h2.35v2.35h-2.35zM233.3 290.2h2.35v2.35h-2.35zM233.7 290.2h2.35v2.35h-2.35zM234.2 290.3h2.35v2.35h-2.35zM234.6 290.4h2.35v2.35h-2.35zM235.1 290.4h2.35v2.35h-2.35zM235.5 290.5h2.35v2.35h-2.35zM236.0 290.6h2.35v2.35h-2.35zM236.4 290.7h2.35v2.35h-2.35zM236.9 290.7h2.35v2.35h-2.35zM237.3 290.8h2.35v2.35h-2.35zM237.8 290.9h2.35v2.35h-2.35zM238.2 290.9h2.35v2.35h-2.35zM238.7 291.0h2.35v2.35h-2.35zM239.1 291.1h2.35v2.35h-2.35zM239.6 291.1h2.35v2.35h-2.35zM240.1 291.2h2.35v2.35h-2.35zM240.5 291.3h2.35v2.35h-2.35zM241.0 291.3h2.35v2.35h-2.35zM241.4 291.4h2.35v2.35h-2.35zM241.9 291.5h2.35v2.35h-2.35zM242.3 291.5h2.35v2.35h-2.35zM242.8 291.6h2.35v2.35h-2.35zM243.2 291.7h2.35v2.35h-2.35zM243.7 291.7h2.35v2.35h-2.35zM244.1 291.8h2.35v2.35h-2.35zM244.6 291.9h2.35v2.35h-2.35zM245.0 291.9h2.35v2.35h-2.35zM245.5 292.0h2.35v2.35h-2.35zM245.9 292.1h2.35v2.35h-2.35zM246.4 292.1h2.35v2.35h-2.35zM246.8 292.2h2.35v2.35h-2.35zM247.3 292.3h2.35v2.35h-2.35zM247.7 292.3h2.35v2.35h-2.35zM248.2 292.4h2.35v2.35h-2.35zM248.7 292.5h2.35v2.35h-2.35zM249.1 292.5h2.35v2.35h-2.35zM249.6 292.6h2.35v2.35h-2.35zM250.0 292.7h2.35v2.35h-2.35zM250.5 292.7h2.35v2.35h-2.35zM250.9 292.8h2.35v2.35h-2.35zM251.4 292.9h2.35v2.35h-2.35zM251.8 292.9h2.35v2.35h-2.35zM252.3 293.0h2.35v2.35h-2.35zM252.7 293.0h2.35v2.35h-2.35zM253.2 293.1h2.35v2.35h-2.35zM253.6 293.2h2.35v2.35h-2.35zM254.1 293.2h2.35v2.35h-2.35zM254.5 293.3h2.35v2.35h-2.35zM255.0 293.4h2.35v2.35h-2.35zM255.4 293.4h2.35v2.35h-2.35zM255.9 293.5h2.35v2.35h-2.35zM256.3 293.6h2.35v2.35h-2.35zM256.8 293.6h2.35v2.35h-2.35zM257.2 293.7h2.35v2.35h-2.35zM257.7 293.7h2.35v2.35h-2.35zM258.1 293.8h2.35v2.35h-2.35zM258.6 293.9h2.35v2.35h-2.35zM259.0 293.9h2.35v2.35h-2.35zM259.5 294.0h2.35v2.35h-2.35zM259.9 294.1h2.35v2.35h-2.35zM260.4 294.1h2.35v2.35h-2.35zM260.8 294.2h2.35v2.35h-2.35zM261.3 294.2h2.35v2.35h-2.35zM261.7 294.3h2.35v2.35h-2.35zM262.2 294.4h2.35v2.35h-2.35zM262.6 294.4h2.35v2.35h-2.35zM263.1 294.5h2.35v2.35h-2.35zM263.5 294.5h2.35v2.35h-2.35zM264.0 294.6h2.35v2.35h-2.35zM264.4 294.7h2.35v2.35h-2.35zM264.9 294.7h2.35v2.35h-2.35zM265.3 294.8h2.35v2.35h-2.35zM265.8 294.8h2.35v2.35h-2.35zM266.2 294.9h2.35v2.35h-2.35zM266.7 294.9h2.35v2.35h-2.35zM267.1 295.0h2.35v2.35h-2.35zM267.6 295.1h2.35v2.35h-2.35zM268.1 295.1h2.35v2.35h-2.35zM268.5 295.2h2.35v2.35h-2.35zM269.0 295.2h2.35v2.35h-2.35zM269.4 295.3h2.35v2.35h-2.35zM269.9 295.3h2.35v2.35h-2.35zM270.3 295.4h2.35v2.35h-2.35zM270.8 295.5h2.35v2.35h-2.35zM271.2 295.5h2.35v2.35h-2.35zM271.7 295.6h2.35v2.35h-2.35zM272.1 295.6h2.35v2.35h-2.35zM272.6 295.7h2.35v2.35h-2.35zM273.0 295.7h2.35v2.35h-2.35zM273.5 295.8h2.35v2.35h-2.35zM273.9 295.8h2.35v2.35h-2.35zM274.4 295.9h2.35v2.35h-2.35zM274.8 295.9h2.35v2.35h-2.35zM275.3 296.0h2.35v2.35h-2.35zM275.7 296.0h2.35v2.35h-2.35zM276.2 296.1h2.35v2.35h-2.35zM276.6 296.1h2.35v2.35h-2.35zM277.1 296.2h2.35v2.35h-2.35zM277.5 296.2h2.35v2.35h-2.35z" stroke="#8a8a8a" stroke-width="0.55" fill="none"/>
</g>
<g clip-path="url(#cA4)">
<path d="M407.8 253.4L409.3 254.0L410.8 254.6L412.3 255.2L413.8 255.8L415.3 256.4L416.8 257.0L418.3 257.6L419.8 258.2L421.3 258.8L422.8 259.3L424.3 259.9L425.8 260.4L427.3 261.0L428.8 261.6L430.3 262.1L431.8 262.6L433.3 263.2L434.8 263.7L436.3 264.2L437.8 264.8L439.3 265.3L440.8 265.8L442.3 266.3L443.8 266.8L445.3 267.3L446.8 267.8L448.3 268.3L449.8 268.8L451.3 269.3L452.8 269.8L454.3 270.3L455.8 270.8L457.3 271.3L458.8 271.8L460.3 272.3L461.8 272.7L463.3 273.2L464.8 273.7L466.3 274.2L467.8 274.6L469.3 275.1L470.8 275.6L472.3 276.0L473.8 276.5L475.3 277.0L476.8 277.5L478.3 277.9L479.8 278.4L481.3 278.8L482.8 279.3L484.3 279.8L485.8 280.2L487.3 280.7L488.8 281.2L490.3 281.6L491.8 282.1L493.3 282.6L494.8 283.0L496.3 283.5L497.8 284.0L499.3 284.5L500.8 284.9L502.3 285.4L503.8 285.9L505.3 286.4L506.8 286.8L508.3 287.3L509.8 287.8L511.3 288.3L512.8 288.8L514.3 289.3L515.8 289.8L517.3 290.3L518.8 290.8L520.3 291.3" stroke="#000" stroke-width="2.5" fill="none" stroke-linejoin="round"/>
<path d="M305.1 224.2h0M319.3 224.7h0M327.7 224.2h0M333.6 226.3h0M338.1 228.0h0M341.9 230.8h0M347.8 231.6h0M350.2 232.0h0M352.4 231.8h0M354.3 233.0h0M356.1 232.6h0M357.8 232.8h0M359.3 233.6h0M362.0 233.1h0M363.3 235.6h0M364.4 235.5h0M365.5 236.7h0M366.6 235.7h0M367.6 236.7h0M368.6 236.2h0M370.3 236.8h0M371.2 236.9h0M372.0 238.2h0M372.8 237.4h0M374.2 239.1h0M374.9 239.1h0M376.2 239.4h0M376.9 239.8h0M377.5 239.2h0M378.1 239.7h0M378.7 241.1h0M379.2 240.1h0M379.8 240.3h0M380.8 241.5h0M381.3 241.3h0M381.8 242.7h0M382.3 241.8h0M382.8 243.1h0M383.2 242.5h0M383.7 243.1h0M384.6 243.1h0M385.4 244.1h0M386.2 244.4h0M387.0 243.7h0M387.7 245.2h0M388.5 245.6h0M389.5 245.6h0M390.5 245.3h0M391.1 246.2h0M391.7 247.6h0M392.3 247.0h0M392.9 247.4h0M393.5 246.9h0M394.0 246.9h0M394.5 247.4h0M395.1 247.4h0M395.6 247.8h0M396.1 248.6h0M396.5 248.8h0M397.0 249.1h0M397.5 249.0h0M398.2 249.5h0M398.8 249.2h0M399.4 249.3h0M400.0 250.0h0M400.6 250.1h0M401.2 250.1h0M402.1 250.1h0M402.7 250.8h0M403.4 251.2h0M403.9 251.6h0M404.4 251.9h0M404.9 252.3h0M405.3 251.8h0M406.0 252.2h0M406.5 252.6h0M407.1 253.2h0M407.7 253.4h0M408.2 254.0h0M408.9 253.9h0M409.4 254.0h0M409.9 254.5h0M410.4 254.8h0M410.9 254.3h0M411.4 254.4h0M411.8 254.7h0M412.4 255.0h0M413.0 255.6h0M413.6 255.5h0M414.1 255.8h0M414.7 256.5h0M415.2 256.4h0M415.6 256.8h0M416.2 256.8h0M416.6 257.2h0M417.2 256.8h0M417.7 257.2h0M418.3 257.7h0M418.8 258.1h0M419.3 258.1h0M419.7 258.3h0M420.2 258.3h0M420.8 258.9h0M421.4 259.1h0M421.9 258.7h0M422.5 259.3h0M423.0 259.4h0M423.5 259.9h0M424.0 259.6h0M424.5 259.7h0M425.0 260.1h0M425.5 260.2h0M425.9 260.6h0M426.4 260.5h0M426.9 260.7h0M427.4 261.2h0M427.9 261.4h0M428.4 261.5h0M428.8 261.3h0M429.3 261.6h0M429.8 261.8h0M430.3 262.2h0M430.8 262.2h0M431.3 262.2h0M431.8 262.5h0M432.2 262.7h0M432.7 262.9h0M433.2 263.2h0M433.6 263.3h0M434.1 263.4h0M434.6 263.6h0M435.0 264.0h0M435.5 263.8h0M436.0 264.2h0M436.5 264.2h0M437.0 264.4h0M437.4 264.8h0M437.9 264.6h0M438.3 264.8h0M438.8 265.0h0M439.3 265.4h0M439.7 265.6h0M440.2 265.5h0M440.6 265.8h0M441.1 265.9h0M441.6 266.2h0M442.0 266.2h0M442.5 266.4h0M443.0 266.6h0M443.5 266.7h0M443.9 266.9h0M444.4 267.0h0M444.8 267.1h0M445.3 267.3h0M445.8 267.6h0M446.2 267.7h0M446.7 267.8h0M447.2 268.0h0M447.6 268.1h0M448.1 268.2h0M448.5 268.4h0M449.0 268.6h0M449.4 268.7h0M449.9 268.9h0M450.4 269.0h0M450.8 269.2h0M451.3 269.3h0M451.8 269.5h0M452.2 269.6h0M452.7 269.8h0M453.1 269.9h0M453.6 270.1h0M454.1 270.2h0M454.5 270.4h0M455.0 270.5h0M455.4 270.7h0M455.9 270.8h0M456.4 271.0h0M456.8 271.1h0M457.3 271.3h0M457.7 271.4h0M458.2 271.6h0M458.6 271.7h0M459.1 271.9h0M459.6 272.0h0M460.0 272.2h0M460.5 272.3h0M460.9 272.5h0M461.4 272.6h0M461.8 272.7h0M462.3 272.9h0M462.7 273.0h0M463.2 273.2h0M463.6 273.3h0M464.1 273.5h0M464.6 273.6h0M465.0 273.8h0M465.5 273.9h0M465.9 274.1h0M466.4 274.2h0M466.9 274.3h0M467.3 274.5h0M467.8 274.6h0M468.2 274.8h0M468.7 274.9h0M469.1 275.1h0M469.6 275.2h0M470.0 275.3h0M470.5 275.5h0M470.9 275.6h0M471.4 275.8h0M471.9 275.9h0M472.3 276.1h0M472.8 276.2h0M473.2 276.3h0M473.7 276.5h0M474.1 276.6h0M474.6 276.8h0M475.0 276.9h0M475.5 277.0h0M475.9 277.2h0M476.4 277.3h0M476.8 277.5h0M477.3 277.6h0M477.8 277.7h0M478.2 277.9h0M478.7 278.0h0M479.1 278.2h0M479.6 278.3h0M480.0 278.5h0M480.5 278.6h0M480.9 278.7h0M481.4 278.9h0M481.8 279.0h0M482.3 279.2h0M482.7 279.3h0M483.2 279.4h0M483.6 279.6h0M484.1 279.7h0M484.6 279.9h0M485.0 280.0h0M485.5 280.1h0M485.9 280.3h0M486.4 280.4h0M486.8 280.6h0M487.3 280.7h0M487.7 280.8h0M488.2 281.0h0M488.6 281.1h0M489.1 281.3h0M489.5 281.4h0M490.0 281.5h0M490.4 281.7h0M490.9 281.8h0M491.3 282.0h0M491.8 282.1h0M492.2 282.2h0M492.7 282.4h0M493.1 282.5h0M493.6 282.7h0M494.0 282.8h0M494.5 283.0h0M494.9 283.1h0M495.4 283.2h0M495.8 283.4h0M496.3 283.5h0M496.8 283.7h0M497.2 283.8h0M497.7 283.9h0M498.1 284.1h0M498.6 284.2h0M499.0 284.4h0M499.5 284.5h0M499.9 284.7h0M500.4 284.8h0M500.8 284.9h0M501.3 285.1h0M501.7 285.2h0M502.2 285.4h0M502.6 285.5h0M503.1 285.7h0M503.5 285.8h0M504.0 285.9h0M504.4 286.1h0M504.9 286.2h0M505.3 286.4h0M505.8 286.5h0M506.2 286.7h0M506.7 286.8h0M507.1 286.9h0M507.6 287.1h0M508.0 287.2h0M508.5 287.4h0M508.9 287.5h0M509.4 287.7h0M509.8 287.8h0M510.3 288.0h0M510.7 288.1h0M511.2 288.3h0M511.6 288.4h0M512.1 288.6h0M512.5 288.7h0M513.0 288.8h0M513.4 289.0h0M513.9 289.1h0M514.3 289.3h0M514.8 289.4h0M515.2 289.6h0M515.7 289.7h0M516.1 289.9h0M516.6 290.0h0M517.0 290.2h0M517.5 290.3h0M517.9 290.5h0M518.4 290.6h0M518.8 290.8h0M519.3 290.9h0M519.7 291.1h0M520.2 291.2h0" stroke="#000" stroke-width="2.7" stroke-linecap="round" fill="none"/>
<path d="M407.8 253.2L409.3 253.7L410.8 254.3L412.3 254.8L413.8 255.3L415.3 255.8L416.8 256.4L418.3 256.9L419.8 257.5L421.3 258.0L422.8 258.5L424.3 259.1L425.8 259.6L427.3 260.2L428.8 260.7L430.3 261.3L431.8 261.8L433.3 262.4L434.8 262.9L436.3 263.5L437.8 264.0L439.3 264.6L440.8 265.1L442.3 265.7L443.8 266.2L445.3 266.8L446.8 267.3L448.3 267.9L449.8 268.5L451.3 269.0L452.8 269.6L454.3 270.1L455.8 270.7L457.3 271.2L458.8 271.8L460.3 272.3L461.8 272.9L463.3 273.4L464.8 273.9L466.3 274.5L467.8 275.0L469.3 275.6L470.8 276.1L472.3 276.6L473.8 277.2L475.3 277.7L476.8 278.2L478.3 278.8L479.8 279.3L481.3 279.8L482.8 280.3L484.3 280.8L485.8 281.4L487.3 281.9L488.8 282.4L490.3 282.9L491.8 283.4L493.3 283.9L494.8 284.4L496.3 284.9L497.8 285.4L499.3 285.8L500.8 286.3L502.3 286.8L503.8 287.3L505.3 287.7L506.8 288.2L508.3 288.7L509.8 289.1L511.3 289.6L512.8 290.0L514.3 290.5L515.8 290.9L517.3 291.3L518.8 291.8L520.3 292.2" stroke="#f00" stroke-width="3.1" fill="none" stroke-linejoin="round"/>
<path d="M303.8 216.5h2.7v2.7h-2.7zM318.0 220.2h2.7v2.7h-2.7zM326.3 224.7h2.7v2.7h-2.7zM332.2 230.3h2.7v2.7h-2.7zM336.8 227.6h2.7v2.7h-2.7zM340.5 230.7h2.7v2.7h-2.7zM346.4 233.5h2.7v2.7h-2.7zM348.9 234.4h2.7v2.7h-2.7zM351.0 236.0h2.7v2.7h-2.7zM353.0 235.6h2.7v2.7h-2.7zM354.8 234.7h2.7v2.7h-2.7zM356.4 234.7h2.7v2.7h-2.7zM357.9 237.4h2.7v2.7h-2.7zM360.7 237.2h2.7v2.7h-2.7zM361.9 236.6h2.7v2.7h-2.7zM363.1 238.9h2.7v2.7h-2.7zM364.2 240.0h2.7v2.7h-2.7zM365.2 239.7h2.7v2.7h-2.7zM366.3 239.9h2.7v2.7h-2.7zM367.2 238.4h2.7v2.7h-2.7zM369.0 240.3h2.7v2.7h-2.7zM369.8 240.5h2.7v2.7h-2.7zM370.6 240.3h2.7v2.7h-2.7zM371.4 240.9h2.7v2.7h-2.7zM372.9 241.1h2.7v2.7h-2.7zM373.6 240.5h2.7v2.7h-2.7zM374.9 243.0h2.7v2.7h-2.7zM375.5 241.9h2.7v2.7h-2.7zM376.1 242.6h2.7v2.7h-2.7zM376.7 242.6h2.7v2.7h-2.7zM377.3 242.1h2.7v2.7h-2.7zM377.9 242.4h2.7v2.7h-2.7zM378.4 241.8h2.7v2.7h-2.7zM379.5 243.6h2.7v2.7h-2.7zM380.0 243.2h2.7v2.7h-2.7zM380.5 244.1h2.7v2.7h-2.7zM381.0 241.8h2.7v2.7h-2.7zM381.4 244.4h2.7v2.7h-2.7zM381.9 244.1h2.7v2.7h-2.7zM382.3 244.4h2.7v2.7h-2.7zM383.2 243.9h2.7v2.7h-2.7zM384.1 243.3h2.7v2.7h-2.7zM384.9 244.9h2.7v2.7h-2.7zM385.6 244.4h2.7v2.7h-2.7zM386.4 244.5h2.7v2.7h-2.7zM387.1 244.2h2.7v2.7h-2.7zM388.1 245.2h2.7v2.7h-2.7zM389.1 246.1h2.7v2.7h-2.7zM389.8 246.2h2.7v2.7h-2.7zM390.4 245.7h2.7v2.7h-2.7zM391.0 245.6h2.7v2.7h-2.7zM391.5 246.7h2.7v2.7h-2.7zM392.1 246.5h2.7v2.7h-2.7zM392.7 246.6h2.7v2.7h-2.7zM393.2 246.8h2.7v2.7h-2.7zM393.7 247.0h2.7v2.7h-2.7zM394.2 248.0h2.7v2.7h-2.7zM394.7 247.7h2.7v2.7h-2.7zM395.2 247.6h2.7v2.7h-2.7zM395.7 248.6h2.7v2.7h-2.7zM396.1 248.3h2.7v2.7h-2.7zM396.8 248.3h2.7v2.7h-2.7zM397.5 248.3h2.7v2.7h-2.7zM398.1 248.5h2.7v2.7h-2.7zM398.7 248.9h2.7v2.7h-2.7zM399.3 249.4h2.7v2.7h-2.7zM399.9 249.9h2.7v2.7h-2.7zM400.8 249.9h2.7v2.7h-2.7zM401.3 249.7h2.7v2.7h-2.7zM402.0 249.8h2.7v2.7h-2.7zM402.5 250.7h2.7v2.7h-2.7zM403.0 250.2h2.7v2.7h-2.7zM403.5 250.5h2.7v2.7h-2.7zM404.0 250.7h2.7v2.7h-2.7zM404.6 251.1h2.7v2.7h-2.7zM405.2 251.2h2.7v2.7h-2.7zM405.8 252.1h2.7v2.7h-2.7zM406.3 251.4h2.7v2.7h-2.7zM406.9 252.2h2.7v2.7h-2.7zM407.6 252.0h2.7v2.7h-2.7zM408.1 252.4h2.7v2.7h-2.7zM408.6 253.0h2.7v2.7h-2.7zM409.1 252.4h2.7v2.7h-2.7zM409.5 252.9h2.7v2.7h-2.7zM410.0 253.3h2.7v2.7h-2.7zM410.5 253.1h2.7v2.7h-2.7zM411.0 253.1h2.7v2.7h-2.7zM411.7 253.4h2.7v2.7h-2.7zM412.2 253.6h2.7v2.7h-2.7zM412.7 253.9h2.7v2.7h-2.7zM413.3 254.4h2.7v2.7h-2.7zM413.8 254.6h2.7v2.7h-2.7zM414.3 255.0h2.7v2.7h-2.7zM414.8 255.1h2.7v2.7h-2.7zM415.3 255.1h2.7v2.7h-2.7zM415.8 255.1h2.7v2.7h-2.7zM416.3 255.4h2.7v2.7h-2.7zM416.9 255.9h2.7v2.7h-2.7zM417.4 255.7h2.7v2.7h-2.7zM417.9 255.9h2.7v2.7h-2.7zM418.4 256.4h2.7v2.7h-2.7zM418.8 256.0h2.7v2.7h-2.7zM419.4 256.3h2.7v2.7h-2.7zM420.0 256.6h2.7v2.7h-2.7zM420.6 256.9h2.7v2.7h-2.7zM421.1 257.1h2.7v2.7h-2.7zM421.6 257.6h2.7v2.7h-2.7zM422.2 257.8h2.7v2.7h-2.7zM422.7 257.6h2.7v2.7h-2.7zM423.2 257.8h2.7v2.7h-2.7zM423.7 257.8h2.7v2.7h-2.7zM424.1 258.1h2.7v2.7h-2.7zM424.6 258.6h2.7v2.7h-2.7zM425.1 258.7h2.7v2.7h-2.7zM425.6 258.4h2.7v2.7h-2.7zM426.1 258.7h2.7v2.7h-2.7zM426.5 259.0h2.7v2.7h-2.7zM427.0 259.1h2.7v2.7h-2.7zM427.5 259.3h2.7v2.7h-2.7zM427.9 259.8h2.7v2.7h-2.7zM428.4 259.5h2.7v2.7h-2.7zM428.9 260.1h2.7v2.7h-2.7zM429.4 260.3h2.7v2.7h-2.7zM429.9 260.3h2.7v2.7h-2.7zM430.4 260.3h2.7v2.7h-2.7zM430.9 260.6h2.7v2.7h-2.7zM431.3 261.0h2.7v2.7h-2.7zM431.8 261.1h2.7v2.7h-2.7zM432.3 261.0h2.7v2.7h-2.7zM432.8 261.5h2.7v2.7h-2.7zM433.2 261.4h2.7v2.7h-2.7zM433.7 261.7h2.7v2.7h-2.7zM434.2 261.8h2.7v2.7h-2.7zM434.6 262.2h2.7v2.7h-2.7zM435.1 262.2h2.7v2.7h-2.7zM435.6 262.4h2.7v2.7h-2.7zM436.1 262.4h2.7v2.7h-2.7zM436.5 262.8h2.7v2.7h-2.7zM437.0 262.8h2.7v2.7h-2.7zM437.5 263.1h2.7v2.7h-2.7zM437.9 263.4h2.7v2.7h-2.7zM438.4 263.4h2.7v2.7h-2.7zM438.8 263.5h2.7v2.7h-2.7zM439.3 263.7h2.7v2.7h-2.7zM439.8 264.0h2.7v2.7h-2.7zM440.2 264.0h2.7v2.7h-2.7zM440.7 264.2h2.7v2.7h-2.7zM441.2 264.4h2.7v2.7h-2.7zM441.6 264.6h2.7v2.7h-2.7zM442.1 264.7h2.7v2.7h-2.7zM442.6 264.9h2.7v2.7h-2.7zM443.0 265.2h2.7v2.7h-2.7zM443.5 265.2h2.7v2.7h-2.7zM444.0 265.5h2.7v2.7h-2.7zM444.4 265.6h2.7v2.7h-2.7zM444.9 265.8h2.7v2.7h-2.7zM445.4 266.0h2.7v2.7h-2.7zM445.8 266.2h2.7v2.7h-2.7zM446.3 266.3h2.7v2.7h-2.7zM446.7 266.4h2.7v2.7h-2.7zM447.2 266.7h2.7v2.7h-2.7zM447.6 266.8h2.7v2.7h-2.7zM448.1 267.0h2.7v2.7h-2.7zM448.6 267.1h2.7v2.7h-2.7zM449.0 267.3h2.7v2.7h-2.7zM449.5 267.5h2.7v2.7h-2.7zM449.9 267.7h2.7v2.7h-2.7zM450.4 267.8h2.7v2.7h-2.7zM450.9 268.0h2.7v2.7h-2.7zM451.3 268.2h2.7v2.7h-2.7zM451.8 268.3h2.7v2.7h-2.7zM452.3 268.5h2.7v2.7h-2.7zM452.7 268.7h2.7v2.7h-2.7zM453.2 268.8h2.7v2.7h-2.7zM453.6 269.0h2.7v2.7h-2.7zM454.1 269.2h2.7v2.7h-2.7zM454.5 269.3h2.7v2.7h-2.7zM455.0 269.5h2.7v2.7h-2.7zM455.5 269.7h2.7v2.7h-2.7zM455.9 269.8h2.7v2.7h-2.7zM456.4 270.0h2.7v2.7h-2.7zM456.8 270.2h2.7v2.7h-2.7zM457.3 270.3h2.7v2.7h-2.7zM457.7 270.5h2.7v2.7h-2.7zM458.2 270.7h2.7v2.7h-2.7zM458.7 270.9h2.7v2.7h-2.7zM459.1 271.0h2.7v2.7h-2.7zM459.6 271.2h2.7v2.7h-2.7zM460.0 271.4h2.7v2.7h-2.7zM460.5 271.5h2.7v2.7h-2.7zM460.9 271.7h2.7v2.7h-2.7zM461.4 271.8h2.7v2.7h-2.7zM461.8 272.0h2.7v2.7h-2.7zM462.3 272.2h2.7v2.7h-2.7zM462.7 272.3h2.7v2.7h-2.7zM463.2 272.5h2.7v2.7h-2.7zM463.7 272.7h2.7v2.7h-2.7zM464.1 272.8h2.7v2.7h-2.7zM464.6 273.0h2.7v2.7h-2.7zM465.1 273.2h2.7v2.7h-2.7zM465.5 273.3h2.7v2.7h-2.7zM466.0 273.5h2.7v2.7h-2.7zM466.4 273.7h2.7v2.7h-2.7zM466.9 273.8h2.7v2.7h-2.7zM467.3 274.0h2.7v2.7h-2.7zM467.8 274.2h2.7v2.7h-2.7zM468.2 274.3h2.7v2.7h-2.7zM468.7 274.5h2.7v2.7h-2.7zM469.1 274.6h2.7v2.7h-2.7zM469.6 274.8h2.7v2.7h-2.7zM470.1 275.0h2.7v2.7h-2.7zM470.5 275.1h2.7v2.7h-2.7zM471.0 275.3h2.7v2.7h-2.7zM471.4 275.5h2.7v2.7h-2.7zM471.9 275.6h2.7v2.7h-2.7zM472.3 275.8h2.7v2.7h-2.7zM472.8 275.9h2.7v2.7h-2.7zM473.2 276.1h2.7v2.7h-2.7zM473.7 276.3h2.7v2.7h-2.7zM474.1 276.4h2.7v2.7h-2.7zM474.6 276.6h2.7v2.7h-2.7zM475.0 276.7h2.7v2.7h-2.7zM475.5 276.9h2.7v2.7h-2.7zM475.9 277.1h2.7v2.7h-2.7zM476.4 277.2h2.7v2.7h-2.7zM476.9 277.4h2.7v2.7h-2.7zM477.3 277.5h2.7v2.7h-2.7zM477.8 277.7h2.7v2.7h-2.7zM478.2 277.9h2.7v2.7h-2.7zM478.7 278.0h2.7v2.7h-2.7zM479.1 278.2h2.7v2.7h-2.7zM479.6 278.3h2.7v2.7h-2.7zM480.0 278.5h2.7v2.7h-2.7zM480.5 278.6h2.7v2.7h-2.7zM480.9 278.8h2.7v2.7h-2.7zM481.4 279.0h2.7v2.7h-2.7zM481.8 279.1h2.7v2.7h-2.7zM482.3 279.3h2.7v2.7h-2.7zM482.7 279.4h2.7v2.7h-2.7zM483.2 279.6h2.7v2.7h-2.7zM483.7 279.7h2.7v2.7h-2.7zM484.1 279.9h2.7v2.7h-2.7zM484.6 280.0h2.7v2.7h-2.7zM485.0 280.2h2.7v2.7h-2.7zM485.5 280.4h2.7v2.7h-2.7zM485.9 280.5h2.7v2.7h-2.7zM486.4 280.7h2.7v2.7h-2.7zM486.8 280.8h2.7v2.7h-2.7zM487.3 281.0h2.7v2.7h-2.7zM487.7 281.1h2.7v2.7h-2.7zM488.2 281.3h2.7v2.7h-2.7zM488.6 281.4h2.7v2.7h-2.7zM489.1 281.6h2.7v2.7h-2.7zM489.5 281.7h2.7v2.7h-2.7zM490.0 281.9h2.7v2.7h-2.7zM490.4 282.0h2.7v2.7h-2.7zM490.9 282.2h2.7v2.7h-2.7zM491.3 282.3h2.7v2.7h-2.7zM491.8 282.5h2.7v2.7h-2.7zM492.2 282.6h2.7v2.7h-2.7zM492.7 282.8h2.7v2.7h-2.7zM493.1 282.9h2.7v2.7h-2.7zM493.6 283.1h2.7v2.7h-2.7zM494.0 283.2h2.7v2.7h-2.7zM494.5 283.4h2.7v2.7h-2.7zM495.0 283.5h2.7v2.7h-2.7zM495.4 283.7h2.7v2.7h-2.7zM495.9 283.8h2.7v2.7h-2.7zM496.3 284.0h2.7v2.7h-2.7zM496.8 284.1h2.7v2.7h-2.7zM497.2 284.3h2.7v2.7h-2.7zM497.7 284.4h2.7v2.7h-2.7zM498.1 284.5h2.7v2.7h-2.7zM498.6 284.7h2.7v2.7h-2.7zM499.0 284.8h2.7v2.7h-2.7zM499.5 285.0h2.7v2.7h-2.7zM499.9 285.1h2.7v2.7h-2.7zM500.4 285.3h2.7v2.7h-2.7zM500.8 285.4h2.7v2.7h-2.7zM501.3 285.6h2.7v2.7h-2.7zM501.7 285.7h2.7v2.7h-2.7zM502.2 285.8h2.7v2.7h-2.7zM502.6 286.0h2.7v2.7h-2.7zM503.1 286.1h2.7v2.7h-2.7zM503.5 286.3h2.7v2.7h-2.7zM504.0 286.4h2.7v2.7h-2.7zM504.4 286.5h2.7v2.7h-2.7zM504.9 286.7h2.7v2.7h-2.7zM505.3 286.8h2.7v2.7h-2.7zM505.8 287.0h2.7v2.7h-2.7zM506.2 287.1h2.7v2.7h-2.7zM506.7 287.2h2.7v2.7h-2.7zM507.1 287.4h2.7v2.7h-2.7zM507.6 287.5h2.7v2.7h-2.7zM508.0 287.6h2.7v2.7h-2.7zM508.5 287.8h2.7v2.7h-2.7zM508.9 287.9h2.7v2.7h-2.7zM509.4 288.1h2.7v2.7h-2.7zM509.8 288.2h2.7v2.7h-2.7zM510.3 288.3h2.7v2.7h-2.7zM510.7 288.5h2.7v2.7h-2.7zM511.2 288.6h2.7v2.7h-2.7zM511.6 288.7h2.7v2.7h-2.7zM512.1 288.9h2.7v2.7h-2.7zM512.5 289.0h2.7v2.7h-2.7zM513.0 289.1h2.7v2.7h-2.7zM513.4 289.3h2.7v2.7h-2.7zM513.9 289.4h2.7v2.7h-2.7zM514.3 289.5h2.7v2.7h-2.7zM514.8 289.7h2.7v2.7h-2.7zM515.2 289.8h2.7v2.7h-2.7zM515.7 289.9h2.7v2.7h-2.7zM516.1 290.0h2.7v2.7h-2.7zM516.6 290.2h2.7v2.7h-2.7zM517.0 290.3h2.7v2.7h-2.7zM517.5 290.4h2.7v2.7h-2.7zM517.9 290.6h2.7v2.7h-2.7zM518.4 290.7h2.7v2.7h-2.7zM518.8 290.8h2.7v2.7h-2.7z" fill="#f00"/>
<path d="M432.8 266.5L434.3 267.0L435.8 267.5L437.3 268.0L438.8 268.6L440.3 269.1L441.8 269.6L443.3 270.1L444.8 270.6L446.3 271.2L447.8 271.7L449.3 272.2L450.8 272.7L452.3 273.2L453.8 273.7L455.3 274.3L456.8 274.8L458.3 275.3L459.8 275.8L461.3 276.3L462.8 276.8L464.3 277.3L465.8 277.9L467.3 278.4L468.8 278.9L470.3 279.4L471.8 279.9L473.3 280.4L474.8 280.9L476.3 281.4L477.8 281.9L479.3 282.4L480.8 282.9L482.3 283.4L483.8 283.8L485.3 284.3L486.8 284.8L488.3 285.3L489.8 285.8L491.3 286.3L492.8 286.7L494.3 287.2L495.8 287.7L497.3 288.1L498.8 288.6L500.3 289.0L501.8 289.5L503.3 289.9L504.8 290.4L506.3 290.8L507.8 291.3L509.3 291.7L510.8 292.1L512.3 292.6L513.8 293.0L515.3 293.4L516.8 293.8L518.3 294.2L519.8 294.7" stroke="#00f" stroke-width="3.0" fill="none" stroke-linejoin="round"/>
<path d="M303.8 223.0a1.35 1.35 0 1 0 2.7 0a1.35 1.35 0 1 0 -2.7 0M318.0 228.6a1.35 1.35 0 1 0 2.7 0a1.35 1.35 0 1 0 -2.7 0M326.3 232.0a1.35 1.35 0 1 0 2.7 0a1.35 1.35 0 1 0 -2.7 0M332.2 229.1a1.35 1.35 0 1 0 2.7 0a1.35 1.35 0 1 0 -2.7 0M336.8 236.3a1.35 1.35 0 1 0 2.7 0a1.35 1.35 0 1 0 -2.7 0M340.5 236.7a1.35 1.35 0 1 0 2.7 0a1.35 1.35 0 1 0 -2.7 0M346.4 240.5a1.35 1.35 0 1 0 2.7 0a1.35 1.35 0 1 0 -2.7 0M348.9 241.3a1.35 1.35 0 1 0 2.7 0a1.35 1.35 0 1 0 -2.7 0M351.0 240.7a1.35 1.35 0 1 0 2.7 0a1.35 1.35 0 1 0 -2.7 0M353.0 242.9a1.35 1.35 0 1 0 2.7 0a1.35 1.35 0 1 0 -2.7 0M354.8 242.7a1.35 1.35 0 1 0 2.7 0a1.35 1.35 0 1 0 -2.7 0M356.4 244.9a1.35 1.35 0 1 0 2.7 0a1.35 1.35 0 1 0 -2.7 0M357.9 246.3a1.35 1.35 0 1 0 2.7 0a1.35 1.35 0 1 0 -2.7 0M360.7 244.8a1.35 1.35 0 1 0 2.7 0a1.35 1.35 0 1 0 -2.7 0M361.9 244.9a1.35 1.35 0 1 0 2.7 0a1.35 1.35 0 1 0 -2.7 0M363.1 248.7a1.35 1.35 0 1 0 2.7 0a1.35 1.35 0 1 0 -2.7 0M364.2 246.7a1.35 1.35 0 1 0 2.7 0a1.35 1.35 0 1 0 -2.7 0M365.2 246.7a1.35 1.35 0 1 0 2.7 0a1.35 1.35 0 1 0 -2.7 0M366.3 246.6a1.35 1.35 0 1 0 2.7 0a1.35 1.35 0 1 0 -2.7 0M367.2 245.6a1.35 1.35 0 1 0 2.7 0a1.35 1.35 0 1 0 -2.7 0M369.0 247.4a1.35 1.35 0 1 0 2.7 0a1.35 1.35 0 1 0 -2.7 0M369.8 245.7a1.35 1.35 0 1 0 2.7 0a1.35 1.35 0 1 0 -2.7 0M370.6 246.8a1.35 1.35 0 1 0 2.7 0a1.35 1.35 0 1 0 -2.7 0M371.4 247.8a1.35 1.35 0 1 0 2.7 0a1.35 1.35 0 1 0 -2.7 0M372.9 247.2a1.35 1.35 0 1 0 2.7 0a1.35 1.35 0 1 0 -2.7 0M373.6 248.2a1.35 1.35 0 1 0 2.7 0a1.35 1.35 0 1 0 -2.7 0M374.9 249.7a1.35 1.35 0 1 0 2.7 0a1.35 1.35 0 1 0 -2.7 0M375.5 248.4a1.35 1.35 0 1 0 2.7 0a1.35 1.35 0 1 0 -2.7 0M376.1 249.4a1.35 1.35 0 1 0 2.7 0a1.35 1.35 0 1 0 -2.7 0M376.7 250.1a1.35 1.35 0 1 0 2.7 0a1.35 1.35 0 1 0 -2.7 0M377.3 249.4a1.35 1.35 0 1 0 2.7 0a1.35 1.35 0 1 0 -2.7 0M377.9 250.0a1.35 1.35 0 1 0 2.7 0a1.35 1.35 0 1 0 -2.7 0M378.4 250.2a1.35 1.35 0 1 0 2.7 0a1.35 1.35 0 1 0 -2.7 0M379.5 250.0a1.35 1.35 0 1 0 2.7 0a1.35 1.35 0 1 0 -2.7 0M380.0 248.6a1.35 1.35 0 1 0 2.7 0a1.35 1.35 0 1 0 -2.7 0M380.5 250.4a1.35 1.35 0 1 0 2.7 0a1.35 1.35 0 1 0 -2.7 0M381.0 249.5a1.35 1.35 0 1 0 2.7 0a1.35 1.35 0 1 0 -2.7 0M381.4 249.8a1.35 1.35 0 1 0 2.7 0a1.35 1.35 0 1 0 -2.7 0M381.9 250.8a1.35 1.35 0 1 0 2.7 0a1.35 1.35 0 1 0 -2.7 0M382.3 250.3a1.35 1.35 0 1 0 2.7 0a1.35 1.35 0 1 0 -2.7 0M383.2 250.4a1.35 1.35 0 1 0 2.7 0a1.35 1.35 0 1 0 -2.7 0M384.1 250.8a1.35 1.35 0 1 0 2.7 0a1.35 1.35 0 1 0 -2.7 0M384.9 252.0a1.35 1.35 0 1 0 2.7 0a1.35 1.35 0 1 0 -2.7 0M385.6 251.8a1.35 1.35 0 1 0 2.7 0a1.35 1.35 0 1 0 -2.7 0M386.4 252.2a1.35 1.35 0 1 0 2.7 0a1.35 1.35 0 1 0 -2.7 0M387.1 250.9a1.35 1.35 0 1 0 2.7 0a1.35 1.35 0 1 0 -2.7 0M388.1 252.3a1.35 1.35 0 1 0 2.7 0a1.35 1.35 0 1 0 -2.7 0M389.1 252.8a1.35 1.35 0 1 0 2.7 0a1.35 1.35 0 1 0 -2.7 0M389.8 252.6a1.35 1.35 0 1 0 2.7 0a1.35 1.35 0 1 0 -2.7 0M390.4 253.1a1.35 1.35 0 1 0 2.7 0a1.35 1.35 0 1 0 -2.7 0M391.0 253.8a1.35 1.35 0 1 0 2.7 0a1.35 1.35 0 1 0 -2.7 0M391.5 253.4a1.35 1.35 0 1 0 2.7 0a1.35 1.35 0 1 0 -2.7 0M392.1 252.7a1.35 1.35 0 1 0 2.7 0a1.35 1.35 0 1 0 -2.7 0M392.7 253.3a1.35 1.35 0 1 0 2.7 0a1.35 1.35 0 1 0 -2.7 0M393.2 253.5a1.35 1.35 0 1 0 2.7 0a1.35 1.35 0 1 0 -2.7 0M393.7 253.5a1.35 1.35 0 1 0 2.7 0a1.35 1.35 0 1 0 -2.7 0M394.2 254.5a1.35 1.35 0 1 0 2.7 0a1.35 1.35 0 1 0 -2.7 0M394.7 254.1a1.35 1.35 0 1 0 2.7 0a1.35 1.35 0 1 0 -2.7 0M395.2 254.3a1.35 1.35 0 1 0 2.7 0a1.35 1.35 0 1 0 -2.7 0M395.7 253.4a1.35 1.35 0 1 0 2.7 0a1.35 1.35 0 1 0 -2.7 0M396.1 253.6a1.35 1.35 0 1 0 2.7 0a1.35 1.35 0 1 0 -2.7 0M396.8 255.1a1.35 1.35 0 1 0 2.7 0a1.35 1.35 0 1 0 -2.7 0M397.5 254.7a1.35 1.35 0 1 0 2.7 0a1.35 1.35 0 1 0 -2.7 0M398.1 255.8a1.35 1.35 0 1 0 2.7 0a1.35 1.35 0 1 0 -2.7 0M398.7 255.2a1.35 1.35 0 1 0 2.7 0a1.35 1.35 0 1 0 -2.7 0M399.3 255.6a1.35 1.35 0 1 0 2.7 0a1.35 1.35 0 1 0 -2.7 0M399.9 255.5a1.35 1.35 0 1 0 2.7 0a1.35 1.35 0 1 0 -2.7 0M400.8 256.2a1.35 1.35 0 1 0 2.7 0a1.35 1.35 0 1 0 -2.7 0M401.3 256.9a1.35 1.35 0 1 0 2.7 0a1.35 1.35 0 1 0 -2.7 0M402.0 256.5a1.35 1.35 0 1 0 2.7 0a1.35 1.35 0 1 0 -2.7 0M402.5 256.5a1.35 1.35 0 1 0 2.7 0a1.35 1.35 0 1 0 -2.7 0M403.0 257.6a1.35 1.35 0 1 0 2.7 0a1.35 1.35 0 1 0 -2.7 0M403.5 257.1a1.35 1.35 0 1 0 2.7 0a1.35 1.35 0 1 0 -2.7 0M404.0 259.0a1.35 1.35 0 1 0 2.7 0a1.35 1.35 0 1 0 -2.7 0M404.6 257.7a1.35 1.35 0 1 0 2.7 0a1.35 1.35 0 1 0 -2.7 0M405.2 258.2a1.35 1.35 0 1 0 2.7 0a1.35 1.35 0 1 0 -2.7 0M405.8 258.2a1.35 1.35 0 1 0 2.7 0a1.35 1.35 0 1 0 -2.7 0M406.3 257.4a1.35 1.35 0 1 0 2.7 0a1.35 1.35 0 1 0 -2.7 0M406.9 258.3a1.35 1.35 0 1 0 2.7 0a1.35 1.35 0 1 0 -2.7 0M407.6 257.9a1.35 1.35 0 1 0 2.7 0a1.35 1.35 0 1 0 -2.7 0M408.1 258.5a1.35 1.35 0 1 0 2.7 0a1.35 1.35 0 1 0 -2.7 0M408.6 258.3a1.35 1.35 0 1 0 2.7 0a1.35 1.35 0 1 0 -2.7 0M409.1 259.5a1.35 1.35 0 1 0 2.7 0a1.35 1.35 0 1 0 -2.7 0M409.5 258.5a1.35 1.35 0 1 0 2.7 0a1.35 1.35 0 1 0 -2.7 0M410.0 259.4a1.35 1.35 0 1 0 2.7 0a1.35 1.35 0 1 0 -2.7 0M410.5 259.9a1.35 1.35 0 1 0 2.7 0a1.35 1.35 0 1 0 -2.7 0M411.0 259.7a1.35 1.35 0 1 0 2.7 0a1.35 1.35 0 1 0 -2.7 0M411.7 260.2a1.35 1.35 0 1 0 2.7 0a1.35 1.35 0 1 0 -2.7 0M412.2 260.2a1.35 1.35 0 1 0 2.7 0a1.35 1.35 0 1 0 -2.7 0M412.7 259.8a1.35 1.35 0 1 0 2.7 0a1.35 1.35 0 1 0 -2.7 0M413.3 260.7a1.35 1.35 0 1 0 2.7 0a1.35 1.35 0 1 0 -2.7 0M413.8 260.8a1.35 1.35 0 1 0 2.7 0a1.35 1.35 0 1 0 -2.7 0M414.3 261.0a1.35 1.35 0 1 0 2.7 0a1.35 1.35 0 1 0 -2.7 0M414.8 260.2a1.35 1.35 0 1 0 2.7 0a1.35 1.35 0 1 0 -2.7 0M415.3 261.0a1.35 1.35 0 1 0 2.7 0a1.35 1.35 0 1 0 -2.7 0M415.8 260.8a1.35 1.35 0 1 0 2.7 0a1.35 1.35 0 1 0 -2.7 0M416.3 261.4a1.35 1.35 0 1 0 2.7 0a1.35 1.35 0 1 0 -2.7 0M416.9 262.0a1.35 1.35 0 1 0 2.7 0a1.35 1.35 0 1 0 -2.7 0M417.4 262.1a1.35 1.35 0 1 0 2.7 0a1.35 1.35 0 1 0 -2.7 0M417.9 261.6a1.35 1.35 0 1 0 2.7 0a1.35 1.35 0 1 0 -2.7 0M418.4 261.9a1.35 1.35 0 1 0 2.7 0a1.35 1.35 0 1 0 -2.7 0M418.8 262.6a1.35 1.35 0 1 0 2.7 0a1.35 1.35 0 1 0 -2.7 0M419.4 262.2a1.35 1.35 0 1 0 2.7 0a1.35 1.35 0 1 0 -2.7 0M420.0 262.5a1.35 1.35 0 1 0 2.7 0a1.35 1.35 0 1 0 -2.7 0M420.6 262.5a1.35 1.35 0 1 0 2.7 0a1.35 1.35 0 1 0 -2.7 0M421.1 263.2a1.35 1.35 0 1 0 2.7 0a1.35 1.35 0 1 0 -2.7 0M421.6 263.4a1.35 1.35 0 1 0 2.7 0a1.35 1.35 0 1 0 -2.7 0M422.2 263.0a1.35 1.35 0 1 0 2.7 0a1.35 1.35 0 1 0 -2.7 0M422.7 263.7a1.35 1.35 0 1 0 2.7 0a1.35 1.35 0 1 0 -2.7 0M423.2 263.5a1.35 1.35 0 1 0 2.7 0a1.35 1.35 0 1 0 -2.7 0M423.7 263.6a1.35 1.35 0 1 0 2.7 0a1.35 1.35 0 1 0 -2.7 0M424.1 264.2a1.35 1.35 0 1 0 2.7 0a1.35 1.35 0 1 0 -2.7 0M424.6 264.3a1.35 1.35 0 1 0 2.7 0a1.35 1.35 0 1 0 -2.7 0M425.1 264.2a1.35 1.35 0 1 0 2.7 0a1.35 1.35 0 1 0 -2.7 0M425.6 264.3a1.35 1.35 0 1 0 2.7 0a1.35 1.35 0 1 0 -2.7 0M426.1 264.4a1.35 1.35 0 1 0 2.7 0a1.35 1.35 0 1 0 -2.7 0M426.5 264.6a1.35 1.35 0 1 0 2.7 0a1.35 1.35 0 1 0 -2.7 0M427.0 265.0a1.35 1.35 0 1 0 2.7 0a1.35 1.35 0 1 0 -2.7 0M427.5 265.2a1.35 1.35 0 1 0 2.7 0a1.35 1.35 0 1 0 -2.7 0M427.9 265.4a1.35 1.35 0 1 0 2.7 0a1.35 1.35 0 1 0 -2.7 0M428.4 265.5a1.35 1.35 0 1 0 2.7 0a1.35 1.35 0 1 0 -2.7 0M428.9 265.8a1.35 1.35 0 1 0 2.7 0a1.35 1.35 0 1 0 -2.7 0M429.4 265.9a1.35 1.35 0 1 0 2.7 0a1.35 1.35 0 1 0 -2.7 0M429.9 266.0a1.35 1.35 0 1 0 2.7 0a1.35 1.35 0 1 0 -2.7 0M430.4 266.2a1.35 1.35 0 1 0 2.7 0a1.35 1.35 0 1 0 -2.7 0M430.9 266.4a1.35 1.35 0 1 0 2.7 0a1.35 1.35 0 1 0 -2.7 0M431.3 266.2a1.35 1.35 0 1 0 2.7 0a1.35 1.35 0 1 0 -2.7 0M431.8 266.6a1.35 1.35 0 1 0 2.7 0a1.35 1.35 0 1 0 -2.7 0M432.3 266.8a1.35 1.35 0 1 0 2.7 0a1.35 1.35 0 1 0 -2.7 0M432.8 267.0a1.35 1.35 0 1 0 2.7 0a1.35 1.35 0 1 0 -2.7 0M433.2 267.1a1.35 1.35 0 1 0 2.7 0a1.35 1.35 0 1 0 -2.7 0M433.7 267.3a1.35 1.35 0 1 0 2.7 0a1.35 1.35 0 1 0 -2.7 0M434.2 267.4a1.35 1.35 0 1 0 2.7 0a1.35 1.35 0 1 0 -2.7 0M434.6 267.5a1.35 1.35 0 1 0 2.7 0a1.35 1.35 0 1 0 -2.7 0M435.1 267.8a1.35 1.35 0 1 0 2.7 0a1.35 1.35 0 1 0 -2.7 0M435.6 267.9a1.35 1.35 0 1 0 2.7 0a1.35 1.35 0 1 0 -2.7 0M436.1 268.1a1.35 1.35 0 1 0 2.7 0a1.35 1.35 0 1 0 -2.7 0M436.5 268.2a1.35 1.35 0 1 0 2.7 0a1.35 1.35 0 1 0 -2.7 0M437.0 268.4a1.35 1.35 0 1 0 2.7 0a1.35 1.35 0 1 0 -2.7 0M437.5 268.6a1.35 1.35 0 1 0 2.7 0a1.35 1.35 0 1 0 -2.7 0M437.9 268.7a1.35 1.35 0 1 0 2.7 0a1.35 1.35 0 1 0 -2.7 0M438.4 268.9a1.35 1.35 0 1 0 2.7 0a1.35 1.35 0 1 0 -2.7 0M438.8 269.0a1.35 1.35 0 1 0 2.7 0a1.35 1.35 0 1 0 -2.7 0M439.3 269.2a1.35 1.35 0 1 0 2.7 0a1.35 1.35 0 1 0 -2.7 0M439.8 269.4a1.35 1.35 0 1 0 2.7 0a1.35 1.35 0 1 0 -2.7 0M440.2 269.5a1.35 1.35 0 1 0 2.7 0a1.35 1.35 0 1 0 -2.7 0M440.7 269.7a1.35 1.35 0 1 0 2.7 0a1.35 1.35 0 1 0 -2.7 0M441.2 269.9a1.35 1.35 0 1 0 2.7 0a1.35 1.35 0 1 0 -2.7 0M441.6 270.0a1.35 1.35 0 1 0 2.7 0a1.35 1.35 0 1 0 -2.7 0M442.1 270.2a1.35 1.35 0 1 0 2.7 0a1.35 1.35 0 1 0 -2.7 0M442.6 270.3a1.35 1.35 0 1 0 2.7 0a1.35 1.35 0 1 0 -2.7 0M443.0 270.5a1.35 1.35 0 1 0 2.7 0a1.35 1.35 0 1 0 -2.7 0M443.5 270.7a1.35 1.35 0 1 0 2.7 0a1.35 1.35 0 1 0 -2.7 0M444.0 270.8a1.35 1.35 0 1 0 2.7 0a1.35 1.35 0 1 0 -2.7 0M444.4 271.0a1.35 1.35 0 1 0 2.7 0a1.35 1.35 0 1 0 -2.7 0M444.9 271.1a1.35 1.35 0 1 0 2.7 0a1.35 1.35 0 1 0 -2.7 0M445.4 271.3a1.35 1.35 0 1 0 2.7 0a1.35 1.35 0 1 0 -2.7 0M445.8 271.5a1.35 1.35 0 1 0 2.7 0a1.35 1.35 0 1 0 -2.7 0M446.3 271.6a1.35 1.35 0 1 0 2.7 0a1.35 1.35 0 1 0 -2.7 0M446.7 271.8a1.35 1.35 0 1 0 2.7 0a1.35 1.35 0 1 0 -2.7 0M447.2 271.9a1.35 1.35 0 1 0 2.7 0a1.35 1.35 0 1 0 -2.7 0M447.6 272.1a1.35 1.35 0 1 0 2.7 0a1.35 1.35 0 1 0 -2.7 0M448.1 272.2a1.35 1.35 0 1 0 2.7 0a1.35 1.35 0 1 0 -2.7 0M448.6 272.4a1.35 1.35 0 1 0 2.7 0a1.35 1.35 0 1 0 -2.7 0M449.0 272.6a1.35 1.35 0 1 0 2.7 0a1.35 1.35 0 1 0 -2.7 0M449.5 272.7a1.35 1.35 0 1 0 2.7 0a1.35 1.35 0 1 0 -2.7 0M449.9 272.9a1.35 1.35 0 1 0 2.7 0a1.35 1.35 0 1 0 -2.7 0M450.4 273.0a1.35 1.35 0 1 0 2.7 0a1.35 1.35 0 1 0 -2.7 0M450.9 273.2a1.35 1.35 0 1 0 2.7 0a1.35 1.35 0 1 0 -2.7 0M451.3 273.4a1.35 1.35 0 1 0 2.7 0a1.35 1.35 0 1 0 -2.7 0M451.8 273.5a1.35 1.35 0 1 0 2.7 0a1.35 1.35 0 1 0 -2.7 0M452.3 273.7a1.35 1.35 0 1 0 2.7 0a1.35 1.35 0 1 0 -2.7 0M452.7 273.8a1.35 1.35 0 1 0 2.7 0a1.35 1.35 0 1 0 -2.7 0M453.2 274.0a1.35 1.35 0 1 0 2.7 0a1.35 1.35 0 1 0 -2.7 0M453.6 274.2a1.35 1.35 0 1 0 2.7 0a1.35 1.35 0 1 0 -2.7 0M454.1 274.3a1.35 1.35 0 1 0 2.7 0a1.35 1.35 0 1 0 -2.7 0M454.5 274.5a1.35 1.35 0 1 0 2.7 0a1.35 1.35 0 1 0 -2.7 0M455.0 274.6a1.35 1.35 0 1 0 2.7 0a1.35 1.35 0 1 0 -2.7 0M455.5 274.8a1.35 1.35 0 1 0 2.7 0a1.35 1.35 0 1 0 -2.7 0M455.9 274.9a1.35 1.35 0 1 0 2.7 0a1.35 1.35 0 1 0 -2.7 0M456.4 275.1a1.35 1.35 0 1 0 2.7 0a1.35 1.35 0 1 0 -2.7 0M456.8 275.3a1.35 1.35 0 1 0 2.7 0a1.35 1.35 0 1 0 -2.7 0M457.3 275.4a1.35 1.35 0 1 0 2.7 0a1.35 1.35 0 1 0 -2.7 0M457.7 275.6a1.35 1.35 0 1 0 2.7 0a1.35 1.35 0 1 0 -2.7 0M458.2 275.7a1.35 1.35 0 1 0 2.7 0a1.35 1.35 0 1 0 -2.7 0M458.7 275.9a1.35 1.35 0 1 0 2.7 0a1.35 1.35 0 1 0 -2.7 0M459.1 276.0a1.35 1.35 0 1 0 2.7 0a1.35 1.35 0 1 0 -2.7 0M459.6 276.2a1.35 1.35 0 1 0 2.7 0a1.35 1.35 0 1 0 -2.7 0M460.0 276.4a1.35 1.35 0 1 0 2.7 0a1.35 1.35 0 1 0 -2.7 0M460.5 276.5a1.35 1.35 0 1 0 2.7 0a1.35 1.35 0 1 0 -2.7 0M460.9 276.7a1.35 1.35 0 1 0 2.7 0a1.35 1.35 0 1 0 -2.7 0M461.4 276.8a1.35 1.35 0 1 0 2.7 0a1.35 1.35 0 1 0 -2.7 0M461.8 277.0a1.35 1.35 0 1 0 2.7 0a1.35 1.35 0 1 0 -2.7 0M462.3 277.1a1.35 1.35 0 1 0 2.7 0a1.35 1.35 0 1 0 -2.7 0M462.7 277.3a1.35 1.35 0 1 0 2.7 0a1.35 1.35 0 1 0 -2.7 0M463.2 277.4a1.35 1.35 0 1 0 2.7 0a1.35 1.35 0 1 0 -2.7 0M463.7 277.6a1.35 1.35 0 1 0 2.7 0a1.35 1.35 0 1 0 -2.7 0M464.1 277.7a1.35 1.35 0 1 0 2.7 0a1.35 1.35 0 1 0 -2.7 0M464.6 277.9a1.35 1.35 0 1 0 2.7 0a1.35 1.35 0 1 0 -2.7 0M465.1 278.1a1.35 1.35 0 1 0 2.7 0a1.35 1.35 0 1 0 -2.7 0M465.5 278.2a1.35 1.35 0 1 0 2.7 0a1.35 1.35 0 1 0 -2.7 0M466.0 278.4a1.35 1.35 0 1 0 2.7 0a1.35 1.35 0 1 0 -2.7 0M466.4 278.5a1.35 1.35 0 1 0 2.7 0a1.35 1.35 0 1 0 -2.7 0M466.9 278.7a1.35 1.35 0 1 0 2.7 0a1.35 1.35 0 1 0 -2.7 0M467.3 278.8a1.35 1.35 0 1 0 2.7 0a1.35 1.35 0 1 0 -2.7 0M467.8 279.0a1.35 1.35 0 1 0 2.7 0a1.35 1.35 0 1 0 -2.7 0M468.2 279.1a1.35 1.35 0 1 0 2.7 0a1.35 1.35 0 1 0 -2.7 0M468.7 279.3a1.35 1.35 0 1 0 2.7 0a1.35 1.35 0 1 0 -2.7 0M469.1 279.4a1.35 1.35 0 1 0 2.7 0a1.35 1.35 0 1 0 -2.7 0M469.6 279.6a1.35 1.35 0 1 0 2.7 0a1.35 1.35 0 1 0 -2.7 0M470.1 279.7a1.35 1.35 0 1 0 2.7 0a1.35 1.35 0 1 0 -2.7 0M470.5 279.9a1.35 1.35 0 1 0 2.7 0a1.35 1.35 0 1 0 -2.7 0M471.0 280.1a1.35 1.35 0 1 0 2.7 0a1.35 1.35 0 1 0 -2.7 0M471.4 280.2a1.35 1.35 0 1 0 2.7 0a1.35 1.35 0 1 0 -2.7 0M471.9 280.4a1.35 1.35 0 1 0 2.7 0a1.35 1.35 0 1 0 -2.7 0M472.3 280.5a1.35 1.35 0 1 0 2.7 0a1.35 1.35 0 1 0 -2.7 0M472.8 280.7a1.35 1.35 0 1 0 2.7 0a1.35 1.35 0 1 0 -2.7 0M473.2 280.8a1.35 1.35 0 1 0 2.7 0a1.35 1.35 0 1 0 -2.7 0M473.7 281.0a1.35 1.35 0 1 0 2.7 0a1.35 1.35 0 1 0 -2.7 0M474.1 281.1a1.35 1.35 0 1 0 2.7 0a1.35 1.35 0 1 0 -2.7 0M474.6 281.3a1.35 1.35 0 1 0 2.7 0a1.35 1.35 0 1 0 -2.7 0M475.0 281.4a1.35 1.35 0 1 0 2.7 0a1.35 1.35 0 1 0 -2.7 0M475.5 281.6a1.35 1.35 0 1 0 2.7 0a1.35 1.35 0 1 0 -2.7 0M475.9 281.7a1.35 1.35 0 1 0 2.7 0a1.35 1.35 0 1 0 -2.7 0M476.4 281.9a1.35 1.35 0 1 0 2.7 0a1.35 1.35 0 1 0 -2.7 0M476.9 282.0a1.35 1.35 0 1 0 2.7 0a1.35 1.35 0 1 0 -2.7 0M477.3 282.2a1.35 1.35 0 1 0 2.7 0a1.35 1.35 0 1 0 -2.7 0M477.8 282.3a1.35 1.35 0 1 0 2.7 0a1.35 1.35 0 1 0 -2.7 0M478.2 282.5a1.35 1.35 0 1 0 2.7 0a1.35 1.35 0 1 0 -2.7 0M478.7 282.6a1.35 1.35 0 1 0 2.7 0a1.35 1.35 0 1 0 -2.7 0M479.1 282.8a1.35 1.35 0 1 0 2.7 0a1.35 1.35 0 1 0 -2.7 0M479.6 282.9a1.35 1.35 0 1 0 2.7 0a1.35 1.35 0 1 0 -2.7 0M480.0 283.1a1.35 1.35 0 1 0 2.7 0a1.35 1.35 0 1 0 -2.7 0M480.5 283.2a1.35 1.35 0 1 0 2.7 0a1.35 1.35 0 1 0 -2.7 0M480.9 283.4a1.35 1.35 0 1 0 2.7 0a1.35 1.35 0 1 0 -2.7 0M481.4 283.5a1.35 1.35 0 1 0 2.7 0a1.35 1.35 0 1 0 -2.7 0M481.8 283.7a1.35 1.35 0 1 0 2.7 0a1.35 1.35 0 1 0 -2.7 0M482.3 283.8a1.35 1.35 0 1 0 2.7 0a1.35 1.35 0 1 0 -2.7 0M482.7 283.9a1.35 1.35 0 1 0 2.7 0a1.35 1.35 0 1 0 -2.7 0M483.2 284.1a1.35 1.35 0 1 0 2.7 0a1.35 1.35 0 1 0 -2.7 0M483.7 284.2a1.35 1.35 0 1 0 2.7 0a1.35 1.35 0 1 0 -2.7 0M484.1 284.4a1.35 1.35 0 1 0 2.7 0a1.35 1.35 0 1 0 -2.7 0M484.6 284.5a1.35 1.35 0 1 0 2.7 0a1.35 1.35 0 1 0 -2.7 0M485.0 284.7a1.35 1.35 0 1 0 2.7 0a1.35 1.35 0 1 0 -2.7 0M485.5 284.8a1.35 1.35 0 1 0 2.7 0a1.35 1.35 0 1 0 -2.7 0M485.9 285.0a1.35 1.35 0 1 0 2.7 0a1.35 1.35 0 1 0 -2.7 0M486.4 285.1a1.35 1.35 0 1 0 2.7 0a1.35 1.35 0 1 0 -2.7 0M486.8 285.3a1.35 1.35 0 1 0 2.7 0a1.35 1.35 0 1 0 -2.7 0M487.3 285.4a1.35 1.35 0 1 0 2.7 0a1.35 1.35 0 1 0 -2.7 0M487.7 285.5a1.35 1.35 0 1 0 2.7 0a1.35 1.35 0 1 0 -2.7 0M488.2 285.7a1.35 1.35 0 1 0 2.7 0a1.35 1.35 0 1 0 -2.7 0M488.6 285.8a1.35 1.35 0 1 0 2.7 0a1.35 1.35 0 1 0 -2.7 0M489.1 286.0a1.35 1.35 0 1 0 2.7 0a1.35 1.35 0 1 0 -2.7 0M489.5 286.1a1.35 1.35 0 1 0 2.7 0a1.35 1.35 0 1 0 -2.7 0M490.0 286.3a1.35 1.35 0 1 0 2.7 0a1.35 1.35 0 1 0 -2.7 0M490.4 286.4a1.35 1.35 0 1 0 2.7 0a1.35 1.35 0 1 0 -2.7 0M490.9 286.5a1.35 1.35 0 1 0 2.7 0a1.35 1.35 0 1 0 -2.7 0M491.3 286.7a1.35 1.35 0 1 0 2.7 0a1.35 1.35 0 1 0 -2.7 0M491.8 286.8a1.35 1.35 0 1 0 2.7 0a1.35 1.35 0 1 0 -2.7 0M492.2 287.0a1.35 1.35 0 1 0 2.7 0a1.35 1.35 0 1 0 -2.7 0M492.7 287.1a1.35 1.35 0 1 0 2.7 0a1.35 1.35 0 1 0 -2.7 0M493.1 287.3a1.35 1.35 0 1 0 2.7 0a1.35 1.35 0 1 0 -2.7 0M493.6 287.4a1.35 1.35 0 1 0 2.7 0a1.35 1.35 0 1 0 -2.7 0M494.0 287.5a1.35 1.35 0 1 0 2.7 0a1.35 1.35 0 1 0 -2.7 0M494.5 287.7a1.35 1.35 0 1 0 2.7 0a1.35 1.35 0 1 0 -2.7 0M495.0 287.8a1.35 1.35 0 1 0 2.7 0a1.35 1.35 0 1 0 -2.7 0M495.4 288.0a1.35 1.35 0 1 0 2.7 0a1.35 1.35 0 1 0 -2.7 0M495.9 288.1a1.35 1.35 0 1 0 2.7 0a1.35 1.35 0 1 0 -2.7 0M496.3 288.2a1.35 1.35 0 1 0 2.7 0a1.35 1.35 0 1 0 -2.7 0M496.8 288.4a1.35 1.35 0 1 0 2.7 0a1.35 1.35 0 1 0 -2.7 0M497.2 288.5a1.35 1.35 0 1 0 2.7 0a1.35 1.35 0 1 0 -2.7 0M497.7 288.7a1.35 1.35 0 1 0 2.7 0a1.35 1.35 0 1 0 -2.7 0M498.1 288.8a1.35 1.35 0 1 0 2.7 0a1.35 1.35 0 1 0 -2.7 0M498.6 288.9a1.35 1.35 0 1 0 2.7 0a1.35 1.35 0 1 0 -2.7 0M499.0 289.1a1.35 1.35 0 1 0 2.7 0a1.35 1.35 0 1 0 -2.7 0M499.5 289.2a1.35 1.35 0 1 0 2.7 0a1.35 1.35 0 1 0 -2.7 0M499.9 289.3a1.35 1.35 0 1 0 2.7 0a1.35 1.35 0 1 0 -2.7 0M500.4 289.5a1.35 1.35 0 1 0 2.7 0a1.35 1.35 0 1 0 -2.7 0M500.8 289.6a1.35 1.35 0 1 0 2.7 0a1.35 1.35 0 1 0 -2.7 0M501.3 289.7a1.35 1.35 0 1 0 2.7 0a1.35 1.35 0 1 0 -2.7 0M501.7 289.9a1.35 1.35 0 1 0 2.7 0a1.35 1.35 0 1 0 -2.7 0M502.2 290.0a1.35 1.35 0 1 0 2.7 0a1.35 1.35 0 1 0 -2.7 0M502.6 290.1a1.35 1.35 0 1 0 2.7 0a1.35 1.35 0 1 0 -2.7 0M503.1 290.3a1.35 1.35 0 1 0 2.7 0a1.35 1.35 0 1 0 -2.7 0M503.5 290.4a1.35 1.35 0 1 0 2.7 0a1.35 1.35 0 1 0 -2.7 0M504.0 290.5a1.35 1.35 0 1 0 2.7 0a1.35 1.35 0 1 0 -2.7 0M504.4 290.7a1.35 1.35 0 1 0 2.7 0a1.35 1.35 0 1 0 -2.7 0M504.9 290.8a1.35 1.35 0 1 0 2.7 0a1.35 1.35 0 1 0 -2.7 0M505.3 290.9a1.35 1.35 0 1 0 2.7 0a1.35 1.35 0 1 0 -2.7 0M505.8 291.1a1.35 1.35 0 1 0 2.7 0a1.35 1.35 0 1 0 -2.7 0M506.2 291.2a1.35 1.35 0 1 0 2.7 0a1.35 1.35 0 1 0 -2.7 0M506.7 291.3a1.35 1.35 0 1 0 2.7 0a1.35 1.35 0 1 0 -2.7 0M507.1 291.5a1.35 1.35 0 1 0 2.7 0a1.35 1.35 0 1 0 -2.7 0M507.6 291.6a1.35 1.35 0 1 0 2.7 0a1.35 1.35 0 1 0 -2.7 0M508.0 291.7a1.35 1.35 0 1 0 2.7 0a1.35 1.35 0 1 0 -2.7 0M508.5 291.9a1.35 1.35 0 1 0 2.7 0a1.35 1.35 0 1 0 -2.7 0M508.9 292.0a1.35 1.35 0 1 0 2.7 0a1.35 1.35 0 1 0 -2.7 0M509.4 292.1a1.35 1.35 0 1 0 2.7 0a1.35 1.35 0 1 0 -2.7 0M509.8 292.3a1.35 1.35 0 1 0 2.7 0a1.35 1.35 0 1 0 -2.7 0M510.3 292.4a1.35 1.35 0 1 0 2.7 0a1.35 1.35 0 1 0 -2.7 0M510.7 292.5a1.35 1.35 0 1 0 2.7 0a1.35 1.35 0 1 0 -2.7 0M511.2 292.6a1.35 1.35 0 1 0 2.7 0a1.35 1.35 0 1 0 -2.7 0M511.6 292.8a1.35 1.35 0 1 0 2.7 0a1.35 1.35 0 1 0 -2.7 0M512.1 292.9a1.35 1.35 0 1 0 2.7 0a1.35 1.35 0 1 0 -2.7 0M512.5 293.0a1.35 1.35 0 1 0 2.7 0a1.35 1.35 0 1 0 -2.7 0M513.0 293.1a1.35 1.35 0 1 0 2.7 0a1.35 1.35 0 1 0 -2.7 0M513.4 293.3a1.35 1.35 0 1 0 2.7 0a1.35 1.35 0 1 0 -2.7 0M513.9 293.4a1.35 1.35 0 1 0 2.7 0a1.35 1.35 0 1 0 -2.7 0M514.3 293.5a1.35 1.35 0 1 0 2.7 0a1.35 1.35 0 1 0 -2.7 0M514.8 293.6a1.35 1.35 0 1 0 2.7 0a1.35 1.35 0 1 0 -2.7 0M515.2 293.8a1.35 1.35 0 1 0 2.7 0a1.35 1.35 0 1 0 -2.7 0M515.7 293.9a1.35 1.35 0 1 0 2.7 0a1.35 1.35 0 1 0 -2.7 0M516.1 294.0a1.35 1.35 0 1 0 2.7 0a1.35 1.35 0 1 0 -2.7 0M516.6 294.1a1.35 1.35 0 1 0 2.7 0a1.35 1.35 0 1 0 -2.7 0M517.0 294.3a1.35 1.35 0 1 0 2.7 0a1.35 1.35 0 1 0 -2.7 0M517.5 294.4a1.35 1.35 0 1 0 2.7 0a1.35 1.35 0 1 0 -2.7 0M517.9 294.5a1.35 1.35 0 1 0 2.7 0a1.35 1.35 0 1 0 -2.7 0M518.4 294.6a1.35 1.35 0 1 0 2.7 0a1.35 1.35 0 1 0 -2.7 0M518.8 294.8a1.35 1.35 0 1 0 2.7 0a1.35 1.35 0 1 0 -2.7 0" stroke="#00f" stroke-width="0.55" fill="none"/>
<path d="M432.8 284.8L434.3 285.0L435.8 285.2L437.3 285.4L438.8 285.5L440.3 285.7L441.8 285.9L443.3 286.1L444.8 286.4L446.3 286.6L447.8 286.8L449.3 287.0L450.8 287.2L452.3 287.4L453.8 287.6L455.3 287.8L456.8 288.0L458.3 288.3L459.8 288.5L461.3 288.7L462.8 288.9L464.3 289.1L465.8 289.4L467.3 289.6L468.8 289.8L470.3 290.0L471.8 290.3L473.3 290.5L474.8 290.7L476.3 290.9L477.8 291.1L479.3 291.3L480.8 291.6L482.3 291.8L483.8 292.0L485.3 292.2L486.8 292.4L488.3 292.6L489.8 292.8L491.3 293.0L492.8 293.2L494.3 293.4L495.8 293.6L497.3 293.8L498.8 294.0L500.3 294.2L501.8 294.4L503.3 294.6L504.8 294.8L506.3 294.9L507.8 295.1L509.3 295.3L510.8 295.5L512.3 295.6L513.8 295.8L515.3 295.9L516.8 296.1L518.3 296.2L519.8 296.4" stroke="#808080" stroke-width="3.0" fill="none" stroke-linejoin="round"/>
<path d="M303.9 275.5h2.35v2.35h-2.35zM318.2 275.0h2.35v2.35h-2.35zM326.5 274.4h2.35v2.35h-2.35zM332.4 274.4h2.35v2.35h-2.35zM337.0 274.4h2.35v2.35h-2.35zM340.7 276.2h2.35v2.35h-2.35zM346.6 275.5h2.35v2.35h-2.35zM349.0 275.9h2.35v2.35h-2.35zM351.2 273.7h2.35v2.35h-2.35zM353.2 276.0h2.35v2.35h-2.35zM354.9 276.9h2.35v2.35h-2.35zM356.6 276.3h2.35v2.35h-2.35zM358.1 276.9h2.35v2.35h-2.35zM360.8 276.4h2.35v2.35h-2.35zM362.1 276.5h2.35v2.35h-2.35zM363.3 276.6h2.35v2.35h-2.35zM364.4 276.3h2.35v2.35h-2.35zM365.4 277.2h2.35v2.35h-2.35zM366.4 277.5h2.35v2.35h-2.35zM367.4 277.0h2.35v2.35h-2.35zM369.2 278.9h2.35v2.35h-2.35zM370.0 277.3h2.35v2.35h-2.35zM370.8 277.7h2.35v2.35h-2.35zM371.6 277.4h2.35v2.35h-2.35zM373.1 277.8h2.35v2.35h-2.35zM373.7 278.3h2.35v2.35h-2.35zM375.1 278.0h2.35v2.35h-2.35zM375.7 277.6h2.35v2.35h-2.35zM376.3 278.9h2.35v2.35h-2.35zM376.9 278.2h2.35v2.35h-2.35zM377.5 276.7h2.35v2.35h-2.35zM378.1 279.6h2.35v2.35h-2.35zM378.6 278.4h2.35v2.35h-2.35zM379.7 277.5h2.35v2.35h-2.35zM380.2 279.1h2.35v2.35h-2.35zM380.7 278.6h2.35v2.35h-2.35zM381.1 278.3h2.35v2.35h-2.35zM381.6 279.4h2.35v2.35h-2.35zM382.1 278.8h2.35v2.35h-2.35zM382.5 279.1h2.35v2.35h-2.35zM383.4 278.6h2.35v2.35h-2.35zM384.2 278.8h2.35v2.35h-2.35zM385.0 278.6h2.35v2.35h-2.35zM385.8 278.4h2.35v2.35h-2.35zM386.6 278.4h2.35v2.35h-2.35zM387.3 278.3h2.35v2.35h-2.35zM388.3 279.5h2.35v2.35h-2.35zM389.3 279.7h2.35v2.35h-2.35zM389.9 279.6h2.35v2.35h-2.35zM390.5 279.2h2.35v2.35h-2.35zM391.1 279.6h2.35v2.35h-2.35zM391.7 279.8h2.35v2.35h-2.35zM392.3 279.9h2.35v2.35h-2.35zM392.8 279.4h2.35v2.35h-2.35zM393.4 280.1h2.35v2.35h-2.35zM393.9 279.5h2.35v2.35h-2.35zM394.4 279.7h2.35v2.35h-2.35zM394.9 279.2h2.35v2.35h-2.35zM395.4 279.8h2.35v2.35h-2.35zM395.8 280.0h2.35v2.35h-2.35zM396.3 279.9h2.35v2.35h-2.35zM397.0 280.0h2.35v2.35h-2.35zM397.6 279.9h2.35v2.35h-2.35zM398.3 280.4h2.35v2.35h-2.35zM398.9 280.6h2.35v2.35h-2.35zM399.5 279.8h2.35v2.35h-2.35zM400.0 278.7h2.35v2.35h-2.35zM401.0 280.2h2.35v2.35h-2.35zM401.5 280.5h2.35v2.35h-2.35zM402.2 280.8h2.35v2.35h-2.35zM402.7 280.0h2.35v2.35h-2.35zM403.2 280.1h2.35v2.35h-2.35zM403.7 280.7h2.35v2.35h-2.35zM404.2 280.9h2.35v2.35h-2.35zM404.8 280.6h2.35v2.35h-2.35zM405.4 280.3h2.35v2.35h-2.35zM406.0 281.3h2.35v2.35h-2.35zM406.5 281.2h2.35v2.35h-2.35zM407.1 281.0h2.35v2.35h-2.35zM407.7 281.0h2.35v2.35h-2.35zM408.2 281.2h2.35v2.35h-2.35zM408.7 281.5h2.35v2.35h-2.35zM409.2 280.7h2.35v2.35h-2.35zM409.7 281.5h2.35v2.35h-2.35zM410.2 281.5h2.35v2.35h-2.35zM410.6 281.2h2.35v2.35h-2.35zM411.2 281.2h2.35v2.35h-2.35zM411.9 281.6h2.35v2.35h-2.35zM412.4 281.8h2.35v2.35h-2.35zM412.9 281.2h2.35v2.35h-2.35zM413.5 281.6h2.35v2.35h-2.35zM414.0 281.8h2.35v2.35h-2.35zM414.5 282.0h2.35v2.35h-2.35zM415.0 281.7h2.35v2.35h-2.35zM415.5 282.1h2.35v2.35h-2.35zM416.0 282.0h2.35v2.35h-2.35zM416.5 282.2h2.35v2.35h-2.35zM417.1 282.0h2.35v2.35h-2.35zM417.6 281.7h2.35v2.35h-2.35zM418.1 282.2h2.35v2.35h-2.35zM418.5 282.4h2.35v2.35h-2.35zM419.0 281.9h2.35v2.35h-2.35zM419.6 282.7h2.35v2.35h-2.35zM420.2 282.2h2.35v2.35h-2.35zM420.7 282.4h2.35v2.35h-2.35zM421.3 282.7h2.35v2.35h-2.35zM421.8 282.5h2.35v2.35h-2.35zM422.3 281.8h2.35v2.35h-2.35zM422.9 282.5h2.35v2.35h-2.35zM423.3 282.4h2.35v2.35h-2.35zM423.8 282.7h2.35v2.35h-2.35zM424.3 282.1h2.35v2.35h-2.35zM424.8 282.7h2.35v2.35h-2.35zM425.3 282.7h2.35v2.35h-2.35zM425.8 282.6h2.35v2.35h-2.35zM426.2 283.0h2.35v2.35h-2.35zM426.7 283.0h2.35v2.35h-2.35zM427.2 282.9h2.35v2.35h-2.35zM427.6 283.3h2.35v2.35h-2.35zM428.1 283.4h2.35v2.35h-2.35zM428.6 283.1h2.35v2.35h-2.35zM429.1 283.1h2.35v2.35h-2.35zM429.6 283.3h2.35v2.35h-2.35zM430.1 283.4h2.35v2.35h-2.35zM430.6 283.4h2.35v2.35h-2.35zM431.0 283.6h2.35v2.35h-2.35zM431.5 283.6h2.35v2.35h-2.35zM432.0 283.7h2.35v2.35h-2.35zM432.5 283.6h2.35v2.35h-2.35zM432.9 283.8h2.35v2.35h-2.35zM433.4 284.0h2.35v2.35h-2.35zM433.9 284.0h2.35v2.35h-2.35zM434.3 284.1h2.35v2.35h-2.35zM434.8 283.9h2.35v2.35h-2.35zM435.3 284.0h2.35v2.35h-2.35zM435.8 284.0h2.35v2.35h-2.35zM436.2 284.1h2.35v2.35h-2.35zM436.7 284.2h2.35v2.35h-2.35zM437.2 284.3h2.35v2.35h-2.35zM437.6 284.3h2.35v2.35h-2.35zM438.1 284.3h2.35v2.35h-2.35zM438.6 284.6h2.35v2.35h-2.35zM439.0 284.6h2.35v2.35h-2.35zM439.5 284.5h2.35v2.35h-2.35zM439.9 284.6h2.35v2.35h-2.35zM440.4 284.6h2.35v2.35h-2.35zM440.9 284.8h2.35v2.35h-2.35zM441.4 284.9h2.35v2.35h-2.35zM441.8 285.0h2.35v2.35h-2.35zM442.3 284.9h2.35v2.35h-2.35zM442.7 285.0h2.35v2.35h-2.35zM443.2 285.0h2.35v2.35h-2.35zM443.7 285.3h2.35v2.35h-2.35zM444.1 285.2h2.35v2.35h-2.35zM444.6 285.4h2.35v2.35h-2.35zM445.1 285.4h2.35v2.35h-2.35zM445.5 285.4h2.35v2.35h-2.35zM446.0 285.5h2.35v2.35h-2.35zM446.4 285.5h2.35v2.35h-2.35zM446.9 285.6h2.35v2.35h-2.35zM447.4 285.7h2.35v2.35h-2.35zM447.8 285.7h2.35v2.35h-2.35zM448.3 285.8h2.35v2.35h-2.35zM448.7 285.9h2.35v2.35h-2.35zM449.2 285.9h2.35v2.35h-2.35zM449.7 286.0h2.35v2.35h-2.35zM450.1 286.1h2.35v2.35h-2.35zM450.6 286.1h2.35v2.35h-2.35zM451.1 286.2h2.35v2.35h-2.35zM451.5 286.3h2.35v2.35h-2.35zM452.0 286.3h2.35v2.35h-2.35zM452.4 286.4h2.35v2.35h-2.35zM452.9 286.5h2.35v2.35h-2.35zM453.3 286.5h2.35v2.35h-2.35zM453.8 286.6h2.35v2.35h-2.35zM454.3 286.7h2.35v2.35h-2.35zM454.7 286.7h2.35v2.35h-2.35zM455.2 286.8h2.35v2.35h-2.35zM455.6 286.9h2.35v2.35h-2.35zM456.1 286.9h2.35v2.35h-2.35zM456.5 287.0h2.35v2.35h-2.35zM457.0 287.1h2.35v2.35h-2.35zM457.5 287.1h2.35v2.35h-2.35zM457.9 287.2h2.35v2.35h-2.35zM458.4 287.3h2.35v2.35h-2.35zM458.8 287.3h2.35v2.35h-2.35zM459.3 287.4h2.35v2.35h-2.35zM459.7 287.5h2.35v2.35h-2.35zM460.2 287.5h2.35v2.35h-2.35zM460.7 287.6h2.35v2.35h-2.35zM461.1 287.7h2.35v2.35h-2.35zM461.6 287.7h2.35v2.35h-2.35zM462.0 287.8h2.35v2.35h-2.35zM462.5 287.9h2.35v2.35h-2.35zM462.9 287.9h2.35v2.35h-2.35zM463.4 288.0h2.35v2.35h-2.35zM463.9 288.1h2.35v2.35h-2.35zM464.3 288.1h2.35v2.35h-2.35zM464.8 288.2h2.35v2.35h-2.35zM465.2 288.3h2.35v2.35h-2.35zM465.7 288.3h2.35v2.35h-2.35zM466.1 288.4h2.35v2.35h-2.35zM466.6 288.5h2.35v2.35h-2.35zM467.0 288.5h2.35v2.35h-2.35zM467.5 288.6h2.35v2.35h-2.35zM468.0 288.7h2.35v2.35h-2.35zM468.4 288.8h2.35v2.35h-2.35zM468.9 288.8h2.35v2.35h-2.35zM469.3 288.9h2.35v2.35h-2.35zM469.8 289.0h2.35v2.35h-2.35zM470.2 289.0h2.35v2.35h-2.35zM470.7 289.1h2.35v2.35h-2.35zM471.1 289.2h2.35v2.35h-2.35zM471.6 289.2h2.35v2.35h-2.35zM472.0 289.3h2.35v2.35h-2.35zM472.5 289.4h2.35v2.35h-2.35zM472.9 289.4h2.35v2.35h-2.35zM473.4 289.5h2.35v2.35h-2.35zM473.9 289.5h2.35v2.35h-2.35zM474.3 289.6h2.35v2.35h-2.35zM474.8 289.7h2.35v2.35h-2.35zM475.2 289.7h2.35v2.35h-2.35zM475.7 289.8h2.35v2.35h-2.35zM476.1 289.9h2.35v2.35h-2.35zM476.6 289.9h2.35v2.35h-2.35zM477.0 290.0h2.35v2.35h-2.35zM477.5 290.1h2.35v2.35h-2.35zM477.9 290.1h2.35v2.35h-2.35zM478.4 290.2h2.35v2.35h-2.35zM478.8 290.3h2.35v2.35h-2.35zM479.3 290.3h2.35v2.35h-2.35zM479.7 290.4h2.35v2.35h-2.35zM480.2 290.5h2.35v2.35h-2.35zM480.7 290.5h2.35v2.35h-2.35zM481.1 290.6h2.35v2.35h-2.35zM481.6 290.7h2.35v2.35h-2.35zM482.0 290.7h2.35v2.35h-2.35zM482.5 290.8h2.35v2.35h-2.35zM482.9 290.9h2.35v2.35h-2.35zM483.4 290.9h2.35v2.35h-2.35zM483.8 291.0h2.35v2.35h-2.35zM484.3 291.1h2.35v2.35h-2.35zM484.7 291.1h2.35v2.35h-2.35zM485.2 291.2h2.35v2.35h-2.35zM485.6 291.2h2.35v2.35h-2.35zM486.1 291.3h2.35v2.35h-2.35zM486.5 291.4h2.35v2.35h-2.35zM487.0 291.4h2.35v2.35h-2.35zM487.4 291.5h2.35v2.35h-2.35zM487.9 291.6h2.35v2.35h-2.35zM488.3 291.6h2.35v2.35h-2.35zM488.8 291.7h2.35v2.35h-2.35zM489.3 291.7h2.35v2.35h-2.35zM489.7 291.8h2.35v2.35h-2.35zM490.2 291.9h2.35v2.35h-2.35zM490.6 291.9h2.35v2.35h-2.35zM491.1 292.0h2.35v2.35h-2.35zM491.5 292.0h2.35v2.35h-2.35zM492.0 292.1h2.35v2.35h-2.35zM492.4 292.2h2.35v2.35h-2.35zM492.9 292.2h2.35v2.35h-2.35zM493.3 292.3h2.35v2.35h-2.35zM493.8 292.4h2.35v2.35h-2.35zM494.2 292.4h2.35v2.35h-2.35zM494.7 292.5h2.35v2.35h-2.35zM495.1 292.5h2.35v2.35h-2.35zM495.6 292.6h2.35v2.35h-2.35zM496.0 292.6h2.35v2.35h-2.35zM496.5 292.7h2.35v2.35h-2.35zM496.9 292.8h2.35v2.35h-2.35zM497.4 292.8h2.35v2.35h-2.35zM497.8 292.9h2.35v2.35h-2.35zM498.3 292.9h2.35v2.35h-2.35zM498.7 293.0h2.35v2.35h-2.35zM499.2 293.1h2.35v2.35h-2.35zM499.6 293.1h2.35v2.35h-2.35zM500.1 293.2h2.35v2.35h-2.35zM500.5 293.2h2.35v2.35h-2.35zM501.0 293.3h2.35v2.35h-2.35zM501.4 293.3h2.35v2.35h-2.35zM501.9 293.4h2.35v2.35h-2.35zM502.3 293.4h2.35v2.35h-2.35zM502.8 293.5h2.35v2.35h-2.35zM503.2 293.6h2.35v2.35h-2.35zM503.7 293.6h2.35v2.35h-2.35zM504.1 293.7h2.35v2.35h-2.35zM504.6 293.7h2.35v2.35h-2.35zM505.0 293.8h2.35v2.35h-2.35zM505.5 293.8h2.35v2.35h-2.35zM505.9 293.9h2.35v2.35h-2.35zM506.4 293.9h2.35v2.35h-2.35zM506.8 294.0h2.35v2.35h-2.35zM507.3 294.0h2.35v2.35h-2.35zM507.7 294.1h2.35v2.35h-2.35zM508.2 294.1h2.35v2.35h-2.35zM508.6 294.2h2.35v2.35h-2.35zM509.1 294.2h2.35v2.35h-2.35zM509.6 294.3h2.35v2.35h-2.35zM510.0 294.3h2.35v2.35h-2.35zM510.5 294.4h2.35v2.35h-2.35zM510.9 294.4h2.35v2.35h-2.35zM511.4 294.5h2.35v2.35h-2.35zM511.8 294.5h2.35v2.35h-2.35zM512.3 294.6h2.35v2.35h-2.35zM512.7 294.6h2.35v2.35h-2.35zM513.2 294.7h2.35v2.35h-2.35zM513.6 294.7h2.35v2.35h-2.35zM514.1 294.8h2.35v2.35h-2.35zM514.5 294.8h2.35v2.35h-2.35zM515.0 294.8h2.35v2.35h-2.35zM515.4 294.9h2.35v2.35h-2.35zM515.9 294.9h2.35v2.35h-2.35zM516.3 295.0h2.35v2.35h-2.35zM516.8 295.0h2.35v2.35h-2.35zM517.2 295.1h2.35v2.35h-2.35zM517.7 295.1h2.35v2.35h-2.35zM518.1 295.2h2.35v2.35h-2.35zM518.6 295.2h2.35v2.35h-2.35zM519.0 295.2h2.35v2.35h-2.35z" stroke="#8a8a8a" stroke-width="0.55" fill="none"/>
</g>
<g clip-path="url(#cB1)">
<path d="M172.0 457.5L173.5 457.4L175.0 457.4L176.5 457.3L178.0 457.2L179.5 457.2L181.0 457.2L182.5 457.1L184.0 457.1L185.5 457.1L187.0 457.1L188.5 457.1L190.0 457.1L191.5 457.1L193.0 457.2L194.5 457.2L196.0 457.3L197.5 457.4L199.0 457.5L200.5 457.6L202.0 457.7L203.5 457.8L205.0 458.0L206.5 458.2L208.0 458.4L209.5 458.7L211.0 459.0L212.5 459.5L214.0 460.1L215.5 460.9L217.0 461.8L218.5 463.0L220.0 464.3L221.5 465.7L223.0 467.4L224.5 469.1L226.0 471.0L227.5 472.9L229.0 475.0L230.5 477.2L232.0 479.5L233.5 481.8L235.0 484.3L236.5 486.8L238.0 489.4L239.5 492.0L241.0 494.8L242.5 497.5L244.0 500.4L245.5 503.2L247.0 506.1L248.5 509.1L250.0 512.0L251.5 515.0L253.0 518.0L254.5 521.0L256.0 524.0L257.5 527.0L259.0 530.0L260.5 533.0L262.0 536.0" stroke="#000" stroke-width="2.5" fill="none" stroke-linejoin="round"/>
<path d="M70.1 458.0h0M84.0 458.7h0M92.2 457.5h0M97.9 459.2h0M102.4 458.0h0M106.1 456.6h0M111.9 457.2h0M114.2 456.9h0M116.3 457.5h0M118.3 456.3h0M120.0 457.2h0M121.6 457.3h0M123.1 458.4h0M125.8 458.6h0M127.0 459.6h0M128.2 458.4h0M129.2 459.2h0M130.3 458.1h0M131.3 458.9h0M132.2 457.9h0M133.9 458.6h0M134.8 458.1h0M135.5 459.5h0M136.3 458.2h0M137.7 459.1h0M138.4 458.4h0M139.7 458.0h0M140.3 458.9h0M140.9 459.5h0M141.5 458.6h0M142.1 458.7h0M142.6 458.3h0M143.2 458.1h0M144.2 457.9h0M144.7 458.1h0M145.2 458.6h0M145.6 458.6h0M146.1 458.6h0M146.6 459.7h0M147.9 458.4h0M148.7 458.0h0M149.5 459.2h0M150.2 458.6h0M151.0 458.7h0M151.7 457.9h0M152.7 458.9h0M153.6 458.9h0M154.3 458.4h0M154.9 458.0h0M155.4 458.5h0M156.0 458.8h0M156.6 458.0h0M157.1 458.0h0M157.6 457.7h0M158.1 457.6h0M158.6 458.6h0M159.1 458.2h0M159.6 458.1h0M160.0 457.6h0M160.5 458.4h0M161.1 458.6h0M161.8 457.4h0M162.4 458.2h0M163.0 458.0h0M163.6 458.0h0M164.1 457.4h0M165.1 458.2h0M165.6 458.3h0M166.3 457.3h0M166.8 457.2h0M167.2 458.2h0M167.7 457.3h0M168.2 458.1h0M168.8 458.0h0M169.4 457.2h0M169.9 458.1h0M170.5 458.0h0M171.0 457.2h0M171.7 457.5h0M172.2 457.6h0M172.7 457.3h0M173.1 457.7h0M173.6 457.2h0M174.1 457.0h0M174.6 457.3h0M175.2 457.8h0M175.7 457.6h0M176.2 457.1h0M176.7 457.4h0M177.3 457.1h0M177.8 457.2h0M178.3 457.5h0M178.8 456.8h0M179.3 457.2h0M179.8 457.5h0M180.4 457.6h0M180.8 457.0h0M181.3 457.2h0M181.8 457.0h0M182.3 457.2h0M182.8 457.2h0M183.3 457.2h0M183.8 457.3h0M184.4 457.0h0M184.9 456.8h0M185.5 456.9h0M186.0 457.1h0M186.5 457.1h0M186.9 457.2h0M187.4 457.2h0M187.9 457.3h0M188.3 457.0h0M188.8 457.2h0M189.3 457.1h0M189.8 456.8h0M190.2 457.1h0M190.7 457.1h0M191.2 457.4h0M191.7 457.2h0M192.2 457.4h0M192.6 457.2h0M193.1 457.1h0M193.6 457.3h0M194.1 457.4h0M194.6 457.4h0M195.1 457.1h0M195.6 457.5h0M196.0 456.9h0M196.5 457.1h0M197.0 457.3h0M197.5 457.5h0M197.9 457.5h0M198.4 457.4h0M198.9 457.5h0M199.4 457.4h0M199.9 457.6h0M200.4 457.7h0M200.9 457.5h0M201.3 457.5h0M201.8 457.7h0M202.3 457.8h0M202.7 457.7h0M203.2 458.0h0M203.7 457.9h0M204.1 457.9h0M204.6 458.0h0M205.0 457.9h0M205.5 458.1h0M206.0 458.0h0M206.4 458.2h0M206.9 458.3h0M207.3 458.3h0M207.8 458.4h0M208.3 458.4h0M208.7 458.6h0M209.2 458.7h0M209.7 458.8h0M210.1 458.9h0M210.6 459.0h0M211.1 459.1h0M211.6 459.2h0M212.0 459.4h0M212.5 459.5h0M212.9 459.7h0M213.4 459.9h0M213.8 460.1h0M214.3 460.3h0M214.8 460.5h0M215.2 460.8h0M215.7 461.0h0M216.1 461.3h0M216.6 461.6h0M217.0 461.9h0M217.5 462.2h0M218.0 462.5h0M218.4 462.9h0M218.9 463.3h0M219.4 463.7h0M219.8 464.1h0M220.3 464.6h0M220.8 465.0h0M221.2 465.5h0M221.7 465.9h0M222.1 466.4h0M222.6 466.9h0M223.0 467.4h0M223.5 467.9h0M223.9 468.4h0M224.4 469.0h0M224.9 469.5h0M225.3 470.1h0M225.8 470.7h0M226.2 471.3h0M226.7 471.8h0M227.1 472.5h0M227.6 473.1h0M228.1 473.7h0M228.5 474.3h0M229.0 475.0h0M229.4 475.6h0M229.9 476.3h0M230.3 476.9h0M230.8 477.6h0M231.2 478.3h0M231.7 479.0h0M232.2 479.7h0M232.6 480.4h0M233.1 481.1h0M233.5 481.9h0M234.0 482.6h0M234.4 483.3h0M234.9 484.1h0M235.3 484.8h0M235.8 485.6h0M236.2 486.4h0M236.7 487.1h0M237.2 487.9h0M237.6 488.7h0M238.1 489.5h0M238.5 490.3h0M239.0 491.1h0M239.4 491.9h0M239.9 492.7h0M240.3 493.5h0M240.8 494.3h0M241.2 495.2h0M241.7 496.0h0M242.1 496.9h0M242.6 497.7h0M243.0 498.5h0M243.5 499.4h0M243.9 500.3h0M244.4 501.1h0M244.8 502.0h0M245.3 502.9h0M245.8 503.7h0M246.2 504.6h0M246.7 505.5h0M247.1 506.4h0M247.6 507.2h0M248.0 508.1h0M248.5 509.0h0M248.9 509.9h0M249.4 510.8h0M249.8 511.7h0M250.3 512.6h0M250.7 513.5h0M251.2 514.4h0M251.6 515.3h0M252.1 516.2h0M252.5 517.1h0M253.0 518.0h0M253.4 518.9h0M253.9 519.8h0M254.3 520.7h0M254.8 521.6h0M255.3 522.5h0M255.7 523.4h0M256.2 524.3h0M256.6 525.2h0M257.1 526.1h0M257.5 527.0h0M258.0 528.0h0M258.4 528.9h0M258.9 529.8h0M259.3 530.7h0M259.8 531.6h0M260.2 532.5h0M260.7 533.4h0M261.1 534.2h0M261.6 535.1h0M262.0 536.0h0M262.5 536.9h0M262.9 537.8h0M263.4 538.7h0M263.8 539.6h0M264.3 540.4h0M264.7 541.3h0M265.2 542.2h0M265.6 543.0h0M266.1 543.9h0M266.5 544.8h0M267.0 545.6h0M267.4 546.5h0M267.9 547.3h0M268.3 548.2h0M268.8 549.0h0M269.2 549.8h0M269.7 550.7h0M270.1 551.5h0M270.6 552.3h0M271.0 553.1h0M271.5 553.9h0M271.9 554.7h0M272.4 555.5h0M272.8 556.3h0M273.3 557.1h0M273.7 557.9h0M274.2 558.7h0M274.6 559.4h0M275.1 560.2h0M275.5 560.9h0M276.0 561.7h0M276.4 562.4h0M276.9 563.2h0M277.3 563.9h0M277.8 564.6h0M278.2 565.3h0M278.7 566.0h0" stroke="#000" stroke-width="2.7" stroke-linecap="round" fill="none"/>
<path d="M172.0 452.5L173.5 453.1L175.0 453.6L176.5 454.2L178.0 454.8L179.5 455.4L181.0 456.0L182.5 456.6L184.0 457.2L185.5 457.8L187.0 458.5L188.5 459.1L190.0 459.7L191.5 460.4L193.0 461.0L194.5 461.7L196.0 462.4L197.5 463.1L199.0 463.8L200.5 464.5L202.0 465.2L203.5 466.0L205.0 466.7L206.5 467.5L208.0 468.3L209.5 469.1L211.0 469.9L212.5 470.8L214.0 471.7L215.5 472.6L217.0 473.5L218.5 474.5L220.0 475.5L221.5 476.6L223.0 477.6L224.5 478.8L226.0 479.9L227.5 481.1L229.0 482.4L230.5 483.7L232.0 485.1L233.5 486.5L235.0 488.0L236.5 489.5L238.0 491.1L239.5 492.7L241.0 494.4L242.5 496.2L244.0 498.1L245.5 500.0L247.0 501.9L248.5 503.9L250.0 505.8L251.5 507.8L253.0 509.8L254.5 511.7L256.0 513.6L257.5 515.5L259.0 517.3L260.5 519.0L262.0 520.7L263.5 522.3L265.0 523.7L266.5 525.0L268.0 526.2L269.5 527.3L271.0 528.3L272.5 529.1L274.0 529.8L275.5 530.4L277.0 530.8L278.5 531.2L280.0 531.4" stroke="#f00" stroke-width="3.1" fill="none" stroke-linejoin="round"/>
<path d="M68.8 414.6h2.7v2.7h-2.7zM82.7 421.1h2.7v2.7h-2.7zM90.8 421.5h2.7v2.7h-2.7zM96.6 425.3h2.7v2.7h-2.7zM101.1 425.8h2.7v2.7h-2.7zM104.7 427.5h2.7v2.7h-2.7zM110.5 429.4h2.7v2.7h-2.7zM112.9 430.9h2.7v2.7h-2.7zM115.0 431.2h2.7v2.7h-2.7zM116.9 430.4h2.7v2.7h-2.7zM118.7 432.1h2.7v2.7h-2.7zM120.3 431.5h2.7v2.7h-2.7zM121.8 434.0h2.7v2.7h-2.7zM124.4 433.6h2.7v2.7h-2.7zM125.7 434.5h2.7v2.7h-2.7zM126.8 435.0h2.7v2.7h-2.7zM127.9 433.4h2.7v2.7h-2.7zM128.9 436.4h2.7v2.7h-2.7zM129.9 436.3h2.7v2.7h-2.7zM130.8 436.3h2.7v2.7h-2.7zM132.6 437.2h2.7v2.7h-2.7zM133.4 436.3h2.7v2.7h-2.7zM134.2 435.6h2.7v2.7h-2.7zM135.0 438.3h2.7v2.7h-2.7zM136.4 436.2h2.7v2.7h-2.7zM137.1 439.9h2.7v2.7h-2.7zM138.4 438.3h2.7v2.7h-2.7zM139.0 439.4h2.7v2.7h-2.7zM139.6 438.5h2.7v2.7h-2.7zM140.2 438.8h2.7v2.7h-2.7zM140.7 439.1h2.7v2.7h-2.7zM141.3 438.7h2.7v2.7h-2.7zM141.8 440.4h2.7v2.7h-2.7zM142.8 438.7h2.7v2.7h-2.7zM143.3 439.8h2.7v2.7h-2.7zM143.8 439.9h2.7v2.7h-2.7zM144.3 440.7h2.7v2.7h-2.7zM144.8 440.3h2.7v2.7h-2.7zM145.2 442.0h2.7v2.7h-2.7zM146.5 441.4h2.7v2.7h-2.7zM147.3 442.2h2.7v2.7h-2.7zM148.1 442.6h2.7v2.7h-2.7zM148.9 442.6h2.7v2.7h-2.7zM149.6 442.5h2.7v2.7h-2.7zM150.3 442.5h2.7v2.7h-2.7zM151.3 443.9h2.7v2.7h-2.7zM152.3 444.2h2.7v2.7h-2.7zM152.9 443.6h2.7v2.7h-2.7zM153.5 444.4h2.7v2.7h-2.7zM154.1 444.2h2.7v2.7h-2.7zM154.7 444.8h2.7v2.7h-2.7zM155.2 445.4h2.7v2.7h-2.7zM155.7 445.5h2.7v2.7h-2.7zM156.3 446.2h2.7v2.7h-2.7zM156.8 445.2h2.7v2.7h-2.7zM157.3 446.2h2.7v2.7h-2.7zM157.7 446.2h2.7v2.7h-2.7zM158.2 446.1h2.7v2.7h-2.7zM158.7 447.6h2.7v2.7h-2.7zM159.1 446.3h2.7v2.7h-2.7zM159.8 447.4h2.7v2.7h-2.7zM160.4 447.7h2.7v2.7h-2.7zM161.0 447.5h2.7v2.7h-2.7zM161.6 447.7h2.7v2.7h-2.7zM162.2 447.7h2.7v2.7h-2.7zM162.8 447.8h2.7v2.7h-2.7zM163.7 448.4h2.7v2.7h-2.7zM164.2 448.2h2.7v2.7h-2.7zM164.9 449.4h2.7v2.7h-2.7zM165.4 448.6h2.7v2.7h-2.7zM165.9 449.6h2.7v2.7h-2.7zM166.4 449.4h2.7v2.7h-2.7zM166.8 449.1h2.7v2.7h-2.7zM167.4 449.7h2.7v2.7h-2.7zM168.0 450.3h2.7v2.7h-2.7zM168.6 450.8h2.7v2.7h-2.7zM169.1 450.7h2.7v2.7h-2.7zM169.7 450.6h2.7v2.7h-2.7zM170.3 450.6h2.7v2.7h-2.7zM170.8 451.2h2.7v2.7h-2.7zM171.3 451.2h2.7v2.7h-2.7zM171.8 451.3h2.7v2.7h-2.7zM172.3 451.5h2.7v2.7h-2.7zM172.7 452.2h2.7v2.7h-2.7zM173.3 452.3h2.7v2.7h-2.7zM173.8 452.0h2.7v2.7h-2.7zM174.4 452.4h2.7v2.7h-2.7zM174.9 452.4h2.7v2.7h-2.7zM175.4 452.6h2.7v2.7h-2.7zM176.0 453.4h2.7v2.7h-2.7zM176.4 453.5h2.7v2.7h-2.7zM176.9 454.0h2.7v2.7h-2.7zM177.4 454.0h2.7v2.7h-2.7zM178.0 454.2h2.7v2.7h-2.7zM178.5 454.0h2.7v2.7h-2.7zM179.0 454.5h2.7v2.7h-2.7zM179.5 454.7h2.7v2.7h-2.7zM180.0 454.5h2.7v2.7h-2.7zM180.4 455.1h2.7v2.7h-2.7zM180.9 455.3h2.7v2.7h-2.7zM181.4 455.4h2.7v2.7h-2.7zM181.9 455.9h2.7v2.7h-2.7zM182.5 455.8h2.7v2.7h-2.7zM183.0 455.8h2.7v2.7h-2.7zM183.6 456.6h2.7v2.7h-2.7zM184.1 456.3h2.7v2.7h-2.7zM184.6 457.0h2.7v2.7h-2.7zM185.1 457.1h2.7v2.7h-2.7zM185.6 457.0h2.7v2.7h-2.7zM186.1 457.3h2.7v2.7h-2.7zM186.5 457.4h2.7v2.7h-2.7zM187.0 457.8h2.7v2.7h-2.7zM187.5 458.1h2.7v2.7h-2.7zM188.0 457.8h2.7v2.7h-2.7zM188.4 458.1h2.7v2.7h-2.7zM188.9 458.3h2.7v2.7h-2.7zM189.3 458.4h2.7v2.7h-2.7zM189.9 459.0h2.7v2.7h-2.7zM190.4 459.1h2.7v2.7h-2.7zM190.8 459.3h2.7v2.7h-2.7zM191.3 459.5h2.7v2.7h-2.7zM191.8 459.8h2.7v2.7h-2.7zM192.2 459.7h2.7v2.7h-2.7zM192.8 460.1h2.7v2.7h-2.7zM193.2 460.6h2.7v2.7h-2.7zM193.7 460.5h2.7v2.7h-2.7zM194.2 460.9h2.7v2.7h-2.7zM194.7 461.0h2.7v2.7h-2.7zM195.2 461.2h2.7v2.7h-2.7zM195.6 461.3h2.7v2.7h-2.7zM196.1 461.8h2.7v2.7h-2.7zM196.6 461.9h2.7v2.7h-2.7zM197.1 462.3h2.7v2.7h-2.7zM197.5 462.3h2.7v2.7h-2.7zM198.1 462.5h2.7v2.7h-2.7zM198.5 462.7h2.7v2.7h-2.7zM199.0 463.1h2.7v2.7h-2.7zM199.5 463.3h2.7v2.7h-2.7zM200.0 463.6h2.7v2.7h-2.7zM200.5 463.8h2.7v2.7h-2.7zM200.9 464.1h2.7v2.7h-2.7zM201.4 464.1h2.7v2.7h-2.7zM201.8 464.4h2.7v2.7h-2.7zM202.3 464.8h2.7v2.7h-2.7zM202.8 464.9h2.7v2.7h-2.7zM203.2 465.3h2.7v2.7h-2.7zM203.7 465.3h2.7v2.7h-2.7zM204.1 465.6h2.7v2.7h-2.7zM204.6 465.8h2.7v2.7h-2.7zM205.1 466.1h2.7v2.7h-2.7zM205.5 466.3h2.7v2.7h-2.7zM206.0 466.6h2.7v2.7h-2.7zM206.5 466.9h2.7v2.7h-2.7zM206.9 467.1h2.7v2.7h-2.7zM207.4 467.3h2.7v2.7h-2.7zM207.9 467.7h2.7v2.7h-2.7zM208.3 467.9h2.7v2.7h-2.7zM208.8 468.1h2.7v2.7h-2.7zM209.2 468.3h2.7v2.7h-2.7zM209.7 468.7h2.7v2.7h-2.7zM210.2 468.9h2.7v2.7h-2.7zM210.7 469.2h2.7v2.7h-2.7zM211.1 469.5h2.7v2.7h-2.7zM211.6 469.7h2.7v2.7h-2.7zM212.0 470.0h2.7v2.7h-2.7zM212.5 470.2h2.7v2.7h-2.7zM213.0 470.5h2.7v2.7h-2.7zM213.4 470.8h2.7v2.7h-2.7zM213.9 471.1h2.7v2.7h-2.7zM214.3 471.4h2.7v2.7h-2.7zM214.8 471.6h2.7v2.7h-2.7zM215.2 471.9h2.7v2.7h-2.7zM215.7 472.2h2.7v2.7h-2.7zM216.2 472.5h2.7v2.7h-2.7zM216.6 472.8h2.7v2.7h-2.7zM217.1 473.1h2.7v2.7h-2.7zM217.5 473.4h2.7v2.7h-2.7zM218.0 473.7h2.7v2.7h-2.7zM218.5 474.1h2.7v2.7h-2.7zM218.9 474.4h2.7v2.7h-2.7zM219.4 474.7h2.7v2.7h-2.7zM219.9 475.0h2.7v2.7h-2.7zM220.3 475.3h2.7v2.7h-2.7zM220.8 475.6h2.7v2.7h-2.7zM221.2 476.0h2.7v2.7h-2.7zM221.7 476.3h2.7v2.7h-2.7zM222.1 476.6h2.7v2.7h-2.7zM222.6 477.0h2.7v2.7h-2.7zM223.1 477.3h2.7v2.7h-2.7zM223.5 477.7h2.7v2.7h-2.7zM224.0 478.0h2.7v2.7h-2.7zM224.4 478.4h2.7v2.7h-2.7zM224.9 478.8h2.7v2.7h-2.7zM225.3 479.1h2.7v2.7h-2.7zM225.8 479.5h2.7v2.7h-2.7zM226.3 479.9h2.7v2.7h-2.7zM226.7 480.3h2.7v2.7h-2.7zM227.2 480.6h2.7v2.7h-2.7zM227.6 481.0h2.7v2.7h-2.7zM228.1 481.4h2.7v2.7h-2.7zM228.5 481.8h2.7v2.7h-2.7zM229.0 482.2h2.7v2.7h-2.7zM229.4 482.6h2.7v2.7h-2.7zM229.9 483.0h2.7v2.7h-2.7zM230.4 483.4h2.7v2.7h-2.7zM230.8 483.9h2.7v2.7h-2.7zM231.3 484.3h2.7v2.7h-2.7zM231.7 484.7h2.7v2.7h-2.7zM232.2 485.2h2.7v2.7h-2.7zM232.6 485.6h2.7v2.7h-2.7zM233.1 486.0h2.7v2.7h-2.7zM233.5 486.5h2.7v2.7h-2.7zM234.0 486.9h2.7v2.7h-2.7zM234.4 487.4h2.7v2.7h-2.7zM234.9 487.9h2.7v2.7h-2.7zM235.4 488.3h2.7v2.7h-2.7zM235.8 488.8h2.7v2.7h-2.7zM236.3 489.3h2.7v2.7h-2.7zM236.7 489.8h2.7v2.7h-2.7zM237.2 490.3h2.7v2.7h-2.7zM237.6 490.8h2.7v2.7h-2.7zM238.1 491.3h2.7v2.7h-2.7zM238.5 491.8h2.7v2.7h-2.7zM239.0 492.3h2.7v2.7h-2.7zM239.4 492.8h2.7v2.7h-2.7zM239.9 493.4h2.7v2.7h-2.7zM240.3 493.9h2.7v2.7h-2.7zM240.8 494.4h2.7v2.7h-2.7zM241.2 495.0h2.7v2.7h-2.7zM241.7 495.5h2.7v2.7h-2.7zM242.1 496.1h2.7v2.7h-2.7zM242.6 496.7h2.7v2.7h-2.7zM243.0 497.2h2.7v2.7h-2.7zM243.5 497.8h2.7v2.7h-2.7zM244.0 498.4h2.7v2.7h-2.7zM244.4 499.0h2.7v2.7h-2.7zM244.9 499.5h2.7v2.7h-2.7zM245.3 500.1h2.7v2.7h-2.7zM245.8 500.7h2.7v2.7h-2.7zM246.2 501.3h2.7v2.7h-2.7zM246.7 501.9h2.7v2.7h-2.7zM247.1 502.5h2.7v2.7h-2.7zM247.6 503.1h2.7v2.7h-2.7zM248.0 503.7h2.7v2.7h-2.7zM248.5 504.3h2.7v2.7h-2.7zM248.9 504.9h2.7v2.7h-2.7zM249.4 505.5h2.7v2.7h-2.7zM249.8 506.1h2.7v2.7h-2.7zM250.3 506.6h2.7v2.7h-2.7zM250.7 507.2h2.7v2.7h-2.7zM251.2 507.8h2.7v2.7h-2.7zM251.6 508.4h2.7v2.7h-2.7zM252.1 509.0h2.7v2.7h-2.7zM252.5 509.6h2.7v2.7h-2.7zM253.0 510.2h2.7v2.7h-2.7zM253.4 510.8h2.7v2.7h-2.7zM253.9 511.3h2.7v2.7h-2.7zM254.4 511.9h2.7v2.7h-2.7zM254.8 512.5h2.7v2.7h-2.7zM255.3 513.0h2.7v2.7h-2.7zM255.7 513.6h2.7v2.7h-2.7zM256.2 514.2h2.7v2.7h-2.7zM256.6 514.7h2.7v2.7h-2.7zM257.1 515.3h2.7v2.7h-2.7zM257.5 515.8h2.7v2.7h-2.7zM258.0 516.3h2.7v2.7h-2.7zM258.4 516.9h2.7v2.7h-2.7zM258.9 517.4h2.7v2.7h-2.7zM259.3 517.9h2.7v2.7h-2.7zM259.8 518.4h2.7v2.7h-2.7zM260.2 518.9h2.7v2.7h-2.7zM260.7 519.4h2.7v2.7h-2.7zM261.1 519.8h2.7v2.7h-2.7zM261.6 520.3h2.7v2.7h-2.7zM262.0 520.8h2.7v2.7h-2.7zM262.5 521.2h2.7v2.7h-2.7zM262.9 521.7h2.7v2.7h-2.7zM263.4 522.1h2.7v2.7h-2.7zM263.8 522.5h2.7v2.7h-2.7zM264.3 522.9h2.7v2.7h-2.7zM264.7 523.3h2.7v2.7h-2.7zM265.2 523.7h2.7v2.7h-2.7zM265.6 524.1h2.7v2.7h-2.7zM266.1 524.4h2.7v2.7h-2.7zM266.5 524.8h2.7v2.7h-2.7zM267.0 525.1h2.7v2.7h-2.7zM267.4 525.5h2.7v2.7h-2.7zM267.9 525.8h2.7v2.7h-2.7zM268.3 526.1h2.7v2.7h-2.7zM268.8 526.4h2.7v2.7h-2.7zM269.2 526.7h2.7v2.7h-2.7zM269.7 526.9h2.7v2.7h-2.7zM270.1 527.2h2.7v2.7h-2.7zM270.6 527.5h2.7v2.7h-2.7zM271.0 527.7h2.7v2.7h-2.7zM271.5 527.9h2.7v2.7h-2.7zM271.9 528.1h2.7v2.7h-2.7zM272.4 528.3h2.7v2.7h-2.7zM272.8 528.5h2.7v2.7h-2.7zM273.3 528.7h2.7v2.7h-2.7zM273.7 528.9h2.7v2.7h-2.7zM274.2 529.1h2.7v2.7h-2.7zM274.6 529.2h2.7v2.7h-2.7zM275.1 529.3h2.7v2.7h-2.7zM275.5 529.5h2.7v2.7h-2.7zM276.0 529.6h2.7v2.7h-2.7zM276.4 529.7h2.7v2.7h-2.7zM276.9 529.8h2.7v2.7h-2.7zM277.3 529.9h2.7v2.7h-2.7z" fill="#f00"/>
<path d="M197.0 469.5L198.5 470.3L200.0 471.0L201.5 471.8L203.0 472.6L204.5 473.4L206.0 474.3L207.5 475.1L209.0 476.0L210.5 476.9L212.0 477.8L213.5 478.7L215.0 479.7L216.5 480.7L218.0 481.7L219.5 482.7L221.0 483.8L222.5 484.9L224.0 486.0L225.5 487.2L227.0 488.4L228.5 489.6L230.0 490.9L231.5 492.2L233.0 493.6L234.5 495.0L236.0 496.4L237.5 497.9L239.0 499.4L240.5 501.0L242.0 502.6L243.5 504.3L245.0 506.0L246.5 507.7L248.0 509.5L249.5 511.2L251.0 513.0L252.5 514.8L254.0 516.6L255.5 518.3L257.0 520.1L258.5 521.8L260.0 523.4L261.5 525.1L263.0 526.6L264.5 528.1L266.0 529.5L267.5 530.9L269.0 532.1L270.5 533.3L272.0 534.3" stroke="#00f" stroke-width="3.0" fill="none" stroke-linejoin="round"/>
<path d="M68.8 422.5a1.35 1.35 0 1 0 2.7 0a1.35 1.35 0 1 0 -2.7 0M82.7 426.3a1.35 1.35 0 1 0 2.7 0a1.35 1.35 0 1 0 -2.7 0M90.8 429.5a1.35 1.35 0 1 0 2.7 0a1.35 1.35 0 1 0 -2.7 0M96.6 433.3a1.35 1.35 0 1 0 2.7 0a1.35 1.35 0 1 0 -2.7 0M101.1 432.1a1.35 1.35 0 1 0 2.7 0a1.35 1.35 0 1 0 -2.7 0M104.7 433.3a1.35 1.35 0 1 0 2.7 0a1.35 1.35 0 1 0 -2.7 0M110.5 435.5a1.35 1.35 0 1 0 2.7 0a1.35 1.35 0 1 0 -2.7 0M112.9 435.9a1.35 1.35 0 1 0 2.7 0a1.35 1.35 0 1 0 -2.7 0M115.0 439.3a1.35 1.35 0 1 0 2.7 0a1.35 1.35 0 1 0 -2.7 0M116.9 436.6a1.35 1.35 0 1 0 2.7 0a1.35 1.35 0 1 0 -2.7 0M118.7 439.4a1.35 1.35 0 1 0 2.7 0a1.35 1.35 0 1 0 -2.7 0M120.3 442.1a1.35 1.35 0 1 0 2.7 0a1.35 1.35 0 1 0 -2.7 0M121.8 440.8a1.35 1.35 0 1 0 2.7 0a1.35 1.35 0 1 0 -2.7 0M124.4 441.4a1.35 1.35 0 1 0 2.7 0a1.35 1.35 0 1 0 -2.7 0M125.7 445.3a1.35 1.35 0 1 0 2.7 0a1.35 1.35 0 1 0 -2.7 0M126.8 443.1a1.35 1.35 0 1 0 2.7 0a1.35 1.35 0 1 0 -2.7 0M127.9 442.2a1.35 1.35 0 1 0 2.7 0a1.35 1.35 0 1 0 -2.7 0M128.9 443.5a1.35 1.35 0 1 0 2.7 0a1.35 1.35 0 1 0 -2.7 0M129.9 444.0a1.35 1.35 0 1 0 2.7 0a1.35 1.35 0 1 0 -2.7 0M130.8 443.6a1.35 1.35 0 1 0 2.7 0a1.35 1.35 0 1 0 -2.7 0M132.6 444.4a1.35 1.35 0 1 0 2.7 0a1.35 1.35 0 1 0 -2.7 0M133.4 446.0a1.35 1.35 0 1 0 2.7 0a1.35 1.35 0 1 0 -2.7 0M134.2 445.2a1.35 1.35 0 1 0 2.7 0a1.35 1.35 0 1 0 -2.7 0M135.0 444.4a1.35 1.35 0 1 0 2.7 0a1.35 1.35 0 1 0 -2.7 0M136.4 445.6a1.35 1.35 0 1 0 2.7 0a1.35 1.35 0 1 0 -2.7 0M137.1 446.4a1.35 1.35 0 1 0 2.7 0a1.35 1.35 0 1 0 -2.7 0M138.4 446.6a1.35 1.35 0 1 0 2.7 0a1.35 1.35 0 1 0 -2.7 0M139.0 448.0a1.35 1.35 0 1 0 2.7 0a1.35 1.35 0 1 0 -2.7 0M139.6 447.3a1.35 1.35 0 1 0 2.7 0a1.35 1.35 0 1 0 -2.7 0M140.2 447.0a1.35 1.35 0 1 0 2.7 0a1.35 1.35 0 1 0 -2.7 0M140.7 448.8a1.35 1.35 0 1 0 2.7 0a1.35 1.35 0 1 0 -2.7 0M141.3 446.6a1.35 1.35 0 1 0 2.7 0a1.35 1.35 0 1 0 -2.7 0M141.8 448.4a1.35 1.35 0 1 0 2.7 0a1.35 1.35 0 1 0 -2.7 0M142.8 450.0a1.35 1.35 0 1 0 2.7 0a1.35 1.35 0 1 0 -2.7 0M143.3 448.1a1.35 1.35 0 1 0 2.7 0a1.35 1.35 0 1 0 -2.7 0M143.8 446.5a1.35 1.35 0 1 0 2.7 0a1.35 1.35 0 1 0 -2.7 0M144.3 449.0a1.35 1.35 0 1 0 2.7 0a1.35 1.35 0 1 0 -2.7 0M144.8 449.3a1.35 1.35 0 1 0 2.7 0a1.35 1.35 0 1 0 -2.7 0M145.2 448.7a1.35 1.35 0 1 0 2.7 0a1.35 1.35 0 1 0 -2.7 0M146.5 449.9a1.35 1.35 0 1 0 2.7 0a1.35 1.35 0 1 0 -2.7 0M147.3 449.7a1.35 1.35 0 1 0 2.7 0a1.35 1.35 0 1 0 -2.7 0M148.1 451.9a1.35 1.35 0 1 0 2.7 0a1.35 1.35 0 1 0 -2.7 0M148.9 450.2a1.35 1.35 0 1 0 2.7 0a1.35 1.35 0 1 0 -2.7 0M149.6 449.9a1.35 1.35 0 1 0 2.7 0a1.35 1.35 0 1 0 -2.7 0M150.3 451.9a1.35 1.35 0 1 0 2.7 0a1.35 1.35 0 1 0 -2.7 0M151.3 451.1a1.35 1.35 0 1 0 2.7 0a1.35 1.35 0 1 0 -2.7 0M152.3 451.2a1.35 1.35 0 1 0 2.7 0a1.35 1.35 0 1 0 -2.7 0M152.9 451.9a1.35 1.35 0 1 0 2.7 0a1.35 1.35 0 1 0 -2.7 0M153.5 451.1a1.35 1.35 0 1 0 2.7 0a1.35 1.35 0 1 0 -2.7 0M154.1 451.4a1.35 1.35 0 1 0 2.7 0a1.35 1.35 0 1 0 -2.7 0M154.7 451.7a1.35 1.35 0 1 0 2.7 0a1.35 1.35 0 1 0 -2.7 0M155.2 451.9a1.35 1.35 0 1 0 2.7 0a1.35 1.35 0 1 0 -2.7 0M155.7 452.2a1.35 1.35 0 1 0 2.7 0a1.35 1.35 0 1 0 -2.7 0M156.3 452.8a1.35 1.35 0 1 0 2.7 0a1.35 1.35 0 1 0 -2.7 0M156.8 453.5a1.35 1.35 0 1 0 2.7 0a1.35 1.35 0 1 0 -2.7 0M157.3 452.7a1.35 1.35 0 1 0 2.7 0a1.35 1.35 0 1 0 -2.7 0M157.7 453.5a1.35 1.35 0 1 0 2.7 0a1.35 1.35 0 1 0 -2.7 0M158.2 454.2a1.35 1.35 0 1 0 2.7 0a1.35 1.35 0 1 0 -2.7 0M158.7 453.2a1.35 1.35 0 1 0 2.7 0a1.35 1.35 0 1 0 -2.7 0M159.1 453.9a1.35 1.35 0 1 0 2.7 0a1.35 1.35 0 1 0 -2.7 0M159.8 455.8a1.35 1.35 0 1 0 2.7 0a1.35 1.35 0 1 0 -2.7 0M160.4 453.3a1.35 1.35 0 1 0 2.7 0a1.35 1.35 0 1 0 -2.7 0M161.0 455.0a1.35 1.35 0 1 0 2.7 0a1.35 1.35 0 1 0 -2.7 0M161.6 454.6a1.35 1.35 0 1 0 2.7 0a1.35 1.35 0 1 0 -2.7 0M162.2 455.3a1.35 1.35 0 1 0 2.7 0a1.35 1.35 0 1 0 -2.7 0M162.8 454.3a1.35 1.35 0 1 0 2.7 0a1.35 1.35 0 1 0 -2.7 0M163.7 455.9a1.35 1.35 0 1 0 2.7 0a1.35 1.35 0 1 0 -2.7 0M164.2 456.7a1.35 1.35 0 1 0 2.7 0a1.35 1.35 0 1 0 -2.7 0M164.9 456.7a1.35 1.35 0 1 0 2.7 0a1.35 1.35 0 1 0 -2.7 0M165.4 456.1a1.35 1.35 0 1 0 2.7 0a1.35 1.35 0 1 0 -2.7 0M165.9 456.2a1.35 1.35 0 1 0 2.7 0a1.35 1.35 0 1 0 -2.7 0M166.4 457.2a1.35 1.35 0 1 0 2.7 0a1.35 1.35 0 1 0 -2.7 0M166.8 457.2a1.35 1.35 0 1 0 2.7 0a1.35 1.35 0 1 0 -2.7 0M167.4 457.1a1.35 1.35 0 1 0 2.7 0a1.35 1.35 0 1 0 -2.7 0M168.0 457.5a1.35 1.35 0 1 0 2.7 0a1.35 1.35 0 1 0 -2.7 0M168.6 458.0a1.35 1.35 0 1 0 2.7 0a1.35 1.35 0 1 0 -2.7 0M169.1 457.3a1.35 1.35 0 1 0 2.7 0a1.35 1.35 0 1 0 -2.7 0M169.7 458.4a1.35 1.35 0 1 0 2.7 0a1.35 1.35 0 1 0 -2.7 0M170.3 457.8a1.35 1.35 0 1 0 2.7 0a1.35 1.35 0 1 0 -2.7 0M170.8 458.4a1.35 1.35 0 1 0 2.7 0a1.35 1.35 0 1 0 -2.7 0M171.3 459.0a1.35 1.35 0 1 0 2.7 0a1.35 1.35 0 1 0 -2.7 0M171.8 458.2a1.35 1.35 0 1 0 2.7 0a1.35 1.35 0 1 0 -2.7 0M172.3 459.2a1.35 1.35 0 1 0 2.7 0a1.35 1.35 0 1 0 -2.7 0M172.7 459.0a1.35 1.35 0 1 0 2.7 0a1.35 1.35 0 1 0 -2.7 0M173.3 459.6a1.35 1.35 0 1 0 2.7 0a1.35 1.35 0 1 0 -2.7 0M173.8 459.3a1.35 1.35 0 1 0 2.7 0a1.35 1.35 0 1 0 -2.7 0M174.4 459.6a1.35 1.35 0 1 0 2.7 0a1.35 1.35 0 1 0 -2.7 0M174.9 459.9a1.35 1.35 0 1 0 2.7 0a1.35 1.35 0 1 0 -2.7 0M175.4 459.8a1.35 1.35 0 1 0 2.7 0a1.35 1.35 0 1 0 -2.7 0M176.0 460.8a1.35 1.35 0 1 0 2.7 0a1.35 1.35 0 1 0 -2.7 0M176.4 460.9a1.35 1.35 0 1 0 2.7 0a1.35 1.35 0 1 0 -2.7 0M176.9 461.4a1.35 1.35 0 1 0 2.7 0a1.35 1.35 0 1 0 -2.7 0M177.4 461.3a1.35 1.35 0 1 0 2.7 0a1.35 1.35 0 1 0 -2.7 0M178.0 461.6a1.35 1.35 0 1 0 2.7 0a1.35 1.35 0 1 0 -2.7 0M178.5 461.6a1.35 1.35 0 1 0 2.7 0a1.35 1.35 0 1 0 -2.7 0M179.0 461.7a1.35 1.35 0 1 0 2.7 0a1.35 1.35 0 1 0 -2.7 0M179.5 462.1a1.35 1.35 0 1 0 2.7 0a1.35 1.35 0 1 0 -2.7 0M180.0 461.8a1.35 1.35 0 1 0 2.7 0a1.35 1.35 0 1 0 -2.7 0M180.4 462.8a1.35 1.35 0 1 0 2.7 0a1.35 1.35 0 1 0 -2.7 0M180.9 462.2a1.35 1.35 0 1 0 2.7 0a1.35 1.35 0 1 0 -2.7 0M181.4 462.5a1.35 1.35 0 1 0 2.7 0a1.35 1.35 0 1 0 -2.7 0M181.9 463.4a1.35 1.35 0 1 0 2.7 0a1.35 1.35 0 1 0 -2.7 0M182.5 463.3a1.35 1.35 0 1 0 2.7 0a1.35 1.35 0 1 0 -2.7 0M183.0 463.4a1.35 1.35 0 1 0 2.7 0a1.35 1.35 0 1 0 -2.7 0M183.6 463.8a1.35 1.35 0 1 0 2.7 0a1.35 1.35 0 1 0 -2.7 0M184.1 464.2a1.35 1.35 0 1 0 2.7 0a1.35 1.35 0 1 0 -2.7 0M184.6 463.9a1.35 1.35 0 1 0 2.7 0a1.35 1.35 0 1 0 -2.7 0M185.1 464.3a1.35 1.35 0 1 0 2.7 0a1.35 1.35 0 1 0 -2.7 0M185.6 465.0a1.35 1.35 0 1 0 2.7 0a1.35 1.35 0 1 0 -2.7 0M186.1 464.6a1.35 1.35 0 1 0 2.7 0a1.35 1.35 0 1 0 -2.7 0M186.5 465.2a1.35 1.35 0 1 0 2.7 0a1.35 1.35 0 1 0 -2.7 0M187.0 465.5a1.35 1.35 0 1 0 2.7 0a1.35 1.35 0 1 0 -2.7 0M187.5 465.6a1.35 1.35 0 1 0 2.7 0a1.35 1.35 0 1 0 -2.7 0M188.0 465.7a1.35 1.35 0 1 0 2.7 0a1.35 1.35 0 1 0 -2.7 0M188.4 466.1a1.35 1.35 0 1 0 2.7 0a1.35 1.35 0 1 0 -2.7 0M188.9 466.0a1.35 1.35 0 1 0 2.7 0a1.35 1.35 0 1 0 -2.7 0M189.3 466.6a1.35 1.35 0 1 0 2.7 0a1.35 1.35 0 1 0 -2.7 0M189.9 466.5a1.35 1.35 0 1 0 2.7 0a1.35 1.35 0 1 0 -2.7 0M190.4 467.0a1.35 1.35 0 1 0 2.7 0a1.35 1.35 0 1 0 -2.7 0M190.8 467.3a1.35 1.35 0 1 0 2.7 0a1.35 1.35 0 1 0 -2.7 0M191.3 467.2a1.35 1.35 0 1 0 2.7 0a1.35 1.35 0 1 0 -2.7 0M191.8 467.6a1.35 1.35 0 1 0 2.7 0a1.35 1.35 0 1 0 -2.7 0M192.2 467.9a1.35 1.35 0 1 0 2.7 0a1.35 1.35 0 1 0 -2.7 0M192.8 468.1a1.35 1.35 0 1 0 2.7 0a1.35 1.35 0 1 0 -2.7 0M193.2 468.2a1.35 1.35 0 1 0 2.7 0a1.35 1.35 0 1 0 -2.7 0M193.7 468.4a1.35 1.35 0 1 0 2.7 0a1.35 1.35 0 1 0 -2.7 0M194.2 468.7a1.35 1.35 0 1 0 2.7 0a1.35 1.35 0 1 0 -2.7 0M194.7 469.1a1.35 1.35 0 1 0 2.7 0a1.35 1.35 0 1 0 -2.7 0M195.2 469.2a1.35 1.35 0 1 0 2.7 0a1.35 1.35 0 1 0 -2.7 0M195.6 469.4a1.35 1.35 0 1 0 2.7 0a1.35 1.35 0 1 0 -2.7 0M196.1 469.7a1.35 1.35 0 1 0 2.7 0a1.35 1.35 0 1 0 -2.7 0M196.6 470.1a1.35 1.35 0 1 0 2.7 0a1.35 1.35 0 1 0 -2.7 0M197.1 470.2a1.35 1.35 0 1 0 2.7 0a1.35 1.35 0 1 0 -2.7 0M197.5 470.4a1.35 1.35 0 1 0 2.7 0a1.35 1.35 0 1 0 -2.7 0M198.1 470.7a1.35 1.35 0 1 0 2.7 0a1.35 1.35 0 1 0 -2.7 0M198.5 471.0a1.35 1.35 0 1 0 2.7 0a1.35 1.35 0 1 0 -2.7 0M199.0 471.3a1.35 1.35 0 1 0 2.7 0a1.35 1.35 0 1 0 -2.7 0M199.5 471.5a1.35 1.35 0 1 0 2.7 0a1.35 1.35 0 1 0 -2.7 0M200.0 471.7a1.35 1.35 0 1 0 2.7 0a1.35 1.35 0 1 0 -2.7 0M200.5 472.0a1.35 1.35 0 1 0 2.7 0a1.35 1.35 0 1 0 -2.7 0M200.9 472.2a1.35 1.35 0 1 0 2.7 0a1.35 1.35 0 1 0 -2.7 0M201.4 472.5a1.35 1.35 0 1 0 2.7 0a1.35 1.35 0 1 0 -2.7 0M201.8 472.7a1.35 1.35 0 1 0 2.7 0a1.35 1.35 0 1 0 -2.7 0M202.3 473.0a1.35 1.35 0 1 0 2.7 0a1.35 1.35 0 1 0 -2.7 0M202.8 473.2a1.35 1.35 0 1 0 2.7 0a1.35 1.35 0 1 0 -2.7 0M203.2 473.5a1.35 1.35 0 1 0 2.7 0a1.35 1.35 0 1 0 -2.7 0M203.7 473.7a1.35 1.35 0 1 0 2.7 0a1.35 1.35 0 1 0 -2.7 0M204.1 474.0a1.35 1.35 0 1 0 2.7 0a1.35 1.35 0 1 0 -2.7 0M204.6 474.3a1.35 1.35 0 1 0 2.7 0a1.35 1.35 0 1 0 -2.7 0M205.1 474.5a1.35 1.35 0 1 0 2.7 0a1.35 1.35 0 1 0 -2.7 0M205.5 474.8a1.35 1.35 0 1 0 2.7 0a1.35 1.35 0 1 0 -2.7 0M206.0 475.0a1.35 1.35 0 1 0 2.7 0a1.35 1.35 0 1 0 -2.7 0M206.5 475.3a1.35 1.35 0 1 0 2.7 0a1.35 1.35 0 1 0 -2.7 0M206.9 475.6a1.35 1.35 0 1 0 2.7 0a1.35 1.35 0 1 0 -2.7 0M207.4 475.8a1.35 1.35 0 1 0 2.7 0a1.35 1.35 0 1 0 -2.7 0M207.9 476.1a1.35 1.35 0 1 0 2.7 0a1.35 1.35 0 1 0 -2.7 0M208.3 476.4a1.35 1.35 0 1 0 2.7 0a1.35 1.35 0 1 0 -2.7 0M208.8 476.7a1.35 1.35 0 1 0 2.7 0a1.35 1.35 0 1 0 -2.7 0M209.2 476.9a1.35 1.35 0 1 0 2.7 0a1.35 1.35 0 1 0 -2.7 0M209.7 477.2a1.35 1.35 0 1 0 2.7 0a1.35 1.35 0 1 0 -2.7 0M210.2 477.5a1.35 1.35 0 1 0 2.7 0a1.35 1.35 0 1 0 -2.7 0M210.7 477.8a1.35 1.35 0 1 0 2.7 0a1.35 1.35 0 1 0 -2.7 0M211.1 478.1a1.35 1.35 0 1 0 2.7 0a1.35 1.35 0 1 0 -2.7 0M211.6 478.4a1.35 1.35 0 1 0 2.7 0a1.35 1.35 0 1 0 -2.7 0M212.0 478.7a1.35 1.35 0 1 0 2.7 0a1.35 1.35 0 1 0 -2.7 0M212.5 478.9a1.35 1.35 0 1 0 2.7 0a1.35 1.35 0 1 0 -2.7 0M213.0 479.2a1.35 1.35 0 1 0 2.7 0a1.35 1.35 0 1 0 -2.7 0M213.4 479.5a1.35 1.35 0 1 0 2.7 0a1.35 1.35 0 1 0 -2.7 0M213.9 479.8a1.35 1.35 0 1 0 2.7 0a1.35 1.35 0 1 0 -2.7 0M214.3 480.1a1.35 1.35 0 1 0 2.7 0a1.35 1.35 0 1 0 -2.7 0M214.8 480.4a1.35 1.35 0 1 0 2.7 0a1.35 1.35 0 1 0 -2.7 0M215.2 480.7a1.35 1.35 0 1 0 2.7 0a1.35 1.35 0 1 0 -2.7 0M215.7 481.0a1.35 1.35 0 1 0 2.7 0a1.35 1.35 0 1 0 -2.7 0M216.2 481.4a1.35 1.35 0 1 0 2.7 0a1.35 1.35 0 1 0 -2.7 0M216.6 481.7a1.35 1.35 0 1 0 2.7 0a1.35 1.35 0 1 0 -2.7 0M217.1 482.0a1.35 1.35 0 1 0 2.7 0a1.35 1.35 0 1 0 -2.7 0M217.5 482.3a1.35 1.35 0 1 0 2.7 0a1.35 1.35 0 1 0 -2.7 0M218.0 482.6a1.35 1.35 0 1 0 2.7 0a1.35 1.35 0 1 0 -2.7 0M218.5 483.0a1.35 1.35 0 1 0 2.7 0a1.35 1.35 0 1 0 -2.7 0M218.9 483.3a1.35 1.35 0 1 0 2.7 0a1.35 1.35 0 1 0 -2.7 0M219.4 483.6a1.35 1.35 0 1 0 2.7 0a1.35 1.35 0 1 0 -2.7 0M219.9 483.9a1.35 1.35 0 1 0 2.7 0a1.35 1.35 0 1 0 -2.7 0M220.3 484.3a1.35 1.35 0 1 0 2.7 0a1.35 1.35 0 1 0 -2.7 0M220.8 484.6a1.35 1.35 0 1 0 2.7 0a1.35 1.35 0 1 0 -2.7 0M221.2 485.0a1.35 1.35 0 1 0 2.7 0a1.35 1.35 0 1 0 -2.7 0M221.7 485.3a1.35 1.35 0 1 0 2.7 0a1.35 1.35 0 1 0 -2.7 0M222.1 485.6a1.35 1.35 0 1 0 2.7 0a1.35 1.35 0 1 0 -2.7 0M222.6 486.0a1.35 1.35 0 1 0 2.7 0a1.35 1.35 0 1 0 -2.7 0M223.1 486.3a1.35 1.35 0 1 0 2.7 0a1.35 1.35 0 1 0 -2.7 0M223.5 486.7a1.35 1.35 0 1 0 2.7 0a1.35 1.35 0 1 0 -2.7 0M224.0 487.0a1.35 1.35 0 1 0 2.7 0a1.35 1.35 0 1 0 -2.7 0M224.4 487.4a1.35 1.35 0 1 0 2.7 0a1.35 1.35 0 1 0 -2.7 0M224.9 487.8a1.35 1.35 0 1 0 2.7 0a1.35 1.35 0 1 0 -2.7 0M225.3 488.1a1.35 1.35 0 1 0 2.7 0a1.35 1.35 0 1 0 -2.7 0M225.8 488.5a1.35 1.35 0 1 0 2.7 0a1.35 1.35 0 1 0 -2.7 0M226.3 488.9a1.35 1.35 0 1 0 2.7 0a1.35 1.35 0 1 0 -2.7 0M226.7 489.3a1.35 1.35 0 1 0 2.7 0a1.35 1.35 0 1 0 -2.7 0M227.2 489.6a1.35 1.35 0 1 0 2.7 0a1.35 1.35 0 1 0 -2.7 0M227.6 490.0a1.35 1.35 0 1 0 2.7 0a1.35 1.35 0 1 0 -2.7 0M228.1 490.4a1.35 1.35 0 1 0 2.7 0a1.35 1.35 0 1 0 -2.7 0M228.5 490.8a1.35 1.35 0 1 0 2.7 0a1.35 1.35 0 1 0 -2.7 0M229.0 491.2a1.35 1.35 0 1 0 2.7 0a1.35 1.35 0 1 0 -2.7 0M229.4 491.6a1.35 1.35 0 1 0 2.7 0a1.35 1.35 0 1 0 -2.7 0M229.9 492.0a1.35 1.35 0 1 0 2.7 0a1.35 1.35 0 1 0 -2.7 0M230.4 492.4a1.35 1.35 0 1 0 2.7 0a1.35 1.35 0 1 0 -2.7 0M230.8 492.8a1.35 1.35 0 1 0 2.7 0a1.35 1.35 0 1 0 -2.7 0M231.3 493.2a1.35 1.35 0 1 0 2.7 0a1.35 1.35 0 1 0 -2.7 0M231.7 493.6a1.35 1.35 0 1 0 2.7 0a1.35 1.35 0 1 0 -2.7 0M232.2 494.1a1.35 1.35 0 1 0 2.7 0a1.35 1.35 0 1 0 -2.7 0M232.6 494.5a1.35 1.35 0 1 0 2.7 0a1.35 1.35 0 1 0 -2.7 0M233.1 494.9a1.35 1.35 0 1 0 2.7 0a1.35 1.35 0 1 0 -2.7 0M233.5 495.3a1.35 1.35 0 1 0 2.7 0a1.35 1.35 0 1 0 -2.7 0M234.0 495.8a1.35 1.35 0 1 0 2.7 0a1.35 1.35 0 1 0 -2.7 0M234.4 496.2a1.35 1.35 0 1 0 2.7 0a1.35 1.35 0 1 0 -2.7 0M234.9 496.6a1.35 1.35 0 1 0 2.7 0a1.35 1.35 0 1 0 -2.7 0M235.4 497.1a1.35 1.35 0 1 0 2.7 0a1.35 1.35 0 1 0 -2.7 0M235.8 497.5a1.35 1.35 0 1 0 2.7 0a1.35 1.35 0 1 0 -2.7 0M236.3 498.0a1.35 1.35 0 1 0 2.7 0a1.35 1.35 0 1 0 -2.7 0M236.7 498.4a1.35 1.35 0 1 0 2.7 0a1.35 1.35 0 1 0 -2.7 0M237.2 498.9a1.35 1.35 0 1 0 2.7 0a1.35 1.35 0 1 0 -2.7 0M237.6 499.4a1.35 1.35 0 1 0 2.7 0a1.35 1.35 0 1 0 -2.7 0M238.1 499.8a1.35 1.35 0 1 0 2.7 0a1.35 1.35 0 1 0 -2.7 0M238.5 500.3a1.35 1.35 0 1 0 2.7 0a1.35 1.35 0 1 0 -2.7 0M239.0 500.8a1.35 1.35 0 1 0 2.7 0a1.35 1.35 0 1 0 -2.7 0M239.4 501.3a1.35 1.35 0 1 0 2.7 0a1.35 1.35 0 1 0 -2.7 0M239.9 501.8a1.35 1.35 0 1 0 2.7 0a1.35 1.35 0 1 0 -2.7 0M240.3 502.3a1.35 1.35 0 1 0 2.7 0a1.35 1.35 0 1 0 -2.7 0M240.8 502.7a1.35 1.35 0 1 0 2.7 0a1.35 1.35 0 1 0 -2.7 0M241.2 503.2a1.35 1.35 0 1 0 2.7 0a1.35 1.35 0 1 0 -2.7 0M241.7 503.7a1.35 1.35 0 1 0 2.7 0a1.35 1.35 0 1 0 -2.7 0M242.1 504.3a1.35 1.35 0 1 0 2.7 0a1.35 1.35 0 1 0 -2.7 0M242.6 504.8a1.35 1.35 0 1 0 2.7 0a1.35 1.35 0 1 0 -2.7 0M243.0 505.3a1.35 1.35 0 1 0 2.7 0a1.35 1.35 0 1 0 -2.7 0M243.5 505.8a1.35 1.35 0 1 0 2.7 0a1.35 1.35 0 1 0 -2.7 0M244.0 506.3a1.35 1.35 0 1 0 2.7 0a1.35 1.35 0 1 0 -2.7 0M244.4 506.8a1.35 1.35 0 1 0 2.7 0a1.35 1.35 0 1 0 -2.7 0M244.9 507.4a1.35 1.35 0 1 0 2.7 0a1.35 1.35 0 1 0 -2.7 0M245.3 507.9a1.35 1.35 0 1 0 2.7 0a1.35 1.35 0 1 0 -2.7 0M245.8 508.4a1.35 1.35 0 1 0 2.7 0a1.35 1.35 0 1 0 -2.7 0M246.2 509.0a1.35 1.35 0 1 0 2.7 0a1.35 1.35 0 1 0 -2.7 0M246.7 509.5a1.35 1.35 0 1 0 2.7 0a1.35 1.35 0 1 0 -2.7 0M247.1 510.0a1.35 1.35 0 1 0 2.7 0a1.35 1.35 0 1 0 -2.7 0M247.6 510.6a1.35 1.35 0 1 0 2.7 0a1.35 1.35 0 1 0 -2.7 0M248.0 511.1a1.35 1.35 0 1 0 2.7 0a1.35 1.35 0 1 0 -2.7 0M248.5 511.6a1.35 1.35 0 1 0 2.7 0a1.35 1.35 0 1 0 -2.7 0M248.9 512.2a1.35 1.35 0 1 0 2.7 0a1.35 1.35 0 1 0 -2.7 0M249.4 512.7a1.35 1.35 0 1 0 2.7 0a1.35 1.35 0 1 0 -2.7 0M249.8 513.2a1.35 1.35 0 1 0 2.7 0a1.35 1.35 0 1 0 -2.7 0M250.3 513.8a1.35 1.35 0 1 0 2.7 0a1.35 1.35 0 1 0 -2.7 0M250.7 514.3a1.35 1.35 0 1 0 2.7 0a1.35 1.35 0 1 0 -2.7 0M251.2 514.9a1.35 1.35 0 1 0 2.7 0a1.35 1.35 0 1 0 -2.7 0M251.6 515.4a1.35 1.35 0 1 0 2.7 0a1.35 1.35 0 1 0 -2.7 0M252.1 515.9a1.35 1.35 0 1 0 2.7 0a1.35 1.35 0 1 0 -2.7 0M252.5 516.5a1.35 1.35 0 1 0 2.7 0a1.35 1.35 0 1 0 -2.7 0M253.0 517.0a1.35 1.35 0 1 0 2.7 0a1.35 1.35 0 1 0 -2.7 0M253.4 517.5a1.35 1.35 0 1 0 2.7 0a1.35 1.35 0 1 0 -2.7 0M253.9 518.1a1.35 1.35 0 1 0 2.7 0a1.35 1.35 0 1 0 -2.7 0M254.4 518.6a1.35 1.35 0 1 0 2.7 0a1.35 1.35 0 1 0 -2.7 0M254.8 519.1a1.35 1.35 0 1 0 2.7 0a1.35 1.35 0 1 0 -2.7 0M255.3 519.6a1.35 1.35 0 1 0 2.7 0a1.35 1.35 0 1 0 -2.7 0M255.7 520.1a1.35 1.35 0 1 0 2.7 0a1.35 1.35 0 1 0 -2.7 0M256.2 520.7a1.35 1.35 0 1 0 2.7 0a1.35 1.35 0 1 0 -2.7 0M256.6 521.2a1.35 1.35 0 1 0 2.7 0a1.35 1.35 0 1 0 -2.7 0M257.1 521.7a1.35 1.35 0 1 0 2.7 0a1.35 1.35 0 1 0 -2.7 0M257.5 522.2a1.35 1.35 0 1 0 2.7 0a1.35 1.35 0 1 0 -2.7 0M258.0 522.7a1.35 1.35 0 1 0 2.7 0a1.35 1.35 0 1 0 -2.7 0M258.4 523.2a1.35 1.35 0 1 0 2.7 0a1.35 1.35 0 1 0 -2.7 0M258.9 523.7a1.35 1.35 0 1 0 2.7 0a1.35 1.35 0 1 0 -2.7 0M259.3 524.2a1.35 1.35 0 1 0 2.7 0a1.35 1.35 0 1 0 -2.7 0M259.8 524.6a1.35 1.35 0 1 0 2.7 0a1.35 1.35 0 1 0 -2.7 0M260.2 525.1a1.35 1.35 0 1 0 2.7 0a1.35 1.35 0 1 0 -2.7 0M260.7 525.6a1.35 1.35 0 1 0 2.7 0a1.35 1.35 0 1 0 -2.7 0M261.1 526.1a1.35 1.35 0 1 0 2.7 0a1.35 1.35 0 1 0 -2.7 0M261.6 526.5a1.35 1.35 0 1 0 2.7 0a1.35 1.35 0 1 0 -2.7 0M262.0 527.0a1.35 1.35 0 1 0 2.7 0a1.35 1.35 0 1 0 -2.7 0M262.5 527.4a1.35 1.35 0 1 0 2.7 0a1.35 1.35 0 1 0 -2.7 0M262.9 527.9a1.35 1.35 0 1 0 2.7 0a1.35 1.35 0 1 0 -2.7 0M263.4 528.3a1.35 1.35 0 1 0 2.7 0a1.35 1.35 0 1 0 -2.7 0M263.8 528.7a1.35 1.35 0 1 0 2.7 0a1.35 1.35 0 1 0 -2.7 0M264.3 529.2a1.35 1.35 0 1 0 2.7 0a1.35 1.35 0 1 0 -2.7 0M264.7 529.6a1.35 1.35 0 1 0 2.7 0a1.35 1.35 0 1 0 -2.7 0M265.2 530.0a1.35 1.35 0 1 0 2.7 0a1.35 1.35 0 1 0 -2.7 0M265.6 530.4a1.35 1.35 0 1 0 2.7 0a1.35 1.35 0 1 0 -2.7 0M266.1 530.8a1.35 1.35 0 1 0 2.7 0a1.35 1.35 0 1 0 -2.7 0M266.5 531.2a1.35 1.35 0 1 0 2.7 0a1.35 1.35 0 1 0 -2.7 0M267.0 531.6a1.35 1.35 0 1 0 2.7 0a1.35 1.35 0 1 0 -2.7 0M267.4 531.9a1.35 1.35 0 1 0 2.7 0a1.35 1.35 0 1 0 -2.7 0M267.9 532.3a1.35 1.35 0 1 0 2.7 0a1.35 1.35 0 1 0 -2.7 0M268.3 532.6a1.35 1.35 0 1 0 2.7 0a1.35 1.35 0 1 0 -2.7 0M268.8 533.0a1.35 1.35 0 1 0 2.7 0a1.35 1.35 0 1 0 -2.7 0M269.2 533.3a1.35 1.35 0 1 0 2.7 0a1.35 1.35 0 1 0 -2.7 0M269.7 533.6a1.35 1.35 0 1 0 2.7 0a1.35 1.35 0 1 0 -2.7 0M270.1 534.0a1.35 1.35 0 1 0 2.7 0a1.35 1.35 0 1 0 -2.7 0M270.6 534.3a1.35 1.35 0 1 0 2.7 0a1.35 1.35 0 1 0 -2.7 0M271.0 534.5a1.35 1.35 0 1 0 2.7 0a1.35 1.35 0 1 0 -2.7 0M271.5 534.8a1.35 1.35 0 1 0 2.7 0a1.35 1.35 0 1 0 -2.7 0M271.9 535.1a1.35 1.35 0 1 0 2.7 0a1.35 1.35 0 1 0 -2.7 0M272.4 535.4a1.35 1.35 0 1 0 2.7 0a1.35 1.35 0 1 0 -2.7 0M272.8 535.6a1.35 1.35 0 1 0 2.7 0a1.35 1.35 0 1 0 -2.7 0M273.3 535.9a1.35 1.35 0 1 0 2.7 0a1.35 1.35 0 1 0 -2.7 0M273.7 536.1a1.35 1.35 0 1 0 2.7 0a1.35 1.35 0 1 0 -2.7 0M274.2 536.3a1.35 1.35 0 1 0 2.7 0a1.35 1.35 0 1 0 -2.7 0M274.6 536.5a1.35 1.35 0 1 0 2.7 0a1.35 1.35 0 1 0 -2.7 0M275.1 536.7a1.35 1.35 0 1 0 2.7 0a1.35 1.35 0 1 0 -2.7 0M275.5 536.9a1.35 1.35 0 1 0 2.7 0a1.35 1.35 0 1 0 -2.7 0M276.0 537.1a1.35 1.35 0 1 0 2.7 0a1.35 1.35 0 1 0 -2.7 0M276.4 537.2a1.35 1.35 0 1 0 2.7 0a1.35 1.35 0 1 0 -2.7 0M276.9 537.4a1.35 1.35 0 1 0 2.7 0a1.35 1.35 0 1 0 -2.7 0M277.3 537.5a1.35 1.35 0 1 0 2.7 0a1.35 1.35 0 1 0 -2.7 0" stroke="#00f" stroke-width="0.55" fill="none"/>
<path d="M197.0 474.6L198.5 474.9L200.0 475.2L201.5 475.4L203.0 475.7L204.5 476.0L206.0 476.2L207.5 476.5L209.0 476.8L210.5 477.0L212.0 477.3L213.5 477.5L215.0 477.7L216.5 478.0L218.0 478.2L219.5 478.5L221.0 478.7L222.5 479.1L224.0 479.4L225.5 479.9L227.0 480.3L228.5 480.9L230.0 481.5L231.5 482.3L233.0 483.1L234.5 484.1L236.0 485.3L237.5 486.6L239.0 488.1L240.5 489.8L242.0 491.7L243.5 493.9L245.0 496.1L246.5 498.6L248.0 501.1L249.5 503.8L251.0 506.5L252.5 509.4L254.0 512.2L255.5 515.1L257.0 518.0L258.5 520.9L260.0 523.8L261.5 526.6L263.0 529.3L264.5 531.9L266.0 534.4" stroke="#808080" stroke-width="3.0" fill="none" stroke-linejoin="round"/>
<path d="M68.9 474.0h2.35v2.35h-2.35zM82.8 472.2h2.35v2.35h-2.35zM91.0 472.2h2.35v2.35h-2.35zM96.8 471.5h2.35v2.35h-2.35zM101.3 470.5h2.35v2.35h-2.35zM104.9 473.3h2.35v2.35h-2.35zM110.7 471.1h2.35v2.35h-2.35zM113.1 471.0h2.35v2.35h-2.35zM115.2 470.8h2.35v2.35h-2.35zM117.1 469.0h2.35v2.35h-2.35zM118.8 471.2h2.35v2.35h-2.35zM120.4 470.8h2.35v2.35h-2.35zM121.9 470.1h2.35v2.35h-2.35zM124.6 470.1h2.35v2.35h-2.35zM125.8 471.6h2.35v2.35h-2.35zM127.0 471.1h2.35v2.35h-2.35zM128.1 473.3h2.35v2.35h-2.35zM129.1 472.4h2.35v2.35h-2.35zM130.1 471.5h2.35v2.35h-2.35zM131.0 471.4h2.35v2.35h-2.35zM132.8 470.3h2.35v2.35h-2.35zM133.6 470.6h2.35v2.35h-2.35zM134.4 469.9h2.35v2.35h-2.35zM135.1 470.3h2.35v2.35h-2.35zM136.6 470.4h2.35v2.35h-2.35zM137.2 471.0h2.35v2.35h-2.35zM138.5 470.0h2.35v2.35h-2.35zM139.2 471.2h2.35v2.35h-2.35zM139.8 471.6h2.35v2.35h-2.35zM140.3 471.7h2.35v2.35h-2.35zM140.9 470.9h2.35v2.35h-2.35zM141.5 471.7h2.35v2.35h-2.35zM142.0 471.1h2.35v2.35h-2.35zM143.0 471.5h2.35v2.35h-2.35zM143.5 470.5h2.35v2.35h-2.35zM144.0 472.8h2.35v2.35h-2.35zM144.5 471.0h2.35v2.35h-2.35zM144.9 473.6h2.35v2.35h-2.35zM145.4 472.3h2.35v2.35h-2.35zM146.7 470.9h2.35v2.35h-2.35zM147.5 473.3h2.35v2.35h-2.35zM148.3 471.1h2.35v2.35h-2.35zM149.0 470.7h2.35v2.35h-2.35zM149.8 472.0h2.35v2.35h-2.35zM150.5 472.0h2.35v2.35h-2.35zM151.5 470.8h2.35v2.35h-2.35zM152.5 471.1h2.35v2.35h-2.35zM153.1 472.1h2.35v2.35h-2.35zM153.7 471.9h2.35v2.35h-2.35zM154.3 473.4h2.35v2.35h-2.35zM154.8 471.1h2.35v2.35h-2.35zM155.4 472.1h2.35v2.35h-2.35zM155.9 471.5h2.35v2.35h-2.35zM156.4 472.2h2.35v2.35h-2.35zM156.9 472.0h2.35v2.35h-2.35zM157.4 472.0h2.35v2.35h-2.35zM157.9 473.1h2.35v2.35h-2.35zM158.4 471.8h2.35v2.35h-2.35zM158.9 472.1h2.35v2.35h-2.35zM159.3 472.1h2.35v2.35h-2.35zM160.0 471.7h2.35v2.35h-2.35zM160.6 471.6h2.35v2.35h-2.35zM161.2 471.3h2.35v2.35h-2.35zM161.8 471.7h2.35v2.35h-2.35zM162.4 471.4h2.35v2.35h-2.35zM163.0 471.5h2.35v2.35h-2.35zM163.9 471.5h2.35v2.35h-2.35zM164.4 470.3h2.35v2.35h-2.35zM165.1 472.5h2.35v2.35h-2.35zM165.6 471.4h2.35v2.35h-2.35zM166.1 471.5h2.35v2.35h-2.35zM166.5 471.2h2.35v2.35h-2.35zM167.0 471.6h2.35v2.35h-2.35zM167.6 471.2h2.35v2.35h-2.35zM168.2 471.0h2.35v2.35h-2.35zM168.7 471.2h2.35v2.35h-2.35zM169.3 471.5h2.35v2.35h-2.35zM169.8 471.2h2.35v2.35h-2.35zM170.5 471.1h2.35v2.35h-2.35zM171.0 471.3h2.35v2.35h-2.35zM171.5 471.4h2.35v2.35h-2.35zM172.0 471.7h2.35v2.35h-2.35zM172.4 471.5h2.35v2.35h-2.35zM172.9 471.8h2.35v2.35h-2.35zM173.5 471.1h2.35v2.35h-2.35zM174.0 471.2h2.35v2.35h-2.35zM174.5 471.5h2.35v2.35h-2.35zM175.0 471.6h2.35v2.35h-2.35zM175.5 471.4h2.35v2.35h-2.35zM176.1 472.0h2.35v2.35h-2.35zM176.6 471.7h2.35v2.35h-2.35zM177.1 471.6h2.35v2.35h-2.35zM177.6 471.7h2.35v2.35h-2.35zM178.2 472.0h2.35v2.35h-2.35zM178.7 472.4h2.35v2.35h-2.35zM179.2 471.6h2.35v2.35h-2.35zM179.7 471.5h2.35v2.35h-2.35zM180.1 471.4h2.35v2.35h-2.35zM180.6 471.5h2.35v2.35h-2.35zM181.1 471.8h2.35v2.35h-2.35zM181.6 472.0h2.35v2.35h-2.35zM182.1 471.7h2.35v2.35h-2.35zM182.7 472.0h2.35v2.35h-2.35zM183.2 471.7h2.35v2.35h-2.35zM183.8 471.8h2.35v2.35h-2.35zM184.3 472.1h2.35v2.35h-2.35zM184.8 471.8h2.35v2.35h-2.35zM185.3 471.9h2.35v2.35h-2.35zM185.8 472.2h2.35v2.35h-2.35zM186.2 472.2h2.35v2.35h-2.35zM186.7 471.9h2.35v2.35h-2.35zM187.2 472.1h2.35v2.35h-2.35zM187.6 472.1h2.35v2.35h-2.35zM188.1 472.0h2.35v2.35h-2.35zM188.6 472.7h2.35v2.35h-2.35zM189.1 472.3h2.35v2.35h-2.35zM189.5 472.5h2.35v2.35h-2.35zM190.1 472.4h2.35v2.35h-2.35zM190.5 472.6h2.35v2.35h-2.35zM191.0 472.7h2.35v2.35h-2.35zM191.5 472.6h2.35v2.35h-2.35zM191.9 473.2h2.35v2.35h-2.35zM192.4 473.0h2.35v2.35h-2.35zM192.9 472.8h2.35v2.35h-2.35zM193.4 473.1h2.35v2.35h-2.35zM193.9 473.0h2.35v2.35h-2.35zM194.4 473.2h2.35v2.35h-2.35zM194.8 473.2h2.35v2.35h-2.35zM195.3 473.6h2.35v2.35h-2.35zM195.8 473.3h2.35v2.35h-2.35zM196.3 473.8h2.35v2.35h-2.35zM196.8 473.6h2.35v2.35h-2.35zM197.2 473.8h2.35v2.35h-2.35zM197.7 473.9h2.35v2.35h-2.35zM198.2 474.0h2.35v2.35h-2.35zM198.7 474.0h2.35v2.35h-2.35zM199.2 474.1h2.35v2.35h-2.35zM199.7 474.2h2.35v2.35h-2.35zM200.2 474.1h2.35v2.35h-2.35zM200.6 474.2h2.35v2.35h-2.35zM201.1 474.3h2.35v2.35h-2.35zM201.5 474.5h2.35v2.35h-2.35zM202.0 474.6h2.35v2.35h-2.35zM202.5 474.6h2.35v2.35h-2.35zM202.9 474.6h2.35v2.35h-2.35zM203.4 474.9h2.35v2.35h-2.35zM203.9 475.0h2.35v2.35h-2.35zM204.3 475.0h2.35v2.35h-2.35zM204.8 475.1h2.35v2.35h-2.35zM205.2 475.2h2.35v2.35h-2.35zM205.7 475.3h2.35v2.35h-2.35zM206.2 475.4h2.35v2.35h-2.35zM206.6 475.2h2.35v2.35h-2.35zM207.1 475.4h2.35v2.35h-2.35zM207.6 475.5h2.35v2.35h-2.35zM208.0 475.5h2.35v2.35h-2.35zM208.5 475.7h2.35v2.35h-2.35zM209.0 475.9h2.35v2.35h-2.35zM209.4 475.9h2.35v2.35h-2.35zM209.9 476.0h2.35v2.35h-2.35zM210.4 476.0h2.35v2.35h-2.35zM210.8 476.1h2.35v2.35h-2.35zM211.3 476.1h2.35v2.35h-2.35zM211.8 476.3h2.35v2.35h-2.35zM212.2 476.3h2.35v2.35h-2.35zM212.7 476.3h2.35v2.35h-2.35zM213.1 476.5h2.35v2.35h-2.35zM213.6 476.5h2.35v2.35h-2.35zM214.0 476.6h2.35v2.35h-2.35zM214.5 476.7h2.35v2.35h-2.35zM215.0 476.7h2.35v2.35h-2.35zM215.4 476.8h2.35v2.35h-2.35zM215.9 476.9h2.35v2.35h-2.35zM216.3 476.9h2.35v2.35h-2.35zM216.8 477.0h2.35v2.35h-2.35zM217.2 477.1h2.35v2.35h-2.35zM217.7 477.2h2.35v2.35h-2.35zM218.2 477.3h2.35v2.35h-2.35zM218.7 477.3h2.35v2.35h-2.35zM219.1 477.4h2.35v2.35h-2.35zM219.6 477.5h2.35v2.35h-2.35zM220.0 477.6h2.35v2.35h-2.35zM220.5 477.7h2.35v2.35h-2.35zM220.9 477.8h2.35v2.35h-2.35zM221.4 477.9h2.35v2.35h-2.35zM221.9 478.0h2.35v2.35h-2.35zM222.3 478.1h2.35v2.35h-2.35zM222.8 478.2h2.35v2.35h-2.35zM223.2 478.4h2.35v2.35h-2.35zM223.7 478.5h2.35v2.35h-2.35zM224.1 478.6h2.35v2.35h-2.35zM224.6 478.8h2.35v2.35h-2.35zM225.1 478.9h2.35v2.35h-2.35zM225.5 479.1h2.35v2.35h-2.35zM226.0 479.2h2.35v2.35h-2.35zM226.4 479.4h2.35v2.35h-2.35zM226.9 479.6h2.35v2.35h-2.35zM227.3 479.7h2.35v2.35h-2.35zM227.8 479.9h2.35v2.35h-2.35zM228.2 480.1h2.35v2.35h-2.35zM228.7 480.3h2.35v2.35h-2.35zM229.2 480.5h2.35v2.35h-2.35zM229.6 480.7h2.35v2.35h-2.35zM230.1 481.0h2.35v2.35h-2.35zM230.5 481.2h2.35v2.35h-2.35zM231.0 481.5h2.35v2.35h-2.35zM231.4 481.7h2.35v2.35h-2.35zM231.9 482.0h2.35v2.35h-2.35zM232.4 482.3h2.35v2.35h-2.35zM232.8 482.6h2.35v2.35h-2.35zM233.3 482.9h2.35v2.35h-2.35zM233.7 483.2h2.35v2.35h-2.35zM234.2 483.6h2.35v2.35h-2.35zM234.6 483.9h2.35v2.35h-2.35zM235.1 484.3h2.35v2.35h-2.35zM235.5 484.7h2.35v2.35h-2.35zM236.0 485.1h2.35v2.35h-2.35zM236.4 485.5h2.35v2.35h-2.35zM236.9 485.9h2.35v2.35h-2.35zM237.3 486.4h2.35v2.35h-2.35zM237.8 486.9h2.35v2.35h-2.35zM238.2 487.4h2.35v2.35h-2.35zM238.7 487.9h2.35v2.35h-2.35zM239.1 488.4h2.35v2.35h-2.35zM239.6 489.0h2.35v2.35h-2.35zM240.1 489.6h2.35v2.35h-2.35zM240.5 490.2h2.35v2.35h-2.35zM241.0 490.8h2.35v2.35h-2.35zM241.4 491.4h2.35v2.35h-2.35zM241.9 492.0h2.35v2.35h-2.35zM242.3 492.7h2.35v2.35h-2.35zM242.8 493.3h2.35v2.35h-2.35zM243.2 494.0h2.35v2.35h-2.35zM243.7 494.7h2.35v2.35h-2.35zM244.1 495.5h2.35v2.35h-2.35zM244.6 496.2h2.35v2.35h-2.35zM245.0 496.9h2.35v2.35h-2.35zM245.5 497.7h2.35v2.35h-2.35zM245.9 498.4h2.35v2.35h-2.35zM246.4 499.2h2.35v2.35h-2.35zM246.8 500.0h2.35v2.35h-2.35zM247.3 500.8h2.35v2.35h-2.35zM247.7 501.6h2.35v2.35h-2.35zM248.2 502.4h2.35v2.35h-2.35zM248.7 503.2h2.35v2.35h-2.35zM249.1 504.0h2.35v2.35h-2.35zM249.6 504.9h2.35v2.35h-2.35zM250.0 505.7h2.35v2.35h-2.35zM250.5 506.6h2.35v2.35h-2.35zM250.9 507.4h2.35v2.35h-2.35zM251.4 508.3h2.35v2.35h-2.35zM251.8 509.1h2.35v2.35h-2.35zM252.3 510.0h2.35v2.35h-2.35zM252.7 510.8h2.35v2.35h-2.35zM253.2 511.7h2.35v2.35h-2.35zM253.6 512.6h2.35v2.35h-2.35zM254.1 513.5h2.35v2.35h-2.35zM254.5 514.3h2.35v2.35h-2.35zM255.0 515.2h2.35v2.35h-2.35zM255.4 516.1h2.35v2.35h-2.35zM255.9 517.0h2.35v2.35h-2.35zM256.3 517.8h2.35v2.35h-2.35zM256.8 518.7h2.35v2.35h-2.35zM257.2 519.6h2.35v2.35h-2.35zM257.7 520.4h2.35v2.35h-2.35zM258.1 521.3h2.35v2.35h-2.35zM258.6 522.1h2.35v2.35h-2.35zM259.0 523.0h2.35v2.35h-2.35zM259.5 523.8h2.35v2.35h-2.35zM259.9 524.7h2.35v2.35h-2.35zM260.4 525.5h2.35v2.35h-2.35zM260.8 526.3h2.35v2.35h-2.35zM261.3 527.2h2.35v2.35h-2.35zM261.7 528.0h2.35v2.35h-2.35zM262.2 528.8h2.35v2.35h-2.35zM262.6 529.5h2.35v2.35h-2.35zM263.1 530.3h2.35v2.35h-2.35zM263.5 531.1h2.35v2.35h-2.35zM264.0 531.9h2.35v2.35h-2.35zM264.4 532.6h2.35v2.35h-2.35zM264.9 533.3h2.35v2.35h-2.35zM265.3 534.1h2.35v2.35h-2.35zM265.8 534.8h2.35v2.35h-2.35zM266.2 535.5h2.35v2.35h-2.35zM266.7 536.1h2.35v2.35h-2.35zM267.1 536.8h2.35v2.35h-2.35zM267.6 537.4h2.35v2.35h-2.35zM268.1 538.1h2.35v2.35h-2.35zM268.5 538.7h2.35v2.35h-2.35zM269.0 539.3h2.35v2.35h-2.35zM269.4 539.8h2.35v2.35h-2.35zM269.9 540.4h2.35v2.35h-2.35zM270.3 540.9h2.35v2.35h-2.35zM270.8 541.4h2.35v2.35h-2.35zM271.2 541.9h2.35v2.35h-2.35zM271.7 542.4h2.35v2.35h-2.35zM272.1 542.9h2.35v2.35h-2.35zM272.6 543.3h2.35v2.35h-2.35zM273.0 543.7h2.35v2.35h-2.35zM273.5 544.1h2.35v2.35h-2.35zM273.9 544.4h2.35v2.35h-2.35zM274.4 544.8h2.35v2.35h-2.35zM274.8 545.1h2.35v2.35h-2.35zM275.3 545.4h2.35v2.35h-2.35zM275.7 545.6h2.35v2.35h-2.35zM276.2 545.8h2.35v2.35h-2.35zM276.6 546.0h2.35v2.35h-2.35zM277.1 546.2h2.35v2.35h-2.35zM277.5 546.3h2.35v2.35h-2.35z" stroke="#8a8a8a" stroke-width="0.55" fill="none"/>
</g>
<g clip-path="url(#cB2)">
<path d="M407.8 444.7L409.3 445.3L410.8 445.9L412.3 446.5L413.8 447.2L415.3 447.9L416.8 448.6L418.3 449.4L419.8 450.1L421.3 450.9L422.8 451.7L424.3 452.5L425.8 453.4L427.3 454.2L428.8 455.1L430.3 455.9L431.8 456.8L433.3 457.7L434.8 458.6L436.3 459.6L437.8 460.5L439.3 461.4L440.8 462.4L442.3 463.3L443.8 464.3L445.3 465.2L446.8 466.2L448.3 467.2L449.8 468.1L451.3 469.1L452.8 470.1L454.3 471.1L455.8 472.1L457.3 473.1L458.8 474.1L460.3 475.1L461.8 476.2L463.3 477.2L464.8 478.3L466.3 479.4L467.8 480.5L469.3 481.7L470.8 482.8L472.3 484.0L473.8 485.2L475.3 486.5L476.8 487.7L478.3 489.0L479.8 490.3L481.3 491.6L482.8 492.9L484.3 494.2L485.8 495.5L487.3 496.9L488.8 498.2L490.3 499.6L491.8 501.0L493.3 502.3L494.8 503.7L496.3 505.1L497.8 506.4L499.3 507.8L500.8 509.2L502.3 510.5L503.8 511.8L505.3 513.2L506.8 514.5L508.3 515.7L509.8 517.0L511.3 518.2L512.8 519.4L514.3 520.6L515.8 521.7L517.3 522.8L518.8 523.9L520.3 524.9L521.8 525.8" stroke="#000" stroke-width="2.5" fill="none" stroke-linejoin="round"/>
<path d="M305.1 435.9h0M319.3 436.7h0M327.7 436.7h0M333.6 437.2h0M338.1 436.2h0M341.9 437.2h0M347.8 435.6h0M350.2 435.3h0M352.4 436.1h0M354.3 436.9h0M356.1 436.7h0M357.8 437.7h0M359.3 436.5h0M362.0 437.9h0M363.3 437.6h0M364.4 436.9h0M365.5 437.6h0M366.6 439.4h0M367.6 437.3h0M368.6 437.8h0M370.3 438.6h0M371.2 438.1h0M372.0 438.1h0M372.8 437.6h0M374.2 437.6h0M374.9 438.7h0M376.2 438.6h0M376.9 438.3h0M377.5 437.9h0M378.1 438.6h0M378.7 438.2h0M379.2 439.6h0M379.8 439.1h0M380.8 438.7h0M381.3 438.8h0M381.8 438.9h0M382.3 438.5h0M382.8 438.5h0M383.2 439.2h0M383.7 439.1h0M384.6 440.1h0M385.4 439.6h0M386.2 439.0h0M387.0 439.5h0M387.7 439.5h0M388.5 439.8h0M389.5 439.2h0M390.5 440.1h0M391.1 440.3h0M391.7 440.1h0M392.3 439.8h0M392.9 440.6h0M393.5 440.5h0M394.0 440.1h0M394.5 440.4h0M395.1 440.7h0M395.6 441.2h0M396.1 440.6h0M396.5 441.5h0M397.0 441.3h0M397.5 441.7h0M398.2 441.2h0M398.8 441.5h0M399.4 441.8h0M400.0 441.9h0M400.6 442.7h0M401.2 442.1h0M402.1 442.6h0M402.7 443.3h0M403.4 444.2h0M403.9 443.7h0M404.4 443.0h0M404.9 443.3h0M405.3 444.1h0M406.0 444.1h0M406.5 444.5h0M407.1 444.5h0M407.7 444.6h0M408.2 445.0h0M408.9 444.8h0M409.4 445.4h0M409.9 445.1h0M410.4 446.0h0M410.9 446.2h0M411.4 446.5h0M411.8 445.9h0M412.4 446.7h0M413.0 446.6h0M413.6 447.0h0M414.1 447.1h0M414.7 447.8h0M415.2 448.3h0M415.6 447.7h0M416.2 448.1h0M416.6 448.5h0M417.2 448.7h0M417.7 448.8h0M418.3 449.7h0M418.8 449.5h0M419.3 449.9h0M419.7 450.3h0M420.2 450.5h0M420.8 450.4h0M421.4 451.1h0M421.9 451.1h0M422.5 451.4h0M423.0 452.0h0M423.5 452.1h0M424.0 452.6h0M424.5 452.9h0M425.0 452.8h0M425.5 452.9h0M425.9 453.5h0M426.4 453.8h0M426.9 454.0h0M427.4 454.3h0M427.9 454.4h0M428.4 454.7h0M428.8 454.9h0M429.3 455.5h0M429.8 455.6h0M430.3 455.9h0M430.8 456.2h0M431.3 456.6h0M431.8 456.7h0M432.2 457.2h0M432.7 457.6h0M433.2 457.8h0M433.6 458.0h0M434.1 458.1h0M434.6 458.7h0M435.0 458.6h0M435.5 459.1h0M436.0 459.4h0M436.5 459.7h0M437.0 460.0h0M437.4 460.4h0M437.9 460.5h0M438.3 461.0h0M438.8 461.2h0M439.3 461.4h0M439.7 461.6h0M440.2 462.1h0M440.6 462.4h0M441.1 462.6h0M441.6 462.9h0M442.0 463.2h0M442.5 463.4h0M443.0 463.8h0M443.5 464.0h0M443.9 464.3h0M444.4 464.6h0M444.8 465.0h0M445.3 465.3h0M445.8 465.6h0M446.2 465.8h0M446.7 466.1h0M447.2 466.5h0M447.6 466.7h0M448.1 467.0h0M448.5 467.3h0M449.0 467.6h0M449.4 467.9h0M449.9 468.2h0M450.4 468.5h0M450.8 468.8h0M451.3 469.1h0M451.8 469.4h0M452.2 469.7h0M452.7 470.0h0M453.1 470.3h0M453.6 470.6h0M454.1 470.9h0M454.5 471.2h0M455.0 471.5h0M455.4 471.8h0M455.9 472.1h0M456.4 472.4h0M456.8 472.7h0M457.3 473.0h0M457.7 473.3h0M458.2 473.7h0M458.6 474.0h0M459.1 474.3h0M459.6 474.6h0M460.0 474.9h0M460.5 475.2h0M460.9 475.5h0M461.4 475.9h0M461.8 476.2h0M462.3 476.5h0M462.7 476.8h0M463.2 477.1h0M463.6 477.5h0M464.1 477.8h0M464.6 478.1h0M465.0 478.5h0M465.5 478.8h0M465.9 479.2h0M466.4 479.5h0M466.9 479.8h0M467.3 480.2h0M467.8 480.5h0M468.2 480.9h0M468.7 481.2h0M469.1 481.6h0M469.6 481.9h0M470.0 482.2h0M470.5 482.6h0M470.9 483.0h0M471.4 483.3h0M471.9 483.7h0M472.3 484.0h0M472.8 484.4h0M473.2 484.8h0M473.7 485.1h0M474.1 485.5h0M474.6 485.9h0M475.0 486.2h0M475.5 486.6h0M475.9 487.0h0M476.4 487.4h0M476.8 487.8h0M477.3 488.1h0M477.8 488.5h0M478.2 488.9h0M478.7 489.3h0M479.1 489.7h0M479.6 490.1h0M480.0 490.5h0M480.5 490.9h0M480.9 491.2h0M481.4 491.6h0M481.8 492.0h0M482.3 492.4h0M482.7 492.8h0M483.2 493.2h0M483.6 493.6h0M484.1 494.0h0M484.6 494.4h0M485.0 494.8h0M485.5 495.2h0M485.9 495.6h0M486.4 496.0h0M486.8 496.4h0M487.3 496.9h0M487.7 497.3h0M488.2 497.7h0M488.6 498.1h0M489.1 498.5h0M489.5 498.9h0M490.0 499.3h0M490.4 499.7h0M490.9 500.1h0M491.3 500.5h0M491.8 500.9h0M492.2 501.4h0M492.7 501.8h0M493.1 502.2h0M493.6 502.6h0M494.0 503.0h0M494.5 503.4h0M494.9 503.8h0M495.4 504.2h0M495.8 504.7h0M496.3 505.1h0M496.8 505.5h0M497.2 505.9h0M497.7 506.3h0M498.1 506.7h0M498.6 507.1h0M499.0 507.5h0M499.5 507.9h0M499.9 508.4h0M500.4 508.8h0M500.8 509.2h0M501.3 509.6h0M501.7 510.0h0M502.2 510.4h0M502.6 510.8h0M503.1 511.2h0M503.5 511.6h0M504.0 512.0h0M504.4 512.4h0M504.9 512.8h0M505.3 513.2h0M505.8 513.6h0M506.2 514.0h0M506.7 514.3h0M507.1 514.7h0M507.6 515.1h0M508.0 515.5h0M508.5 515.9h0M508.9 516.3h0M509.4 516.6h0M509.8 517.0h0M510.3 517.4h0M510.7 517.7h0M511.2 518.1h0M511.6 518.5h0M512.1 518.8h0M512.5 519.2h0M513.0 519.5h0M513.4 519.9h0M513.9 520.3h0M514.3 520.6h0M514.8 520.9h0M515.2 521.3h0M515.7 521.6h0M516.1 522.0h0M516.6 522.3h0M517.0 522.6h0M517.5 522.9h0M517.9 523.2h0M518.4 523.6h0M518.8 523.9h0M519.3 524.2h0M519.7 524.5h0M520.2 524.8h0" stroke="#000" stroke-width="2.7" stroke-linecap="round" fill="none"/>
<path d="M407.8 453.0L409.3 453.6L410.8 454.3L412.3 455.0L413.8 455.7L415.3 456.4L416.8 457.1L418.3 457.8L419.8 458.5L421.3 459.3L422.8 460.0L424.3 460.8L425.8 461.6L427.3 462.4L428.8 463.2L430.3 464.0L431.8 464.8L433.3 465.7L434.8 466.5L436.3 467.4L437.8 468.3L439.3 469.2L440.8 470.1L442.3 471.0L443.8 472.0L445.3 472.9L446.8 473.9L448.3 474.9L449.8 475.9L451.3 476.9L452.8 478.0L454.3 479.0L455.8 480.1L457.3 481.1L458.8 482.2L460.3 483.3L461.8 484.5L463.3 485.6L464.8 486.7L466.3 487.9L467.8 489.1L469.3 490.3L470.8 491.5L472.3 492.7L473.8 494.0L475.3 495.2L476.8 496.5L478.3 497.8L479.8 499.2L481.3 500.5L482.8 501.9L484.3 503.3L485.8 504.7L487.3 506.1L488.8 507.5L490.3 508.9L491.8 510.3L493.3 511.7L494.8 513.1L496.3 514.5L497.8 515.8L499.3 517.1L500.8 518.4L502.3 519.7L503.8 520.9L505.3 522.0L506.8 523.2L508.3 524.2L509.8 525.2L511.3 526.2L512.8 527.1L514.3 527.9L515.8 528.6L517.3 529.3L518.8 529.9L520.3 530.5L521.8 530.9" stroke="#f00" stroke-width="3.1" fill="none" stroke-linejoin="round"/>
<path d="M303.8 415.4h2.7v2.7h-2.7zM318.0 421.0h2.7v2.7h-2.7zM326.3 422.0h2.7v2.7h-2.7zM332.2 423.8h2.7v2.7h-2.7zM336.8 426.3h2.7v2.7h-2.7zM340.5 427.5h2.7v2.7h-2.7zM346.4 429.1h2.7v2.7h-2.7zM348.9 428.7h2.7v2.7h-2.7zM351.0 430.1h2.7v2.7h-2.7zM353.0 431.2h2.7v2.7h-2.7zM354.8 431.5h2.7v2.7h-2.7zM356.4 433.0h2.7v2.7h-2.7zM357.9 433.4h2.7v2.7h-2.7zM360.7 434.5h2.7v2.7h-2.7zM361.9 435.0h2.7v2.7h-2.7zM363.1 435.5h2.7v2.7h-2.7zM364.2 435.3h2.7v2.7h-2.7zM365.2 435.1h2.7v2.7h-2.7zM366.3 436.2h2.7v2.7h-2.7zM367.2 436.1h2.7v2.7h-2.7zM369.0 437.1h2.7v2.7h-2.7zM369.8 437.4h2.7v2.7h-2.7zM370.6 437.1h2.7v2.7h-2.7zM371.4 438.1h2.7v2.7h-2.7zM372.9 438.1h2.7v2.7h-2.7zM373.6 438.5h2.7v2.7h-2.7zM374.9 439.3h2.7v2.7h-2.7zM375.5 438.9h2.7v2.7h-2.7zM376.1 440.2h2.7v2.7h-2.7zM376.7 440.1h2.7v2.7h-2.7zM377.3 439.7h2.7v2.7h-2.7zM377.9 439.9h2.7v2.7h-2.7zM378.4 440.6h2.7v2.7h-2.7zM379.5 440.9h2.7v2.7h-2.7zM380.0 440.9h2.7v2.7h-2.7zM380.5 441.7h2.7v2.7h-2.7zM381.0 441.6h2.7v2.7h-2.7zM381.4 441.2h2.7v2.7h-2.7zM381.9 441.6h2.7v2.7h-2.7zM382.3 442.3h2.7v2.7h-2.7zM383.2 442.2h2.7v2.7h-2.7zM384.1 443.1h2.7v2.7h-2.7zM384.9 442.0h2.7v2.7h-2.7zM385.6 443.2h2.7v2.7h-2.7zM386.4 443.1h2.7v2.7h-2.7zM387.1 444.3h2.7v2.7h-2.7zM388.1 444.5h2.7v2.7h-2.7zM389.1 444.2h2.7v2.7h-2.7zM389.8 444.7h2.7v2.7h-2.7zM390.4 444.6h2.7v2.7h-2.7zM391.0 445.2h2.7v2.7h-2.7zM391.5 445.9h2.7v2.7h-2.7zM392.1 446.1h2.7v2.7h-2.7zM392.7 446.0h2.7v2.7h-2.7zM393.2 446.0h2.7v2.7h-2.7zM393.7 446.8h2.7v2.7h-2.7zM394.2 446.1h2.7v2.7h-2.7zM394.7 446.9h2.7v2.7h-2.7zM395.2 447.1h2.7v2.7h-2.7zM395.7 447.1h2.7v2.7h-2.7zM396.1 446.9h2.7v2.7h-2.7zM396.8 447.8h2.7v2.7h-2.7zM397.5 448.0h2.7v2.7h-2.7zM398.1 448.2h2.7v2.7h-2.7zM398.7 448.6h2.7v2.7h-2.7zM399.3 448.6h2.7v2.7h-2.7zM399.9 449.0h2.7v2.7h-2.7zM400.8 448.9h2.7v2.7h-2.7zM401.3 449.0h2.7v2.7h-2.7zM402.0 449.4h2.7v2.7h-2.7zM402.5 450.1h2.7v2.7h-2.7zM403.0 450.1h2.7v2.7h-2.7zM403.5 450.4h2.7v2.7h-2.7zM404.0 450.8h2.7v2.7h-2.7zM404.6 451.0h2.7v2.7h-2.7zM405.2 451.2h2.7v2.7h-2.7zM405.8 451.3h2.7v2.7h-2.7zM406.3 451.2h2.7v2.7h-2.7zM406.9 452.3h2.7v2.7h-2.7zM407.6 451.7h2.7v2.7h-2.7zM408.1 452.8h2.7v2.7h-2.7zM408.6 452.8h2.7v2.7h-2.7zM409.1 452.6h2.7v2.7h-2.7zM409.5 452.6h2.7v2.7h-2.7zM410.0 453.5h2.7v2.7h-2.7zM410.5 453.1h2.7v2.7h-2.7zM411.0 453.5h2.7v2.7h-2.7zM411.7 454.1h2.7v2.7h-2.7zM412.2 454.0h2.7v2.7h-2.7zM412.7 454.2h2.7v2.7h-2.7zM413.3 454.4h2.7v2.7h-2.7zM413.8 455.0h2.7v2.7h-2.7zM414.3 455.0h2.7v2.7h-2.7zM414.8 455.5h2.7v2.7h-2.7zM415.3 455.2h2.7v2.7h-2.7zM415.8 456.3h2.7v2.7h-2.7zM416.3 456.1h2.7v2.7h-2.7zM416.9 456.9h2.7v2.7h-2.7zM417.4 456.9h2.7v2.7h-2.7zM417.9 456.9h2.7v2.7h-2.7zM418.4 456.9h2.7v2.7h-2.7zM418.8 457.6h2.7v2.7h-2.7zM419.4 457.8h2.7v2.7h-2.7zM420.0 458.1h2.7v2.7h-2.7zM420.6 458.6h2.7v2.7h-2.7zM421.1 458.5h2.7v2.7h-2.7zM421.6 458.9h2.7v2.7h-2.7zM422.2 458.8h2.7v2.7h-2.7zM422.7 458.9h2.7v2.7h-2.7zM423.2 459.5h2.7v2.7h-2.7zM423.7 459.4h2.7v2.7h-2.7zM424.1 459.7h2.7v2.7h-2.7zM424.6 460.2h2.7v2.7h-2.7zM425.1 460.5h2.7v2.7h-2.7zM425.6 460.9h2.7v2.7h-2.7zM426.1 460.9h2.7v2.7h-2.7zM426.5 461.0h2.7v2.7h-2.7zM427.0 461.3h2.7v2.7h-2.7zM427.5 462.1h2.7v2.7h-2.7zM427.9 462.3h2.7v2.7h-2.7zM428.4 461.9h2.7v2.7h-2.7zM428.9 463.0h2.7v2.7h-2.7zM429.4 462.5h2.7v2.7h-2.7zM429.9 463.6h2.7v2.7h-2.7zM430.4 463.0h2.7v2.7h-2.7zM430.9 463.3h2.7v2.7h-2.7zM431.3 463.8h2.7v2.7h-2.7zM431.8 463.9h2.7v2.7h-2.7zM432.3 464.8h2.7v2.7h-2.7zM432.8 464.5h2.7v2.7h-2.7zM433.2 465.4h2.7v2.7h-2.7zM433.7 465.6h2.7v2.7h-2.7zM434.2 465.7h2.7v2.7h-2.7zM434.6 466.2h2.7v2.7h-2.7zM435.1 466.0h2.7v2.7h-2.7zM435.6 466.7h2.7v2.7h-2.7zM436.1 467.0h2.7v2.7h-2.7zM436.5 466.6h2.7v2.7h-2.7zM437.0 466.9h2.7v2.7h-2.7zM437.5 467.2h2.7v2.7h-2.7zM437.9 467.5h2.7v2.7h-2.7zM438.4 468.3h2.7v2.7h-2.7zM438.8 468.2h2.7v2.7h-2.7zM439.3 469.1h2.7v2.7h-2.7zM439.8 468.6h2.7v2.7h-2.7zM440.2 468.8h2.7v2.7h-2.7zM440.7 469.4h2.7v2.7h-2.7zM441.2 469.7h2.7v2.7h-2.7zM441.6 470.0h2.7v2.7h-2.7zM442.1 470.1h2.7v2.7h-2.7zM442.6 470.5h2.7v2.7h-2.7zM443.0 470.7h2.7v2.7h-2.7zM443.5 471.2h2.7v2.7h-2.7zM444.0 472.0h2.7v2.7h-2.7zM444.4 472.0h2.7v2.7h-2.7zM444.9 471.8h2.7v2.7h-2.7zM445.4 472.1h2.7v2.7h-2.7zM445.8 472.9h2.7v2.7h-2.7zM446.3 473.5h2.7v2.7h-2.7zM446.7 473.4h2.7v2.7h-2.7zM447.2 474.0h2.7v2.7h-2.7zM447.6 473.9h2.7v2.7h-2.7zM448.1 474.3h2.7v2.7h-2.7zM448.6 474.7h2.7v2.7h-2.7zM449.0 474.9h2.7v2.7h-2.7zM449.5 475.1h2.7v2.7h-2.7zM449.9 475.5h2.7v2.7h-2.7zM450.4 475.8h2.7v2.7h-2.7zM450.9 476.2h2.7v2.7h-2.7zM451.3 476.9h2.7v2.7h-2.7zM451.8 476.7h2.7v2.7h-2.7zM452.3 476.8h2.7v2.7h-2.7zM452.7 477.5h2.7v2.7h-2.7zM453.2 477.8h2.7v2.7h-2.7zM453.6 477.8h2.7v2.7h-2.7zM454.1 478.9h2.7v2.7h-2.7zM454.5 479.2h2.7v2.7h-2.7zM455.0 479.2h2.7v2.7h-2.7zM455.5 479.5h2.7v2.7h-2.7zM455.9 479.4h2.7v2.7h-2.7zM456.4 480.5h2.7v2.7h-2.7zM456.8 480.1h2.7v2.7h-2.7zM457.3 480.7h2.7v2.7h-2.7zM457.7 481.5h2.7v2.7h-2.7zM458.2 481.6h2.7v2.7h-2.7zM458.7 481.6h2.7v2.7h-2.7zM459.1 481.9h2.7v2.7h-2.7zM459.6 482.1h2.7v2.7h-2.7zM460.0 482.7h2.7v2.7h-2.7zM460.5 482.7h2.7v2.7h-2.7zM460.9 483.1h2.7v2.7h-2.7zM461.4 483.8h2.7v2.7h-2.7zM461.8 484.0h2.7v2.7h-2.7zM462.3 484.1h2.7v2.7h-2.7zM462.7 484.6h2.7v2.7h-2.7zM463.2 485.0h2.7v2.7h-2.7zM463.7 485.8h2.7v2.7h-2.7zM464.1 485.5h2.7v2.7h-2.7zM464.6 486.5h2.7v2.7h-2.7zM465.1 486.2h2.7v2.7h-2.7zM465.5 487.5h2.7v2.7h-2.7zM466.0 487.2h2.7v2.7h-2.7zM466.4 487.9h2.7v2.7h-2.7zM466.9 487.8h2.7v2.7h-2.7zM467.3 488.3h2.7v2.7h-2.7zM467.8 488.8h2.7v2.7h-2.7zM468.2 488.8h2.7v2.7h-2.7zM468.7 489.2h2.7v2.7h-2.7zM469.1 490.3h2.7v2.7h-2.7zM469.6 490.3h2.7v2.7h-2.7zM470.1 490.7h2.7v2.7h-2.7zM470.5 490.7h2.7v2.7h-2.7zM471.0 491.4h2.7v2.7h-2.7zM471.4 491.5h2.7v2.7h-2.7zM471.9 491.8h2.7v2.7h-2.7zM472.3 492.3h2.7v2.7h-2.7zM472.8 493.2h2.7v2.7h-2.7zM473.2 492.9h2.7v2.7h-2.7zM473.7 493.6h2.7v2.7h-2.7zM474.1 494.2h2.7v2.7h-2.7zM474.6 494.7h2.7v2.7h-2.7zM475.0 495.1h2.7v2.7h-2.7zM475.5 495.8h2.7v2.7h-2.7zM475.9 495.3h2.7v2.7h-2.7zM476.4 496.2h2.7v2.7h-2.7zM476.9 496.5h2.7v2.7h-2.7zM477.3 496.7h2.7v2.7h-2.7zM477.8 497.4h2.7v2.7h-2.7zM478.2 497.3h2.7v2.7h-2.7zM478.7 498.1h2.7v2.7h-2.7zM479.1 498.6h2.7v2.7h-2.7zM479.6 498.6h2.7v2.7h-2.7zM480.0 499.6h2.7v2.7h-2.7zM480.5 499.3h2.7v2.7h-2.7zM480.9 500.3h2.7v2.7h-2.7zM481.4 500.8h2.7v2.7h-2.7zM481.8 500.6h2.7v2.7h-2.7zM482.3 501.7h2.7v2.7h-2.7zM482.7 501.7h2.7v2.7h-2.7zM483.2 501.8h2.7v2.7h-2.7zM483.7 502.5h2.7v2.7h-2.7zM484.1 503.1h2.7v2.7h-2.7zM484.6 503.6h2.7v2.7h-2.7zM485.0 504.2h2.7v2.7h-2.7zM485.5 504.7h2.7v2.7h-2.7zM485.9 504.3h2.7v2.7h-2.7zM486.4 504.7h2.7v2.7h-2.7zM486.8 505.9h2.7v2.7h-2.7zM487.3 505.9h2.7v2.7h-2.7zM487.7 506.5h2.7v2.7h-2.7zM488.2 506.6h2.7v2.7h-2.7zM488.6 507.7h2.7v2.7h-2.7zM489.1 507.3h2.7v2.7h-2.7zM489.5 508.1h2.7v2.7h-2.7zM490.0 508.6h2.7v2.7h-2.7zM490.4 509.0h2.7v2.7h-2.7zM490.9 509.6h2.7v2.7h-2.7zM491.3 509.9h2.7v2.7h-2.7zM491.8 509.9h2.7v2.7h-2.7zM492.2 510.7h2.7v2.7h-2.7zM492.7 510.9h2.7v2.7h-2.7zM493.1 511.6h2.7v2.7h-2.7zM493.6 512.2h2.7v2.7h-2.7zM494.0 512.0h2.7v2.7h-2.7zM494.5 512.6h2.7v2.7h-2.7zM495.0 512.9h2.7v2.7h-2.7zM495.4 513.5h2.7v2.7h-2.7zM495.9 513.6h2.7v2.7h-2.7zM496.3 514.5h2.7v2.7h-2.7zM496.8 514.5h2.7v2.7h-2.7zM497.2 515.3h2.7v2.7h-2.7zM497.7 515.2h2.7v2.7h-2.7zM498.1 515.5h2.7v2.7h-2.7zM498.6 516.5h2.7v2.7h-2.7zM499.0 516.3h2.7v2.7h-2.7zM499.5 516.7h2.7v2.7h-2.7zM499.9 517.5h2.7v2.7h-2.7zM500.4 518.0h2.7v2.7h-2.7zM500.8 518.0h2.7v2.7h-2.7zM501.3 518.3h2.7v2.7h-2.7zM501.7 519.0h2.7v2.7h-2.7zM502.2 518.9h2.7v2.7h-2.7zM502.6 519.9h2.7v2.7h-2.7zM503.1 520.4h2.7v2.7h-2.7zM503.5 520.8h2.7v2.7h-2.7zM504.0 520.3h2.7v2.7h-2.7zM504.4 521.3h2.7v2.7h-2.7zM504.9 521.7h2.7v2.7h-2.7zM505.3 521.4h2.7v2.7h-2.7zM505.8 521.9h2.7v2.7h-2.7zM506.2 522.4h2.7v2.7h-2.7zM506.7 522.4h2.7v2.7h-2.7zM507.1 522.8h2.7v2.7h-2.7zM507.6 523.7h2.7v2.7h-2.7zM508.0 523.9h2.7v2.7h-2.7zM508.5 523.5h2.7v2.7h-2.7zM508.9 524.2h2.7v2.7h-2.7zM509.4 524.1h2.7v2.7h-2.7zM509.8 524.9h2.7v2.7h-2.7zM510.3 524.9h2.7v2.7h-2.7zM510.7 524.9h2.7v2.7h-2.7zM511.2 525.2h2.7v2.7h-2.7zM511.6 526.2h2.7v2.7h-2.7zM512.1 525.8h2.7v2.7h-2.7zM512.5 526.7h2.7v2.7h-2.7zM513.0 526.2h2.7v2.7h-2.7zM513.4 526.6h2.7v2.7h-2.7zM513.9 526.6h2.7v2.7h-2.7zM514.3 527.5h2.7v2.7h-2.7zM514.8 527.4h2.7v2.7h-2.7zM515.2 527.6h2.7v2.7h-2.7zM515.7 527.5h2.7v2.7h-2.7zM516.1 527.8h2.7v2.7h-2.7zM516.6 527.9h2.7v2.7h-2.7zM517.0 528.4h2.7v2.7h-2.7zM517.5 528.4h2.7v2.7h-2.7zM517.9 529.2h2.7v2.7h-2.7zM518.4 528.7h2.7v2.7h-2.7zM518.8 528.8h2.7v2.7h-2.7z" fill="#f00"/>
<path d="M432.8 470.8L434.3 471.3L435.8 471.9L437.3 472.5L438.8 473.1L440.3 473.7L441.8 474.2L443.3 474.8L444.8 475.4L446.3 476.1L447.8 476.7L449.3 477.3L450.8 478.0L452.3 478.7L453.8 479.4L455.3 480.1L456.8 480.8L458.3 481.6L459.8 482.4L461.3 483.3L462.8 484.1L464.3 485.0L465.8 486.0L467.3 486.9L468.8 487.9L470.3 488.9L471.8 489.9L473.3 491.0L474.8 492.1L476.3 493.2L477.8 494.4L479.3 495.5L480.8 496.7L482.3 498.0L483.8 499.2L485.3 500.5L486.8 501.8L488.3 503.1L489.8 504.4L491.3 505.7L492.8 507.0L494.3 508.3L495.8 509.6L497.3 510.9L498.8 512.1L500.3 513.4L501.8 514.6L503.3 515.8L504.8 516.9L506.3 518.0L507.8 519.0L509.3 520.0L510.8 521.0L512.3 521.9L513.8 522.7L515.3 523.5L516.8 524.2L518.3 524.8L519.8 525.3L521.3 525.8" stroke="#00f" stroke-width="3.0" fill="none" stroke-linejoin="round"/>
<path d="M303.8 424.3a1.35 1.35 0 1 0 2.7 0a1.35 1.35 0 1 0 -2.7 0M318.0 429.5a1.35 1.35 0 1 0 2.7 0a1.35 1.35 0 1 0 -2.7 0M326.3 428.4a1.35 1.35 0 1 0 2.7 0a1.35 1.35 0 1 0 -2.7 0M332.2 432.9a1.35 1.35 0 1 0 2.7 0a1.35 1.35 0 1 0 -2.7 0M336.8 433.8a1.35 1.35 0 1 0 2.7 0a1.35 1.35 0 1 0 -2.7 0M340.5 435.9a1.35 1.35 0 1 0 2.7 0a1.35 1.35 0 1 0 -2.7 0M346.4 440.5a1.35 1.35 0 1 0 2.7 0a1.35 1.35 0 1 0 -2.7 0M348.9 439.0a1.35 1.35 0 1 0 2.7 0a1.35 1.35 0 1 0 -2.7 0M351.0 440.5a1.35 1.35 0 1 0 2.7 0a1.35 1.35 0 1 0 -2.7 0M353.0 443.6a1.35 1.35 0 1 0 2.7 0a1.35 1.35 0 1 0 -2.7 0M354.8 442.8a1.35 1.35 0 1 0 2.7 0a1.35 1.35 0 1 0 -2.7 0M356.4 441.4a1.35 1.35 0 1 0 2.7 0a1.35 1.35 0 1 0 -2.7 0M357.9 441.6a1.35 1.35 0 1 0 2.7 0a1.35 1.35 0 1 0 -2.7 0M360.7 442.5a1.35 1.35 0 1 0 2.7 0a1.35 1.35 0 1 0 -2.7 0M361.9 444.9a1.35 1.35 0 1 0 2.7 0a1.35 1.35 0 1 0 -2.7 0M363.1 443.7a1.35 1.35 0 1 0 2.7 0a1.35 1.35 0 1 0 -2.7 0M364.2 445.9a1.35 1.35 0 1 0 2.7 0a1.35 1.35 0 1 0 -2.7 0M365.2 443.7a1.35 1.35 0 1 0 2.7 0a1.35 1.35 0 1 0 -2.7 0M366.3 444.3a1.35 1.35 0 1 0 2.7 0a1.35 1.35 0 1 0 -2.7 0M367.2 447.1a1.35 1.35 0 1 0 2.7 0a1.35 1.35 0 1 0 -2.7 0M369.0 446.7a1.35 1.35 0 1 0 2.7 0a1.35 1.35 0 1 0 -2.7 0M369.8 446.7a1.35 1.35 0 1 0 2.7 0a1.35 1.35 0 1 0 -2.7 0M370.6 447.0a1.35 1.35 0 1 0 2.7 0a1.35 1.35 0 1 0 -2.7 0M371.4 445.8a1.35 1.35 0 1 0 2.7 0a1.35 1.35 0 1 0 -2.7 0M372.9 447.2a1.35 1.35 0 1 0 2.7 0a1.35 1.35 0 1 0 -2.7 0M373.6 447.4a1.35 1.35 0 1 0 2.7 0a1.35 1.35 0 1 0 -2.7 0M374.9 447.6a1.35 1.35 0 1 0 2.7 0a1.35 1.35 0 1 0 -2.7 0M375.5 448.8a1.35 1.35 0 1 0 2.7 0a1.35 1.35 0 1 0 -2.7 0M376.1 448.6a1.35 1.35 0 1 0 2.7 0a1.35 1.35 0 1 0 -2.7 0M376.7 450.7a1.35 1.35 0 1 0 2.7 0a1.35 1.35 0 1 0 -2.7 0M377.3 448.4a1.35 1.35 0 1 0 2.7 0a1.35 1.35 0 1 0 -2.7 0M377.9 449.6a1.35 1.35 0 1 0 2.7 0a1.35 1.35 0 1 0 -2.7 0M378.4 451.0a1.35 1.35 0 1 0 2.7 0a1.35 1.35 0 1 0 -2.7 0M379.5 450.7a1.35 1.35 0 1 0 2.7 0a1.35 1.35 0 1 0 -2.7 0M380.0 449.6a1.35 1.35 0 1 0 2.7 0a1.35 1.35 0 1 0 -2.7 0M380.5 450.6a1.35 1.35 0 1 0 2.7 0a1.35 1.35 0 1 0 -2.7 0M381.0 451.4a1.35 1.35 0 1 0 2.7 0a1.35 1.35 0 1 0 -2.7 0M381.4 450.8a1.35 1.35 0 1 0 2.7 0a1.35 1.35 0 1 0 -2.7 0M381.9 450.1a1.35 1.35 0 1 0 2.7 0a1.35 1.35 0 1 0 -2.7 0M382.3 451.6a1.35 1.35 0 1 0 2.7 0a1.35 1.35 0 1 0 -2.7 0M383.2 452.1a1.35 1.35 0 1 0 2.7 0a1.35 1.35 0 1 0 -2.7 0M384.1 452.1a1.35 1.35 0 1 0 2.7 0a1.35 1.35 0 1 0 -2.7 0M384.9 451.5a1.35 1.35 0 1 0 2.7 0a1.35 1.35 0 1 0 -2.7 0M385.6 452.6a1.35 1.35 0 1 0 2.7 0a1.35 1.35 0 1 0 -2.7 0M386.4 452.8a1.35 1.35 0 1 0 2.7 0a1.35 1.35 0 1 0 -2.7 0M387.1 453.8a1.35 1.35 0 1 0 2.7 0a1.35 1.35 0 1 0 -2.7 0M388.1 453.7a1.35 1.35 0 1 0 2.7 0a1.35 1.35 0 1 0 -2.7 0M389.1 453.5a1.35 1.35 0 1 0 2.7 0a1.35 1.35 0 1 0 -2.7 0M389.8 454.0a1.35 1.35 0 1 0 2.7 0a1.35 1.35 0 1 0 -2.7 0M390.4 454.2a1.35 1.35 0 1 0 2.7 0a1.35 1.35 0 1 0 -2.7 0M391.0 454.4a1.35 1.35 0 1 0 2.7 0a1.35 1.35 0 1 0 -2.7 0M391.5 454.6a1.35 1.35 0 1 0 2.7 0a1.35 1.35 0 1 0 -2.7 0M392.1 455.2a1.35 1.35 0 1 0 2.7 0a1.35 1.35 0 1 0 -2.7 0M392.7 455.4a1.35 1.35 0 1 0 2.7 0a1.35 1.35 0 1 0 -2.7 0M393.2 455.8a1.35 1.35 0 1 0 2.7 0a1.35 1.35 0 1 0 -2.7 0M393.7 456.1a1.35 1.35 0 1 0 2.7 0a1.35 1.35 0 1 0 -2.7 0M394.2 454.9a1.35 1.35 0 1 0 2.7 0a1.35 1.35 0 1 0 -2.7 0M394.7 455.5a1.35 1.35 0 1 0 2.7 0a1.35 1.35 0 1 0 -2.7 0M395.2 455.8a1.35 1.35 0 1 0 2.7 0a1.35 1.35 0 1 0 -2.7 0M395.7 456.4a1.35 1.35 0 1 0 2.7 0a1.35 1.35 0 1 0 -2.7 0M396.1 457.5a1.35 1.35 0 1 0 2.7 0a1.35 1.35 0 1 0 -2.7 0M396.8 457.2a1.35 1.35 0 1 0 2.7 0a1.35 1.35 0 1 0 -2.7 0M397.5 457.1a1.35 1.35 0 1 0 2.7 0a1.35 1.35 0 1 0 -2.7 0M398.1 456.3a1.35 1.35 0 1 0 2.7 0a1.35 1.35 0 1 0 -2.7 0M398.7 457.9a1.35 1.35 0 1 0 2.7 0a1.35 1.35 0 1 0 -2.7 0M399.3 457.7a1.35 1.35 0 1 0 2.7 0a1.35 1.35 0 1 0 -2.7 0M399.9 458.7a1.35 1.35 0 1 0 2.7 0a1.35 1.35 0 1 0 -2.7 0M400.8 459.1a1.35 1.35 0 1 0 2.7 0a1.35 1.35 0 1 0 -2.7 0M401.3 458.5a1.35 1.35 0 1 0 2.7 0a1.35 1.35 0 1 0 -2.7 0M402.0 459.3a1.35 1.35 0 1 0 2.7 0a1.35 1.35 0 1 0 -2.7 0M402.5 459.9a1.35 1.35 0 1 0 2.7 0a1.35 1.35 0 1 0 -2.7 0M403.0 460.0a1.35 1.35 0 1 0 2.7 0a1.35 1.35 0 1 0 -2.7 0M403.5 459.7a1.35 1.35 0 1 0 2.7 0a1.35 1.35 0 1 0 -2.7 0M404.0 460.5a1.35 1.35 0 1 0 2.7 0a1.35 1.35 0 1 0 -2.7 0M404.6 459.6a1.35 1.35 0 1 0 2.7 0a1.35 1.35 0 1 0 -2.7 0M405.2 460.4a1.35 1.35 0 1 0 2.7 0a1.35 1.35 0 1 0 -2.7 0M405.8 461.1a1.35 1.35 0 1 0 2.7 0a1.35 1.35 0 1 0 -2.7 0M406.3 460.8a1.35 1.35 0 1 0 2.7 0a1.35 1.35 0 1 0 -2.7 0M406.9 461.2a1.35 1.35 0 1 0 2.7 0a1.35 1.35 0 1 0 -2.7 0M407.6 461.0a1.35 1.35 0 1 0 2.7 0a1.35 1.35 0 1 0 -2.7 0M408.1 462.0a1.35 1.35 0 1 0 2.7 0a1.35 1.35 0 1 0 -2.7 0M408.6 461.5a1.35 1.35 0 1 0 2.7 0a1.35 1.35 0 1 0 -2.7 0M409.1 461.9a1.35 1.35 0 1 0 2.7 0a1.35 1.35 0 1 0 -2.7 0M409.5 462.1a1.35 1.35 0 1 0 2.7 0a1.35 1.35 0 1 0 -2.7 0M410.0 462.7a1.35 1.35 0 1 0 2.7 0a1.35 1.35 0 1 0 -2.7 0M410.5 462.4a1.35 1.35 0 1 0 2.7 0a1.35 1.35 0 1 0 -2.7 0M411.0 462.9a1.35 1.35 0 1 0 2.7 0a1.35 1.35 0 1 0 -2.7 0M411.7 463.1a1.35 1.35 0 1 0 2.7 0a1.35 1.35 0 1 0 -2.7 0M412.2 463.5a1.35 1.35 0 1 0 2.7 0a1.35 1.35 0 1 0 -2.7 0M412.7 463.4a1.35 1.35 0 1 0 2.7 0a1.35 1.35 0 1 0 -2.7 0M413.3 463.9a1.35 1.35 0 1 0 2.7 0a1.35 1.35 0 1 0 -2.7 0M413.8 464.2a1.35 1.35 0 1 0 2.7 0a1.35 1.35 0 1 0 -2.7 0M414.3 464.1a1.35 1.35 0 1 0 2.7 0a1.35 1.35 0 1 0 -2.7 0M414.8 464.1a1.35 1.35 0 1 0 2.7 0a1.35 1.35 0 1 0 -2.7 0M415.3 464.0a1.35 1.35 0 1 0 2.7 0a1.35 1.35 0 1 0 -2.7 0M415.8 464.9a1.35 1.35 0 1 0 2.7 0a1.35 1.35 0 1 0 -2.7 0M416.3 465.2a1.35 1.35 0 1 0 2.7 0a1.35 1.35 0 1 0 -2.7 0M416.9 465.0a1.35 1.35 0 1 0 2.7 0a1.35 1.35 0 1 0 -2.7 0M417.4 465.0a1.35 1.35 0 1 0 2.7 0a1.35 1.35 0 1 0 -2.7 0M417.9 465.6a1.35 1.35 0 1 0 2.7 0a1.35 1.35 0 1 0 -2.7 0M418.4 465.6a1.35 1.35 0 1 0 2.7 0a1.35 1.35 0 1 0 -2.7 0M418.8 465.8a1.35 1.35 0 1 0 2.7 0a1.35 1.35 0 1 0 -2.7 0M419.4 466.3a1.35 1.35 0 1 0 2.7 0a1.35 1.35 0 1 0 -2.7 0M420.0 466.5a1.35 1.35 0 1 0 2.7 0a1.35 1.35 0 1 0 -2.7 0M420.6 466.8a1.35 1.35 0 1 0 2.7 0a1.35 1.35 0 1 0 -2.7 0M421.1 466.9a1.35 1.35 0 1 0 2.7 0a1.35 1.35 0 1 0 -2.7 0M421.6 467.1a1.35 1.35 0 1 0 2.7 0a1.35 1.35 0 1 0 -2.7 0M422.2 467.2a1.35 1.35 0 1 0 2.7 0a1.35 1.35 0 1 0 -2.7 0M422.7 467.5a1.35 1.35 0 1 0 2.7 0a1.35 1.35 0 1 0 -2.7 0M423.2 467.5a1.35 1.35 0 1 0 2.7 0a1.35 1.35 0 1 0 -2.7 0M423.7 467.5a1.35 1.35 0 1 0 2.7 0a1.35 1.35 0 1 0 -2.7 0M424.1 467.6a1.35 1.35 0 1 0 2.7 0a1.35 1.35 0 1 0 -2.7 0M424.6 468.0a1.35 1.35 0 1 0 2.7 0a1.35 1.35 0 1 0 -2.7 0M425.1 468.3a1.35 1.35 0 1 0 2.7 0a1.35 1.35 0 1 0 -2.7 0M425.6 468.2a1.35 1.35 0 1 0 2.7 0a1.35 1.35 0 1 0 -2.7 0M426.1 468.8a1.35 1.35 0 1 0 2.7 0a1.35 1.35 0 1 0 -2.7 0M426.5 469.1a1.35 1.35 0 1 0 2.7 0a1.35 1.35 0 1 0 -2.7 0M427.0 468.9a1.35 1.35 0 1 0 2.7 0a1.35 1.35 0 1 0 -2.7 0M427.5 469.3a1.35 1.35 0 1 0 2.7 0a1.35 1.35 0 1 0 -2.7 0M427.9 469.2a1.35 1.35 0 1 0 2.7 0a1.35 1.35 0 1 0 -2.7 0M428.4 469.8a1.35 1.35 0 1 0 2.7 0a1.35 1.35 0 1 0 -2.7 0M428.9 469.7a1.35 1.35 0 1 0 2.7 0a1.35 1.35 0 1 0 -2.7 0M429.4 470.1a1.35 1.35 0 1 0 2.7 0a1.35 1.35 0 1 0 -2.7 0M429.9 470.3a1.35 1.35 0 1 0 2.7 0a1.35 1.35 0 1 0 -2.7 0M430.4 470.3a1.35 1.35 0 1 0 2.7 0a1.35 1.35 0 1 0 -2.7 0M430.9 470.5a1.35 1.35 0 1 0 2.7 0a1.35 1.35 0 1 0 -2.7 0M431.3 470.7a1.35 1.35 0 1 0 2.7 0a1.35 1.35 0 1 0 -2.7 0M431.8 470.9a1.35 1.35 0 1 0 2.7 0a1.35 1.35 0 1 0 -2.7 0M432.3 471.1a1.35 1.35 0 1 0 2.7 0a1.35 1.35 0 1 0 -2.7 0M432.8 471.2a1.35 1.35 0 1 0 2.7 0a1.35 1.35 0 1 0 -2.7 0M433.2 471.4a1.35 1.35 0 1 0 2.7 0a1.35 1.35 0 1 0 -2.7 0M433.7 471.6a1.35 1.35 0 1 0 2.7 0a1.35 1.35 0 1 0 -2.7 0M434.2 471.9a1.35 1.35 0 1 0 2.7 0a1.35 1.35 0 1 0 -2.7 0M434.6 472.0a1.35 1.35 0 1 0 2.7 0a1.35 1.35 0 1 0 -2.7 0M435.1 472.1a1.35 1.35 0 1 0 2.7 0a1.35 1.35 0 1 0 -2.7 0M435.6 472.3a1.35 1.35 0 1 0 2.7 0a1.35 1.35 0 1 0 -2.7 0M436.1 472.5a1.35 1.35 0 1 0 2.7 0a1.35 1.35 0 1 0 -2.7 0M436.5 472.7a1.35 1.35 0 1 0 2.7 0a1.35 1.35 0 1 0 -2.7 0M437.0 472.9a1.35 1.35 0 1 0 2.7 0a1.35 1.35 0 1 0 -2.7 0M437.5 473.1a1.35 1.35 0 1 0 2.7 0a1.35 1.35 0 1 0 -2.7 0M437.9 473.3a1.35 1.35 0 1 0 2.7 0a1.35 1.35 0 1 0 -2.7 0M438.4 473.4a1.35 1.35 0 1 0 2.7 0a1.35 1.35 0 1 0 -2.7 0M438.8 473.6a1.35 1.35 0 1 0 2.7 0a1.35 1.35 0 1 0 -2.7 0M439.3 473.8a1.35 1.35 0 1 0 2.7 0a1.35 1.35 0 1 0 -2.7 0M439.8 474.0a1.35 1.35 0 1 0 2.7 0a1.35 1.35 0 1 0 -2.7 0M440.2 474.1a1.35 1.35 0 1 0 2.7 0a1.35 1.35 0 1 0 -2.7 0M440.7 474.3a1.35 1.35 0 1 0 2.7 0a1.35 1.35 0 1 0 -2.7 0M441.2 474.5a1.35 1.35 0 1 0 2.7 0a1.35 1.35 0 1 0 -2.7 0M441.6 474.7a1.35 1.35 0 1 0 2.7 0a1.35 1.35 0 1 0 -2.7 0M442.1 474.9a1.35 1.35 0 1 0 2.7 0a1.35 1.35 0 1 0 -2.7 0M442.6 475.1a1.35 1.35 0 1 0 2.7 0a1.35 1.35 0 1 0 -2.7 0M443.0 475.3a1.35 1.35 0 1 0 2.7 0a1.35 1.35 0 1 0 -2.7 0M443.5 475.5a1.35 1.35 0 1 0 2.7 0a1.35 1.35 0 1 0 -2.7 0M444.0 475.6a1.35 1.35 0 1 0 2.7 0a1.35 1.35 0 1 0 -2.7 0M444.4 475.8a1.35 1.35 0 1 0 2.7 0a1.35 1.35 0 1 0 -2.7 0M444.9 476.0a1.35 1.35 0 1 0 2.7 0a1.35 1.35 0 1 0 -2.7 0M445.4 476.2a1.35 1.35 0 1 0 2.7 0a1.35 1.35 0 1 0 -2.7 0M445.8 476.4a1.35 1.35 0 1 0 2.7 0a1.35 1.35 0 1 0 -2.7 0M446.3 476.6a1.35 1.35 0 1 0 2.7 0a1.35 1.35 0 1 0 -2.7 0M446.7 476.8a1.35 1.35 0 1 0 2.7 0a1.35 1.35 0 1 0 -2.7 0M447.2 477.0a1.35 1.35 0 1 0 2.7 0a1.35 1.35 0 1 0 -2.7 0M447.6 477.2a1.35 1.35 0 1 0 2.7 0a1.35 1.35 0 1 0 -2.7 0M448.1 477.4a1.35 1.35 0 1 0 2.7 0a1.35 1.35 0 1 0 -2.7 0M448.6 477.6a1.35 1.35 0 1 0 2.7 0a1.35 1.35 0 1 0 -2.7 0M449.0 477.8a1.35 1.35 0 1 0 2.7 0a1.35 1.35 0 1 0 -2.7 0M449.5 478.0a1.35 1.35 0 1 0 2.7 0a1.35 1.35 0 1 0 -2.7 0M449.9 478.2a1.35 1.35 0 1 0 2.7 0a1.35 1.35 0 1 0 -2.7 0M450.4 478.4a1.35 1.35 0 1 0 2.7 0a1.35 1.35 0 1 0 -2.7 0M450.9 478.6a1.35 1.35 0 1 0 2.7 0a1.35 1.35 0 1 0 -2.7 0M451.3 478.8a1.35 1.35 0 1 0 2.7 0a1.35 1.35 0 1 0 -2.7 0M451.8 479.1a1.35 1.35 0 1 0 2.7 0a1.35 1.35 0 1 0 -2.7 0M452.3 479.3a1.35 1.35 0 1 0 2.7 0a1.35 1.35 0 1 0 -2.7 0M452.7 479.5a1.35 1.35 0 1 0 2.7 0a1.35 1.35 0 1 0 -2.7 0M453.2 479.7a1.35 1.35 0 1 0 2.7 0a1.35 1.35 0 1 0 -2.7 0M453.6 479.9a1.35 1.35 0 1 0 2.7 0a1.35 1.35 0 1 0 -2.7 0M454.1 480.2a1.35 1.35 0 1 0 2.7 0a1.35 1.35 0 1 0 -2.7 0M454.5 480.4a1.35 1.35 0 1 0 2.7 0a1.35 1.35 0 1 0 -2.7 0M455.0 480.6a1.35 1.35 0 1 0 2.7 0a1.35 1.35 0 1 0 -2.7 0M455.5 480.8a1.35 1.35 0 1 0 2.7 0a1.35 1.35 0 1 0 -2.7 0M455.9 481.1a1.35 1.35 0 1 0 2.7 0a1.35 1.35 0 1 0 -2.7 0M456.4 481.3a1.35 1.35 0 1 0 2.7 0a1.35 1.35 0 1 0 -2.7 0M456.8 481.6a1.35 1.35 0 1 0 2.7 0a1.35 1.35 0 1 0 -2.7 0M457.3 481.8a1.35 1.35 0 1 0 2.7 0a1.35 1.35 0 1 0 -2.7 0M457.7 482.0a1.35 1.35 0 1 0 2.7 0a1.35 1.35 0 1 0 -2.7 0M458.2 482.3a1.35 1.35 0 1 0 2.7 0a1.35 1.35 0 1 0 -2.7 0M458.7 482.5a1.35 1.35 0 1 0 2.7 0a1.35 1.35 0 1 0 -2.7 0M459.1 482.8a1.35 1.35 0 1 0 2.7 0a1.35 1.35 0 1 0 -2.7 0M459.6 483.1a1.35 1.35 0 1 0 2.7 0a1.35 1.35 0 1 0 -2.7 0M460.0 483.3a1.35 1.35 0 1 0 2.7 0a1.35 1.35 0 1 0 -2.7 0M460.5 483.6a1.35 1.35 0 1 0 2.7 0a1.35 1.35 0 1 0 -2.7 0M460.9 483.8a1.35 1.35 0 1 0 2.7 0a1.35 1.35 0 1 0 -2.7 0M461.4 484.1a1.35 1.35 0 1 0 2.7 0a1.35 1.35 0 1 0 -2.7 0M461.8 484.4a1.35 1.35 0 1 0 2.7 0a1.35 1.35 0 1 0 -2.7 0M462.3 484.6a1.35 1.35 0 1 0 2.7 0a1.35 1.35 0 1 0 -2.7 0M462.7 484.9a1.35 1.35 0 1 0 2.7 0a1.35 1.35 0 1 0 -2.7 0M463.2 485.2a1.35 1.35 0 1 0 2.7 0a1.35 1.35 0 1 0 -2.7 0M463.7 485.5a1.35 1.35 0 1 0 2.7 0a1.35 1.35 0 1 0 -2.7 0M464.1 485.8a1.35 1.35 0 1 0 2.7 0a1.35 1.35 0 1 0 -2.7 0M464.6 486.1a1.35 1.35 0 1 0 2.7 0a1.35 1.35 0 1 0 -2.7 0M465.1 486.3a1.35 1.35 0 1 0 2.7 0a1.35 1.35 0 1 0 -2.7 0M465.5 486.6a1.35 1.35 0 1 0 2.7 0a1.35 1.35 0 1 0 -2.7 0M466.0 486.9a1.35 1.35 0 1 0 2.7 0a1.35 1.35 0 1 0 -2.7 0M466.4 487.2a1.35 1.35 0 1 0 2.7 0a1.35 1.35 0 1 0 -2.7 0M466.9 487.5a1.35 1.35 0 1 0 2.7 0a1.35 1.35 0 1 0 -2.7 0M467.3 487.8a1.35 1.35 0 1 0 2.7 0a1.35 1.35 0 1 0 -2.7 0M467.8 488.1a1.35 1.35 0 1 0 2.7 0a1.35 1.35 0 1 0 -2.7 0M468.2 488.4a1.35 1.35 0 1 0 2.7 0a1.35 1.35 0 1 0 -2.7 0M468.7 488.7a1.35 1.35 0 1 0 2.7 0a1.35 1.35 0 1 0 -2.7 0M469.1 489.0a1.35 1.35 0 1 0 2.7 0a1.35 1.35 0 1 0 -2.7 0M469.6 489.3a1.35 1.35 0 1 0 2.7 0a1.35 1.35 0 1 0 -2.7 0M470.1 489.7a1.35 1.35 0 1 0 2.7 0a1.35 1.35 0 1 0 -2.7 0M470.5 490.0a1.35 1.35 0 1 0 2.7 0a1.35 1.35 0 1 0 -2.7 0M471.0 490.3a1.35 1.35 0 1 0 2.7 0a1.35 1.35 0 1 0 -2.7 0M471.4 490.6a1.35 1.35 0 1 0 2.7 0a1.35 1.35 0 1 0 -2.7 0M471.9 490.9a1.35 1.35 0 1 0 2.7 0a1.35 1.35 0 1 0 -2.7 0M472.3 491.3a1.35 1.35 0 1 0 2.7 0a1.35 1.35 0 1 0 -2.7 0M472.8 491.6a1.35 1.35 0 1 0 2.7 0a1.35 1.35 0 1 0 -2.7 0M473.2 491.9a1.35 1.35 0 1 0 2.7 0a1.35 1.35 0 1 0 -2.7 0M473.7 492.3a1.35 1.35 0 1 0 2.7 0a1.35 1.35 0 1 0 -2.7 0M474.1 492.6a1.35 1.35 0 1 0 2.7 0a1.35 1.35 0 1 0 -2.7 0M474.6 492.9a1.35 1.35 0 1 0 2.7 0a1.35 1.35 0 1 0 -2.7 0M475.0 493.3a1.35 1.35 0 1 0 2.7 0a1.35 1.35 0 1 0 -2.7 0M475.5 493.6a1.35 1.35 0 1 0 2.7 0a1.35 1.35 0 1 0 -2.7 0M475.9 494.0a1.35 1.35 0 1 0 2.7 0a1.35 1.35 0 1 0 -2.7 0M476.4 494.3a1.35 1.35 0 1 0 2.7 0a1.35 1.35 0 1 0 -2.7 0M476.9 494.7a1.35 1.35 0 1 0 2.7 0a1.35 1.35 0 1 0 -2.7 0M477.3 495.0a1.35 1.35 0 1 0 2.7 0a1.35 1.35 0 1 0 -2.7 0M477.8 495.4a1.35 1.35 0 1 0 2.7 0a1.35 1.35 0 1 0 -2.7 0M478.2 495.8a1.35 1.35 0 1 0 2.7 0a1.35 1.35 0 1 0 -2.7 0M478.7 496.1a1.35 1.35 0 1 0 2.7 0a1.35 1.35 0 1 0 -2.7 0M479.1 496.5a1.35 1.35 0 1 0 2.7 0a1.35 1.35 0 1 0 -2.7 0M479.6 496.8a1.35 1.35 0 1 0 2.7 0a1.35 1.35 0 1 0 -2.7 0M480.0 497.2a1.35 1.35 0 1 0 2.7 0a1.35 1.35 0 1 0 -2.7 0M480.5 497.6a1.35 1.35 0 1 0 2.7 0a1.35 1.35 0 1 0 -2.7 0M480.9 498.0a1.35 1.35 0 1 0 2.7 0a1.35 1.35 0 1 0 -2.7 0M481.4 498.3a1.35 1.35 0 1 0 2.7 0a1.35 1.35 0 1 0 -2.7 0M481.8 498.7a1.35 1.35 0 1 0 2.7 0a1.35 1.35 0 1 0 -2.7 0M482.3 499.1a1.35 1.35 0 1 0 2.7 0a1.35 1.35 0 1 0 -2.7 0M482.7 499.5a1.35 1.35 0 1 0 2.7 0a1.35 1.35 0 1 0 -2.7 0M483.2 499.9a1.35 1.35 0 1 0 2.7 0a1.35 1.35 0 1 0 -2.7 0M483.7 500.2a1.35 1.35 0 1 0 2.7 0a1.35 1.35 0 1 0 -2.7 0M484.1 500.6a1.35 1.35 0 1 0 2.7 0a1.35 1.35 0 1 0 -2.7 0M484.6 501.0a1.35 1.35 0 1 0 2.7 0a1.35 1.35 0 1 0 -2.7 0M485.0 501.4a1.35 1.35 0 1 0 2.7 0a1.35 1.35 0 1 0 -2.7 0M485.5 501.8a1.35 1.35 0 1 0 2.7 0a1.35 1.35 0 1 0 -2.7 0M485.9 502.2a1.35 1.35 0 1 0 2.7 0a1.35 1.35 0 1 0 -2.7 0M486.4 502.6a1.35 1.35 0 1 0 2.7 0a1.35 1.35 0 1 0 -2.7 0M486.8 503.0a1.35 1.35 0 1 0 2.7 0a1.35 1.35 0 1 0 -2.7 0M487.3 503.4a1.35 1.35 0 1 0 2.7 0a1.35 1.35 0 1 0 -2.7 0M487.7 503.8a1.35 1.35 0 1 0 2.7 0a1.35 1.35 0 1 0 -2.7 0M488.2 504.1a1.35 1.35 0 1 0 2.7 0a1.35 1.35 0 1 0 -2.7 0M488.6 504.5a1.35 1.35 0 1 0 2.7 0a1.35 1.35 0 1 0 -2.7 0M489.1 504.9a1.35 1.35 0 1 0 2.7 0a1.35 1.35 0 1 0 -2.7 0M489.5 505.3a1.35 1.35 0 1 0 2.7 0a1.35 1.35 0 1 0 -2.7 0M490.0 505.7a1.35 1.35 0 1 0 2.7 0a1.35 1.35 0 1 0 -2.7 0M490.4 506.1a1.35 1.35 0 1 0 2.7 0a1.35 1.35 0 1 0 -2.7 0M490.9 506.5a1.35 1.35 0 1 0 2.7 0a1.35 1.35 0 1 0 -2.7 0M491.3 506.9a1.35 1.35 0 1 0 2.7 0a1.35 1.35 0 1 0 -2.7 0M491.8 507.3a1.35 1.35 0 1 0 2.7 0a1.35 1.35 0 1 0 -2.7 0M492.2 507.7a1.35 1.35 0 1 0 2.7 0a1.35 1.35 0 1 0 -2.7 0M492.7 508.1a1.35 1.35 0 1 0 2.7 0a1.35 1.35 0 1 0 -2.7 0M493.1 508.5a1.35 1.35 0 1 0 2.7 0a1.35 1.35 0 1 0 -2.7 0M493.6 508.9a1.35 1.35 0 1 0 2.7 0a1.35 1.35 0 1 0 -2.7 0M494.0 509.2a1.35 1.35 0 1 0 2.7 0a1.35 1.35 0 1 0 -2.7 0M494.5 509.6a1.35 1.35 0 1 0 2.7 0a1.35 1.35 0 1 0 -2.7 0M495.0 510.0a1.35 1.35 0 1 0 2.7 0a1.35 1.35 0 1 0 -2.7 0M495.4 510.4a1.35 1.35 0 1 0 2.7 0a1.35 1.35 0 1 0 -2.7 0M495.9 510.8a1.35 1.35 0 1 0 2.7 0a1.35 1.35 0 1 0 -2.7 0M496.3 511.2a1.35 1.35 0 1 0 2.7 0a1.35 1.35 0 1 0 -2.7 0M496.8 511.6a1.35 1.35 0 1 0 2.7 0a1.35 1.35 0 1 0 -2.7 0M497.2 511.9a1.35 1.35 0 1 0 2.7 0a1.35 1.35 0 1 0 -2.7 0M497.7 512.3a1.35 1.35 0 1 0 2.7 0a1.35 1.35 0 1 0 -2.7 0M498.1 512.7a1.35 1.35 0 1 0 2.7 0a1.35 1.35 0 1 0 -2.7 0M498.6 513.0a1.35 1.35 0 1 0 2.7 0a1.35 1.35 0 1 0 -2.7 0M499.0 513.4a1.35 1.35 0 1 0 2.7 0a1.35 1.35 0 1 0 -2.7 0M499.5 513.8a1.35 1.35 0 1 0 2.7 0a1.35 1.35 0 1 0 -2.7 0M499.9 514.1a1.35 1.35 0 1 0 2.7 0a1.35 1.35 0 1 0 -2.7 0M500.4 514.5a1.35 1.35 0 1 0 2.7 0a1.35 1.35 0 1 0 -2.7 0M500.8 514.9a1.35 1.35 0 1 0 2.7 0a1.35 1.35 0 1 0 -2.7 0M501.3 515.2a1.35 1.35 0 1 0 2.7 0a1.35 1.35 0 1 0 -2.7 0M501.7 515.6a1.35 1.35 0 1 0 2.7 0a1.35 1.35 0 1 0 -2.7 0M502.2 515.9a1.35 1.35 0 1 0 2.7 0a1.35 1.35 0 1 0 -2.7 0M502.6 516.3a1.35 1.35 0 1 0 2.7 0a1.35 1.35 0 1 0 -2.7 0M503.1 516.6a1.35 1.35 0 1 0 2.7 0a1.35 1.35 0 1 0 -2.7 0M503.5 516.9a1.35 1.35 0 1 0 2.7 0a1.35 1.35 0 1 0 -2.7 0M504.0 517.3a1.35 1.35 0 1 0 2.7 0a1.35 1.35 0 1 0 -2.7 0M504.4 517.6a1.35 1.35 0 1 0 2.7 0a1.35 1.35 0 1 0 -2.7 0M504.9 517.9a1.35 1.35 0 1 0 2.7 0a1.35 1.35 0 1 0 -2.7 0M505.3 518.3a1.35 1.35 0 1 0 2.7 0a1.35 1.35 0 1 0 -2.7 0M505.8 518.6a1.35 1.35 0 1 0 2.7 0a1.35 1.35 0 1 0 -2.7 0M506.2 518.9a1.35 1.35 0 1 0 2.7 0a1.35 1.35 0 1 0 -2.7 0M506.7 519.2a1.35 1.35 0 1 0 2.7 0a1.35 1.35 0 1 0 -2.7 0M507.1 519.5a1.35 1.35 0 1 0 2.7 0a1.35 1.35 0 1 0 -2.7 0M507.6 519.8a1.35 1.35 0 1 0 2.7 0a1.35 1.35 0 1 0 -2.7 0M508.0 520.1a1.35 1.35 0 1 0 2.7 0a1.35 1.35 0 1 0 -2.7 0M508.5 520.4a1.35 1.35 0 1 0 2.7 0a1.35 1.35 0 1 0 -2.7 0M508.9 520.7a1.35 1.35 0 1 0 2.7 0a1.35 1.35 0 1 0 -2.7 0M509.4 521.0a1.35 1.35 0 1 0 2.7 0a1.35 1.35 0 1 0 -2.7 0M509.8 521.2a1.35 1.35 0 1 0 2.7 0a1.35 1.35 0 1 0 -2.7 0M510.3 521.5a1.35 1.35 0 1 0 2.7 0a1.35 1.35 0 1 0 -2.7 0M510.7 521.8a1.35 1.35 0 1 0 2.7 0a1.35 1.35 0 1 0 -2.7 0M511.2 522.0a1.35 1.35 0 1 0 2.7 0a1.35 1.35 0 1 0 -2.7 0M511.6 522.3a1.35 1.35 0 1 0 2.7 0a1.35 1.35 0 1 0 -2.7 0M512.1 522.5a1.35 1.35 0 1 0 2.7 0a1.35 1.35 0 1 0 -2.7 0M512.5 522.8a1.35 1.35 0 1 0 2.7 0a1.35 1.35 0 1 0 -2.7 0M513.0 523.0a1.35 1.35 0 1 0 2.7 0a1.35 1.35 0 1 0 -2.7 0M513.4 523.2a1.35 1.35 0 1 0 2.7 0a1.35 1.35 0 1 0 -2.7 0M513.9 523.5a1.35 1.35 0 1 0 2.7 0a1.35 1.35 0 1 0 -2.7 0M514.3 523.7a1.35 1.35 0 1 0 2.7 0a1.35 1.35 0 1 0 -2.7 0M514.8 523.9a1.35 1.35 0 1 0 2.7 0a1.35 1.35 0 1 0 -2.7 0M515.2 524.1a1.35 1.35 0 1 0 2.7 0a1.35 1.35 0 1 0 -2.7 0M515.7 524.3a1.35 1.35 0 1 0 2.7 0a1.35 1.35 0 1 0 -2.7 0M516.1 524.5a1.35 1.35 0 1 0 2.7 0a1.35 1.35 0 1 0 -2.7 0M516.6 524.7a1.35 1.35 0 1 0 2.7 0a1.35 1.35 0 1 0 -2.7 0M517.0 524.8a1.35 1.35 0 1 0 2.7 0a1.35 1.35 0 1 0 -2.7 0M517.5 525.0a1.35 1.35 0 1 0 2.7 0a1.35 1.35 0 1 0 -2.7 0M517.9 525.2a1.35 1.35 0 1 0 2.7 0a1.35 1.35 0 1 0 -2.7 0M518.4 525.3a1.35 1.35 0 1 0 2.7 0a1.35 1.35 0 1 0 -2.7 0M518.8 525.5a1.35 1.35 0 1 0 2.7 0a1.35 1.35 0 1 0 -2.7 0" stroke="#00f" stroke-width="0.55" fill="none"/>
<path d="M432.8 474.3L434.3 474.7L435.8 475.1L437.3 475.5L438.8 475.9L440.3 476.4L441.8 476.8L443.3 477.3L444.8 477.8L446.3 478.4L447.8 478.9L449.3 479.5L450.8 480.1L452.3 480.8L453.8 481.4L455.3 482.1L456.8 482.8L458.3 483.6L459.8 484.4L461.3 485.2L462.8 486.0L464.3 486.9L465.8 487.7L467.3 488.7L468.8 489.6L470.3 490.5L471.8 491.5L473.3 492.5L474.8 493.5L476.3 494.6L477.8 495.6L479.3 496.7L480.8 497.8L482.3 498.9L483.8 500.1L485.3 501.2L486.8 502.4L488.3 503.5L489.8 504.7L491.3 505.9L492.8 507.2L494.3 508.4L495.8 509.6L497.3 510.9L498.8 512.1L500.3 513.4L501.8 514.6L503.3 515.8L504.8 517.0L506.3 518.2L507.8 519.3L509.3 520.5L510.8 521.5L512.3 522.6L513.8 523.6L515.3 524.5L516.8 525.4L518.3 526.3L519.8 527.0L521.3 527.7" stroke="#808080" stroke-width="3.0" fill="none" stroke-linejoin="round"/>
<path d="M303.9 471.5h2.35v2.35h-2.35zM318.2 471.0h2.35v2.35h-2.35zM326.5 468.8h2.35v2.35h-2.35zM332.4 470.5h2.35v2.35h-2.35zM337.0 468.4h2.35v2.35h-2.35zM340.7 470.5h2.35v2.35h-2.35zM346.6 468.0h2.35v2.35h-2.35zM349.0 468.0h2.35v2.35h-2.35zM351.2 467.6h2.35v2.35h-2.35zM353.2 466.7h2.35v2.35h-2.35zM354.9 467.8h2.35v2.35h-2.35zM356.6 468.9h2.35v2.35h-2.35zM358.1 469.7h2.35v2.35h-2.35zM360.8 469.1h2.35v2.35h-2.35zM362.1 466.7h2.35v2.35h-2.35zM363.3 466.1h2.35v2.35h-2.35zM364.4 468.3h2.35v2.35h-2.35zM365.4 468.6h2.35v2.35h-2.35zM366.4 469.7h2.35v2.35h-2.35zM367.4 468.2h2.35v2.35h-2.35zM369.2 468.3h2.35v2.35h-2.35zM370.0 468.7h2.35v2.35h-2.35zM370.8 468.9h2.35v2.35h-2.35zM371.6 468.1h2.35v2.35h-2.35zM373.1 468.5h2.35v2.35h-2.35zM373.7 468.1h2.35v2.35h-2.35zM375.1 468.6h2.35v2.35h-2.35zM375.7 469.0h2.35v2.35h-2.35zM376.3 469.3h2.35v2.35h-2.35zM376.9 469.2h2.35v2.35h-2.35zM377.5 467.2h2.35v2.35h-2.35zM378.1 468.5h2.35v2.35h-2.35zM378.6 468.9h2.35v2.35h-2.35zM379.7 468.9h2.35v2.35h-2.35zM380.2 469.3h2.35v2.35h-2.35zM380.7 467.6h2.35v2.35h-2.35zM381.1 468.9h2.35v2.35h-2.35zM381.6 468.7h2.35v2.35h-2.35zM382.1 468.7h2.35v2.35h-2.35zM382.5 468.6h2.35v2.35h-2.35zM383.4 468.9h2.35v2.35h-2.35zM384.2 469.2h2.35v2.35h-2.35zM385.0 468.7h2.35v2.35h-2.35zM385.8 468.9h2.35v2.35h-2.35zM386.6 468.7h2.35v2.35h-2.35zM387.3 469.1h2.35v2.35h-2.35zM388.3 469.2h2.35v2.35h-2.35zM389.3 469.2h2.35v2.35h-2.35zM389.9 468.9h2.35v2.35h-2.35zM390.5 468.6h2.35v2.35h-2.35zM391.1 468.5h2.35v2.35h-2.35zM391.7 468.9h2.35v2.35h-2.35zM392.3 469.2h2.35v2.35h-2.35zM392.8 469.3h2.35v2.35h-2.35zM393.4 469.3h2.35v2.35h-2.35zM393.9 468.7h2.35v2.35h-2.35zM394.4 468.9h2.35v2.35h-2.35zM394.9 468.5h2.35v2.35h-2.35zM395.4 469.3h2.35v2.35h-2.35zM395.8 468.7h2.35v2.35h-2.35zM396.3 469.3h2.35v2.35h-2.35zM397.0 469.4h2.35v2.35h-2.35zM397.6 469.3h2.35v2.35h-2.35zM398.3 468.4h2.35v2.35h-2.35zM398.9 468.7h2.35v2.35h-2.35zM399.5 469.3h2.35v2.35h-2.35zM400.0 469.5h2.35v2.35h-2.35zM401.0 469.0h2.35v2.35h-2.35zM401.5 469.4h2.35v2.35h-2.35zM402.2 469.5h2.35v2.35h-2.35zM402.7 468.9h2.35v2.35h-2.35zM403.2 469.0h2.35v2.35h-2.35zM403.7 469.3h2.35v2.35h-2.35zM404.2 469.6h2.35v2.35h-2.35zM404.8 469.0h2.35v2.35h-2.35zM405.4 469.3h2.35v2.35h-2.35zM406.0 469.6h2.35v2.35h-2.35zM406.5 469.1h2.35v2.35h-2.35zM407.1 469.6h2.35v2.35h-2.35zM407.7 469.5h2.35v2.35h-2.35zM408.2 470.0h2.35v2.35h-2.35zM408.7 469.5h2.35v2.35h-2.35zM409.2 469.5h2.35v2.35h-2.35zM409.7 469.4h2.35v2.35h-2.35zM410.2 469.9h2.35v2.35h-2.35zM410.6 470.0h2.35v2.35h-2.35zM411.2 469.9h2.35v2.35h-2.35zM411.9 470.0h2.35v2.35h-2.35zM412.4 470.2h2.35v2.35h-2.35zM412.9 470.4h2.35v2.35h-2.35zM413.5 469.9h2.35v2.35h-2.35zM414.0 470.2h2.35v2.35h-2.35zM414.5 470.5h2.35v2.35h-2.35zM415.0 470.2h2.35v2.35h-2.35zM415.5 470.4h2.35v2.35h-2.35zM416.0 470.3h2.35v2.35h-2.35zM416.5 470.5h2.35v2.35h-2.35zM417.1 470.7h2.35v2.35h-2.35zM417.6 470.7h2.35v2.35h-2.35zM418.1 470.5h2.35v2.35h-2.35zM418.5 470.7h2.35v2.35h-2.35zM419.0 470.5h2.35v2.35h-2.35zM419.6 471.2h2.35v2.35h-2.35zM420.2 471.2h2.35v2.35h-2.35zM420.7 470.8h2.35v2.35h-2.35zM421.3 471.3h2.35v2.35h-2.35zM421.8 471.1h2.35v2.35h-2.35zM422.3 471.3h2.35v2.35h-2.35zM422.9 471.4h2.35v2.35h-2.35zM423.3 471.4h2.35v2.35h-2.35zM423.8 471.5h2.35v2.35h-2.35zM424.3 472.0h2.35v2.35h-2.35zM424.8 472.0h2.35v2.35h-2.35zM425.3 471.6h2.35v2.35h-2.35zM425.8 471.8h2.35v2.35h-2.35zM426.2 472.3h2.35v2.35h-2.35zM426.7 472.4h2.35v2.35h-2.35zM427.2 471.9h2.35v2.35h-2.35zM427.6 472.2h2.35v2.35h-2.35zM428.1 472.2h2.35v2.35h-2.35zM428.6 472.4h2.35v2.35h-2.35zM429.1 472.8h2.35v2.35h-2.35zM429.6 472.6h2.35v2.35h-2.35zM430.1 472.7h2.35v2.35h-2.35zM430.6 473.2h2.35v2.35h-2.35zM431.0 472.9h2.35v2.35h-2.35zM431.5 473.2h2.35v2.35h-2.35zM432.0 473.4h2.35v2.35h-2.35zM432.5 473.1h2.35v2.35h-2.35zM432.9 473.4h2.35v2.35h-2.35zM433.4 473.7h2.35v2.35h-2.35zM433.9 473.7h2.35v2.35h-2.35zM434.3 474.0h2.35v2.35h-2.35zM434.8 473.9h2.35v2.35h-2.35zM435.3 474.1h2.35v2.35h-2.35zM435.8 474.0h2.35v2.35h-2.35zM436.2 474.2h2.35v2.35h-2.35zM436.7 474.2h2.35v2.35h-2.35zM437.2 474.5h2.35v2.35h-2.35zM437.6 474.8h2.35v2.35h-2.35zM438.1 475.1h2.35v2.35h-2.35zM438.6 474.8h2.35v2.35h-2.35zM439.0 475.3h2.35v2.35h-2.35zM439.5 475.3h2.35v2.35h-2.35zM439.9 475.4h2.35v2.35h-2.35zM440.4 475.5h2.35v2.35h-2.35zM440.9 475.8h2.35v2.35h-2.35zM441.4 475.8h2.35v2.35h-2.35zM441.8 476.2h2.35v2.35h-2.35zM442.3 476.1h2.35v2.35h-2.35zM442.7 476.3h2.35v2.35h-2.35zM443.2 476.7h2.35v2.35h-2.35zM443.7 476.5h2.35v2.35h-2.35zM444.1 477.0h2.35v2.35h-2.35zM444.6 477.1h2.35v2.35h-2.35zM445.1 477.1h2.35v2.35h-2.35zM445.5 477.2h2.35v2.35h-2.35zM446.0 477.3h2.35v2.35h-2.35zM446.4 477.6h2.35v2.35h-2.35zM446.9 477.8h2.35v2.35h-2.35zM447.4 478.2h2.35v2.35h-2.35zM447.8 478.4h2.35v2.35h-2.35zM448.3 478.5h2.35v2.35h-2.35zM448.7 478.5h2.35v2.35h-2.35zM449.2 478.9h2.35v2.35h-2.35zM449.7 478.9h2.35v2.35h-2.35zM450.1 479.1h2.35v2.35h-2.35zM450.6 479.5h2.35v2.35h-2.35zM451.1 479.6h2.35v2.35h-2.35zM451.5 479.8h2.35v2.35h-2.35zM452.0 480.1h2.35v2.35h-2.35zM452.4 480.3h2.35v2.35h-2.35zM452.9 480.3h2.35v2.35h-2.35zM453.3 480.7h2.35v2.35h-2.35zM453.8 480.8h2.35v2.35h-2.35zM454.3 480.9h2.35v2.35h-2.35zM454.7 481.3h2.35v2.35h-2.35zM455.2 481.4h2.35v2.35h-2.35zM455.6 481.7h2.35v2.35h-2.35zM456.1 481.9h2.35v2.35h-2.35zM456.5 482.2h2.35v2.35h-2.35zM457.0 482.3h2.35v2.35h-2.35zM457.5 482.5h2.35v2.35h-2.35zM457.9 482.8h2.35v2.35h-2.35zM458.4 483.1h2.35v2.35h-2.35zM458.8 483.4h2.35v2.35h-2.35zM459.3 483.5h2.35v2.35h-2.35zM459.7 483.9h2.35v2.35h-2.35zM460.2 484.0h2.35v2.35h-2.35zM460.7 484.3h2.35v2.35h-2.35zM461.1 484.6h2.35v2.35h-2.35zM461.6 484.8h2.35v2.35h-2.35zM462.0 485.0h2.35v2.35h-2.35zM462.5 485.2h2.35v2.35h-2.35zM462.9 485.6h2.35v2.35h-2.35zM463.4 485.9h2.35v2.35h-2.35zM463.9 486.2h2.35v2.35h-2.35zM464.3 486.4h2.35v2.35h-2.35zM464.8 486.6h2.35v2.35h-2.35zM465.2 486.9h2.35v2.35h-2.35zM465.7 487.3h2.35v2.35h-2.35zM466.1 487.5h2.35v2.35h-2.35zM466.6 487.8h2.35v2.35h-2.35zM467.0 488.0h2.35v2.35h-2.35zM467.5 488.3h2.35v2.35h-2.35zM468.0 488.6h2.35v2.35h-2.35zM468.4 488.9h2.35v2.35h-2.35zM468.9 489.2h2.35v2.35h-2.35zM469.3 489.5h2.35v2.35h-2.35zM469.8 489.8h2.35v2.35h-2.35zM470.2 490.1h2.35v2.35h-2.35zM470.7 490.4h2.35v2.35h-2.35zM471.1 490.7h2.35v2.35h-2.35zM471.6 491.0h2.35v2.35h-2.35zM472.0 491.2h2.35v2.35h-2.35zM472.5 491.6h2.35v2.35h-2.35zM472.9 491.8h2.35v2.35h-2.35zM473.4 492.2h2.35v2.35h-2.35zM473.9 492.5h2.35v2.35h-2.35zM474.3 492.9h2.35v2.35h-2.35zM474.8 493.2h2.35v2.35h-2.35zM475.2 493.4h2.35v2.35h-2.35zM475.7 493.8h2.35v2.35h-2.35zM476.1 494.1h2.35v2.35h-2.35zM476.6 494.4h2.35v2.35h-2.35zM477.0 494.8h2.35v2.35h-2.35zM477.5 495.1h2.35v2.35h-2.35zM477.9 495.4h2.35v2.35h-2.35zM478.4 495.7h2.35v2.35h-2.35zM478.8 496.1h2.35v2.35h-2.35zM479.3 496.4h2.35v2.35h-2.35zM479.7 496.7h2.35v2.35h-2.35zM480.2 497.1h2.35v2.35h-2.35zM480.7 497.4h2.35v2.35h-2.35zM481.1 497.7h2.35v2.35h-2.35zM481.6 498.1h2.35v2.35h-2.35zM482.0 498.4h2.35v2.35h-2.35zM482.5 498.8h2.35v2.35h-2.35zM482.9 499.1h2.35v2.35h-2.35zM483.4 499.5h2.35v2.35h-2.35zM483.8 499.8h2.35v2.35h-2.35zM484.3 500.2h2.35v2.35h-2.35zM484.7 500.5h2.35v2.35h-2.35zM485.2 500.9h2.35v2.35h-2.35zM485.6 501.2h2.35v2.35h-2.35zM486.1 501.6h2.35v2.35h-2.35zM486.5 501.9h2.35v2.35h-2.35zM487.0 502.3h2.35v2.35h-2.35zM487.4 502.6h2.35v2.35h-2.35zM487.9 503.0h2.35v2.35h-2.35zM488.3 503.3h2.35v2.35h-2.35zM488.8 503.7h2.35v2.35h-2.35zM489.3 504.1h2.35v2.35h-2.35zM489.7 504.4h2.35v2.35h-2.35zM490.2 504.8h2.35v2.35h-2.35zM490.6 505.2h2.35v2.35h-2.35zM491.1 505.5h2.35v2.35h-2.35zM491.5 505.9h2.35v2.35h-2.35zM492.0 506.3h2.35v2.35h-2.35zM492.4 506.6h2.35v2.35h-2.35zM492.9 507.0h2.35v2.35h-2.35zM493.3 507.4h2.35v2.35h-2.35zM493.8 507.7h2.35v2.35h-2.35zM494.2 508.1h2.35v2.35h-2.35zM494.7 508.5h2.35v2.35h-2.35zM495.1 508.9h2.35v2.35h-2.35zM495.6 509.2h2.35v2.35h-2.35zM496.0 509.6h2.35v2.35h-2.35zM496.5 510.0h2.35v2.35h-2.35zM496.9 510.4h2.35v2.35h-2.35zM497.4 510.7h2.35v2.35h-2.35zM497.8 511.1h2.35v2.35h-2.35zM498.3 511.5h2.35v2.35h-2.35zM498.7 511.9h2.35v2.35h-2.35zM499.2 512.2h2.35v2.35h-2.35zM499.6 512.6h2.35v2.35h-2.35zM500.1 513.0h2.35v2.35h-2.35zM500.5 513.3h2.35v2.35h-2.35zM501.0 513.7h2.35v2.35h-2.35zM501.4 514.1h2.35v2.35h-2.35zM501.9 514.4h2.35v2.35h-2.35zM502.3 514.8h2.35v2.35h-2.35zM502.8 515.2h2.35v2.35h-2.35zM503.2 515.5h2.35v2.35h-2.35zM503.7 515.9h2.35v2.35h-2.35zM504.1 516.2h2.35v2.35h-2.35zM504.6 516.6h2.35v2.35h-2.35zM505.0 517.0h2.35v2.35h-2.35zM505.5 517.3h2.35v2.35h-2.35zM505.9 517.7h2.35v2.35h-2.35zM506.4 518.0h2.35v2.35h-2.35zM506.8 518.3h2.35v2.35h-2.35zM507.3 518.7h2.35v2.35h-2.35zM507.7 519.0h2.35v2.35h-2.35zM508.2 519.3h2.35v2.35h-2.35zM508.6 519.7h2.35v2.35h-2.35zM509.1 520.0h2.35v2.35h-2.35zM509.6 520.3h2.35v2.35h-2.35zM510.0 520.6h2.35v2.35h-2.35zM510.5 521.0h2.35v2.35h-2.35zM510.9 521.3h2.35v2.35h-2.35zM511.4 521.6h2.35v2.35h-2.35zM511.8 521.9h2.35v2.35h-2.35zM512.3 522.2h2.35v2.35h-2.35zM512.7 522.5h2.35v2.35h-2.35zM513.2 522.7h2.35v2.35h-2.35zM513.6 523.0h2.35v2.35h-2.35zM514.1 523.3h2.35v2.35h-2.35zM514.5 523.6h2.35v2.35h-2.35zM515.0 523.9h2.35v2.35h-2.35zM515.4 524.1h2.35v2.35h-2.35zM515.9 524.4h2.35v2.35h-2.35zM516.3 524.6h2.35v2.35h-2.35zM516.8 524.9h2.35v2.35h-2.35zM517.2 525.1h2.35v2.35h-2.35zM517.7 525.4h2.35v2.35h-2.35zM518.1 525.6h2.35v2.35h-2.35zM518.6 525.8h2.35v2.35h-2.35zM519.0 526.0h2.35v2.35h-2.35z" stroke="#8a8a8a" stroke-width="0.55" fill="none"/>
</g>
<g clip-path="url(#cB3)">
<path d="M172.0 629.0L173.5 630.2L175.0 631.5L176.5 632.7L178.0 634.0L179.5 635.2L181.0 636.4L182.5 637.5L184.0 638.7L185.5 639.8L187.0 640.9L188.5 642.0L190.0 643.0L191.5 644.1L193.0 645.1L194.5 646.0L196.0 647.0L197.5 647.9L199.0 648.8L200.5 649.7L202.0 650.6L203.5 651.4L205.0 652.2L206.5 653.0L208.0 653.8L209.5 654.6L211.0 655.3L212.5 656.0L214.0 656.7L215.5 657.4L217.0 658.1L218.5 658.8L220.0 659.4L221.5 660.0L223.0 660.7L224.5 661.3L226.0 661.9L227.5 662.5L229.0 663.0L230.5 663.6L232.0 664.1L233.5 664.7L235.0 665.2L236.5 665.7L238.0 666.3L239.5 666.8L241.0 667.3L242.5 667.8L244.0 668.3L245.5 668.8L247.0 669.3L248.5 669.8L250.0 670.2L251.5 670.7L253.0 671.2L254.5 671.7L256.0 672.2L257.5 672.6L259.0 673.1L260.5 673.6L262.0 674.1L263.5 674.6L265.0 675.1L266.5 675.6L268.0 676.1L269.5 676.6L271.0 677.1L272.5 677.6L274.0 678.1L275.5 678.7L277.0 679.2L278.5 679.7L280.0 680.3" stroke="#000" stroke-width="2.5" fill="none" stroke-linejoin="round"/>
<path d="M70.1 567.6h0M84.0 571.1h0M92.2 573.2h0M97.9 577.5h0M102.4 577.5h0M106.1 579.2h0M111.9 583.5h0M114.2 583.6h0M116.3 584.3h0M118.3 585.9h0M120.0 588.5h0M121.6 588.8h0M123.1 591.0h0M125.8 590.9h0M127.0 592.4h0M128.2 592.2h0M129.2 594.6h0M130.3 594.9h0M131.3 594.3h0M132.2 595.4h0M133.9 596.4h0M134.8 598.0h0M135.5 597.8h0M136.3 599.4h0M137.7 600.3h0M138.4 601.3h0M139.7 600.1h0M140.3 602.0h0M140.9 602.1h0M141.5 603.0h0M142.1 603.0h0M142.6 602.8h0M143.2 604.6h0M144.2 604.6h0M144.7 605.6h0M145.2 606.6h0M145.6 606.4h0M146.1 606.8h0M146.6 607.4h0M147.9 608.3h0M148.7 608.6h0M149.5 609.5h0M150.2 609.7h0M151.0 610.9h0M151.7 612.0h0M152.7 612.1h0M153.6 612.7h0M154.3 613.1h0M154.9 614.7h0M155.4 614.5h0M156.0 615.1h0M156.6 616.1h0M157.1 615.8h0M157.6 616.7h0M158.1 617.6h0M158.6 617.0h0M159.1 617.5h0M159.6 617.8h0M160.0 618.1h0M160.5 619.2h0M161.1 620.1h0M161.8 620.5h0M162.4 621.2h0M163.0 620.8h0M163.6 622.3h0M164.1 622.5h0M165.1 622.5h0M165.6 624.0h0M166.3 623.6h0M166.8 624.0h0M167.2 624.8h0M167.7 625.6h0M168.2 625.7h0M168.8 626.3h0M169.4 626.7h0M169.9 626.8h0M170.5 627.5h0M171.0 628.6h0M171.7 628.5h0M172.2 628.7h0M172.7 629.8h0M173.1 630.2h0M173.6 630.7h0M174.1 631.1h0M174.6 631.5h0M175.2 631.5h0M175.7 631.8h0M176.2 632.9h0M176.7 632.5h0M177.3 633.7h0M177.8 633.9h0M178.3 633.8h0M178.8 634.2h0M179.3 634.9h0M179.8 635.5h0M180.4 635.6h0M180.8 636.4h0M181.3 636.3h0M181.8 636.7h0M182.3 637.0h0M182.8 637.1h0M183.3 638.0h0M183.8 638.8h0M184.4 639.2h0M184.9 639.2h0M185.5 640.0h0M186.0 639.8h0M186.5 640.4h0M186.9 640.8h0M187.4 641.3h0M187.9 641.5h0M188.3 641.9h0M188.8 642.0h0M189.3 642.6h0M189.8 643.1h0M190.2 643.2h0M190.7 643.6h0M191.2 643.7h0M191.7 644.4h0M192.2 644.5h0M192.6 644.7h0M193.1 645.0h0M193.6 645.5h0M194.1 645.8h0M194.6 645.9h0M195.1 646.5h0M195.6 646.7h0M196.0 646.8h0M196.5 647.2h0M197.0 647.6h0M197.5 647.8h0M197.9 648.2h0M198.4 648.3h0M198.9 648.8h0M199.4 648.9h0M199.9 649.4h0M200.4 649.5h0M200.9 649.9h0M201.3 650.2h0M201.8 650.6h0M202.3 650.6h0M202.7 651.0h0M203.2 651.1h0M203.7 651.5h0M204.1 651.8h0M204.6 651.9h0M205.0 652.3h0M205.5 652.5h0M206.0 652.7h0M206.4 652.9h0M206.9 653.2h0M207.3 653.5h0M207.8 653.7h0M208.3 654.0h0M208.7 654.2h0M209.2 654.4h0M209.7 654.6h0M210.1 654.9h0M210.6 655.1h0M211.1 655.3h0M211.6 655.6h0M212.0 655.8h0M212.5 656.0h0M212.9 656.2h0M213.4 656.5h0M213.8 656.6h0M214.3 656.9h0M214.8 657.1h0M215.2 657.3h0M215.7 657.5h0M216.1 657.7h0M216.6 657.9h0M217.0 658.1h0M217.5 658.3h0M218.0 658.5h0M218.4 658.7h0M218.9 658.9h0M219.4 659.1h0M219.8 659.3h0M220.3 659.5h0M220.8 659.7h0M221.2 659.9h0M221.7 660.1h0M222.1 660.3h0M222.6 660.5h0M223.0 660.7h0M223.5 660.9h0M223.9 661.0h0M224.4 661.2h0M224.9 661.4h0M225.3 661.6h0M225.8 661.8h0M226.2 662.0h0M226.7 662.1h0M227.1 662.3h0M227.6 662.5h0M228.1 662.7h0M228.5 662.8h0M229.0 663.0h0M229.4 663.2h0M229.9 663.4h0M230.3 663.5h0M230.8 663.7h0M231.2 663.9h0M231.7 664.0h0M232.2 664.2h0M232.6 664.4h0M233.1 664.5h0M233.5 664.7h0M234.0 664.9h0M234.4 665.0h0M234.9 665.2h0M235.3 665.3h0M235.8 665.5h0M236.2 665.7h0M236.7 665.8h0M237.2 666.0h0M237.6 666.1h0M238.1 666.3h0M238.5 666.4h0M239.0 666.6h0M239.4 666.8h0M239.9 666.9h0M240.3 667.1h0M240.8 667.2h0M241.2 667.4h0M241.7 667.5h0M242.1 667.7h0M242.6 667.8h0M243.0 668.0h0M243.5 668.1h0M243.9 668.3h0M244.4 668.4h0M244.8 668.6h0M245.3 668.7h0M245.8 668.9h0M246.2 669.0h0M246.7 669.2h0M247.1 669.3h0M247.6 669.5h0M248.0 669.6h0M248.5 669.7h0M248.9 669.9h0M249.4 670.0h0M249.8 670.2h0M250.3 670.3h0M250.7 670.5h0M251.2 670.6h0M251.6 670.8h0M252.1 670.9h0M252.5 671.1h0M253.0 671.2h0M253.4 671.3h0M253.9 671.5h0M254.3 671.6h0M254.8 671.8h0M255.3 671.9h0M255.7 672.1h0M256.2 672.2h0M256.6 672.4h0M257.1 672.5h0M257.5 672.6h0M258.0 672.8h0M258.4 672.9h0M258.9 673.1h0M259.3 673.2h0M259.8 673.4h0M260.2 673.5h0M260.7 673.7h0M261.1 673.8h0M261.6 674.0h0M262.0 674.1h0M262.5 674.2h0M262.9 674.4h0M263.4 674.5h0M263.8 674.7h0M264.3 674.8h0M264.7 675.0h0M265.2 675.1h0M265.6 675.3h0M266.1 675.4h0M266.5 675.6h0M267.0 675.7h0M267.4 675.9h0M267.9 676.0h0M268.3 676.2h0M268.8 676.3h0M269.2 676.5h0M269.7 676.6h0M270.1 676.8h0M270.6 676.9h0M271.0 677.1h0M271.5 677.2h0M271.9 677.4h0M272.4 677.6h0M272.8 677.7h0M273.3 677.9h0M273.7 678.0h0M274.2 678.2h0M274.6 678.3h0M275.1 678.5h0M275.5 678.7h0M276.0 678.8h0M276.4 679.0h0M276.9 679.2h0M277.3 679.3h0M277.8 679.5h0M278.2 679.7h0M278.7 679.8h0" stroke="#000" stroke-width="2.7" stroke-linecap="round" fill="none"/>
<path d="M172.0 633.4L173.5 634.9L175.0 636.4L176.5 637.9L178.0 639.4L179.5 640.9L181.0 642.4L182.5 643.8L184.0 645.3L185.5 646.8L187.0 648.2L188.5 649.6L190.0 651.0L191.5 652.4L193.0 653.8L194.5 655.1L196.0 656.4L197.5 657.8L199.0 659.1L200.5 660.3L202.0 661.6L203.5 662.9L205.0 664.1L206.5 665.4L208.0 666.6L209.5 667.8L211.0 669.0L212.5 670.2L214.0 671.3L215.5 672.5L217.0 673.6L218.5 674.7L220.0 675.8L221.5 676.8L223.0 677.8L224.5 678.8L226.0 679.8L227.5 680.8L229.0 681.7L230.5 682.6L232.0 683.4L233.5 684.3L235.0 685.1L236.5 685.8L238.0 686.6L239.5 687.3L241.0 688.1L242.5 688.7L244.0 689.4L245.5 690.1L247.0 690.7L248.5 691.3L250.0 691.9L251.5 692.6L253.0 693.2L254.5 693.9L256.0 694.5L257.5 695.2L259.0 696.0L260.5 696.8L262.0 697.6L263.5 698.5L265.0 699.4L266.5 700.4L268.0 701.5" stroke="#f00" stroke-width="3.1" fill="none" stroke-linejoin="round"/>
<path d="M68.8 570.6h2.7v2.7h-2.7zM82.7 572.6h2.7v2.7h-2.7zM90.8 579.2h2.7v2.7h-2.7zM96.6 580.1h2.7v2.7h-2.7zM101.1 580.9h2.7v2.7h-2.7zM104.7 581.9h2.7v2.7h-2.7zM110.5 587.5h2.7v2.7h-2.7zM112.9 585.8h2.7v2.7h-2.7zM115.0 587.7h2.7v2.7h-2.7zM116.9 588.0h2.7v2.7h-2.7zM118.7 590.6h2.7v2.7h-2.7zM120.3 592.6h2.7v2.7h-2.7zM121.8 592.2h2.7v2.7h-2.7zM124.4 595.6h2.7v2.7h-2.7zM125.7 594.9h2.7v2.7h-2.7zM126.8 596.0h2.7v2.7h-2.7zM127.9 595.4h2.7v2.7h-2.7zM128.9 595.8h2.7v2.7h-2.7zM129.9 597.4h2.7v2.7h-2.7zM130.8 598.1h2.7v2.7h-2.7zM132.6 598.9h2.7v2.7h-2.7zM133.4 600.0h2.7v2.7h-2.7zM134.2 600.4h2.7v2.7h-2.7zM135.0 601.4h2.7v2.7h-2.7zM136.4 603.1h2.7v2.7h-2.7zM137.1 603.4h2.7v2.7h-2.7zM138.4 604.1h2.7v2.7h-2.7zM139.0 603.8h2.7v2.7h-2.7zM139.6 604.5h2.7v2.7h-2.7zM140.2 604.4h2.7v2.7h-2.7zM140.7 605.4h2.7v2.7h-2.7zM141.3 606.0h2.7v2.7h-2.7zM141.8 605.7h2.7v2.7h-2.7zM142.8 607.0h2.7v2.7h-2.7zM143.3 607.3h2.7v2.7h-2.7zM143.8 609.9h2.7v2.7h-2.7zM144.3 608.0h2.7v2.7h-2.7zM144.8 608.5h2.7v2.7h-2.7zM145.2 608.4h2.7v2.7h-2.7zM146.5 609.8h2.7v2.7h-2.7zM147.3 611.4h2.7v2.7h-2.7zM148.1 612.0h2.7v2.7h-2.7zM148.9 611.2h2.7v2.7h-2.7zM149.6 611.4h2.7v2.7h-2.7zM150.3 613.2h2.7v2.7h-2.7zM151.3 614.6h2.7v2.7h-2.7zM152.3 614.3h2.7v2.7h-2.7zM152.9 615.4h2.7v2.7h-2.7zM153.5 615.8h2.7v2.7h-2.7zM154.1 616.3h2.7v2.7h-2.7zM154.7 617.1h2.7v2.7h-2.7zM155.2 618.2h2.7v2.7h-2.7zM155.7 617.3h2.7v2.7h-2.7zM156.3 618.9h2.7v2.7h-2.7zM156.8 618.6h2.7v2.7h-2.7zM157.3 619.0h2.7v2.7h-2.7zM157.7 620.4h2.7v2.7h-2.7zM158.2 620.2h2.7v2.7h-2.7zM158.7 620.7h2.7v2.7h-2.7zM159.1 620.7h2.7v2.7h-2.7zM159.8 621.2h2.7v2.7h-2.7zM160.4 621.7h2.7v2.7h-2.7zM161.0 623.0h2.7v2.7h-2.7zM161.6 623.0h2.7v2.7h-2.7zM162.2 623.6h2.7v2.7h-2.7zM162.8 624.3h2.7v2.7h-2.7zM163.7 625.4h2.7v2.7h-2.7zM164.2 625.9h2.7v2.7h-2.7zM164.9 626.9h2.7v2.7h-2.7zM165.4 626.8h2.7v2.7h-2.7zM165.9 627.5h2.7v2.7h-2.7zM166.4 628.0h2.7v2.7h-2.7zM166.8 628.6h2.7v2.7h-2.7zM167.4 628.9h2.7v2.7h-2.7zM168.0 629.0h2.7v2.7h-2.7zM168.6 630.4h2.7v2.7h-2.7zM169.1 630.3h2.7v2.7h-2.7zM169.7 630.9h2.7v2.7h-2.7zM170.3 631.5h2.7v2.7h-2.7zM170.8 632.7h2.7v2.7h-2.7zM171.3 633.0h2.7v2.7h-2.7zM171.8 633.6h2.7v2.7h-2.7zM172.3 633.7h2.7v2.7h-2.7zM172.7 633.7h2.7v2.7h-2.7zM173.3 635.8h2.7v2.7h-2.7zM173.8 635.6h2.7v2.7h-2.7zM174.4 635.5h2.7v2.7h-2.7zM174.9 636.6h2.7v2.7h-2.7zM175.4 637.0h2.7v2.7h-2.7zM176.0 637.2h2.7v2.7h-2.7zM176.4 638.1h2.7v2.7h-2.7zM176.9 638.5h2.7v2.7h-2.7zM177.4 639.0h2.7v2.7h-2.7zM178.0 639.6h2.7v2.7h-2.7zM178.5 639.6h2.7v2.7h-2.7zM179.0 640.4h2.7v2.7h-2.7zM179.5 641.0h2.7v2.7h-2.7zM180.0 641.3h2.7v2.7h-2.7zM180.4 642.2h2.7v2.7h-2.7zM180.9 641.9h2.7v2.7h-2.7zM181.4 643.0h2.7v2.7h-2.7zM181.9 643.3h2.7v2.7h-2.7zM182.5 643.6h2.7v2.7h-2.7zM183.0 644.6h2.7v2.7h-2.7zM183.6 645.1h2.7v2.7h-2.7zM184.1 645.2h2.7v2.7h-2.7zM184.6 645.6h2.7v2.7h-2.7zM185.1 646.1h2.7v2.7h-2.7zM185.6 646.5h2.7v2.7h-2.7zM186.1 647.5h2.7v2.7h-2.7zM186.5 647.7h2.7v2.7h-2.7zM187.0 648.0h2.7v2.7h-2.7zM187.5 648.9h2.7v2.7h-2.7zM188.0 648.9h2.7v2.7h-2.7zM188.4 649.7h2.7v2.7h-2.7zM188.9 650.0h2.7v2.7h-2.7zM189.3 650.2h2.7v2.7h-2.7zM189.9 650.6h2.7v2.7h-2.7zM190.4 651.0h2.7v2.7h-2.7zM190.8 651.8h2.7v2.7h-2.7zM191.3 652.2h2.7v2.7h-2.7zM191.8 652.4h2.7v2.7h-2.7zM192.2 653.1h2.7v2.7h-2.7zM192.8 653.6h2.7v2.7h-2.7zM193.2 653.6h2.7v2.7h-2.7zM193.7 654.3h2.7v2.7h-2.7zM194.2 654.5h2.7v2.7h-2.7zM194.7 655.0h2.7v2.7h-2.7zM195.2 655.6h2.7v2.7h-2.7zM195.6 656.1h2.7v2.7h-2.7zM196.1 656.2h2.7v2.7h-2.7zM196.6 656.7h2.7v2.7h-2.7zM197.1 657.4h2.7v2.7h-2.7zM197.5 657.7h2.7v2.7h-2.7zM198.1 658.2h2.7v2.7h-2.7zM198.5 658.3h2.7v2.7h-2.7zM199.0 659.0h2.7v2.7h-2.7zM199.5 659.2h2.7v2.7h-2.7zM200.0 659.8h2.7v2.7h-2.7zM200.5 660.2h2.7v2.7h-2.7zM200.9 660.6h2.7v2.7h-2.7zM201.4 661.0h2.7v2.7h-2.7zM201.8 661.2h2.7v2.7h-2.7zM202.3 661.6h2.7v2.7h-2.7zM202.8 662.1h2.7v2.7h-2.7zM203.2 662.4h2.7v2.7h-2.7zM203.7 662.9h2.7v2.7h-2.7zM204.1 663.3h2.7v2.7h-2.7zM204.6 663.6h2.7v2.7h-2.7zM205.1 664.1h2.7v2.7h-2.7zM205.5 664.3h2.7v2.7h-2.7zM206.0 664.6h2.7v2.7h-2.7zM206.5 665.1h2.7v2.7h-2.7zM206.9 665.4h2.7v2.7h-2.7zM207.4 665.9h2.7v2.7h-2.7zM207.9 666.3h2.7v2.7h-2.7zM208.3 666.6h2.7v2.7h-2.7zM208.8 666.9h2.7v2.7h-2.7zM209.2 667.3h2.7v2.7h-2.7zM209.7 667.7h2.7v2.7h-2.7zM210.2 668.1h2.7v2.7h-2.7zM210.7 668.5h2.7v2.7h-2.7zM211.1 668.8h2.7v2.7h-2.7zM211.6 669.2h2.7v2.7h-2.7zM212.0 669.5h2.7v2.7h-2.7zM212.5 669.8h2.7v2.7h-2.7zM213.0 670.2h2.7v2.7h-2.7zM213.4 670.6h2.7v2.7h-2.7zM213.9 670.9h2.7v2.7h-2.7zM214.3 671.3h2.7v2.7h-2.7zM214.8 671.6h2.7v2.7h-2.7zM215.2 671.9h2.7v2.7h-2.7zM215.7 672.3h2.7v2.7h-2.7zM216.2 672.6h2.7v2.7h-2.7zM216.6 673.0h2.7v2.7h-2.7zM217.1 673.3h2.7v2.7h-2.7zM217.5 673.6h2.7v2.7h-2.7zM218.0 674.0h2.7v2.7h-2.7zM218.5 674.3h2.7v2.7h-2.7zM218.9 674.6h2.7v2.7h-2.7zM219.4 675.0h2.7v2.7h-2.7zM219.9 675.3h2.7v2.7h-2.7zM220.3 675.6h2.7v2.7h-2.7zM220.8 675.9h2.7v2.7h-2.7zM221.2 676.2h2.7v2.7h-2.7zM221.7 676.5h2.7v2.7h-2.7zM222.1 676.8h2.7v2.7h-2.7zM222.6 677.1h2.7v2.7h-2.7zM223.1 677.4h2.7v2.7h-2.7zM223.5 677.7h2.7v2.7h-2.7zM224.0 678.0h2.7v2.7h-2.7zM224.4 678.3h2.7v2.7h-2.7zM224.9 678.6h2.7v2.7h-2.7zM225.3 678.9h2.7v2.7h-2.7zM225.8 679.2h2.7v2.7h-2.7zM226.3 679.5h2.7v2.7h-2.7zM226.7 679.8h2.7v2.7h-2.7zM227.2 680.0h2.7v2.7h-2.7zM227.6 680.3h2.7v2.7h-2.7zM228.1 680.6h2.7v2.7h-2.7zM228.5 680.8h2.7v2.7h-2.7zM229.0 681.1h2.7v2.7h-2.7zM229.4 681.4h2.7v2.7h-2.7zM229.9 681.6h2.7v2.7h-2.7zM230.4 681.9h2.7v2.7h-2.7zM230.8 682.2h2.7v2.7h-2.7zM231.3 682.4h2.7v2.7h-2.7zM231.7 682.7h2.7v2.7h-2.7zM232.2 682.9h2.7v2.7h-2.7zM232.6 683.2h2.7v2.7h-2.7zM233.1 683.4h2.7v2.7h-2.7zM233.5 683.7h2.7v2.7h-2.7zM234.0 683.9h2.7v2.7h-2.7zM234.4 684.1h2.7v2.7h-2.7zM234.9 684.4h2.7v2.7h-2.7zM235.4 684.6h2.7v2.7h-2.7zM235.8 684.8h2.7v2.7h-2.7zM236.3 685.1h2.7v2.7h-2.7zM236.7 685.3h2.7v2.7h-2.7zM237.2 685.5h2.7v2.7h-2.7zM237.6 685.7h2.7v2.7h-2.7zM238.1 686.0h2.7v2.7h-2.7zM238.5 686.2h2.7v2.7h-2.7zM239.0 686.4h2.7v2.7h-2.7zM239.4 686.6h2.7v2.7h-2.7zM239.9 686.8h2.7v2.7h-2.7zM240.3 687.0h2.7v2.7h-2.7zM240.8 687.2h2.7v2.7h-2.7zM241.2 687.4h2.7v2.7h-2.7zM241.7 687.6h2.7v2.7h-2.7zM242.1 687.8h2.7v2.7h-2.7zM242.6 688.0h2.7v2.7h-2.7zM243.0 688.2h2.7v2.7h-2.7zM243.5 688.4h2.7v2.7h-2.7zM244.0 688.6h2.7v2.7h-2.7zM244.4 688.8h2.7v2.7h-2.7zM244.9 689.0h2.7v2.7h-2.7zM245.3 689.2h2.7v2.7h-2.7zM245.8 689.4h2.7v2.7h-2.7zM246.2 689.6h2.7v2.7h-2.7zM246.7 689.8h2.7v2.7h-2.7zM247.1 690.0h2.7v2.7h-2.7zM247.6 690.1h2.7v2.7h-2.7zM248.0 690.3h2.7v2.7h-2.7zM248.5 690.5h2.7v2.7h-2.7zM248.9 690.7h2.7v2.7h-2.7zM249.4 690.9h2.7v2.7h-2.7zM249.8 691.1h2.7v2.7h-2.7zM250.3 691.3h2.7v2.7h-2.7zM250.7 691.5h2.7v2.7h-2.7zM251.2 691.7h2.7v2.7h-2.7zM251.6 691.8h2.7v2.7h-2.7zM252.1 692.0h2.7v2.7h-2.7zM252.5 692.2h2.7v2.7h-2.7zM253.0 692.4h2.7v2.7h-2.7zM253.4 692.6h2.7v2.7h-2.7zM253.9 692.8h2.7v2.7h-2.7zM254.4 693.0h2.7v2.7h-2.7zM254.8 693.3h2.7v2.7h-2.7zM255.3 693.5h2.7v2.7h-2.7zM255.7 693.7h2.7v2.7h-2.7zM256.2 693.9h2.7v2.7h-2.7zM256.6 694.1h2.7v2.7h-2.7zM257.1 694.3h2.7v2.7h-2.7zM257.5 694.6h2.7v2.7h-2.7zM258.0 694.8h2.7v2.7h-2.7zM258.4 695.0h2.7v2.7h-2.7zM258.9 695.3h2.7v2.7h-2.7zM259.3 695.5h2.7v2.7h-2.7zM259.8 695.7h2.7v2.7h-2.7zM260.2 696.0h2.7v2.7h-2.7zM260.7 696.2h2.7v2.7h-2.7zM261.1 696.5h2.7v2.7h-2.7zM261.6 696.8h2.7v2.7h-2.7zM262.0 697.0h2.7v2.7h-2.7zM262.5 697.3h2.7v2.7h-2.7zM262.9 697.6h2.7v2.7h-2.7zM263.4 697.9h2.7v2.7h-2.7zM263.8 698.2h2.7v2.7h-2.7zM264.3 698.5h2.7v2.7h-2.7zM264.7 698.8h2.7v2.7h-2.7zM265.2 699.1h2.7v2.7h-2.7zM265.6 699.4h2.7v2.7h-2.7zM266.1 699.7h2.7v2.7h-2.7zM266.5 700.0h2.7v2.7h-2.7zM267.0 700.4h2.7v2.7h-2.7zM267.4 700.7h2.7v2.7h-2.7zM267.9 701.1h2.7v2.7h-2.7zM268.3 701.4h2.7v2.7h-2.7zM268.8 701.8h2.7v2.7h-2.7zM269.2 702.2h2.7v2.7h-2.7zM269.7 702.5h2.7v2.7h-2.7zM270.1 702.9h2.7v2.7h-2.7zM270.6 703.3h2.7v2.7h-2.7zM271.0 703.7h2.7v2.7h-2.7zM271.5 704.2h2.7v2.7h-2.7zM271.9 704.6h2.7v2.7h-2.7zM272.4 705.0h2.7v2.7h-2.7zM272.8 705.5h2.7v2.7h-2.7zM273.3 705.9h2.7v2.7h-2.7zM273.7 706.4h2.7v2.7h-2.7zM274.2 706.8h2.7v2.7h-2.7zM274.6 707.3h2.7v2.7h-2.7zM275.1 707.8h2.7v2.7h-2.7zM275.5 708.3h2.7v2.7h-2.7zM276.0 708.8h2.7v2.7h-2.7zM276.4 709.3h2.7v2.7h-2.7zM276.9 709.9h2.7v2.7h-2.7zM277.3 710.4h2.7v2.7h-2.7z" fill="#f00"/>
<path d="M197.0 652.1L198.5 652.8L200.0 653.5L201.5 654.2L203.0 654.9L204.5 655.6L206.0 656.3L207.5 657.0L209.0 657.6L210.5 658.3L212.0 658.9L213.5 659.5L215.0 660.1L216.5 660.8L218.0 661.4L219.5 662.0L221.0 662.6L222.5 663.1L224.0 663.7L225.5 664.3L227.0 664.9L228.5 665.4L230.0 666.0L231.5 666.5L233.0 667.1L234.5 667.6L236.0 668.1L237.5 668.7L239.0 669.2L240.5 669.7L242.0 670.2L243.5 670.8L245.0 671.3L246.5 671.8L248.0 672.3L249.5 672.8L251.0 673.3L252.5 673.8L254.0 674.3L255.5 674.8L257.0 675.3L258.5 675.8L260.0 676.3L261.5 676.8L263.0 677.3L264.5 677.9L266.0 678.4L267.5 678.9L269.0 679.4L270.5 679.9L272.0 680.4L273.5 680.9L275.0 681.4L276.5 682.0L278.0 682.5L279.5 683.0" stroke="#00f" stroke-width="3.0" fill="none" stroke-linejoin="round"/>
<path d="M68.8 582.2a1.35 1.35 0 1 0 2.7 0a1.35 1.35 0 1 0 -2.7 0M82.7 593.1a1.35 1.35 0 1 0 2.7 0a1.35 1.35 0 1 0 -2.7 0M90.8 594.3a1.35 1.35 0 1 0 2.7 0a1.35 1.35 0 1 0 -2.7 0M96.6 597.1a1.35 1.35 0 1 0 2.7 0a1.35 1.35 0 1 0 -2.7 0M101.1 601.4a1.35 1.35 0 1 0 2.7 0a1.35 1.35 0 1 0 -2.7 0M104.7 603.1a1.35 1.35 0 1 0 2.7 0a1.35 1.35 0 1 0 -2.7 0M110.5 610.2a1.35 1.35 0 1 0 2.7 0a1.35 1.35 0 1 0 -2.7 0M112.9 605.3a1.35 1.35 0 1 0 2.7 0a1.35 1.35 0 1 0 -2.7 0M115.0 607.5a1.35 1.35 0 1 0 2.7 0a1.35 1.35 0 1 0 -2.7 0M116.9 607.9a1.35 1.35 0 1 0 2.7 0a1.35 1.35 0 1 0 -2.7 0M118.7 609.5a1.35 1.35 0 1 0 2.7 0a1.35 1.35 0 1 0 -2.7 0M120.3 611.7a1.35 1.35 0 1 0 2.7 0a1.35 1.35 0 1 0 -2.7 0M121.8 611.7a1.35 1.35 0 1 0 2.7 0a1.35 1.35 0 1 0 -2.7 0M124.4 609.9a1.35 1.35 0 1 0 2.7 0a1.35 1.35 0 1 0 -2.7 0M125.7 612.1a1.35 1.35 0 1 0 2.7 0a1.35 1.35 0 1 0 -2.7 0M126.8 613.3a1.35 1.35 0 1 0 2.7 0a1.35 1.35 0 1 0 -2.7 0M127.9 611.0a1.35 1.35 0 1 0 2.7 0a1.35 1.35 0 1 0 -2.7 0M128.9 615.5a1.35 1.35 0 1 0 2.7 0a1.35 1.35 0 1 0 -2.7 0M129.9 615.3a1.35 1.35 0 1 0 2.7 0a1.35 1.35 0 1 0 -2.7 0M130.8 614.5a1.35 1.35 0 1 0 2.7 0a1.35 1.35 0 1 0 -2.7 0M132.6 616.7a1.35 1.35 0 1 0 2.7 0a1.35 1.35 0 1 0 -2.7 0M133.4 617.1a1.35 1.35 0 1 0 2.7 0a1.35 1.35 0 1 0 -2.7 0M134.2 616.6a1.35 1.35 0 1 0 2.7 0a1.35 1.35 0 1 0 -2.7 0M135.0 617.9a1.35 1.35 0 1 0 2.7 0a1.35 1.35 0 1 0 -2.7 0M136.4 618.0a1.35 1.35 0 1 0 2.7 0a1.35 1.35 0 1 0 -2.7 0M137.1 620.1a1.35 1.35 0 1 0 2.7 0a1.35 1.35 0 1 0 -2.7 0M138.4 617.8a1.35 1.35 0 1 0 2.7 0a1.35 1.35 0 1 0 -2.7 0M139.0 619.8a1.35 1.35 0 1 0 2.7 0a1.35 1.35 0 1 0 -2.7 0M139.6 620.2a1.35 1.35 0 1 0 2.7 0a1.35 1.35 0 1 0 -2.7 0M140.2 621.1a1.35 1.35 0 1 0 2.7 0a1.35 1.35 0 1 0 -2.7 0M140.7 620.4a1.35 1.35 0 1 0 2.7 0a1.35 1.35 0 1 0 -2.7 0M141.3 620.3a1.35 1.35 0 1 0 2.7 0a1.35 1.35 0 1 0 -2.7 0M141.8 623.8a1.35 1.35 0 1 0 2.7 0a1.35 1.35 0 1 0 -2.7 0M142.8 621.9a1.35 1.35 0 1 0 2.7 0a1.35 1.35 0 1 0 -2.7 0M143.3 622.0a1.35 1.35 0 1 0 2.7 0a1.35 1.35 0 1 0 -2.7 0M143.8 622.3a1.35 1.35 0 1 0 2.7 0a1.35 1.35 0 1 0 -2.7 0M144.3 624.3a1.35 1.35 0 1 0 2.7 0a1.35 1.35 0 1 0 -2.7 0M144.8 622.2a1.35 1.35 0 1 0 2.7 0a1.35 1.35 0 1 0 -2.7 0M145.2 621.8a1.35 1.35 0 1 0 2.7 0a1.35 1.35 0 1 0 -2.7 0M146.5 623.9a1.35 1.35 0 1 0 2.7 0a1.35 1.35 0 1 0 -2.7 0M147.3 623.1a1.35 1.35 0 1 0 2.7 0a1.35 1.35 0 1 0 -2.7 0M148.1 623.7a1.35 1.35 0 1 0 2.7 0a1.35 1.35 0 1 0 -2.7 0M148.9 624.6a1.35 1.35 0 1 0 2.7 0a1.35 1.35 0 1 0 -2.7 0M149.6 624.2a1.35 1.35 0 1 0 2.7 0a1.35 1.35 0 1 0 -2.7 0M150.3 625.4a1.35 1.35 0 1 0 2.7 0a1.35 1.35 0 1 0 -2.7 0M151.3 626.4a1.35 1.35 0 1 0 2.7 0a1.35 1.35 0 1 0 -2.7 0M152.3 626.1a1.35 1.35 0 1 0 2.7 0a1.35 1.35 0 1 0 -2.7 0M152.9 627.1a1.35 1.35 0 1 0 2.7 0a1.35 1.35 0 1 0 -2.7 0M153.5 626.0a1.35 1.35 0 1 0 2.7 0a1.35 1.35 0 1 0 -2.7 0M154.1 627.2a1.35 1.35 0 1 0 2.7 0a1.35 1.35 0 1 0 -2.7 0M154.7 627.9a1.35 1.35 0 1 0 2.7 0a1.35 1.35 0 1 0 -2.7 0M155.2 628.3a1.35 1.35 0 1 0 2.7 0a1.35 1.35 0 1 0 -2.7 0M155.7 628.0a1.35 1.35 0 1 0 2.7 0a1.35 1.35 0 1 0 -2.7 0M156.3 629.7a1.35 1.35 0 1 0 2.7 0a1.35 1.35 0 1 0 -2.7 0M156.8 629.4a1.35 1.35 0 1 0 2.7 0a1.35 1.35 0 1 0 -2.7 0M157.3 628.9a1.35 1.35 0 1 0 2.7 0a1.35 1.35 0 1 0 -2.7 0M157.7 629.9a1.35 1.35 0 1 0 2.7 0a1.35 1.35 0 1 0 -2.7 0M158.2 629.6a1.35 1.35 0 1 0 2.7 0a1.35 1.35 0 1 0 -2.7 0M158.7 630.3a1.35 1.35 0 1 0 2.7 0a1.35 1.35 0 1 0 -2.7 0M159.1 631.2a1.35 1.35 0 1 0 2.7 0a1.35 1.35 0 1 0 -2.7 0M159.8 630.9a1.35 1.35 0 1 0 2.7 0a1.35 1.35 0 1 0 -2.7 0M160.4 631.7a1.35 1.35 0 1 0 2.7 0a1.35 1.35 0 1 0 -2.7 0M161.0 631.1a1.35 1.35 0 1 0 2.7 0a1.35 1.35 0 1 0 -2.7 0M161.6 632.3a1.35 1.35 0 1 0 2.7 0a1.35 1.35 0 1 0 -2.7 0M162.2 631.4a1.35 1.35 0 1 0 2.7 0a1.35 1.35 0 1 0 -2.7 0M162.8 632.6a1.35 1.35 0 1 0 2.7 0a1.35 1.35 0 1 0 -2.7 0M163.7 634.2a1.35 1.35 0 1 0 2.7 0a1.35 1.35 0 1 0 -2.7 0M164.2 633.2a1.35 1.35 0 1 0 2.7 0a1.35 1.35 0 1 0 -2.7 0M164.9 633.8a1.35 1.35 0 1 0 2.7 0a1.35 1.35 0 1 0 -2.7 0M165.4 635.0a1.35 1.35 0 1 0 2.7 0a1.35 1.35 0 1 0 -2.7 0M165.9 634.4a1.35 1.35 0 1 0 2.7 0a1.35 1.35 0 1 0 -2.7 0M166.4 635.8a1.35 1.35 0 1 0 2.7 0a1.35 1.35 0 1 0 -2.7 0M166.8 635.2a1.35 1.35 0 1 0 2.7 0a1.35 1.35 0 1 0 -2.7 0M167.4 636.4a1.35 1.35 0 1 0 2.7 0a1.35 1.35 0 1 0 -2.7 0M168.0 636.7a1.35 1.35 0 1 0 2.7 0a1.35 1.35 0 1 0 -2.7 0M168.6 636.9a1.35 1.35 0 1 0 2.7 0a1.35 1.35 0 1 0 -2.7 0M169.1 636.6a1.35 1.35 0 1 0 2.7 0a1.35 1.35 0 1 0 -2.7 0M169.7 637.2a1.35 1.35 0 1 0 2.7 0a1.35 1.35 0 1 0 -2.7 0M170.3 638.0a1.35 1.35 0 1 0 2.7 0a1.35 1.35 0 1 0 -2.7 0M170.8 638.7a1.35 1.35 0 1 0 2.7 0a1.35 1.35 0 1 0 -2.7 0M171.3 638.3a1.35 1.35 0 1 0 2.7 0a1.35 1.35 0 1 0 -2.7 0M171.8 638.7a1.35 1.35 0 1 0 2.7 0a1.35 1.35 0 1 0 -2.7 0M172.3 638.9a1.35 1.35 0 1 0 2.7 0a1.35 1.35 0 1 0 -2.7 0M172.7 639.8a1.35 1.35 0 1 0 2.7 0a1.35 1.35 0 1 0 -2.7 0M173.3 639.6a1.35 1.35 0 1 0 2.7 0a1.35 1.35 0 1 0 -2.7 0M173.8 639.7a1.35 1.35 0 1 0 2.7 0a1.35 1.35 0 1 0 -2.7 0M174.4 640.5a1.35 1.35 0 1 0 2.7 0a1.35 1.35 0 1 0 -2.7 0M174.9 640.7a1.35 1.35 0 1 0 2.7 0a1.35 1.35 0 1 0 -2.7 0M175.4 641.1a1.35 1.35 0 1 0 2.7 0a1.35 1.35 0 1 0 -2.7 0M176.0 641.4a1.35 1.35 0 1 0 2.7 0a1.35 1.35 0 1 0 -2.7 0M176.4 641.6a1.35 1.35 0 1 0 2.7 0a1.35 1.35 0 1 0 -2.7 0M176.9 642.1a1.35 1.35 0 1 0 2.7 0a1.35 1.35 0 1 0 -2.7 0M177.4 642.4a1.35 1.35 0 1 0 2.7 0a1.35 1.35 0 1 0 -2.7 0M178.0 643.0a1.35 1.35 0 1 0 2.7 0a1.35 1.35 0 1 0 -2.7 0M178.5 642.9a1.35 1.35 0 1 0 2.7 0a1.35 1.35 0 1 0 -2.7 0M179.0 643.5a1.35 1.35 0 1 0 2.7 0a1.35 1.35 0 1 0 -2.7 0M179.5 643.2a1.35 1.35 0 1 0 2.7 0a1.35 1.35 0 1 0 -2.7 0M180.0 643.5a1.35 1.35 0 1 0 2.7 0a1.35 1.35 0 1 0 -2.7 0M180.4 644.4a1.35 1.35 0 1 0 2.7 0a1.35 1.35 0 1 0 -2.7 0M180.9 644.6a1.35 1.35 0 1 0 2.7 0a1.35 1.35 0 1 0 -2.7 0M181.4 644.3a1.35 1.35 0 1 0 2.7 0a1.35 1.35 0 1 0 -2.7 0M181.9 645.1a1.35 1.35 0 1 0 2.7 0a1.35 1.35 0 1 0 -2.7 0M182.5 645.1a1.35 1.35 0 1 0 2.7 0a1.35 1.35 0 1 0 -2.7 0M183.0 645.3a1.35 1.35 0 1 0 2.7 0a1.35 1.35 0 1 0 -2.7 0M183.6 646.0a1.35 1.35 0 1 0 2.7 0a1.35 1.35 0 1 0 -2.7 0M184.1 645.9a1.35 1.35 0 1 0 2.7 0a1.35 1.35 0 1 0 -2.7 0M184.6 646.4a1.35 1.35 0 1 0 2.7 0a1.35 1.35 0 1 0 -2.7 0M185.1 646.5a1.35 1.35 0 1 0 2.7 0a1.35 1.35 0 1 0 -2.7 0M185.6 646.9a1.35 1.35 0 1 0 2.7 0a1.35 1.35 0 1 0 -2.7 0M186.1 647.0a1.35 1.35 0 1 0 2.7 0a1.35 1.35 0 1 0 -2.7 0M186.5 647.2a1.35 1.35 0 1 0 2.7 0a1.35 1.35 0 1 0 -2.7 0M187.0 647.8a1.35 1.35 0 1 0 2.7 0a1.35 1.35 0 1 0 -2.7 0M187.5 648.1a1.35 1.35 0 1 0 2.7 0a1.35 1.35 0 1 0 -2.7 0M188.0 648.4a1.35 1.35 0 1 0 2.7 0a1.35 1.35 0 1 0 -2.7 0M188.4 648.1a1.35 1.35 0 1 0 2.7 0a1.35 1.35 0 1 0 -2.7 0M188.9 648.5a1.35 1.35 0 1 0 2.7 0a1.35 1.35 0 1 0 -2.7 0M189.3 648.7a1.35 1.35 0 1 0 2.7 0a1.35 1.35 0 1 0 -2.7 0M189.9 649.0a1.35 1.35 0 1 0 2.7 0a1.35 1.35 0 1 0 -2.7 0M190.4 649.5a1.35 1.35 0 1 0 2.7 0a1.35 1.35 0 1 0 -2.7 0M190.8 649.8a1.35 1.35 0 1 0 2.7 0a1.35 1.35 0 1 0 -2.7 0M191.3 650.0a1.35 1.35 0 1 0 2.7 0a1.35 1.35 0 1 0 -2.7 0M191.8 650.3a1.35 1.35 0 1 0 2.7 0a1.35 1.35 0 1 0 -2.7 0M192.2 650.6a1.35 1.35 0 1 0 2.7 0a1.35 1.35 0 1 0 -2.7 0M192.8 650.6a1.35 1.35 0 1 0 2.7 0a1.35 1.35 0 1 0 -2.7 0M193.2 650.9a1.35 1.35 0 1 0 2.7 0a1.35 1.35 0 1 0 -2.7 0M193.7 651.0a1.35 1.35 0 1 0 2.7 0a1.35 1.35 0 1 0 -2.7 0M194.2 651.2a1.35 1.35 0 1 0 2.7 0a1.35 1.35 0 1 0 -2.7 0M194.7 651.7a1.35 1.35 0 1 0 2.7 0a1.35 1.35 0 1 0 -2.7 0M195.2 651.9a1.35 1.35 0 1 0 2.7 0a1.35 1.35 0 1 0 -2.7 0M195.6 652.0a1.35 1.35 0 1 0 2.7 0a1.35 1.35 0 1 0 -2.7 0M196.1 652.2a1.35 1.35 0 1 0 2.7 0a1.35 1.35 0 1 0 -2.7 0M196.6 652.6a1.35 1.35 0 1 0 2.7 0a1.35 1.35 0 1 0 -2.7 0M197.1 652.9a1.35 1.35 0 1 0 2.7 0a1.35 1.35 0 1 0 -2.7 0M197.5 653.1a1.35 1.35 0 1 0 2.7 0a1.35 1.35 0 1 0 -2.7 0M198.1 653.3a1.35 1.35 0 1 0 2.7 0a1.35 1.35 0 1 0 -2.7 0M198.5 653.4a1.35 1.35 0 1 0 2.7 0a1.35 1.35 0 1 0 -2.7 0M199.0 653.7a1.35 1.35 0 1 0 2.7 0a1.35 1.35 0 1 0 -2.7 0M199.5 653.9a1.35 1.35 0 1 0 2.7 0a1.35 1.35 0 1 0 -2.7 0M200.0 654.2a1.35 1.35 0 1 0 2.7 0a1.35 1.35 0 1 0 -2.7 0M200.5 654.4a1.35 1.35 0 1 0 2.7 0a1.35 1.35 0 1 0 -2.7 0M200.9 654.6a1.35 1.35 0 1 0 2.7 0a1.35 1.35 0 1 0 -2.7 0M201.4 654.8a1.35 1.35 0 1 0 2.7 0a1.35 1.35 0 1 0 -2.7 0M201.8 655.0a1.35 1.35 0 1 0 2.7 0a1.35 1.35 0 1 0 -2.7 0M202.3 655.2a1.35 1.35 0 1 0 2.7 0a1.35 1.35 0 1 0 -2.7 0M202.8 655.4a1.35 1.35 0 1 0 2.7 0a1.35 1.35 0 1 0 -2.7 0M203.2 655.6a1.35 1.35 0 1 0 2.7 0a1.35 1.35 0 1 0 -2.7 0M203.7 655.9a1.35 1.35 0 1 0 2.7 0a1.35 1.35 0 1 0 -2.7 0M204.1 656.1a1.35 1.35 0 1 0 2.7 0a1.35 1.35 0 1 0 -2.7 0M204.6 656.3a1.35 1.35 0 1 0 2.7 0a1.35 1.35 0 1 0 -2.7 0M205.1 656.5a1.35 1.35 0 1 0 2.7 0a1.35 1.35 0 1 0 -2.7 0M205.5 656.7a1.35 1.35 0 1 0 2.7 0a1.35 1.35 0 1 0 -2.7 0M206.0 656.9a1.35 1.35 0 1 0 2.7 0a1.35 1.35 0 1 0 -2.7 0M206.5 657.1a1.35 1.35 0 1 0 2.7 0a1.35 1.35 0 1 0 -2.7 0M206.9 657.3a1.35 1.35 0 1 0 2.7 0a1.35 1.35 0 1 0 -2.7 0M207.4 657.5a1.35 1.35 0 1 0 2.7 0a1.35 1.35 0 1 0 -2.7 0M207.9 657.7a1.35 1.35 0 1 0 2.7 0a1.35 1.35 0 1 0 -2.7 0M208.3 657.9a1.35 1.35 0 1 0 2.7 0a1.35 1.35 0 1 0 -2.7 0M208.8 658.1a1.35 1.35 0 1 0 2.7 0a1.35 1.35 0 1 0 -2.7 0M209.2 658.3a1.35 1.35 0 1 0 2.7 0a1.35 1.35 0 1 0 -2.7 0M209.7 658.5a1.35 1.35 0 1 0 2.7 0a1.35 1.35 0 1 0 -2.7 0M210.2 658.7a1.35 1.35 0 1 0 2.7 0a1.35 1.35 0 1 0 -2.7 0M210.7 658.9a1.35 1.35 0 1 0 2.7 0a1.35 1.35 0 1 0 -2.7 0M211.1 659.1a1.35 1.35 0 1 0 2.7 0a1.35 1.35 0 1 0 -2.7 0M211.6 659.3a1.35 1.35 0 1 0 2.7 0a1.35 1.35 0 1 0 -2.7 0M212.0 659.5a1.35 1.35 0 1 0 2.7 0a1.35 1.35 0 1 0 -2.7 0M212.5 659.7a1.35 1.35 0 1 0 2.7 0a1.35 1.35 0 1 0 -2.7 0M213.0 659.9a1.35 1.35 0 1 0 2.7 0a1.35 1.35 0 1 0 -2.7 0M213.4 660.0a1.35 1.35 0 1 0 2.7 0a1.35 1.35 0 1 0 -2.7 0M213.9 660.2a1.35 1.35 0 1 0 2.7 0a1.35 1.35 0 1 0 -2.7 0M214.3 660.4a1.35 1.35 0 1 0 2.7 0a1.35 1.35 0 1 0 -2.7 0M214.8 660.6a1.35 1.35 0 1 0 2.7 0a1.35 1.35 0 1 0 -2.7 0M215.2 660.8a1.35 1.35 0 1 0 2.7 0a1.35 1.35 0 1 0 -2.7 0M215.7 661.0a1.35 1.35 0 1 0 2.7 0a1.35 1.35 0 1 0 -2.7 0M216.2 661.2a1.35 1.35 0 1 0 2.7 0a1.35 1.35 0 1 0 -2.7 0M216.6 661.3a1.35 1.35 0 1 0 2.7 0a1.35 1.35 0 1 0 -2.7 0M217.1 661.5a1.35 1.35 0 1 0 2.7 0a1.35 1.35 0 1 0 -2.7 0M217.5 661.7a1.35 1.35 0 1 0 2.7 0a1.35 1.35 0 1 0 -2.7 0M218.0 661.9a1.35 1.35 0 1 0 2.7 0a1.35 1.35 0 1 0 -2.7 0M218.5 662.1a1.35 1.35 0 1 0 2.7 0a1.35 1.35 0 1 0 -2.7 0M218.9 662.3a1.35 1.35 0 1 0 2.7 0a1.35 1.35 0 1 0 -2.7 0M219.4 662.5a1.35 1.35 0 1 0 2.7 0a1.35 1.35 0 1 0 -2.7 0M219.9 662.6a1.35 1.35 0 1 0 2.7 0a1.35 1.35 0 1 0 -2.7 0M220.3 662.8a1.35 1.35 0 1 0 2.7 0a1.35 1.35 0 1 0 -2.7 0M220.8 663.0a1.35 1.35 0 1 0 2.7 0a1.35 1.35 0 1 0 -2.7 0M221.2 663.2a1.35 1.35 0 1 0 2.7 0a1.35 1.35 0 1 0 -2.7 0M221.7 663.3a1.35 1.35 0 1 0 2.7 0a1.35 1.35 0 1 0 -2.7 0M222.1 663.5a1.35 1.35 0 1 0 2.7 0a1.35 1.35 0 1 0 -2.7 0M222.6 663.7a1.35 1.35 0 1 0 2.7 0a1.35 1.35 0 1 0 -2.7 0M223.1 663.9a1.35 1.35 0 1 0 2.7 0a1.35 1.35 0 1 0 -2.7 0M223.5 664.0a1.35 1.35 0 1 0 2.7 0a1.35 1.35 0 1 0 -2.7 0M224.0 664.2a1.35 1.35 0 1 0 2.7 0a1.35 1.35 0 1 0 -2.7 0M224.4 664.4a1.35 1.35 0 1 0 2.7 0a1.35 1.35 0 1 0 -2.7 0M224.9 664.6a1.35 1.35 0 1 0 2.7 0a1.35 1.35 0 1 0 -2.7 0M225.3 664.7a1.35 1.35 0 1 0 2.7 0a1.35 1.35 0 1 0 -2.7 0M225.8 664.9a1.35 1.35 0 1 0 2.7 0a1.35 1.35 0 1 0 -2.7 0M226.3 665.1a1.35 1.35 0 1 0 2.7 0a1.35 1.35 0 1 0 -2.7 0M226.7 665.3a1.35 1.35 0 1 0 2.7 0a1.35 1.35 0 1 0 -2.7 0M227.2 665.4a1.35 1.35 0 1 0 2.7 0a1.35 1.35 0 1 0 -2.7 0M227.6 665.6a1.35 1.35 0 1 0 2.7 0a1.35 1.35 0 1 0 -2.7 0M228.1 665.8a1.35 1.35 0 1 0 2.7 0a1.35 1.35 0 1 0 -2.7 0M228.5 665.9a1.35 1.35 0 1 0 2.7 0a1.35 1.35 0 1 0 -2.7 0M229.0 666.1a1.35 1.35 0 1 0 2.7 0a1.35 1.35 0 1 0 -2.7 0M229.4 666.3a1.35 1.35 0 1 0 2.7 0a1.35 1.35 0 1 0 -2.7 0M229.9 666.4a1.35 1.35 0 1 0 2.7 0a1.35 1.35 0 1 0 -2.7 0M230.4 666.6a1.35 1.35 0 1 0 2.7 0a1.35 1.35 0 1 0 -2.7 0M230.8 666.8a1.35 1.35 0 1 0 2.7 0a1.35 1.35 0 1 0 -2.7 0M231.3 666.9a1.35 1.35 0 1 0 2.7 0a1.35 1.35 0 1 0 -2.7 0M231.7 667.1a1.35 1.35 0 1 0 2.7 0a1.35 1.35 0 1 0 -2.7 0M232.2 667.2a1.35 1.35 0 1 0 2.7 0a1.35 1.35 0 1 0 -2.7 0M232.6 667.4a1.35 1.35 0 1 0 2.7 0a1.35 1.35 0 1 0 -2.7 0M233.1 667.6a1.35 1.35 0 1 0 2.7 0a1.35 1.35 0 1 0 -2.7 0M233.5 667.7a1.35 1.35 0 1 0 2.7 0a1.35 1.35 0 1 0 -2.7 0M234.0 667.9a1.35 1.35 0 1 0 2.7 0a1.35 1.35 0 1 0 -2.7 0M234.4 668.1a1.35 1.35 0 1 0 2.7 0a1.35 1.35 0 1 0 -2.7 0M234.9 668.2a1.35 1.35 0 1 0 2.7 0a1.35 1.35 0 1 0 -2.7 0M235.4 668.4a1.35 1.35 0 1 0 2.7 0a1.35 1.35 0 1 0 -2.7 0M235.8 668.5a1.35 1.35 0 1 0 2.7 0a1.35 1.35 0 1 0 -2.7 0M236.3 668.7a1.35 1.35 0 1 0 2.7 0a1.35 1.35 0 1 0 -2.7 0M236.7 668.9a1.35 1.35 0 1 0 2.7 0a1.35 1.35 0 1 0 -2.7 0M237.2 669.0a1.35 1.35 0 1 0 2.7 0a1.35 1.35 0 1 0 -2.7 0M237.6 669.2a1.35 1.35 0 1 0 2.7 0a1.35 1.35 0 1 0 -2.7 0M238.1 669.3a1.35 1.35 0 1 0 2.7 0a1.35 1.35 0 1 0 -2.7 0M238.5 669.5a1.35 1.35 0 1 0 2.7 0a1.35 1.35 0 1 0 -2.7 0M239.0 669.7a1.35 1.35 0 1 0 2.7 0a1.35 1.35 0 1 0 -2.7 0M239.4 669.8a1.35 1.35 0 1 0 2.7 0a1.35 1.35 0 1 0 -2.7 0M239.9 670.0a1.35 1.35 0 1 0 2.7 0a1.35 1.35 0 1 0 -2.7 0M240.3 670.1a1.35 1.35 0 1 0 2.7 0a1.35 1.35 0 1 0 -2.7 0M240.8 670.3a1.35 1.35 0 1 0 2.7 0a1.35 1.35 0 1 0 -2.7 0M241.2 670.4a1.35 1.35 0 1 0 2.7 0a1.35 1.35 0 1 0 -2.7 0M241.7 670.6a1.35 1.35 0 1 0 2.7 0a1.35 1.35 0 1 0 -2.7 0M242.1 670.8a1.35 1.35 0 1 0 2.7 0a1.35 1.35 0 1 0 -2.7 0M242.6 670.9a1.35 1.35 0 1 0 2.7 0a1.35 1.35 0 1 0 -2.7 0M243.0 671.1a1.35 1.35 0 1 0 2.7 0a1.35 1.35 0 1 0 -2.7 0M243.5 671.2a1.35 1.35 0 1 0 2.7 0a1.35 1.35 0 1 0 -2.7 0M244.0 671.4a1.35 1.35 0 1 0 2.7 0a1.35 1.35 0 1 0 -2.7 0M244.4 671.5a1.35 1.35 0 1 0 2.7 0a1.35 1.35 0 1 0 -2.7 0M244.9 671.7a1.35 1.35 0 1 0 2.7 0a1.35 1.35 0 1 0 -2.7 0M245.3 671.8a1.35 1.35 0 1 0 2.7 0a1.35 1.35 0 1 0 -2.7 0M245.8 672.0a1.35 1.35 0 1 0 2.7 0a1.35 1.35 0 1 0 -2.7 0M246.2 672.1a1.35 1.35 0 1 0 2.7 0a1.35 1.35 0 1 0 -2.7 0M246.7 672.3a1.35 1.35 0 1 0 2.7 0a1.35 1.35 0 1 0 -2.7 0M247.1 672.5a1.35 1.35 0 1 0 2.7 0a1.35 1.35 0 1 0 -2.7 0M247.6 672.6a1.35 1.35 0 1 0 2.7 0a1.35 1.35 0 1 0 -2.7 0M248.0 672.8a1.35 1.35 0 1 0 2.7 0a1.35 1.35 0 1 0 -2.7 0M248.5 672.9a1.35 1.35 0 1 0 2.7 0a1.35 1.35 0 1 0 -2.7 0M248.9 673.1a1.35 1.35 0 1 0 2.7 0a1.35 1.35 0 1 0 -2.7 0M249.4 673.2a1.35 1.35 0 1 0 2.7 0a1.35 1.35 0 1 0 -2.7 0M249.8 673.4a1.35 1.35 0 1 0 2.7 0a1.35 1.35 0 1 0 -2.7 0M250.3 673.5a1.35 1.35 0 1 0 2.7 0a1.35 1.35 0 1 0 -2.7 0M250.7 673.7a1.35 1.35 0 1 0 2.7 0a1.35 1.35 0 1 0 -2.7 0M251.2 673.8a1.35 1.35 0 1 0 2.7 0a1.35 1.35 0 1 0 -2.7 0M251.6 674.0a1.35 1.35 0 1 0 2.7 0a1.35 1.35 0 1 0 -2.7 0M252.1 674.1a1.35 1.35 0 1 0 2.7 0a1.35 1.35 0 1 0 -2.7 0M252.5 674.3a1.35 1.35 0 1 0 2.7 0a1.35 1.35 0 1 0 -2.7 0M253.0 674.4a1.35 1.35 0 1 0 2.7 0a1.35 1.35 0 1 0 -2.7 0M253.4 674.6a1.35 1.35 0 1 0 2.7 0a1.35 1.35 0 1 0 -2.7 0M253.9 674.7a1.35 1.35 0 1 0 2.7 0a1.35 1.35 0 1 0 -2.7 0M254.4 674.9a1.35 1.35 0 1 0 2.7 0a1.35 1.35 0 1 0 -2.7 0M254.8 675.0a1.35 1.35 0 1 0 2.7 0a1.35 1.35 0 1 0 -2.7 0M255.3 675.2a1.35 1.35 0 1 0 2.7 0a1.35 1.35 0 1 0 -2.7 0M255.7 675.3a1.35 1.35 0 1 0 2.7 0a1.35 1.35 0 1 0 -2.7 0M256.2 675.5a1.35 1.35 0 1 0 2.7 0a1.35 1.35 0 1 0 -2.7 0M256.6 675.6a1.35 1.35 0 1 0 2.7 0a1.35 1.35 0 1 0 -2.7 0M257.1 675.8a1.35 1.35 0 1 0 2.7 0a1.35 1.35 0 1 0 -2.7 0M257.5 676.0a1.35 1.35 0 1 0 2.7 0a1.35 1.35 0 1 0 -2.7 0M258.0 676.1a1.35 1.35 0 1 0 2.7 0a1.35 1.35 0 1 0 -2.7 0M258.4 676.3a1.35 1.35 0 1 0 2.7 0a1.35 1.35 0 1 0 -2.7 0M258.9 676.4a1.35 1.35 0 1 0 2.7 0a1.35 1.35 0 1 0 -2.7 0M259.3 676.6a1.35 1.35 0 1 0 2.7 0a1.35 1.35 0 1 0 -2.7 0M259.8 676.7a1.35 1.35 0 1 0 2.7 0a1.35 1.35 0 1 0 -2.7 0M260.2 676.9a1.35 1.35 0 1 0 2.7 0a1.35 1.35 0 1 0 -2.7 0M260.7 677.0a1.35 1.35 0 1 0 2.7 0a1.35 1.35 0 1 0 -2.7 0M261.1 677.2a1.35 1.35 0 1 0 2.7 0a1.35 1.35 0 1 0 -2.7 0M261.6 677.3a1.35 1.35 0 1 0 2.7 0a1.35 1.35 0 1 0 -2.7 0M262.0 677.5a1.35 1.35 0 1 0 2.7 0a1.35 1.35 0 1 0 -2.7 0M262.5 677.6a1.35 1.35 0 1 0 2.7 0a1.35 1.35 0 1 0 -2.7 0M262.9 677.8a1.35 1.35 0 1 0 2.7 0a1.35 1.35 0 1 0 -2.7 0M263.4 677.9a1.35 1.35 0 1 0 2.7 0a1.35 1.35 0 1 0 -2.7 0M263.8 678.1a1.35 1.35 0 1 0 2.7 0a1.35 1.35 0 1 0 -2.7 0M264.3 678.2a1.35 1.35 0 1 0 2.7 0a1.35 1.35 0 1 0 -2.7 0M264.7 678.4a1.35 1.35 0 1 0 2.7 0a1.35 1.35 0 1 0 -2.7 0M265.2 678.5a1.35 1.35 0 1 0 2.7 0a1.35 1.35 0 1 0 -2.7 0M265.6 678.7a1.35 1.35 0 1 0 2.7 0a1.35 1.35 0 1 0 -2.7 0M266.1 678.8a1.35 1.35 0 1 0 2.7 0a1.35 1.35 0 1 0 -2.7 0M266.5 679.0a1.35 1.35 0 1 0 2.7 0a1.35 1.35 0 1 0 -2.7 0M267.0 679.1a1.35 1.35 0 1 0 2.7 0a1.35 1.35 0 1 0 -2.7 0M267.4 679.3a1.35 1.35 0 1 0 2.7 0a1.35 1.35 0 1 0 -2.7 0M267.9 679.5a1.35 1.35 0 1 0 2.7 0a1.35 1.35 0 1 0 -2.7 0M268.3 679.6a1.35 1.35 0 1 0 2.7 0a1.35 1.35 0 1 0 -2.7 0M268.8 679.8a1.35 1.35 0 1 0 2.7 0a1.35 1.35 0 1 0 -2.7 0M269.2 679.9a1.35 1.35 0 1 0 2.7 0a1.35 1.35 0 1 0 -2.7 0M269.7 680.1a1.35 1.35 0 1 0 2.7 0a1.35 1.35 0 1 0 -2.7 0M270.1 680.2a1.35 1.35 0 1 0 2.7 0a1.35 1.35 0 1 0 -2.7 0M270.6 680.4a1.35 1.35 0 1 0 2.7 0a1.35 1.35 0 1 0 -2.7 0M271.0 680.5a1.35 1.35 0 1 0 2.7 0a1.35 1.35 0 1 0 -2.7 0M271.5 680.7a1.35 1.35 0 1 0 2.7 0a1.35 1.35 0 1 0 -2.7 0M271.9 680.9a1.35 1.35 0 1 0 2.7 0a1.35 1.35 0 1 0 -2.7 0M272.4 681.0a1.35 1.35 0 1 0 2.7 0a1.35 1.35 0 1 0 -2.7 0M272.8 681.2a1.35 1.35 0 1 0 2.7 0a1.35 1.35 0 1 0 -2.7 0M273.3 681.3a1.35 1.35 0 1 0 2.7 0a1.35 1.35 0 1 0 -2.7 0M273.7 681.5a1.35 1.35 0 1 0 2.7 0a1.35 1.35 0 1 0 -2.7 0M274.2 681.6a1.35 1.35 0 1 0 2.7 0a1.35 1.35 0 1 0 -2.7 0M274.6 681.8a1.35 1.35 0 1 0 2.7 0a1.35 1.35 0 1 0 -2.7 0M275.1 682.0a1.35 1.35 0 1 0 2.7 0a1.35 1.35 0 1 0 -2.7 0M275.5 682.1a1.35 1.35 0 1 0 2.7 0a1.35 1.35 0 1 0 -2.7 0M276.0 682.3a1.35 1.35 0 1 0 2.7 0a1.35 1.35 0 1 0 -2.7 0M276.4 682.4a1.35 1.35 0 1 0 2.7 0a1.35 1.35 0 1 0 -2.7 0M276.9 682.6a1.35 1.35 0 1 0 2.7 0a1.35 1.35 0 1 0 -2.7 0M277.3 682.7a1.35 1.35 0 1 0 2.7 0a1.35 1.35 0 1 0 -2.7 0" stroke="#00f" stroke-width="0.55" fill="none"/>
<path d="M197.0 656.3L198.5 656.9L200.0 657.5L201.5 658.2L203.0 658.8L204.5 659.4L206.0 660.0L207.5 660.6L209.0 661.1L210.5 661.7L212.0 662.3L213.5 662.9L215.0 663.4L216.5 664.0L218.0 664.5L219.5 665.1L221.0 665.6L222.5 666.2L224.0 666.7L225.5 667.2L227.0 667.7L228.5 668.3L230.0 668.8L231.5 669.3L233.0 669.8L234.5 670.3L236.0 670.8L237.5 671.3L239.0 671.8L240.5 672.3L242.0 672.8L243.5 673.2L245.0 673.7L246.5 674.2L248.0 674.7L249.5 675.2L251.0 675.7L252.5 676.1L254.0 676.6L255.5 677.1L257.0 677.6L258.5 678.0L260.0 678.5L261.5 679.0L263.0 679.4L264.5 679.9L266.0 680.4L267.5 680.9L269.0 681.3L270.5 681.8L272.0 682.3L273.5 682.7L275.0 683.2L276.5 683.7L278.0 684.2L279.5 684.7" stroke="#808080" stroke-width="3.0" fill="none" stroke-linejoin="round"/>
<path d="M68.9 628.2h2.35v2.35h-2.35zM82.8 629.4h2.35v2.35h-2.35zM91.0 628.2h2.35v2.35h-2.35zM96.8 628.6h2.35v2.35h-2.35zM101.3 626.5h2.35v2.35h-2.35zM104.9 628.6h2.35v2.35h-2.35zM110.7 627.3h2.35v2.35h-2.35zM113.1 628.6h2.35v2.35h-2.35zM115.2 628.1h2.35v2.35h-2.35zM117.1 629.4h2.35v2.35h-2.35zM118.8 627.8h2.35v2.35h-2.35zM120.4 629.0h2.35v2.35h-2.35zM121.9 629.2h2.35v2.35h-2.35zM124.6 630.7h2.35v2.35h-2.35zM125.8 630.2h2.35v2.35h-2.35zM127.0 630.7h2.35v2.35h-2.35zM128.1 629.6h2.35v2.35h-2.35zM129.1 629.4h2.35v2.35h-2.35zM130.1 630.1h2.35v2.35h-2.35zM131.0 628.5h2.35v2.35h-2.35zM132.8 630.5h2.35v2.35h-2.35zM133.6 631.4h2.35v2.35h-2.35zM134.4 631.1h2.35v2.35h-2.35zM135.1 631.4h2.35v2.35h-2.35zM136.6 631.8h2.35v2.35h-2.35zM137.2 631.2h2.35v2.35h-2.35zM138.5 633.1h2.35v2.35h-2.35zM139.2 632.8h2.35v2.35h-2.35zM139.8 633.0h2.35v2.35h-2.35zM140.3 632.3h2.35v2.35h-2.35zM140.9 632.5h2.35v2.35h-2.35zM141.5 632.6h2.35v2.35h-2.35zM142.0 631.9h2.35v2.35h-2.35zM143.0 631.7h2.35v2.35h-2.35zM143.5 632.3h2.35v2.35h-2.35zM144.0 633.3h2.35v2.35h-2.35zM144.5 632.9h2.35v2.35h-2.35zM144.9 632.3h2.35v2.35h-2.35zM145.4 632.8h2.35v2.35h-2.35zM146.7 633.0h2.35v2.35h-2.35zM147.5 633.4h2.35v2.35h-2.35zM148.3 634.3h2.35v2.35h-2.35zM149.0 633.3h2.35v2.35h-2.35zM149.8 634.5h2.35v2.35h-2.35zM150.5 634.2h2.35v2.35h-2.35zM151.5 635.1h2.35v2.35h-2.35zM152.5 635.3h2.35v2.35h-2.35zM153.1 635.5h2.35v2.35h-2.35zM153.7 635.0h2.35v2.35h-2.35zM154.3 635.4h2.35v2.35h-2.35zM154.8 635.0h2.35v2.35h-2.35zM155.4 635.9h2.35v2.35h-2.35zM155.9 636.6h2.35v2.35h-2.35zM156.4 636.8h2.35v2.35h-2.35zM156.9 636.4h2.35v2.35h-2.35zM157.4 636.4h2.35v2.35h-2.35zM157.9 636.8h2.35v2.35h-2.35zM158.4 637.4h2.35v2.35h-2.35zM158.9 638.1h2.35v2.35h-2.35zM159.3 637.7h2.35v2.35h-2.35zM160.0 638.1h2.35v2.35h-2.35zM160.6 637.7h2.35v2.35h-2.35zM161.2 638.4h2.35v2.35h-2.35zM161.8 639.3h2.35v2.35h-2.35zM162.4 638.5h2.35v2.35h-2.35zM163.0 638.9h2.35v2.35h-2.35zM163.9 639.4h2.35v2.35h-2.35zM164.4 639.7h2.35v2.35h-2.35zM165.1 640.8h2.35v2.35h-2.35zM165.6 640.9h2.35v2.35h-2.35zM166.1 641.1h2.35v2.35h-2.35zM166.5 640.8h2.35v2.35h-2.35zM167.0 641.5h2.35v2.35h-2.35zM167.6 641.3h2.35v2.35h-2.35zM168.2 641.7h2.35v2.35h-2.35zM168.7 641.8h2.35v2.35h-2.35zM169.3 642.2h2.35v2.35h-2.35zM169.8 642.7h2.35v2.35h-2.35zM170.5 643.4h2.35v2.35h-2.35zM171.0 643.4h2.35v2.35h-2.35zM171.5 643.8h2.35v2.35h-2.35zM172.0 644.4h2.35v2.35h-2.35zM172.4 644.3h2.35v2.35h-2.35zM172.9 644.9h2.35v2.35h-2.35zM173.5 644.2h2.35v2.35h-2.35zM174.0 644.7h2.35v2.35h-2.35zM174.5 644.9h2.35v2.35h-2.35zM175.0 645.8h2.35v2.35h-2.35zM175.5 646.6h2.35v2.35h-2.35zM176.1 646.0h2.35v2.35h-2.35zM176.6 646.2h2.35v2.35h-2.35zM177.1 646.5h2.35v2.35h-2.35zM177.6 646.9h2.35v2.35h-2.35zM178.2 647.0h2.35v2.35h-2.35zM178.7 647.7h2.35v2.35h-2.35zM179.2 647.7h2.35v2.35h-2.35zM179.7 647.7h2.35v2.35h-2.35zM180.1 648.2h2.35v2.35h-2.35zM180.6 648.5h2.35v2.35h-2.35zM181.1 648.6h2.35v2.35h-2.35zM181.6 648.6h2.35v2.35h-2.35zM182.1 648.7h2.35v2.35h-2.35zM182.7 649.5h2.35v2.35h-2.35zM183.2 649.3h2.35v2.35h-2.35zM183.8 649.6h2.35v2.35h-2.35zM184.3 649.9h2.35v2.35h-2.35zM184.8 650.2h2.35v2.35h-2.35zM185.3 650.3h2.35v2.35h-2.35zM185.8 650.6h2.35v2.35h-2.35zM186.2 650.7h2.35v2.35h-2.35zM186.7 651.3h2.35v2.35h-2.35zM187.2 651.6h2.35v2.35h-2.35zM187.6 651.4h2.35v2.35h-2.35zM188.1 651.6h2.35v2.35h-2.35zM188.6 651.7h2.35v2.35h-2.35zM189.1 652.0h2.35v2.35h-2.35zM189.5 652.3h2.35v2.35h-2.35zM190.1 652.9h2.35v2.35h-2.35zM190.5 652.5h2.35v2.35h-2.35zM191.0 653.1h2.35v2.35h-2.35zM191.5 653.3h2.35v2.35h-2.35zM191.9 653.6h2.35v2.35h-2.35zM192.4 654.1h2.35v2.35h-2.35zM192.9 653.6h2.35v2.35h-2.35zM193.4 654.1h2.35v2.35h-2.35zM193.9 654.3h2.35v2.35h-2.35zM194.4 654.4h2.35v2.35h-2.35zM194.8 654.9h2.35v2.35h-2.35zM195.3 654.8h2.35v2.35h-2.35zM195.8 655.2h2.35v2.35h-2.35zM196.3 655.3h2.35v2.35h-2.35zM196.8 655.5h2.35v2.35h-2.35zM197.2 655.6h2.35v2.35h-2.35zM197.7 655.8h2.35v2.35h-2.35zM198.2 656.0h2.35v2.35h-2.35zM198.7 656.3h2.35v2.35h-2.35zM199.2 656.6h2.35v2.35h-2.35zM199.7 656.7h2.35v2.35h-2.35zM200.2 656.8h2.35v2.35h-2.35zM200.6 657.1h2.35v2.35h-2.35zM201.1 657.3h2.35v2.35h-2.35zM201.5 657.5h2.35v2.35h-2.35zM202.0 657.7h2.35v2.35h-2.35zM202.5 658.0h2.35v2.35h-2.35zM202.9 658.1h2.35v2.35h-2.35zM203.4 658.1h2.35v2.35h-2.35zM203.9 658.3h2.35v2.35h-2.35zM204.3 658.5h2.35v2.35h-2.35zM204.8 658.7h2.35v2.35h-2.35zM205.2 659.1h2.35v2.35h-2.35zM205.7 659.1h2.35v2.35h-2.35zM206.2 659.3h2.35v2.35h-2.35zM206.6 659.6h2.35v2.35h-2.35zM207.1 659.7h2.35v2.35h-2.35zM207.6 659.9h2.35v2.35h-2.35zM208.0 660.1h2.35v2.35h-2.35zM208.5 660.2h2.35v2.35h-2.35zM209.0 660.5h2.35v2.35h-2.35zM209.4 660.6h2.35v2.35h-2.35zM209.9 660.8h2.35v2.35h-2.35zM210.4 661.0h2.35v2.35h-2.35zM210.8 661.2h2.35v2.35h-2.35zM211.3 661.3h2.35v2.35h-2.35zM211.8 661.5h2.35v2.35h-2.35zM212.2 661.7h2.35v2.35h-2.35zM212.7 661.8h2.35v2.35h-2.35zM213.1 662.0h2.35v2.35h-2.35zM213.6 662.2h2.35v2.35h-2.35zM214.0 662.3h2.35v2.35h-2.35zM214.5 662.5h2.35v2.35h-2.35zM215.0 662.7h2.35v2.35h-2.35zM215.4 662.8h2.35v2.35h-2.35zM215.9 663.0h2.35v2.35h-2.35zM216.3 663.2h2.35v2.35h-2.35zM216.8 663.3h2.35v2.35h-2.35zM217.2 663.5h2.35v2.35h-2.35zM217.7 663.7h2.35v2.35h-2.35zM218.2 663.9h2.35v2.35h-2.35zM218.7 664.0h2.35v2.35h-2.35zM219.1 664.2h2.35v2.35h-2.35zM219.6 664.4h2.35v2.35h-2.35zM220.0 664.5h2.35v2.35h-2.35zM220.5 664.7h2.35v2.35h-2.35zM220.9 664.8h2.35v2.35h-2.35zM221.4 665.0h2.35v2.35h-2.35zM221.9 665.2h2.35v2.35h-2.35zM222.3 665.3h2.35v2.35h-2.35zM222.8 665.5h2.35v2.35h-2.35zM223.2 665.7h2.35v2.35h-2.35zM223.7 665.8h2.35v2.35h-2.35zM224.1 666.0h2.35v2.35h-2.35zM224.6 666.1h2.35v2.35h-2.35zM225.1 666.3h2.35v2.35h-2.35zM225.5 666.4h2.35v2.35h-2.35zM226.0 666.6h2.35v2.35h-2.35zM226.4 666.8h2.35v2.35h-2.35zM226.9 666.9h2.35v2.35h-2.35zM227.3 667.1h2.35v2.35h-2.35zM227.8 667.2h2.35v2.35h-2.35zM228.2 667.4h2.35v2.35h-2.35zM228.7 667.6h2.35v2.35h-2.35zM229.2 667.7h2.35v2.35h-2.35zM229.6 667.9h2.35v2.35h-2.35zM230.1 668.0h2.35v2.35h-2.35zM230.5 668.2h2.35v2.35h-2.35zM231.0 668.3h2.35v2.35h-2.35zM231.4 668.5h2.35v2.35h-2.35zM231.9 668.6h2.35v2.35h-2.35zM232.4 668.8h2.35v2.35h-2.35zM232.8 668.9h2.35v2.35h-2.35zM233.3 669.1h2.35v2.35h-2.35zM233.7 669.2h2.35v2.35h-2.35zM234.2 669.4h2.35v2.35h-2.35zM234.6 669.5h2.35v2.35h-2.35zM235.1 669.7h2.35v2.35h-2.35zM235.5 669.8h2.35v2.35h-2.35zM236.0 670.0h2.35v2.35h-2.35zM236.4 670.1h2.35v2.35h-2.35zM236.9 670.3h2.35v2.35h-2.35zM237.3 670.4h2.35v2.35h-2.35zM237.8 670.6h2.35v2.35h-2.35zM238.2 670.7h2.35v2.35h-2.35zM238.7 670.9h2.35v2.35h-2.35zM239.1 671.0h2.35v2.35h-2.35zM239.6 671.2h2.35v2.35h-2.35zM240.1 671.3h2.35v2.35h-2.35zM240.5 671.5h2.35v2.35h-2.35zM241.0 671.6h2.35v2.35h-2.35zM241.4 671.8h2.35v2.35h-2.35zM241.9 671.9h2.35v2.35h-2.35zM242.3 672.1h2.35v2.35h-2.35zM242.8 672.2h2.35v2.35h-2.35zM243.2 672.4h2.35v2.35h-2.35zM243.7 672.5h2.35v2.35h-2.35zM244.1 672.7h2.35v2.35h-2.35zM244.6 672.8h2.35v2.35h-2.35zM245.0 672.9h2.35v2.35h-2.35zM245.5 673.1h2.35v2.35h-2.35zM245.9 673.2h2.35v2.35h-2.35zM246.4 673.4h2.35v2.35h-2.35zM246.8 673.5h2.35v2.35h-2.35zM247.3 673.7h2.35v2.35h-2.35zM247.7 673.8h2.35v2.35h-2.35zM248.2 674.0h2.35v2.35h-2.35zM248.7 674.1h2.35v2.35h-2.35zM249.1 674.2h2.35v2.35h-2.35zM249.6 674.4h2.35v2.35h-2.35zM250.0 674.5h2.35v2.35h-2.35zM250.5 674.7h2.35v2.35h-2.35zM250.9 674.8h2.35v2.35h-2.35zM251.4 675.0h2.35v2.35h-2.35zM251.8 675.1h2.35v2.35h-2.35zM252.3 675.3h2.35v2.35h-2.35zM252.7 675.4h2.35v2.35h-2.35zM253.2 675.5h2.35v2.35h-2.35zM253.6 675.7h2.35v2.35h-2.35zM254.1 675.8h2.35v2.35h-2.35zM254.5 676.0h2.35v2.35h-2.35zM255.0 676.1h2.35v2.35h-2.35zM255.4 676.3h2.35v2.35h-2.35zM255.9 676.4h2.35v2.35h-2.35zM256.3 676.5h2.35v2.35h-2.35zM256.8 676.7h2.35v2.35h-2.35zM257.2 676.8h2.35v2.35h-2.35zM257.7 677.0h2.35v2.35h-2.35zM258.1 677.1h2.35v2.35h-2.35zM258.6 677.2h2.35v2.35h-2.35zM259.0 677.4h2.35v2.35h-2.35zM259.5 677.5h2.35v2.35h-2.35zM259.9 677.7h2.35v2.35h-2.35zM260.4 677.8h2.35v2.35h-2.35zM260.8 678.0h2.35v2.35h-2.35zM261.3 678.1h2.35v2.35h-2.35zM261.7 678.2h2.35v2.35h-2.35zM262.2 678.4h2.35v2.35h-2.35zM262.6 678.5h2.35v2.35h-2.35zM263.1 678.7h2.35v2.35h-2.35zM263.5 678.8h2.35v2.35h-2.35zM264.0 678.9h2.35v2.35h-2.35zM264.4 679.1h2.35v2.35h-2.35zM264.9 679.2h2.35v2.35h-2.35zM265.3 679.4h2.35v2.35h-2.35zM265.8 679.5h2.35v2.35h-2.35zM266.2 679.7h2.35v2.35h-2.35zM266.7 679.8h2.35v2.35h-2.35zM267.1 679.9h2.35v2.35h-2.35zM267.6 680.1h2.35v2.35h-2.35zM268.1 680.2h2.35v2.35h-2.35zM268.5 680.4h2.35v2.35h-2.35zM269.0 680.5h2.35v2.35h-2.35zM269.4 680.6h2.35v2.35h-2.35zM269.9 680.8h2.35v2.35h-2.35zM270.3 680.9h2.35v2.35h-2.35zM270.8 681.1h2.35v2.35h-2.35zM271.2 681.2h2.35v2.35h-2.35zM271.7 681.4h2.35v2.35h-2.35zM272.1 681.5h2.35v2.35h-2.35zM272.6 681.6h2.35v2.35h-2.35zM273.0 681.8h2.35v2.35h-2.35zM273.5 681.9h2.35v2.35h-2.35zM273.9 682.1h2.35v2.35h-2.35zM274.4 682.2h2.35v2.35h-2.35zM274.8 682.4h2.35v2.35h-2.35zM275.3 682.5h2.35v2.35h-2.35zM275.7 682.6h2.35v2.35h-2.35zM276.2 682.8h2.35v2.35h-2.35zM276.6 682.9h2.35v2.35h-2.35zM277.1 683.1h2.35v2.35h-2.35zM277.5 683.2h2.35v2.35h-2.35z" stroke="#8a8a8a" stroke-width="0.55" fill="none"/>
</g>
<g clip-path="url(#cB4)">
<path d="M407.8 634.1L409.3 635.2L410.8 636.3L412.3 637.4L413.8 638.4L415.3 639.5L416.8 640.6L418.3 641.6L419.8 642.6L421.3 643.6L422.8 644.6L424.3 645.5L425.8 646.4L427.3 647.2L428.8 648.0L430.3 648.8L431.8 649.6L433.3 650.4L434.8 651.1L436.3 651.8L437.8 652.4L439.3 653.1L440.8 653.7L442.3 654.3L443.8 654.9L445.3 655.5L446.8 656.0L448.3 656.6L449.8 657.1L451.3 657.6L452.8 658.2L454.3 658.7L455.8 659.2L457.3 659.7L458.8 660.1L460.3 660.6L461.8 661.1L463.3 661.6L464.8 662.1L466.3 662.6L467.8 663.0L469.3 663.5L470.8 664.0L472.3 664.5L473.8 664.9L475.3 665.4L476.8 665.8L478.3 666.3L479.8 666.8L481.3 667.2L482.8 667.7L484.3 668.1L485.8 668.6L487.3 669.1L488.8 669.5L490.3 670.0L491.8 670.4L493.3 670.9L494.8 671.3L496.3 671.8L497.8 672.3L499.3 672.7L500.8 673.2L502.3 673.6L503.8 674.1L505.3 674.5L506.8 675.0L508.3 675.5L509.8 675.9L511.3 676.4L512.8 676.9L514.3 677.4L515.8 677.8L517.3 678.3L518.8 678.8L520.3 679.3" stroke="#000" stroke-width="2.5" fill="none" stroke-linejoin="round"/>
<path d="M305.1 558.9h0M319.3 568.4h0M327.7 574.3h0M333.6 577.1h0M338.1 581.2h0M341.9 585.0h0M347.8 590.8h0M350.2 592.7h0M352.4 594.1h0M354.3 594.0h0M356.1 593.7h0M357.8 595.1h0M359.3 596.8h0M362.0 597.2h0M363.3 598.2h0M364.4 599.9h0M365.5 599.9h0M366.6 602.1h0M367.6 601.8h0M368.6 603.1h0M370.3 604.6h0M371.2 603.3h0M372.0 605.4h0M372.8 605.3h0M374.2 606.5h0M374.9 608.0h0M376.2 607.7h0M376.9 609.8h0M377.5 609.6h0M378.1 608.5h0M378.7 611.7h0M379.2 611.6h0M379.8 612.1h0M380.8 612.1h0M381.3 612.5h0M381.8 613.4h0M382.3 614.1h0M382.8 613.8h0M383.2 614.9h0M383.7 616.2h0M384.6 615.3h0M385.4 616.2h0M386.2 617.1h0M387.0 617.8h0M387.7 618.1h0M388.5 618.5h0M389.5 619.7h0M390.5 620.0h0M391.1 621.3h0M391.7 621.0h0M392.3 622.5h0M392.9 622.2h0M393.5 622.6h0M394.0 624.0h0M394.5 623.9h0M395.1 623.9h0M395.6 624.9h0M396.1 625.5h0M396.5 625.7h0M397.0 626.4h0M397.5 626.7h0M398.2 627.3h0M398.8 626.7h0M399.4 627.7h0M400.0 627.7h0M400.6 629.2h0M401.2 628.6h0M402.1 629.4h0M402.7 630.3h0M403.4 630.8h0M403.9 631.0h0M404.4 631.4h0M404.9 631.7h0M405.3 632.2h0M406.0 632.4h0M406.5 633.1h0M407.1 633.7h0M407.7 634.3h0M408.2 634.1h0M408.9 634.6h0M409.4 635.5h0M409.9 635.5h0M410.4 636.0h0M410.9 636.3h0M411.4 636.3h0M411.8 637.4h0M412.4 637.4h0M413.0 637.5h0M413.6 637.9h0M414.1 638.8h0M414.7 639.2h0M415.2 639.6h0M415.6 639.4h0M416.2 640.0h0M416.6 640.6h0M417.2 640.7h0M417.7 641.5h0M418.3 641.9h0M418.8 642.2h0M419.3 642.1h0M419.7 642.8h0M420.2 642.9h0M420.8 643.0h0M421.4 643.5h0M421.9 643.8h0M422.5 644.4h0M423.0 644.6h0M423.5 644.7h0M424.0 645.2h0M424.5 645.9h0M425.0 646.0h0M425.5 646.3h0M425.9 646.3h0M426.4 646.6h0M426.9 646.9h0M427.4 647.2h0M427.9 647.8h0M428.4 648.0h0M428.8 648.3h0M429.3 648.3h0M429.8 648.6h0M430.3 648.8h0M430.8 649.3h0M431.3 649.6h0M431.8 649.7h0M432.2 649.8h0M432.7 650.1h0M433.2 650.1h0M433.6 650.4h0M434.1 650.7h0M434.6 651.0h0M435.0 651.3h0M435.5 651.6h0M436.0 651.8h0M436.5 651.7h0M437.0 652.0h0M437.4 652.3h0M437.9 652.6h0M438.3 652.6h0M438.8 653.0h0M439.3 653.1h0M439.7 653.3h0M440.2 653.4h0M440.6 653.6h0M441.1 653.9h0M441.6 653.9h0M442.0 654.2h0M442.5 654.4h0M443.0 654.5h0M443.5 654.8h0M443.9 655.0h0M444.4 655.1h0M444.8 655.3h0M445.3 655.5h0M445.8 655.6h0M446.2 655.8h0M446.7 656.0h0M447.2 656.1h0M447.6 656.3h0M448.1 656.5h0M448.5 656.7h0M449.0 656.8h0M449.4 657.0h0M449.9 657.2h0M450.4 657.3h0M450.8 657.5h0M451.3 657.6h0M451.8 657.8h0M452.2 658.0h0M452.7 658.1h0M453.1 658.3h0M453.6 658.4h0M454.1 658.6h0M454.5 658.7h0M455.0 658.9h0M455.4 659.0h0M455.9 659.2h0M456.4 659.3h0M456.8 659.5h0M457.3 659.6h0M457.7 659.8h0M458.2 659.9h0M458.6 660.1h0M459.1 660.2h0M459.6 660.4h0M460.0 660.5h0M460.5 660.7h0M460.9 660.8h0M461.4 661.0h0M461.8 661.1h0M462.3 661.3h0M462.7 661.4h0M463.2 661.6h0M463.6 661.7h0M464.1 661.9h0M464.6 662.0h0M465.0 662.2h0M465.5 662.3h0M465.9 662.5h0M466.4 662.6h0M466.9 662.7h0M467.3 662.9h0M467.8 663.0h0M468.2 663.2h0M468.7 663.3h0M469.1 663.5h0M469.6 663.6h0M470.0 663.7h0M470.5 663.9h0M470.9 664.0h0M471.4 664.2h0M471.9 664.3h0M472.3 664.5h0M472.8 664.6h0M473.2 664.7h0M473.7 664.9h0M474.1 665.0h0M474.6 665.2h0M475.0 665.3h0M475.5 665.4h0M475.9 665.6h0M476.4 665.7h0M476.8 665.9h0M477.3 666.0h0M477.8 666.1h0M478.2 666.3h0M478.7 666.4h0M479.1 666.6h0M479.6 666.7h0M480.0 666.8h0M480.5 667.0h0M480.9 667.1h0M481.4 667.3h0M481.8 667.4h0M482.3 667.5h0M482.7 667.7h0M483.2 667.8h0M483.6 667.9h0M484.1 668.1h0M484.6 668.2h0M485.0 668.4h0M485.5 668.5h0M485.9 668.6h0M486.4 668.8h0M486.8 668.9h0M487.3 669.0h0M487.7 669.2h0M488.2 669.3h0M488.6 669.5h0M489.1 669.6h0M489.5 669.7h0M490.0 669.9h0M490.4 670.0h0M490.9 670.1h0M491.3 670.3h0M491.8 670.4h0M492.2 670.6h0M492.7 670.7h0M493.1 670.8h0M493.6 671.0h0M494.0 671.1h0M494.5 671.2h0M494.9 671.4h0M495.4 671.5h0M495.8 671.7h0M496.3 671.8h0M496.8 671.9h0M497.2 672.1h0M497.7 672.2h0M498.1 672.3h0M498.6 672.5h0M499.0 672.6h0M499.5 672.8h0M499.9 672.9h0M500.4 673.0h0M500.8 673.2h0M501.3 673.3h0M501.7 673.4h0M502.2 673.6h0M502.6 673.7h0M503.1 673.9h0M503.5 674.0h0M504.0 674.1h0M504.4 674.3h0M504.9 674.4h0M505.3 674.6h0M505.8 674.7h0M506.2 674.8h0M506.7 675.0h0M507.1 675.1h0M507.6 675.3h0M508.0 675.4h0M508.5 675.5h0M508.9 675.7h0M509.4 675.8h0M509.8 676.0h0M510.3 676.1h0M510.7 676.2h0M511.2 676.4h0M511.6 676.5h0M512.1 676.7h0M512.5 676.8h0M513.0 676.9h0M513.4 677.1h0M513.9 677.2h0M514.3 677.4h0M514.8 677.5h0M515.2 677.7h0M515.7 677.8h0M516.1 677.9h0M516.6 678.1h0M517.0 678.2h0M517.5 678.4h0M517.9 678.5h0M518.4 678.7h0M518.8 678.8h0M519.3 678.9h0M519.7 679.1h0M520.2 679.2h0" stroke="#000" stroke-width="2.7" stroke-linecap="round" fill="none"/>
<path d="M407.8 639.5L409.3 641.0L410.8 642.4L412.3 643.9L413.8 645.4L415.3 646.8L416.8 648.3L418.3 649.7L419.8 651.1L421.3 652.6L422.8 654.0L424.3 655.4L425.8 656.7L427.3 658.1L428.8 659.4L430.3 660.8L431.8 662.1L433.3 663.4L434.8 664.6L436.3 665.9L437.8 667.1L439.3 668.3L440.8 669.4L442.3 670.6L443.8 671.7L445.3 672.8L446.8 673.9L448.3 674.9L449.8 676.0L451.3 676.9L452.8 677.9L454.3 678.8L455.8 679.7L457.3 680.6L458.8 681.4L460.3 682.3L461.8 683.0L463.3 683.8L464.8 684.5L466.3 685.1L467.8 685.8L469.3 686.4L470.8 687.0L472.3 687.5L473.8 688.1L475.3 688.6L476.8 689.1L478.3 689.7L479.8 690.2L481.3 690.7L482.8 691.2L484.3 691.7L485.8 692.3L487.3 692.8L488.8 693.4L490.3 694.0L491.8 694.6L493.3 695.3L494.8 696.0L496.3 696.7L497.8 697.5L499.3 698.3L500.8 699.1L502.3 700.0L503.8 701.0L505.3 702.0" stroke="#f00" stroke-width="3.1" fill="none" stroke-linejoin="round"/>
<path d="M303.8 564.9h2.7v2.7h-2.7zM318.0 571.2h2.7v2.7h-2.7zM326.3 575.2h2.7v2.7h-2.7zM332.2 577.9h2.7v2.7h-2.7zM336.8 582.1h2.7v2.7h-2.7zM340.5 584.4h2.7v2.7h-2.7zM346.4 591.3h2.7v2.7h-2.7zM348.9 591.8h2.7v2.7h-2.7zM351.0 594.8h2.7v2.7h-2.7zM353.0 592.8h2.7v2.7h-2.7zM354.8 594.1h2.7v2.7h-2.7zM356.4 596.2h2.7v2.7h-2.7zM357.9 597.2h2.7v2.7h-2.7zM360.7 600.3h2.7v2.7h-2.7zM361.9 599.1h2.7v2.7h-2.7zM363.1 601.4h2.7v2.7h-2.7zM364.2 602.3h2.7v2.7h-2.7zM365.2 602.2h2.7v2.7h-2.7zM366.3 604.1h2.7v2.7h-2.7zM367.2 603.5h2.7v2.7h-2.7zM369.0 605.2h2.7v2.7h-2.7zM369.8 605.8h2.7v2.7h-2.7zM370.6 606.6h2.7v2.7h-2.7zM371.4 606.9h2.7v2.7h-2.7zM372.9 608.6h2.7v2.7h-2.7zM373.6 609.4h2.7v2.7h-2.7zM374.9 609.3h2.7v2.7h-2.7zM375.5 610.3h2.7v2.7h-2.7zM376.1 610.7h2.7v2.7h-2.7zM376.7 611.2h2.7v2.7h-2.7zM377.3 611.0h2.7v2.7h-2.7zM377.9 611.3h2.7v2.7h-2.7zM378.4 611.0h2.7v2.7h-2.7zM379.5 612.9h2.7v2.7h-2.7zM380.0 613.8h2.7v2.7h-2.7zM380.5 614.2h2.7v2.7h-2.7zM381.0 614.4h2.7v2.7h-2.7zM381.4 614.4h2.7v2.7h-2.7zM381.9 615.0h2.7v2.7h-2.7zM382.3 615.4h2.7v2.7h-2.7zM383.2 616.3h2.7v2.7h-2.7zM384.1 616.5h2.7v2.7h-2.7zM384.9 617.7h2.7v2.7h-2.7zM385.6 618.4h2.7v2.7h-2.7zM386.4 619.0h2.7v2.7h-2.7zM387.1 620.4h2.7v2.7h-2.7zM388.1 620.3h2.7v2.7h-2.7zM389.1 621.1h2.7v2.7h-2.7zM389.8 622.0h2.7v2.7h-2.7zM390.4 622.4h2.7v2.7h-2.7zM391.0 623.9h2.7v2.7h-2.7zM391.5 624.4h2.7v2.7h-2.7zM392.1 624.2h2.7v2.7h-2.7zM392.7 624.9h2.7v2.7h-2.7zM393.2 624.9h2.7v2.7h-2.7zM393.7 625.3h2.7v2.7h-2.7zM394.2 626.5h2.7v2.7h-2.7zM394.7 627.2h2.7v2.7h-2.7zM395.2 626.8h2.7v2.7h-2.7zM395.7 628.1h2.7v2.7h-2.7zM396.1 628.5h2.7v2.7h-2.7zM396.8 629.0h2.7v2.7h-2.7zM397.5 629.4h2.7v2.7h-2.7zM398.1 630.2h2.7v2.7h-2.7zM398.7 631.0h2.7v2.7h-2.7zM399.3 631.4h2.7v2.7h-2.7zM399.9 632.2h2.7v2.7h-2.7zM400.8 632.7h2.7v2.7h-2.7zM401.3 633.5h2.7v2.7h-2.7zM402.0 634.3h2.7v2.7h-2.7zM402.5 634.3h2.7v2.7h-2.7zM403.0 635.1h2.7v2.7h-2.7zM403.5 635.4h2.7v2.7h-2.7zM404.0 636.1h2.7v2.7h-2.7zM404.6 636.6h2.7v2.7h-2.7zM405.2 636.5h2.7v2.7h-2.7zM405.8 637.0h2.7v2.7h-2.7zM406.3 637.7h2.7v2.7h-2.7zM406.9 638.9h2.7v2.7h-2.7zM407.6 638.8h2.7v2.7h-2.7zM408.1 640.0h2.7v2.7h-2.7zM408.6 640.5h2.7v2.7h-2.7zM409.1 640.8h2.7v2.7h-2.7zM409.5 641.6h2.7v2.7h-2.7zM410.0 641.8h2.7v2.7h-2.7zM410.5 642.4h2.7v2.7h-2.7zM411.0 642.9h2.7v2.7h-2.7zM411.7 642.9h2.7v2.7h-2.7zM412.2 643.5h2.7v2.7h-2.7zM412.7 644.3h2.7v2.7h-2.7zM413.3 645.1h2.7v2.7h-2.7zM413.8 644.9h2.7v2.7h-2.7zM414.3 645.9h2.7v2.7h-2.7zM414.8 646.4h2.7v2.7h-2.7zM415.3 646.9h2.7v2.7h-2.7zM415.8 647.5h2.7v2.7h-2.7zM416.3 647.7h2.7v2.7h-2.7zM416.9 648.4h2.7v2.7h-2.7zM417.4 648.8h2.7v2.7h-2.7zM417.9 649.0h2.7v2.7h-2.7zM418.4 649.6h2.7v2.7h-2.7zM418.8 650.1h2.7v2.7h-2.7zM419.4 650.9h2.7v2.7h-2.7zM420.0 651.3h2.7v2.7h-2.7zM420.6 651.9h2.7v2.7h-2.7zM421.1 652.4h2.7v2.7h-2.7zM421.6 652.8h2.7v2.7h-2.7zM422.2 653.0h2.7v2.7h-2.7zM422.7 654.1h2.7v2.7h-2.7zM423.2 654.4h2.7v2.7h-2.7zM423.7 654.7h2.7v2.7h-2.7zM424.1 654.9h2.7v2.7h-2.7zM424.6 655.7h2.7v2.7h-2.7zM425.1 656.0h2.7v2.7h-2.7zM425.6 656.6h2.7v2.7h-2.7zM426.1 656.6h2.7v2.7h-2.7zM426.5 657.2h2.7v2.7h-2.7zM427.0 657.8h2.7v2.7h-2.7zM427.5 658.3h2.7v2.7h-2.7zM427.9 658.5h2.7v2.7h-2.7zM428.4 658.9h2.7v2.7h-2.7zM428.9 659.2h2.7v2.7h-2.7zM429.4 660.0h2.7v2.7h-2.7zM429.9 660.1h2.7v2.7h-2.7zM430.4 660.5h2.7v2.7h-2.7zM430.9 661.0h2.7v2.7h-2.7zM431.3 661.3h2.7v2.7h-2.7zM431.8 662.0h2.7v2.7h-2.7zM432.3 662.2h2.7v2.7h-2.7zM432.8 662.8h2.7v2.7h-2.7zM433.2 663.2h2.7v2.7h-2.7zM433.7 663.4h2.7v2.7h-2.7zM434.2 663.7h2.7v2.7h-2.7zM434.6 664.2h2.7v2.7h-2.7zM435.1 664.8h2.7v2.7h-2.7zM435.6 665.1h2.7v2.7h-2.7zM436.1 665.3h2.7v2.7h-2.7zM436.5 665.9h2.7v2.7h-2.7zM437.0 666.1h2.7v2.7h-2.7zM437.5 666.5h2.7v2.7h-2.7zM437.9 667.0h2.7v2.7h-2.7zM438.4 667.4h2.7v2.7h-2.7zM438.8 667.6h2.7v2.7h-2.7zM439.3 668.0h2.7v2.7h-2.7zM439.8 668.4h2.7v2.7h-2.7zM440.2 668.6h2.7v2.7h-2.7zM440.7 669.1h2.7v2.7h-2.7zM441.2 669.4h2.7v2.7h-2.7zM441.6 669.7h2.7v2.7h-2.7zM442.1 670.1h2.7v2.7h-2.7zM442.6 670.4h2.7v2.7h-2.7zM443.0 670.7h2.7v2.7h-2.7zM443.5 671.1h2.7v2.7h-2.7zM444.0 671.6h2.7v2.7h-2.7zM444.4 671.8h2.7v2.7h-2.7zM444.9 672.1h2.7v2.7h-2.7zM445.4 672.4h2.7v2.7h-2.7zM445.8 672.8h2.7v2.7h-2.7zM446.3 673.1h2.7v2.7h-2.7zM446.7 673.4h2.7v2.7h-2.7zM447.2 673.8h2.7v2.7h-2.7zM447.6 674.0h2.7v2.7h-2.7zM448.1 674.4h2.7v2.7h-2.7zM448.6 674.7h2.7v2.7h-2.7zM449.0 675.0h2.7v2.7h-2.7zM449.5 675.3h2.7v2.7h-2.7zM449.9 675.6h2.7v2.7h-2.7zM450.4 675.9h2.7v2.7h-2.7zM450.9 676.2h2.7v2.7h-2.7zM451.3 676.5h2.7v2.7h-2.7zM451.8 676.8h2.7v2.7h-2.7zM452.3 677.1h2.7v2.7h-2.7zM452.7 677.3h2.7v2.7h-2.7zM453.2 677.6h2.7v2.7h-2.7zM453.6 677.9h2.7v2.7h-2.7zM454.1 678.2h2.7v2.7h-2.7zM454.5 678.4h2.7v2.7h-2.7zM455.0 678.7h2.7v2.7h-2.7zM455.5 679.0h2.7v2.7h-2.7zM455.9 679.2h2.7v2.7h-2.7zM456.4 679.5h2.7v2.7h-2.7zM456.8 679.7h2.7v2.7h-2.7zM457.3 680.0h2.7v2.7h-2.7zM457.7 680.3h2.7v2.7h-2.7zM458.2 680.5h2.7v2.7h-2.7zM458.7 680.7h2.7v2.7h-2.7zM459.1 681.0h2.7v2.7h-2.7zM459.6 681.2h2.7v2.7h-2.7zM460.0 681.5h2.7v2.7h-2.7zM460.5 681.7h2.7v2.7h-2.7zM460.9 681.9h2.7v2.7h-2.7zM461.4 682.1h2.7v2.7h-2.7zM461.8 682.4h2.7v2.7h-2.7zM462.3 682.6h2.7v2.7h-2.7zM462.7 682.8h2.7v2.7h-2.7zM463.2 683.0h2.7v2.7h-2.7zM463.7 683.2h2.7v2.7h-2.7zM464.1 683.4h2.7v2.7h-2.7zM464.6 683.6h2.7v2.7h-2.7zM465.1 683.8h2.7v2.7h-2.7zM465.5 684.0h2.7v2.7h-2.7zM466.0 684.2h2.7v2.7h-2.7zM466.4 684.4h2.7v2.7h-2.7zM466.9 684.6h2.7v2.7h-2.7zM467.3 684.8h2.7v2.7h-2.7zM467.8 685.0h2.7v2.7h-2.7zM468.2 685.2h2.7v2.7h-2.7zM468.7 685.3h2.7v2.7h-2.7zM469.1 685.5h2.7v2.7h-2.7zM469.6 685.7h2.7v2.7h-2.7zM470.1 685.9h2.7v2.7h-2.7zM470.5 686.0h2.7v2.7h-2.7zM471.0 686.2h2.7v2.7h-2.7zM471.4 686.4h2.7v2.7h-2.7zM471.9 686.5h2.7v2.7h-2.7zM472.3 686.7h2.7v2.7h-2.7zM472.8 686.9h2.7v2.7h-2.7zM473.2 687.0h2.7v2.7h-2.7zM473.7 687.2h2.7v2.7h-2.7zM474.1 687.3h2.7v2.7h-2.7zM474.6 687.5h2.7v2.7h-2.7zM475.0 687.7h2.7v2.7h-2.7zM475.5 687.8h2.7v2.7h-2.7zM475.9 688.0h2.7v2.7h-2.7zM476.4 688.1h2.7v2.7h-2.7zM476.9 688.3h2.7v2.7h-2.7zM477.3 688.4h2.7v2.7h-2.7zM477.8 688.6h2.7v2.7h-2.7zM478.2 688.7h2.7v2.7h-2.7zM478.7 688.9h2.7v2.7h-2.7zM479.1 689.1h2.7v2.7h-2.7zM479.6 689.2h2.7v2.7h-2.7zM480.0 689.4h2.7v2.7h-2.7zM480.5 689.5h2.7v2.7h-2.7zM480.9 689.7h2.7v2.7h-2.7zM481.4 689.8h2.7v2.7h-2.7zM481.8 690.0h2.7v2.7h-2.7zM482.3 690.2h2.7v2.7h-2.7zM482.7 690.3h2.7v2.7h-2.7zM483.2 690.5h2.7v2.7h-2.7zM483.7 690.6h2.7v2.7h-2.7zM484.1 690.8h2.7v2.7h-2.7zM484.6 691.0h2.7v2.7h-2.7zM485.0 691.1h2.7v2.7h-2.7zM485.5 691.3h2.7v2.7h-2.7zM485.9 691.5h2.7v2.7h-2.7zM486.4 691.6h2.7v2.7h-2.7zM486.8 691.8h2.7v2.7h-2.7zM487.3 692.0h2.7v2.7h-2.7zM487.7 692.2h2.7v2.7h-2.7zM488.2 692.3h2.7v2.7h-2.7zM488.6 692.5h2.7v2.7h-2.7zM489.1 692.7h2.7v2.7h-2.7zM489.5 692.9h2.7v2.7h-2.7zM490.0 693.1h2.7v2.7h-2.7zM490.4 693.3h2.7v2.7h-2.7zM490.9 693.5h2.7v2.7h-2.7zM491.3 693.7h2.7v2.7h-2.7zM491.8 693.9h2.7v2.7h-2.7zM492.2 694.1h2.7v2.7h-2.7zM492.7 694.3h2.7v2.7h-2.7zM493.1 694.5h2.7v2.7h-2.7zM493.6 694.7h2.7v2.7h-2.7zM494.0 694.9h2.7v2.7h-2.7zM494.5 695.1h2.7v2.7h-2.7zM495.0 695.3h2.7v2.7h-2.7zM495.4 695.6h2.7v2.7h-2.7zM495.9 695.8h2.7v2.7h-2.7zM496.3 696.0h2.7v2.7h-2.7zM496.8 696.3h2.7v2.7h-2.7zM497.2 696.5h2.7v2.7h-2.7zM497.7 696.8h2.7v2.7h-2.7zM498.1 697.0h2.7v2.7h-2.7zM498.6 697.3h2.7v2.7h-2.7zM499.0 697.5h2.7v2.7h-2.7zM499.5 697.8h2.7v2.7h-2.7zM499.9 698.0h2.7v2.7h-2.7zM500.4 698.3h2.7v2.7h-2.7zM500.8 698.6h2.7v2.7h-2.7zM501.3 698.9h2.7v2.7h-2.7zM501.7 699.2h2.7v2.7h-2.7zM502.2 699.5h2.7v2.7h-2.7zM502.6 699.8h2.7v2.7h-2.7zM503.1 700.1h2.7v2.7h-2.7zM503.5 700.4h2.7v2.7h-2.7zM504.0 700.7h2.7v2.7h-2.7zM504.4 701.0h2.7v2.7h-2.7zM504.9 701.3h2.7v2.7h-2.7zM505.3 701.7h2.7v2.7h-2.7zM505.8 702.0h2.7v2.7h-2.7zM506.2 702.3h2.7v2.7h-2.7zM506.7 702.7h2.7v2.7h-2.7zM507.1 703.0h2.7v2.7h-2.7zM507.6 703.4h2.7v2.7h-2.7zM508.0 703.8h2.7v2.7h-2.7zM508.5 704.2h2.7v2.7h-2.7zM508.9 704.5h2.7v2.7h-2.7zM509.4 704.9h2.7v2.7h-2.7zM509.8 705.3h2.7v2.7h-2.7zM510.3 705.7h2.7v2.7h-2.7zM510.7 706.1h2.7v2.7h-2.7zM511.2 706.6h2.7v2.7h-2.7zM511.6 707.0h2.7v2.7h-2.7zM512.1 707.4h2.7v2.7h-2.7zM512.5 707.8h2.7v2.7h-2.7zM513.0 708.3h2.7v2.7h-2.7zM513.4 708.7h2.7v2.7h-2.7zM513.9 709.2h2.7v2.7h-2.7zM514.3 709.7h2.7v2.7h-2.7zM514.8 710.2h2.7v2.7h-2.7zM515.2 710.6h2.7v2.7h-2.7zM515.7 711.1h2.7v2.7h-2.7zM516.1 711.6h2.7v2.7h-2.7zM516.6 712.1h2.7v2.7h-2.7zM517.0 712.7h2.7v2.7h-2.7zM517.5 713.2h2.7v2.7h-2.7zM517.9 713.7h2.7v2.7h-2.7zM518.4 714.3h2.7v2.7h-2.7zM518.8 714.8h2.7v2.7h-2.7z" fill="#f00"/>
<path d="M432.8 654.5L434.3 655.1L435.8 655.6L437.3 656.2L438.8 656.7L440.3 657.3L441.8 657.8L443.3 658.4L444.8 658.9L446.3 659.4L447.8 659.9L449.3 660.4L450.8 660.9L452.3 661.4L453.8 661.9L455.3 662.4L456.8 662.9L458.3 663.4L459.8 663.9L461.3 664.3L462.8 664.8L464.3 665.3L465.8 665.7L467.3 666.2L468.8 666.7L470.3 667.1L471.8 667.6L473.3 668.0L474.8 668.5L476.3 668.9L477.8 669.4L479.3 669.8L480.8 670.3L482.3 670.7L483.8 671.2L485.3 671.6L486.8 672.0L488.3 672.5L489.8 672.9L491.3 673.4L492.8 673.8L494.3 674.2L495.8 674.7L497.3 675.1L498.8 675.6L500.3 676.0L501.8 676.5L503.3 676.9L504.8 677.4L506.3 677.8L507.8 678.3L509.3 678.7L510.8 679.2L512.3 679.7L513.8 680.1L515.3 680.6L516.8 681.1L518.3 681.5L519.8 682.0" stroke="#00f" stroke-width="3.0" fill="none" stroke-linejoin="round"/>
<path d="M303.8 588.7a1.35 1.35 0 1 0 2.7 0a1.35 1.35 0 1 0 -2.7 0M318.0 597.3a1.35 1.35 0 1 0 2.7 0a1.35 1.35 0 1 0 -2.7 0M326.3 600.8a1.35 1.35 0 1 0 2.7 0a1.35 1.35 0 1 0 -2.7 0M332.2 605.1a1.35 1.35 0 1 0 2.7 0a1.35 1.35 0 1 0 -2.7 0M336.8 607.7a1.35 1.35 0 1 0 2.7 0a1.35 1.35 0 1 0 -2.7 0M340.5 610.3a1.35 1.35 0 1 0 2.7 0a1.35 1.35 0 1 0 -2.7 0M346.4 617.5a1.35 1.35 0 1 0 2.7 0a1.35 1.35 0 1 0 -2.7 0M348.9 616.1a1.35 1.35 0 1 0 2.7 0a1.35 1.35 0 1 0 -2.7 0M351.0 617.1a1.35 1.35 0 1 0 2.7 0a1.35 1.35 0 1 0 -2.7 0M353.0 618.4a1.35 1.35 0 1 0 2.7 0a1.35 1.35 0 1 0 -2.7 0M354.8 619.4a1.35 1.35 0 1 0 2.7 0a1.35 1.35 0 1 0 -2.7 0M356.4 618.8a1.35 1.35 0 1 0 2.7 0a1.35 1.35 0 1 0 -2.7 0M357.9 618.8a1.35 1.35 0 1 0 2.7 0a1.35 1.35 0 1 0 -2.7 0M360.7 620.8a1.35 1.35 0 1 0 2.7 0a1.35 1.35 0 1 0 -2.7 0M361.9 622.5a1.35 1.35 0 1 0 2.7 0a1.35 1.35 0 1 0 -2.7 0M363.1 623.0a1.35 1.35 0 1 0 2.7 0a1.35 1.35 0 1 0 -2.7 0M364.2 622.7a1.35 1.35 0 1 0 2.7 0a1.35 1.35 0 1 0 -2.7 0M365.2 623.5a1.35 1.35 0 1 0 2.7 0a1.35 1.35 0 1 0 -2.7 0M366.3 625.3a1.35 1.35 0 1 0 2.7 0a1.35 1.35 0 1 0 -2.7 0M367.2 624.2a1.35 1.35 0 1 0 2.7 0a1.35 1.35 0 1 0 -2.7 0M369.0 625.6a1.35 1.35 0 1 0 2.7 0a1.35 1.35 0 1 0 -2.7 0M369.8 625.5a1.35 1.35 0 1 0 2.7 0a1.35 1.35 0 1 0 -2.7 0M370.6 626.0a1.35 1.35 0 1 0 2.7 0a1.35 1.35 0 1 0 -2.7 0M371.4 627.7a1.35 1.35 0 1 0 2.7 0a1.35 1.35 0 1 0 -2.7 0M372.9 625.9a1.35 1.35 0 1 0 2.7 0a1.35 1.35 0 1 0 -2.7 0M373.6 629.3a1.35 1.35 0 1 0 2.7 0a1.35 1.35 0 1 0 -2.7 0M374.9 627.9a1.35 1.35 0 1 0 2.7 0a1.35 1.35 0 1 0 -2.7 0M375.5 628.3a1.35 1.35 0 1 0 2.7 0a1.35 1.35 0 1 0 -2.7 0M376.1 629.2a1.35 1.35 0 1 0 2.7 0a1.35 1.35 0 1 0 -2.7 0M376.7 630.1a1.35 1.35 0 1 0 2.7 0a1.35 1.35 0 1 0 -2.7 0M377.3 628.7a1.35 1.35 0 1 0 2.7 0a1.35 1.35 0 1 0 -2.7 0M377.9 630.0a1.35 1.35 0 1 0 2.7 0a1.35 1.35 0 1 0 -2.7 0M378.4 631.3a1.35 1.35 0 1 0 2.7 0a1.35 1.35 0 1 0 -2.7 0M379.5 631.3a1.35 1.35 0 1 0 2.7 0a1.35 1.35 0 1 0 -2.7 0M380.0 630.8a1.35 1.35 0 1 0 2.7 0a1.35 1.35 0 1 0 -2.7 0M380.5 630.7a1.35 1.35 0 1 0 2.7 0a1.35 1.35 0 1 0 -2.7 0M381.0 630.6a1.35 1.35 0 1 0 2.7 0a1.35 1.35 0 1 0 -2.7 0M381.4 630.4a1.35 1.35 0 1 0 2.7 0a1.35 1.35 0 1 0 -2.7 0M381.9 631.7a1.35 1.35 0 1 0 2.7 0a1.35 1.35 0 1 0 -2.7 0M382.3 630.3a1.35 1.35 0 1 0 2.7 0a1.35 1.35 0 1 0 -2.7 0M383.2 633.6a1.35 1.35 0 1 0 2.7 0a1.35 1.35 0 1 0 -2.7 0M384.1 633.6a1.35 1.35 0 1 0 2.7 0a1.35 1.35 0 1 0 -2.7 0M384.9 634.0a1.35 1.35 0 1 0 2.7 0a1.35 1.35 0 1 0 -2.7 0M385.6 633.9a1.35 1.35 0 1 0 2.7 0a1.35 1.35 0 1 0 -2.7 0M386.4 634.2a1.35 1.35 0 1 0 2.7 0a1.35 1.35 0 1 0 -2.7 0M387.1 634.6a1.35 1.35 0 1 0 2.7 0a1.35 1.35 0 1 0 -2.7 0M388.1 635.2a1.35 1.35 0 1 0 2.7 0a1.35 1.35 0 1 0 -2.7 0M389.1 635.2a1.35 1.35 0 1 0 2.7 0a1.35 1.35 0 1 0 -2.7 0M389.8 634.9a1.35 1.35 0 1 0 2.7 0a1.35 1.35 0 1 0 -2.7 0M390.4 635.6a1.35 1.35 0 1 0 2.7 0a1.35 1.35 0 1 0 -2.7 0M391.0 636.7a1.35 1.35 0 1 0 2.7 0a1.35 1.35 0 1 0 -2.7 0M391.5 636.7a1.35 1.35 0 1 0 2.7 0a1.35 1.35 0 1 0 -2.7 0M392.1 638.2a1.35 1.35 0 1 0 2.7 0a1.35 1.35 0 1 0 -2.7 0M392.7 636.7a1.35 1.35 0 1 0 2.7 0a1.35 1.35 0 1 0 -2.7 0M393.2 637.7a1.35 1.35 0 1 0 2.7 0a1.35 1.35 0 1 0 -2.7 0M393.7 638.4a1.35 1.35 0 1 0 2.7 0a1.35 1.35 0 1 0 -2.7 0M394.2 638.2a1.35 1.35 0 1 0 2.7 0a1.35 1.35 0 1 0 -2.7 0M394.7 638.5a1.35 1.35 0 1 0 2.7 0a1.35 1.35 0 1 0 -2.7 0M395.2 639.7a1.35 1.35 0 1 0 2.7 0a1.35 1.35 0 1 0 -2.7 0M395.7 638.0a1.35 1.35 0 1 0 2.7 0a1.35 1.35 0 1 0 -2.7 0M396.1 638.9a1.35 1.35 0 1 0 2.7 0a1.35 1.35 0 1 0 -2.7 0M396.8 639.2a1.35 1.35 0 1 0 2.7 0a1.35 1.35 0 1 0 -2.7 0M397.5 639.4a1.35 1.35 0 1 0 2.7 0a1.35 1.35 0 1 0 -2.7 0M398.1 640.7a1.35 1.35 0 1 0 2.7 0a1.35 1.35 0 1 0 -2.7 0M398.7 640.0a1.35 1.35 0 1 0 2.7 0a1.35 1.35 0 1 0 -2.7 0M399.3 640.4a1.35 1.35 0 1 0 2.7 0a1.35 1.35 0 1 0 -2.7 0M399.9 640.8a1.35 1.35 0 1 0 2.7 0a1.35 1.35 0 1 0 -2.7 0M400.8 640.2a1.35 1.35 0 1 0 2.7 0a1.35 1.35 0 1 0 -2.7 0M401.3 642.0a1.35 1.35 0 1 0 2.7 0a1.35 1.35 0 1 0 -2.7 0M402.0 641.7a1.35 1.35 0 1 0 2.7 0a1.35 1.35 0 1 0 -2.7 0M402.5 641.9a1.35 1.35 0 1 0 2.7 0a1.35 1.35 0 1 0 -2.7 0M403.0 642.9a1.35 1.35 0 1 0 2.7 0a1.35 1.35 0 1 0 -2.7 0M403.5 642.6a1.35 1.35 0 1 0 2.7 0a1.35 1.35 0 1 0 -2.7 0M404.0 643.5a1.35 1.35 0 1 0 2.7 0a1.35 1.35 0 1 0 -2.7 0M404.6 643.5a1.35 1.35 0 1 0 2.7 0a1.35 1.35 0 1 0 -2.7 0M405.2 643.3a1.35 1.35 0 1 0 2.7 0a1.35 1.35 0 1 0 -2.7 0M405.8 643.7a1.35 1.35 0 1 0 2.7 0a1.35 1.35 0 1 0 -2.7 0M406.3 644.0a1.35 1.35 0 1 0 2.7 0a1.35 1.35 0 1 0 -2.7 0M406.9 644.4a1.35 1.35 0 1 0 2.7 0a1.35 1.35 0 1 0 -2.7 0M407.6 644.3a1.35 1.35 0 1 0 2.7 0a1.35 1.35 0 1 0 -2.7 0M408.1 644.1a1.35 1.35 0 1 0 2.7 0a1.35 1.35 0 1 0 -2.7 0M408.6 644.4a1.35 1.35 0 1 0 2.7 0a1.35 1.35 0 1 0 -2.7 0M409.1 645.0a1.35 1.35 0 1 0 2.7 0a1.35 1.35 0 1 0 -2.7 0M409.5 645.9a1.35 1.35 0 1 0 2.7 0a1.35 1.35 0 1 0 -2.7 0M410.0 645.7a1.35 1.35 0 1 0 2.7 0a1.35 1.35 0 1 0 -2.7 0M410.5 645.6a1.35 1.35 0 1 0 2.7 0a1.35 1.35 0 1 0 -2.7 0M411.0 646.1a1.35 1.35 0 1 0 2.7 0a1.35 1.35 0 1 0 -2.7 0M411.7 646.5a1.35 1.35 0 1 0 2.7 0a1.35 1.35 0 1 0 -2.7 0M412.2 646.4a1.35 1.35 0 1 0 2.7 0a1.35 1.35 0 1 0 -2.7 0M412.7 646.6a1.35 1.35 0 1 0 2.7 0a1.35 1.35 0 1 0 -2.7 0M413.3 647.2a1.35 1.35 0 1 0 2.7 0a1.35 1.35 0 1 0 -2.7 0M413.8 647.5a1.35 1.35 0 1 0 2.7 0a1.35 1.35 0 1 0 -2.7 0M414.3 646.8a1.35 1.35 0 1 0 2.7 0a1.35 1.35 0 1 0 -2.7 0M414.8 647.6a1.35 1.35 0 1 0 2.7 0a1.35 1.35 0 1 0 -2.7 0M415.3 647.6a1.35 1.35 0 1 0 2.7 0a1.35 1.35 0 1 0 -2.7 0M415.8 648.2a1.35 1.35 0 1 0 2.7 0a1.35 1.35 0 1 0 -2.7 0M416.3 648.3a1.35 1.35 0 1 0 2.7 0a1.35 1.35 0 1 0 -2.7 0M416.9 648.2a1.35 1.35 0 1 0 2.7 0a1.35 1.35 0 1 0 -2.7 0M417.4 648.9a1.35 1.35 0 1 0 2.7 0a1.35 1.35 0 1 0 -2.7 0M417.9 648.9a1.35 1.35 0 1 0 2.7 0a1.35 1.35 0 1 0 -2.7 0M418.4 649.5a1.35 1.35 0 1 0 2.7 0a1.35 1.35 0 1 0 -2.7 0M418.8 649.6a1.35 1.35 0 1 0 2.7 0a1.35 1.35 0 1 0 -2.7 0M419.4 649.4a1.35 1.35 0 1 0 2.7 0a1.35 1.35 0 1 0 -2.7 0M420.0 650.2a1.35 1.35 0 1 0 2.7 0a1.35 1.35 0 1 0 -2.7 0M420.6 650.1a1.35 1.35 0 1 0 2.7 0a1.35 1.35 0 1 0 -2.7 0M421.1 650.3a1.35 1.35 0 1 0 2.7 0a1.35 1.35 0 1 0 -2.7 0M421.6 650.5a1.35 1.35 0 1 0 2.7 0a1.35 1.35 0 1 0 -2.7 0M422.2 650.5a1.35 1.35 0 1 0 2.7 0a1.35 1.35 0 1 0 -2.7 0M422.7 651.1a1.35 1.35 0 1 0 2.7 0a1.35 1.35 0 1 0 -2.7 0M423.2 651.2a1.35 1.35 0 1 0 2.7 0a1.35 1.35 0 1 0 -2.7 0M423.7 651.6a1.35 1.35 0 1 0 2.7 0a1.35 1.35 0 1 0 -2.7 0M424.1 651.9a1.35 1.35 0 1 0 2.7 0a1.35 1.35 0 1 0 -2.7 0M424.6 651.6a1.35 1.35 0 1 0 2.7 0a1.35 1.35 0 1 0 -2.7 0M425.1 652.1a1.35 1.35 0 1 0 2.7 0a1.35 1.35 0 1 0 -2.7 0M425.6 652.2a1.35 1.35 0 1 0 2.7 0a1.35 1.35 0 1 0 -2.7 0M426.1 652.3a1.35 1.35 0 1 0 2.7 0a1.35 1.35 0 1 0 -2.7 0M426.5 652.5a1.35 1.35 0 1 0 2.7 0a1.35 1.35 0 1 0 -2.7 0M427.0 652.8a1.35 1.35 0 1 0 2.7 0a1.35 1.35 0 1 0 -2.7 0M427.5 653.0a1.35 1.35 0 1 0 2.7 0a1.35 1.35 0 1 0 -2.7 0M427.9 653.3a1.35 1.35 0 1 0 2.7 0a1.35 1.35 0 1 0 -2.7 0M428.4 653.5a1.35 1.35 0 1 0 2.7 0a1.35 1.35 0 1 0 -2.7 0M428.9 653.6a1.35 1.35 0 1 0 2.7 0a1.35 1.35 0 1 0 -2.7 0M429.4 653.7a1.35 1.35 0 1 0 2.7 0a1.35 1.35 0 1 0 -2.7 0M429.9 653.8a1.35 1.35 0 1 0 2.7 0a1.35 1.35 0 1 0 -2.7 0M430.4 654.0a1.35 1.35 0 1 0 2.7 0a1.35 1.35 0 1 0 -2.7 0M430.9 654.2a1.35 1.35 0 1 0 2.7 0a1.35 1.35 0 1 0 -2.7 0M431.3 654.5a1.35 1.35 0 1 0 2.7 0a1.35 1.35 0 1 0 -2.7 0M431.8 654.8a1.35 1.35 0 1 0 2.7 0a1.35 1.35 0 1 0 -2.7 0M432.3 654.8a1.35 1.35 0 1 0 2.7 0a1.35 1.35 0 1 0 -2.7 0M432.8 655.0a1.35 1.35 0 1 0 2.7 0a1.35 1.35 0 1 0 -2.7 0M433.2 655.2a1.35 1.35 0 1 0 2.7 0a1.35 1.35 0 1 0 -2.7 0M433.7 655.4a1.35 1.35 0 1 0 2.7 0a1.35 1.35 0 1 0 -2.7 0M434.2 655.6a1.35 1.35 0 1 0 2.7 0a1.35 1.35 0 1 0 -2.7 0M434.6 655.7a1.35 1.35 0 1 0 2.7 0a1.35 1.35 0 1 0 -2.7 0M435.1 655.9a1.35 1.35 0 1 0 2.7 0a1.35 1.35 0 1 0 -2.7 0M435.6 656.0a1.35 1.35 0 1 0 2.7 0a1.35 1.35 0 1 0 -2.7 0M436.1 656.2a1.35 1.35 0 1 0 2.7 0a1.35 1.35 0 1 0 -2.7 0M436.5 656.4a1.35 1.35 0 1 0 2.7 0a1.35 1.35 0 1 0 -2.7 0M437.0 656.6a1.35 1.35 0 1 0 2.7 0a1.35 1.35 0 1 0 -2.7 0M437.5 656.7a1.35 1.35 0 1 0 2.7 0a1.35 1.35 0 1 0 -2.7 0M437.9 656.9a1.35 1.35 0 1 0 2.7 0a1.35 1.35 0 1 0 -2.7 0M438.4 657.1a1.35 1.35 0 1 0 2.7 0a1.35 1.35 0 1 0 -2.7 0M438.8 657.2a1.35 1.35 0 1 0 2.7 0a1.35 1.35 0 1 0 -2.7 0M439.3 657.4a1.35 1.35 0 1 0 2.7 0a1.35 1.35 0 1 0 -2.7 0M439.8 657.6a1.35 1.35 0 1 0 2.7 0a1.35 1.35 0 1 0 -2.7 0M440.2 657.7a1.35 1.35 0 1 0 2.7 0a1.35 1.35 0 1 0 -2.7 0M440.7 657.9a1.35 1.35 0 1 0 2.7 0a1.35 1.35 0 1 0 -2.7 0M441.2 658.1a1.35 1.35 0 1 0 2.7 0a1.35 1.35 0 1 0 -2.7 0M441.6 658.2a1.35 1.35 0 1 0 2.7 0a1.35 1.35 0 1 0 -2.7 0M442.1 658.4a1.35 1.35 0 1 0 2.7 0a1.35 1.35 0 1 0 -2.7 0M442.6 658.6a1.35 1.35 0 1 0 2.7 0a1.35 1.35 0 1 0 -2.7 0M443.0 658.7a1.35 1.35 0 1 0 2.7 0a1.35 1.35 0 1 0 -2.7 0M443.5 658.9a1.35 1.35 0 1 0 2.7 0a1.35 1.35 0 1 0 -2.7 0M444.0 659.1a1.35 1.35 0 1 0 2.7 0a1.35 1.35 0 1 0 -2.7 0M444.4 659.2a1.35 1.35 0 1 0 2.7 0a1.35 1.35 0 1 0 -2.7 0M444.9 659.4a1.35 1.35 0 1 0 2.7 0a1.35 1.35 0 1 0 -2.7 0M445.4 659.5a1.35 1.35 0 1 0 2.7 0a1.35 1.35 0 1 0 -2.7 0M445.8 659.7a1.35 1.35 0 1 0 2.7 0a1.35 1.35 0 1 0 -2.7 0M446.3 659.8a1.35 1.35 0 1 0 2.7 0a1.35 1.35 0 1 0 -2.7 0M446.7 660.0a1.35 1.35 0 1 0 2.7 0a1.35 1.35 0 1 0 -2.7 0M447.2 660.2a1.35 1.35 0 1 0 2.7 0a1.35 1.35 0 1 0 -2.7 0M447.6 660.3a1.35 1.35 0 1 0 2.7 0a1.35 1.35 0 1 0 -2.7 0M448.1 660.5a1.35 1.35 0 1 0 2.7 0a1.35 1.35 0 1 0 -2.7 0M448.6 660.6a1.35 1.35 0 1 0 2.7 0a1.35 1.35 0 1 0 -2.7 0M449.0 660.8a1.35 1.35 0 1 0 2.7 0a1.35 1.35 0 1 0 -2.7 0M449.5 660.9a1.35 1.35 0 1 0 2.7 0a1.35 1.35 0 1 0 -2.7 0M449.9 661.1a1.35 1.35 0 1 0 2.7 0a1.35 1.35 0 1 0 -2.7 0M450.4 661.2a1.35 1.35 0 1 0 2.7 0a1.35 1.35 0 1 0 -2.7 0M450.9 661.4a1.35 1.35 0 1 0 2.7 0a1.35 1.35 0 1 0 -2.7 0M451.3 661.6a1.35 1.35 0 1 0 2.7 0a1.35 1.35 0 1 0 -2.7 0M451.8 661.7a1.35 1.35 0 1 0 2.7 0a1.35 1.35 0 1 0 -2.7 0M452.3 661.9a1.35 1.35 0 1 0 2.7 0a1.35 1.35 0 1 0 -2.7 0M452.7 662.0a1.35 1.35 0 1 0 2.7 0a1.35 1.35 0 1 0 -2.7 0M453.2 662.2a1.35 1.35 0 1 0 2.7 0a1.35 1.35 0 1 0 -2.7 0M453.6 662.3a1.35 1.35 0 1 0 2.7 0a1.35 1.35 0 1 0 -2.7 0M454.1 662.5a1.35 1.35 0 1 0 2.7 0a1.35 1.35 0 1 0 -2.7 0M454.5 662.6a1.35 1.35 0 1 0 2.7 0a1.35 1.35 0 1 0 -2.7 0M455.0 662.8a1.35 1.35 0 1 0 2.7 0a1.35 1.35 0 1 0 -2.7 0M455.5 662.9a1.35 1.35 0 1 0 2.7 0a1.35 1.35 0 1 0 -2.7 0M455.9 663.0a1.35 1.35 0 1 0 2.7 0a1.35 1.35 0 1 0 -2.7 0M456.4 663.2a1.35 1.35 0 1 0 2.7 0a1.35 1.35 0 1 0 -2.7 0M456.8 663.3a1.35 1.35 0 1 0 2.7 0a1.35 1.35 0 1 0 -2.7 0M457.3 663.5a1.35 1.35 0 1 0 2.7 0a1.35 1.35 0 1 0 -2.7 0M457.7 663.6a1.35 1.35 0 1 0 2.7 0a1.35 1.35 0 1 0 -2.7 0M458.2 663.8a1.35 1.35 0 1 0 2.7 0a1.35 1.35 0 1 0 -2.7 0M458.7 663.9a1.35 1.35 0 1 0 2.7 0a1.35 1.35 0 1 0 -2.7 0M459.1 664.1a1.35 1.35 0 1 0 2.7 0a1.35 1.35 0 1 0 -2.7 0M459.6 664.2a1.35 1.35 0 1 0 2.7 0a1.35 1.35 0 1 0 -2.7 0M460.0 664.4a1.35 1.35 0 1 0 2.7 0a1.35 1.35 0 1 0 -2.7 0M460.5 664.5a1.35 1.35 0 1 0 2.7 0a1.35 1.35 0 1 0 -2.7 0M460.9 664.6a1.35 1.35 0 1 0 2.7 0a1.35 1.35 0 1 0 -2.7 0M461.4 664.8a1.35 1.35 0 1 0 2.7 0a1.35 1.35 0 1 0 -2.7 0M461.8 664.9a1.35 1.35 0 1 0 2.7 0a1.35 1.35 0 1 0 -2.7 0M462.3 665.1a1.35 1.35 0 1 0 2.7 0a1.35 1.35 0 1 0 -2.7 0M462.7 665.2a1.35 1.35 0 1 0 2.7 0a1.35 1.35 0 1 0 -2.7 0M463.2 665.4a1.35 1.35 0 1 0 2.7 0a1.35 1.35 0 1 0 -2.7 0M463.7 665.5a1.35 1.35 0 1 0 2.7 0a1.35 1.35 0 1 0 -2.7 0M464.1 665.6a1.35 1.35 0 1 0 2.7 0a1.35 1.35 0 1 0 -2.7 0M464.6 665.8a1.35 1.35 0 1 0 2.7 0a1.35 1.35 0 1 0 -2.7 0M465.1 665.9a1.35 1.35 0 1 0 2.7 0a1.35 1.35 0 1 0 -2.7 0M465.5 666.1a1.35 1.35 0 1 0 2.7 0a1.35 1.35 0 1 0 -2.7 0M466.0 666.2a1.35 1.35 0 1 0 2.7 0a1.35 1.35 0 1 0 -2.7 0M466.4 666.3a1.35 1.35 0 1 0 2.7 0a1.35 1.35 0 1 0 -2.7 0M466.9 666.5a1.35 1.35 0 1 0 2.7 0a1.35 1.35 0 1 0 -2.7 0M467.3 666.6a1.35 1.35 0 1 0 2.7 0a1.35 1.35 0 1 0 -2.7 0M467.8 666.8a1.35 1.35 0 1 0 2.7 0a1.35 1.35 0 1 0 -2.7 0M468.2 666.9a1.35 1.35 0 1 0 2.7 0a1.35 1.35 0 1 0 -2.7 0M468.7 667.0a1.35 1.35 0 1 0 2.7 0a1.35 1.35 0 1 0 -2.7 0M469.1 667.2a1.35 1.35 0 1 0 2.7 0a1.35 1.35 0 1 0 -2.7 0M469.6 667.3a1.35 1.35 0 1 0 2.7 0a1.35 1.35 0 1 0 -2.7 0M470.1 667.5a1.35 1.35 0 1 0 2.7 0a1.35 1.35 0 1 0 -2.7 0M470.5 667.6a1.35 1.35 0 1 0 2.7 0a1.35 1.35 0 1 0 -2.7 0M471.0 667.7a1.35 1.35 0 1 0 2.7 0a1.35 1.35 0 1 0 -2.7 0M471.4 667.9a1.35 1.35 0 1 0 2.7 0a1.35 1.35 0 1 0 -2.7 0M471.9 668.0a1.35 1.35 0 1 0 2.7 0a1.35 1.35 0 1 0 -2.7 0M472.3 668.1a1.35 1.35 0 1 0 2.7 0a1.35 1.35 0 1 0 -2.7 0M472.8 668.3a1.35 1.35 0 1 0 2.7 0a1.35 1.35 0 1 0 -2.7 0M473.2 668.4a1.35 1.35 0 1 0 2.7 0a1.35 1.35 0 1 0 -2.7 0M473.7 668.5a1.35 1.35 0 1 0 2.7 0a1.35 1.35 0 1 0 -2.7 0M474.1 668.7a1.35 1.35 0 1 0 2.7 0a1.35 1.35 0 1 0 -2.7 0M474.6 668.8a1.35 1.35 0 1 0 2.7 0a1.35 1.35 0 1 0 -2.7 0M475.0 669.0a1.35 1.35 0 1 0 2.7 0a1.35 1.35 0 1 0 -2.7 0M475.5 669.1a1.35 1.35 0 1 0 2.7 0a1.35 1.35 0 1 0 -2.7 0M475.9 669.2a1.35 1.35 0 1 0 2.7 0a1.35 1.35 0 1 0 -2.7 0M476.4 669.4a1.35 1.35 0 1 0 2.7 0a1.35 1.35 0 1 0 -2.7 0M476.9 669.5a1.35 1.35 0 1 0 2.7 0a1.35 1.35 0 1 0 -2.7 0M477.3 669.6a1.35 1.35 0 1 0 2.7 0a1.35 1.35 0 1 0 -2.7 0M477.8 669.8a1.35 1.35 0 1 0 2.7 0a1.35 1.35 0 1 0 -2.7 0M478.2 669.9a1.35 1.35 0 1 0 2.7 0a1.35 1.35 0 1 0 -2.7 0M478.7 670.0a1.35 1.35 0 1 0 2.7 0a1.35 1.35 0 1 0 -2.7 0M479.1 670.2a1.35 1.35 0 1 0 2.7 0a1.35 1.35 0 1 0 -2.7 0M479.6 670.3a1.35 1.35 0 1 0 2.7 0a1.35 1.35 0 1 0 -2.7 0M480.0 670.4a1.35 1.35 0 1 0 2.7 0a1.35 1.35 0 1 0 -2.7 0M480.5 670.6a1.35 1.35 0 1 0 2.7 0a1.35 1.35 0 1 0 -2.7 0M480.9 670.7a1.35 1.35 0 1 0 2.7 0a1.35 1.35 0 1 0 -2.7 0M481.4 670.8a1.35 1.35 0 1 0 2.7 0a1.35 1.35 0 1 0 -2.7 0M481.8 671.0a1.35 1.35 0 1 0 2.7 0a1.35 1.35 0 1 0 -2.7 0M482.3 671.1a1.35 1.35 0 1 0 2.7 0a1.35 1.35 0 1 0 -2.7 0M482.7 671.2a1.35 1.35 0 1 0 2.7 0a1.35 1.35 0 1 0 -2.7 0M483.2 671.4a1.35 1.35 0 1 0 2.7 0a1.35 1.35 0 1 0 -2.7 0M483.7 671.5a1.35 1.35 0 1 0 2.7 0a1.35 1.35 0 1 0 -2.7 0M484.1 671.6a1.35 1.35 0 1 0 2.7 0a1.35 1.35 0 1 0 -2.7 0M484.6 671.8a1.35 1.35 0 1 0 2.7 0a1.35 1.35 0 1 0 -2.7 0M485.0 671.9a1.35 1.35 0 1 0 2.7 0a1.35 1.35 0 1 0 -2.7 0M485.5 672.0a1.35 1.35 0 1 0 2.7 0a1.35 1.35 0 1 0 -2.7 0M485.9 672.2a1.35 1.35 0 1 0 2.7 0a1.35 1.35 0 1 0 -2.7 0M486.4 672.3a1.35 1.35 0 1 0 2.7 0a1.35 1.35 0 1 0 -2.7 0M486.8 672.4a1.35 1.35 0 1 0 2.7 0a1.35 1.35 0 1 0 -2.7 0M487.3 672.6a1.35 1.35 0 1 0 2.7 0a1.35 1.35 0 1 0 -2.7 0M487.7 672.7a1.35 1.35 0 1 0 2.7 0a1.35 1.35 0 1 0 -2.7 0M488.2 672.8a1.35 1.35 0 1 0 2.7 0a1.35 1.35 0 1 0 -2.7 0M488.6 673.0a1.35 1.35 0 1 0 2.7 0a1.35 1.35 0 1 0 -2.7 0M489.1 673.1a1.35 1.35 0 1 0 2.7 0a1.35 1.35 0 1 0 -2.7 0M489.5 673.2a1.35 1.35 0 1 0 2.7 0a1.35 1.35 0 1 0 -2.7 0M490.0 673.4a1.35 1.35 0 1 0 2.7 0a1.35 1.35 0 1 0 -2.7 0M490.4 673.5a1.35 1.35 0 1 0 2.7 0a1.35 1.35 0 1 0 -2.7 0M490.9 673.6a1.35 1.35 0 1 0 2.7 0a1.35 1.35 0 1 0 -2.7 0M491.3 673.8a1.35 1.35 0 1 0 2.7 0a1.35 1.35 0 1 0 -2.7 0M491.8 673.9a1.35 1.35 0 1 0 2.7 0a1.35 1.35 0 1 0 -2.7 0M492.2 674.0a1.35 1.35 0 1 0 2.7 0a1.35 1.35 0 1 0 -2.7 0M492.7 674.2a1.35 1.35 0 1 0 2.7 0a1.35 1.35 0 1 0 -2.7 0M493.1 674.3a1.35 1.35 0 1 0 2.7 0a1.35 1.35 0 1 0 -2.7 0M493.6 674.4a1.35 1.35 0 1 0 2.7 0a1.35 1.35 0 1 0 -2.7 0M494.0 674.6a1.35 1.35 0 1 0 2.7 0a1.35 1.35 0 1 0 -2.7 0M494.5 674.7a1.35 1.35 0 1 0 2.7 0a1.35 1.35 0 1 0 -2.7 0M495.0 674.8a1.35 1.35 0 1 0 2.7 0a1.35 1.35 0 1 0 -2.7 0M495.4 675.0a1.35 1.35 0 1 0 2.7 0a1.35 1.35 0 1 0 -2.7 0M495.9 675.1a1.35 1.35 0 1 0 2.7 0a1.35 1.35 0 1 0 -2.7 0M496.3 675.2a1.35 1.35 0 1 0 2.7 0a1.35 1.35 0 1 0 -2.7 0M496.8 675.4a1.35 1.35 0 1 0 2.7 0a1.35 1.35 0 1 0 -2.7 0M497.2 675.5a1.35 1.35 0 1 0 2.7 0a1.35 1.35 0 1 0 -2.7 0M497.7 675.6a1.35 1.35 0 1 0 2.7 0a1.35 1.35 0 1 0 -2.7 0M498.1 675.8a1.35 1.35 0 1 0 2.7 0a1.35 1.35 0 1 0 -2.7 0M498.6 675.9a1.35 1.35 0 1 0 2.7 0a1.35 1.35 0 1 0 -2.7 0M499.0 676.0a1.35 1.35 0 1 0 2.7 0a1.35 1.35 0 1 0 -2.7 0M499.5 676.2a1.35 1.35 0 1 0 2.7 0a1.35 1.35 0 1 0 -2.7 0M499.9 676.3a1.35 1.35 0 1 0 2.7 0a1.35 1.35 0 1 0 -2.7 0M500.4 676.4a1.35 1.35 0 1 0 2.7 0a1.35 1.35 0 1 0 -2.7 0M500.8 676.6a1.35 1.35 0 1 0 2.7 0a1.35 1.35 0 1 0 -2.7 0M501.3 676.7a1.35 1.35 0 1 0 2.7 0a1.35 1.35 0 1 0 -2.7 0M501.7 676.9a1.35 1.35 0 1 0 2.7 0a1.35 1.35 0 1 0 -2.7 0M502.2 677.0a1.35 1.35 0 1 0 2.7 0a1.35 1.35 0 1 0 -2.7 0M502.6 677.1a1.35 1.35 0 1 0 2.7 0a1.35 1.35 0 1 0 -2.7 0M503.1 677.3a1.35 1.35 0 1 0 2.7 0a1.35 1.35 0 1 0 -2.7 0M503.5 677.4a1.35 1.35 0 1 0 2.7 0a1.35 1.35 0 1 0 -2.7 0M504.0 677.5a1.35 1.35 0 1 0 2.7 0a1.35 1.35 0 1 0 -2.7 0M504.4 677.7a1.35 1.35 0 1 0 2.7 0a1.35 1.35 0 1 0 -2.7 0M504.9 677.8a1.35 1.35 0 1 0 2.7 0a1.35 1.35 0 1 0 -2.7 0M505.3 677.9a1.35 1.35 0 1 0 2.7 0a1.35 1.35 0 1 0 -2.7 0M505.8 678.1a1.35 1.35 0 1 0 2.7 0a1.35 1.35 0 1 0 -2.7 0M506.2 678.2a1.35 1.35 0 1 0 2.7 0a1.35 1.35 0 1 0 -2.7 0M506.7 678.3a1.35 1.35 0 1 0 2.7 0a1.35 1.35 0 1 0 -2.7 0M507.1 678.5a1.35 1.35 0 1 0 2.7 0a1.35 1.35 0 1 0 -2.7 0M507.6 678.6a1.35 1.35 0 1 0 2.7 0a1.35 1.35 0 1 0 -2.7 0M508.0 678.8a1.35 1.35 0 1 0 2.7 0a1.35 1.35 0 1 0 -2.7 0M508.5 678.9a1.35 1.35 0 1 0 2.7 0a1.35 1.35 0 1 0 -2.7 0M508.9 679.0a1.35 1.35 0 1 0 2.7 0a1.35 1.35 0 1 0 -2.7 0M509.4 679.2a1.35 1.35 0 1 0 2.7 0a1.35 1.35 0 1 0 -2.7 0M509.8 679.3a1.35 1.35 0 1 0 2.7 0a1.35 1.35 0 1 0 -2.7 0M510.3 679.4a1.35 1.35 0 1 0 2.7 0a1.35 1.35 0 1 0 -2.7 0M510.7 679.6a1.35 1.35 0 1 0 2.7 0a1.35 1.35 0 1 0 -2.7 0M511.2 679.7a1.35 1.35 0 1 0 2.7 0a1.35 1.35 0 1 0 -2.7 0M511.6 679.9a1.35 1.35 0 1 0 2.7 0a1.35 1.35 0 1 0 -2.7 0M512.1 680.0a1.35 1.35 0 1 0 2.7 0a1.35 1.35 0 1 0 -2.7 0M512.5 680.1a1.35 1.35 0 1 0 2.7 0a1.35 1.35 0 1 0 -2.7 0M513.0 680.3a1.35 1.35 0 1 0 2.7 0a1.35 1.35 0 1 0 -2.7 0M513.4 680.4a1.35 1.35 0 1 0 2.7 0a1.35 1.35 0 1 0 -2.7 0M513.9 680.6a1.35 1.35 0 1 0 2.7 0a1.35 1.35 0 1 0 -2.7 0M514.3 680.7a1.35 1.35 0 1 0 2.7 0a1.35 1.35 0 1 0 -2.7 0M514.8 680.8a1.35 1.35 0 1 0 2.7 0a1.35 1.35 0 1 0 -2.7 0M515.2 681.0a1.35 1.35 0 1 0 2.7 0a1.35 1.35 0 1 0 -2.7 0M515.7 681.1a1.35 1.35 0 1 0 2.7 0a1.35 1.35 0 1 0 -2.7 0M516.1 681.3a1.35 1.35 0 1 0 2.7 0a1.35 1.35 0 1 0 -2.7 0M516.6 681.4a1.35 1.35 0 1 0 2.7 0a1.35 1.35 0 1 0 -2.7 0M517.0 681.6a1.35 1.35 0 1 0 2.7 0a1.35 1.35 0 1 0 -2.7 0M517.5 681.7a1.35 1.35 0 1 0 2.7 0a1.35 1.35 0 1 0 -2.7 0M517.9 681.8a1.35 1.35 0 1 0 2.7 0a1.35 1.35 0 1 0 -2.7 0M518.4 682.0a1.35 1.35 0 1 0 2.7 0a1.35 1.35 0 1 0 -2.7 0M518.8 682.1a1.35 1.35 0 1 0 2.7 0a1.35 1.35 0 1 0 -2.7 0" stroke="#00f" stroke-width="0.55" fill="none"/>
<path d="M432.8 660.2L434.3 660.7L435.8 661.1L437.3 661.6L438.8 662.0L440.3 662.5L441.8 662.9L443.3 663.4L444.8 663.8L446.3 664.2L447.8 664.7L449.3 665.1L450.8 665.5L452.3 665.9L453.8 666.4L455.3 666.8L456.8 667.2L458.3 667.6L459.8 668.0L461.3 668.4L462.8 668.9L464.3 669.3L465.8 669.7L467.3 670.1L468.8 670.5L470.3 670.9L471.8 671.3L473.3 671.7L474.8 672.1L476.3 672.5L477.8 672.9L479.3 673.3L480.8 673.7L482.3 674.1L483.8 674.5L485.3 674.9L486.8 675.3L488.3 675.7L489.8 676.1L491.3 676.5L492.8 677.0L494.3 677.4L495.8 677.8L497.3 678.2L498.8 678.6L500.3 679.0L501.8 679.4L503.3 679.8L504.8 680.2L506.3 680.6L507.8 681.0L509.3 681.5L510.8 681.9L512.3 682.3L513.8 682.7L515.3 683.1L516.8 683.6L518.3 684.0L519.8 684.4" stroke="#808080" stroke-width="3.0" fill="none" stroke-linejoin="round"/>
<path d="M303.9 631.6h2.35v2.35h-2.35zM318.2 631.3h2.35v2.35h-2.35zM326.5 632.5h2.35v2.35h-2.35zM332.4 631.1h2.35v2.35h-2.35zM337.0 632.1h2.35v2.35h-2.35zM340.7 634.5h2.35v2.35h-2.35zM346.6 639.0h2.35v2.35h-2.35zM349.0 636.4h2.35v2.35h-2.35zM351.2 637.4h2.35v2.35h-2.35zM353.2 639.8h2.35v2.35h-2.35zM354.9 638.0h2.35v2.35h-2.35zM356.6 640.3h2.35v2.35h-2.35zM358.1 638.0h2.35v2.35h-2.35zM360.8 638.9h2.35v2.35h-2.35zM362.1 638.8h2.35v2.35h-2.35zM363.3 638.6h2.35v2.35h-2.35zM364.4 640.0h2.35v2.35h-2.35zM365.4 639.9h2.35v2.35h-2.35zM366.4 637.9h2.35v2.35h-2.35zM367.4 640.2h2.35v2.35h-2.35zM369.2 639.7h2.35v2.35h-2.35zM370.0 641.1h2.35v2.35h-2.35zM370.8 640.3h2.35v2.35h-2.35zM371.6 640.4h2.35v2.35h-2.35zM373.1 641.1h2.35v2.35h-2.35zM373.7 642.0h2.35v2.35h-2.35zM375.1 641.8h2.35v2.35h-2.35zM375.7 641.1h2.35v2.35h-2.35zM376.3 642.5h2.35v2.35h-2.35zM376.9 640.8h2.35v2.35h-2.35zM377.5 642.3h2.35v2.35h-2.35zM378.1 642.7h2.35v2.35h-2.35zM378.6 642.7h2.35v2.35h-2.35zM379.7 643.9h2.35v2.35h-2.35zM380.2 643.2h2.35v2.35h-2.35zM380.7 643.3h2.35v2.35h-2.35zM381.1 643.8h2.35v2.35h-2.35zM381.6 643.2h2.35v2.35h-2.35zM382.1 643.2h2.35v2.35h-2.35zM382.5 644.7h2.35v2.35h-2.35zM383.4 645.0h2.35v2.35h-2.35zM384.2 644.0h2.35v2.35h-2.35zM385.0 645.1h2.35v2.35h-2.35zM385.8 643.7h2.35v2.35h-2.35zM386.6 645.2h2.35v2.35h-2.35zM387.3 645.4h2.35v2.35h-2.35zM388.3 646.0h2.35v2.35h-2.35zM389.3 646.0h2.35v2.35h-2.35zM389.9 645.8h2.35v2.35h-2.35zM390.5 646.3h2.35v2.35h-2.35zM391.1 646.6h2.35v2.35h-2.35zM391.7 646.5h2.35v2.35h-2.35zM392.3 646.2h2.35v2.35h-2.35zM392.8 647.6h2.35v2.35h-2.35zM393.4 647.3h2.35v2.35h-2.35zM393.9 646.4h2.35v2.35h-2.35zM394.4 647.4h2.35v2.35h-2.35zM394.9 647.0h2.35v2.35h-2.35zM395.4 648.0h2.35v2.35h-2.35zM395.8 648.2h2.35v2.35h-2.35zM396.3 648.3h2.35v2.35h-2.35zM397.0 647.4h2.35v2.35h-2.35zM397.6 648.4h2.35v2.35h-2.35zM398.3 648.1h2.35v2.35h-2.35zM398.9 648.4h2.35v2.35h-2.35zM399.5 648.6h2.35v2.35h-2.35zM400.0 649.1h2.35v2.35h-2.35zM401.0 649.7h2.35v2.35h-2.35zM401.5 649.8h2.35v2.35h-2.35zM402.2 649.6h2.35v2.35h-2.35zM402.7 649.5h2.35v2.35h-2.35zM403.2 651.1h2.35v2.35h-2.35zM403.7 650.7h2.35v2.35h-2.35zM404.2 650.4h2.35v2.35h-2.35zM404.8 650.5h2.35v2.35h-2.35zM405.4 650.5h2.35v2.35h-2.35zM406.0 651.1h2.35v2.35h-2.35zM406.5 650.9h2.35v2.35h-2.35zM407.1 651.0h2.35v2.35h-2.35zM407.7 651.1h2.35v2.35h-2.35zM408.2 652.0h2.35v2.35h-2.35zM408.7 651.8h2.35v2.35h-2.35zM409.2 651.7h2.35v2.35h-2.35zM409.7 652.1h2.35v2.35h-2.35zM410.2 652.6h2.35v2.35h-2.35zM410.6 652.8h2.35v2.35h-2.35zM411.2 652.7h2.35v2.35h-2.35zM411.9 652.7h2.35v2.35h-2.35zM412.4 653.0h2.35v2.35h-2.35zM412.9 653.3h2.35v2.35h-2.35zM413.5 653.0h2.35v2.35h-2.35zM414.0 653.9h2.35v2.35h-2.35zM414.5 653.5h2.35v2.35h-2.35zM415.0 653.7h2.35v2.35h-2.35zM415.5 653.9h2.35v2.35h-2.35zM416.0 654.0h2.35v2.35h-2.35zM416.5 654.4h2.35v2.35h-2.35zM417.1 654.5h2.35v2.35h-2.35zM417.6 654.8h2.35v2.35h-2.35zM418.1 654.6h2.35v2.35h-2.35zM418.5 654.9h2.35v2.35h-2.35zM419.0 655.0h2.35v2.35h-2.35zM419.6 655.2h2.35v2.35h-2.35zM420.2 655.7h2.35v2.35h-2.35zM420.7 655.7h2.35v2.35h-2.35zM421.3 656.0h2.35v2.35h-2.35zM421.8 656.2h2.35v2.35h-2.35zM422.3 656.4h2.35v2.35h-2.35zM422.9 656.5h2.35v2.35h-2.35zM423.3 656.6h2.35v2.35h-2.35zM423.8 656.8h2.35v2.35h-2.35zM424.3 657.0h2.35v2.35h-2.35zM424.8 656.8h2.35v2.35h-2.35zM425.3 657.1h2.35v2.35h-2.35zM425.8 657.3h2.35v2.35h-2.35zM426.2 657.7h2.35v2.35h-2.35zM426.7 657.8h2.35v2.35h-2.35zM427.2 657.6h2.35v2.35h-2.35zM427.6 657.7h2.35v2.35h-2.35zM428.1 658.2h2.35v2.35h-2.35zM428.6 657.9h2.35v2.35h-2.35zM429.1 658.5h2.35v2.35h-2.35zM429.6 658.2h2.35v2.35h-2.35zM430.1 658.7h2.35v2.35h-2.35zM430.6 658.7h2.35v2.35h-2.35zM431.0 658.7h2.35v2.35h-2.35zM431.5 659.1h2.35v2.35h-2.35zM432.0 659.1h2.35v2.35h-2.35zM432.5 659.2h2.35v2.35h-2.35zM432.9 659.6h2.35v2.35h-2.35zM433.4 659.7h2.35v2.35h-2.35zM433.9 659.6h2.35v2.35h-2.35zM434.3 659.8h2.35v2.35h-2.35zM434.8 660.3h2.35v2.35h-2.35zM435.3 660.1h2.35v2.35h-2.35zM435.8 660.6h2.35v2.35h-2.35zM436.2 660.3h2.35v2.35h-2.35zM436.7 660.7h2.35v2.35h-2.35zM437.2 660.6h2.35v2.35h-2.35zM437.6 661.0h2.35v2.35h-2.35zM438.1 660.9h2.35v2.35h-2.35zM438.6 661.2h2.35v2.35h-2.35zM439.0 661.4h2.35v2.35h-2.35zM439.5 661.5h2.35v2.35h-2.35zM439.9 661.7h2.35v2.35h-2.35zM440.4 661.6h2.35v2.35h-2.35zM440.9 661.8h2.35v2.35h-2.35zM441.4 662.1h2.35v2.35h-2.35zM441.8 662.2h2.35v2.35h-2.35zM442.3 662.1h2.35v2.35h-2.35zM442.7 662.3h2.35v2.35h-2.35zM443.2 662.6h2.35v2.35h-2.35zM443.7 662.6h2.35v2.35h-2.35zM444.1 662.7h2.35v2.35h-2.35zM444.6 662.9h2.35v2.35h-2.35zM445.1 663.1h2.35v2.35h-2.35zM445.5 663.2h2.35v2.35h-2.35zM446.0 663.2h2.35v2.35h-2.35zM446.4 663.4h2.35v2.35h-2.35zM446.9 663.6h2.35v2.35h-2.35zM447.4 663.7h2.35v2.35h-2.35zM447.8 663.8h2.35v2.35h-2.35zM448.3 663.9h2.35v2.35h-2.35zM448.7 664.1h2.35v2.35h-2.35zM449.2 664.2h2.35v2.35h-2.35zM449.7 664.4h2.35v2.35h-2.35zM450.1 664.5h2.35v2.35h-2.35zM450.6 664.6h2.35v2.35h-2.35zM451.1 664.7h2.35v2.35h-2.35zM451.5 664.9h2.35v2.35h-2.35zM452.0 665.0h2.35v2.35h-2.35zM452.4 665.1h2.35v2.35h-2.35zM452.9 665.3h2.35v2.35h-2.35zM453.3 665.4h2.35v2.35h-2.35zM453.8 665.5h2.35v2.35h-2.35zM454.3 665.6h2.35v2.35h-2.35zM454.7 665.8h2.35v2.35h-2.35zM455.2 665.9h2.35v2.35h-2.35zM455.6 666.0h2.35v2.35h-2.35zM456.1 666.1h2.35v2.35h-2.35zM456.5 666.3h2.35v2.35h-2.35zM457.0 666.4h2.35v2.35h-2.35zM457.5 666.5h2.35v2.35h-2.35zM457.9 666.7h2.35v2.35h-2.35zM458.4 666.8h2.35v2.35h-2.35zM458.8 666.9h2.35v2.35h-2.35zM459.3 667.0h2.35v2.35h-2.35zM459.7 667.2h2.35v2.35h-2.35zM460.2 667.3h2.35v2.35h-2.35zM460.7 667.4h2.35v2.35h-2.35zM461.1 667.5h2.35v2.35h-2.35zM461.6 667.7h2.35v2.35h-2.35zM462.0 667.8h2.35v2.35h-2.35zM462.5 667.9h2.35v2.35h-2.35zM462.9 668.0h2.35v2.35h-2.35zM463.4 668.2h2.35v2.35h-2.35zM463.9 668.3h2.35v2.35h-2.35zM464.3 668.4h2.35v2.35h-2.35zM464.8 668.5h2.35v2.35h-2.35zM465.2 668.7h2.35v2.35h-2.35zM465.7 668.8h2.35v2.35h-2.35zM466.1 668.9h2.35v2.35h-2.35zM466.6 669.0h2.35v2.35h-2.35zM467.0 669.2h2.35v2.35h-2.35zM467.5 669.3h2.35v2.35h-2.35zM468.0 669.4h2.35v2.35h-2.35zM468.4 669.5h2.35v2.35h-2.35zM468.9 669.7h2.35v2.35h-2.35zM469.3 669.8h2.35v2.35h-2.35zM469.8 669.9h2.35v2.35h-2.35zM470.2 670.0h2.35v2.35h-2.35zM470.7 670.1h2.35v2.35h-2.35zM471.1 670.3h2.35v2.35h-2.35zM471.6 670.4h2.35v2.35h-2.35zM472.0 670.5h2.35v2.35h-2.35zM472.5 670.6h2.35v2.35h-2.35zM472.9 670.8h2.35v2.35h-2.35zM473.4 670.9h2.35v2.35h-2.35zM473.9 671.0h2.35v2.35h-2.35zM474.3 671.1h2.35v2.35h-2.35zM474.8 671.2h2.35v2.35h-2.35zM475.2 671.4h2.35v2.35h-2.35zM475.7 671.5h2.35v2.35h-2.35zM476.1 671.6h2.35v2.35h-2.35zM476.6 671.7h2.35v2.35h-2.35zM477.0 671.9h2.35v2.35h-2.35zM477.5 672.0h2.35v2.35h-2.35zM477.9 672.1h2.35v2.35h-2.35zM478.4 672.2h2.35v2.35h-2.35zM478.8 672.3h2.35v2.35h-2.35zM479.3 672.5h2.35v2.35h-2.35zM479.7 672.6h2.35v2.35h-2.35zM480.2 672.7h2.35v2.35h-2.35zM480.7 672.8h2.35v2.35h-2.35zM481.1 672.9h2.35v2.35h-2.35zM481.6 673.1h2.35v2.35h-2.35zM482.0 673.2h2.35v2.35h-2.35zM482.5 673.3h2.35v2.35h-2.35zM482.9 673.4h2.35v2.35h-2.35zM483.4 673.6h2.35v2.35h-2.35zM483.8 673.7h2.35v2.35h-2.35zM484.3 673.8h2.35v2.35h-2.35zM484.7 673.9h2.35v2.35h-2.35zM485.2 674.0h2.35v2.35h-2.35zM485.6 674.2h2.35v2.35h-2.35zM486.1 674.3h2.35v2.35h-2.35zM486.5 674.4h2.35v2.35h-2.35zM487.0 674.5h2.35v2.35h-2.35zM487.4 674.7h2.35v2.35h-2.35zM487.9 674.8h2.35v2.35h-2.35zM488.3 674.9h2.35v2.35h-2.35zM488.8 675.0h2.35v2.35h-2.35zM489.3 675.1h2.35v2.35h-2.35zM489.7 675.3h2.35v2.35h-2.35zM490.2 675.4h2.35v2.35h-2.35zM490.6 675.5h2.35v2.35h-2.35zM491.1 675.6h2.35v2.35h-2.35zM491.5 675.7h2.35v2.35h-2.35zM492.0 675.9h2.35v2.35h-2.35zM492.4 676.0h2.35v2.35h-2.35zM492.9 676.1h2.35v2.35h-2.35zM493.3 676.2h2.35v2.35h-2.35zM493.8 676.4h2.35v2.35h-2.35zM494.2 676.5h2.35v2.35h-2.35zM494.7 676.6h2.35v2.35h-2.35zM495.1 676.7h2.35v2.35h-2.35zM495.6 676.8h2.35v2.35h-2.35zM496.0 677.0h2.35v2.35h-2.35zM496.5 677.1h2.35v2.35h-2.35zM496.9 677.2h2.35v2.35h-2.35zM497.4 677.3h2.35v2.35h-2.35zM497.8 677.5h2.35v2.35h-2.35zM498.3 677.6h2.35v2.35h-2.35zM498.7 677.7h2.35v2.35h-2.35zM499.2 677.8h2.35v2.35h-2.35zM499.6 677.9h2.35v2.35h-2.35zM500.1 678.1h2.35v2.35h-2.35zM500.5 678.2h2.35v2.35h-2.35zM501.0 678.3h2.35v2.35h-2.35zM501.4 678.4h2.35v2.35h-2.35zM501.9 678.6h2.35v2.35h-2.35zM502.3 678.7h2.35v2.35h-2.35zM502.8 678.8h2.35v2.35h-2.35zM503.2 678.9h2.35v2.35h-2.35zM503.7 679.1h2.35v2.35h-2.35zM504.1 679.2h2.35v2.35h-2.35zM504.6 679.3h2.35v2.35h-2.35zM505.0 679.4h2.35v2.35h-2.35zM505.5 679.6h2.35v2.35h-2.35zM505.9 679.7h2.35v2.35h-2.35zM506.4 679.8h2.35v2.35h-2.35zM506.8 679.9h2.35v2.35h-2.35zM507.3 680.1h2.35v2.35h-2.35zM507.7 680.2h2.35v2.35h-2.35zM508.2 680.3h2.35v2.35h-2.35zM508.6 680.4h2.35v2.35h-2.35zM509.1 680.6h2.35v2.35h-2.35zM509.6 680.7h2.35v2.35h-2.35zM510.0 680.8h2.35v2.35h-2.35zM510.5 680.9h2.35v2.35h-2.35zM510.9 681.1h2.35v2.35h-2.35zM511.4 681.2h2.35v2.35h-2.35zM511.8 681.3h2.35v2.35h-2.35zM512.3 681.4h2.35v2.35h-2.35zM512.7 681.6h2.35v2.35h-2.35zM513.2 681.7h2.35v2.35h-2.35zM513.6 681.8h2.35v2.35h-2.35zM514.1 682.0h2.35v2.35h-2.35zM514.5 682.1h2.35v2.35h-2.35zM515.0 682.2h2.35v2.35h-2.35zM515.4 682.3h2.35v2.35h-2.35zM515.9 682.5h2.35v2.35h-2.35zM516.3 682.6h2.35v2.35h-2.35zM516.8 682.7h2.35v2.35h-2.35zM517.2 682.8h2.35v2.35h-2.35zM517.7 683.0h2.35v2.35h-2.35zM518.1 683.1h2.35v2.35h-2.35zM518.6 683.2h2.35v2.35h-2.35zM519.0 683.4h2.35v2.35h-2.35z" stroke="#8a8a8a" stroke-width="0.55" fill="none"/>
</g>
<path d="M337.1 224.9L511.9 283.8" stroke="#000" stroke-width="1.3"/>
<path d="M306.1 548L426.5 649.7" stroke="#000" stroke-width="1.3"/>
<path d="M467.1 201.2h21.2M467.1 569.6h21.2" stroke="#000" stroke-width="1.4"/>
<path d="M59.10 145.64h4M278.00 145.64h-4M59.10 128.58h2.2M278.00 128.58h-2.2M59.10 111.52h4M278.00 111.52h-4M59.10 94.46h2.2M278.00 94.46h-2.2M59.10 77.39h4M278.00 77.39h-4M59.10 60.33h2.2M278.00 60.33h-2.2M59.10 43.27h4M278.00 43.27h-4M59.10 26.21h2.2M278.00 26.21h-2.2M59.10 9.15h4M278.00 9.15h-4M91.30 162.70v-3.6M91.30 9.15v3.6M138.01 162.70v-3.6M138.01 9.15v3.6M189.20 162.70v-3.6M189.20 9.15v3.6M235.91 162.70v-3.6M235.91 9.15v3.6" stroke="#333" stroke-width="1.1" fill="none"/>
<rect x="59.10" y="9.15" width="218.90" height="153.55" fill="none" stroke="#3a3a3a" stroke-width="1.05"/>
<path d="M294.20 145.64h4M519.20 145.64h-4M294.20 128.58h2.2M519.20 128.58h-2.2M294.20 111.52h4M519.20 111.52h-4M294.20 94.46h2.2M519.20 94.46h-2.2M294.20 77.39h4M519.20 77.39h-4M294.20 60.33h2.2M519.20 60.33h-2.2M294.20 43.27h4M519.20 43.27h-4M294.20 26.21h2.2M519.20 26.21h-2.2M294.20 9.15h4M519.20 9.15h-4M327.65 162.70v-3.6M327.65 9.15v3.6M375.39 162.70v-3.6M375.39 9.15v3.6M427.70 162.70v-3.6M427.70 9.15v3.6M475.44 162.70v-3.6M475.44 9.15v3.6" stroke="#333" stroke-width="1.1" fill="none"/>
<rect x="294.20" y="9.15" width="225.00" height="153.55" fill="none" stroke="#3a3a3a" stroke-width="1.05"/>
<path d="M59.10 314.56h4M278.00 314.56h-4M59.10 297.71h2.2M278.00 297.71h-2.2M59.10 280.87h4M278.00 280.87h-4M59.10 264.02h2.2M278.00 264.02h-2.2M59.10 247.18h4M278.00 247.18h-4M59.10 230.33h2.2M278.00 230.33h-2.2M59.10 213.49h4M278.00 213.49h-4M59.10 196.64h2.2M278.00 196.64h-2.2M59.10 179.80h4M278.00 179.80h-4M91.30 331.40v-3.6M91.30 179.80v3.6M138.01 331.40v-3.6M138.01 179.80v3.6M189.20 331.40v-3.6M189.20 179.80v3.6M235.91 331.40v-3.6M235.91 179.80v3.6" stroke="#333" stroke-width="1.1" fill="none"/>
<rect x="59.10" y="179.80" width="218.90" height="151.60" fill="none" stroke="#3a3a3a" stroke-width="1.05"/>
<path d="M294.20 314.56h4M519.20 314.56h-4M294.20 297.71h2.2M519.20 297.71h-2.2M294.20 280.87h4M519.20 280.87h-4M294.20 264.02h2.2M519.20 264.02h-2.2M294.20 247.18h4M519.20 247.18h-4M294.20 230.33h2.2M519.20 230.33h-2.2M294.20 213.49h4M519.20 213.49h-4M294.20 196.64h2.2M519.20 196.64h-2.2M294.20 179.80h4M519.20 179.80h-4M327.65 331.40v-3.6M327.65 179.80v3.6M375.39 331.40v-3.6M375.39 179.80v3.6M427.70 331.40v-3.6M427.70 179.80v3.6M475.44 331.40v-3.6M475.44 179.80v3.6" stroke="#333" stroke-width="1.1" fill="none"/>
<rect x="294.20" y="179.80" width="225.00" height="151.60" fill="none" stroke="#3a3a3a" stroke-width="1.05"/>
<path d="M59.10 514.18h4M278.00 514.18h-4M59.10 497.11h2.2M278.00 497.11h-2.2M59.10 480.03h4M278.00 480.03h-4M59.10 462.96h2.2M278.00 462.96h-2.2M59.10 445.89h4M278.00 445.89h-4M59.10 428.82h2.2M278.00 428.82h-2.2M59.10 411.74h4M278.00 411.74h-4M59.10 394.67h2.2M278.00 394.67h-2.2M59.10 377.60h4M278.00 377.60h-4M91.30 531.25v-3.6M91.30 377.60v3.6M138.01 531.25v-3.6M138.01 377.60v3.6M189.20 531.25v-3.6M189.20 377.60v3.6M235.91 531.25v-3.6M235.91 377.60v3.6" stroke="#333" stroke-width="1.1" fill="none"/>
<rect x="59.10" y="377.60" width="218.90" height="153.65" fill="none" stroke="#3a3a3a" stroke-width="1.05"/>
<path d="M294.20 514.18h4M519.20 514.18h-4M294.20 497.11h2.2M519.20 497.11h-2.2M294.20 480.03h4M519.20 480.03h-4M294.20 462.96h2.2M519.20 462.96h-2.2M294.20 445.89h4M519.20 445.89h-4M294.20 428.82h2.2M519.20 428.82h-2.2M294.20 411.74h4M519.20 411.74h-4M294.20 394.67h2.2M519.20 394.67h-2.2M294.20 377.60h4M519.20 377.60h-4M327.65 531.25v-3.6M327.65 377.60v3.6M375.39 531.25v-3.6M375.39 377.60v3.6M427.70 531.25v-3.6M427.70 377.60v3.6M475.44 531.25v-3.6M475.44 377.60v3.6" stroke="#333" stroke-width="1.1" fill="none"/>
<rect x="294.20" y="377.60" width="225.00" height="153.65" fill="none" stroke="#3a3a3a" stroke-width="1.05"/>
<path d="M59.10 682.98h4M278.00 682.98h-4M59.10 666.11h2.2M278.00 666.11h-2.2M59.10 649.23h4M278.00 649.23h-4M59.10 632.36h2.2M278.00 632.36h-2.2M59.10 615.49h4M278.00 615.49h-4M59.10 598.62h2.2M278.00 598.62h-2.2M59.10 581.74h4M278.00 581.74h-4M59.10 564.87h2.2M278.00 564.87h-2.2M59.10 548.00h4M278.00 548.00h-4M91.30 699.85v-3.6M91.30 548.00v3.6M138.01 699.85v-3.6M138.01 548.00v3.6M189.20 699.85v-3.6M189.20 548.00v3.6M235.91 699.85v-3.6M235.91 548.00v3.6" stroke="#333" stroke-width="1.1" fill="none"/>
<rect x="59.10" y="548.00" width="218.90" height="151.85" fill="none" stroke="#3a3a3a" stroke-width="1.05"/>
<path d="M294.20 682.98h4M519.20 682.98h-4M294.20 666.11h2.2M519.20 666.11h-2.2M294.20 649.23h4M519.20 649.23h-4M294.20 632.36h2.2M519.20 632.36h-2.2M294.20 615.49h4M519.20 615.49h-4M294.20 598.62h2.2M519.20 598.62h-2.2M294.20 581.74h4M519.20 581.74h-4M294.20 564.87h2.2M519.20 564.87h-2.2M294.20 548.00h4M519.20 548.00h-4M327.65 699.85v-3.6M327.65 548.00v3.6M375.39 699.85v-3.6M375.39 548.00v3.6M427.70 699.85v-3.6M427.70 548.00v3.6M475.44 699.85v-3.6M475.44 548.00v3.6" stroke="#333" stroke-width="1.1" fill="none"/>
<rect x="294.20" y="548.00" width="225.00" height="151.85" fill="none" stroke="#3a3a3a" stroke-width="1.05"/>
<text transform="translate(33.82 13.05) scale(0.943 1.040)" font-size="15" stroke="#fff" stroke-width="0.1">10</text>
<text transform="translate(48.52 7.65) scale(1.153 1.000)" font-size="10.5" stroke="#fff" stroke-width="0.1">8</text>
<text transform="translate(33.82 47.17) scale(0.943 1.040)" font-size="15" stroke="#fff" stroke-width="0.1">10</text>
<text transform="translate(48.56 41.77) scale(1.089 1.000)" font-size="10.5" stroke="#fff" stroke-width="0.1">6</text>
<text transform="translate(33.82 81.29) scale(0.943 1.040)" font-size="15" stroke="#fff" stroke-width="0.1">10</text>
<text transform="translate(48.84 75.89) scale(1.032 1.000)" font-size="10.5" stroke="#fff" stroke-width="0.1">4</text>
<text transform="translate(33.82 115.42) scale(0.943 1.040)" font-size="15" stroke="#fff" stroke-width="0.1">10</text>
<text transform="translate(48.52 110.02) scale(1.153 1.000)" font-size="10.5" stroke="#fff" stroke-width="0.1">2</text>
<text transform="translate(47.56 148.74) scale(0.990 1.010)" font-size="15" stroke="#fff" stroke-width="0.1">1</text>
<text transform="translate(33.82 183.70) scale(0.943 1.040)" font-size="15" stroke="#fff" stroke-width="0.1">10</text>
<text transform="translate(48.52 178.30) scale(1.153 1.000)" font-size="10.5" stroke="#fff" stroke-width="0.1">8</text>
<text transform="translate(33.82 217.39) scale(0.943 1.040)" font-size="15" stroke="#fff" stroke-width="0.1">10</text>
<text transform="translate(48.56 211.99) scale(1.089 1.000)" font-size="10.5" stroke="#fff" stroke-width="0.1">6</text>
<text transform="translate(33.82 251.08) scale(0.943 1.040)" font-size="15" stroke="#fff" stroke-width="0.1">10</text>
<text transform="translate(48.84 245.68) scale(1.032 1.000)" font-size="10.5" stroke="#fff" stroke-width="0.1">4</text>
<text transform="translate(33.82 284.77) scale(0.943 1.040)" font-size="15" stroke="#fff" stroke-width="0.1">10</text>
<text transform="translate(48.52 279.37) scale(1.153 1.000)" font-size="10.5" stroke="#fff" stroke-width="0.1">2</text>
<text transform="translate(47.56 317.66) scale(0.990 1.010)" font-size="15" stroke="#fff" stroke-width="0.1">1</text>
<text transform="translate(33.82 381.50) scale(0.943 1.040)" font-size="15" stroke="#fff" stroke-width="0.1">10</text>
<text transform="translate(48.52 376.10) scale(1.153 1.000)" font-size="10.5" stroke="#fff" stroke-width="0.1">8</text>
<text transform="translate(33.82 415.64) scale(0.943 1.040)" font-size="15" stroke="#fff" stroke-width="0.1">10</text>
<text transform="translate(48.56 410.24) scale(1.089 1.000)" font-size="10.5" stroke="#fff" stroke-width="0.1">6</text>
<text transform="translate(33.82 449.79) scale(0.943 1.040)" font-size="15" stroke="#fff" stroke-width="0.1">10</text>
<text transform="translate(48.84 444.39) scale(1.032 1.000)" font-size="10.5" stroke="#fff" stroke-width="0.1">4</text>
<text transform="translate(33.82 483.93) scale(0.943 1.040)" font-size="15" stroke="#fff" stroke-width="0.1">10</text>
<text transform="translate(48.52 478.53) scale(1.153 1.000)" font-size="10.5" stroke="#fff" stroke-width="0.1">2</text>
<text transform="translate(47.56 517.28) scale(0.990 1.010)" font-size="15" stroke="#fff" stroke-width="0.1">1</text>
<text transform="translate(33.82 551.90) scale(0.943 1.040)" font-size="15" stroke="#fff" stroke-width="0.1">10</text>
<text transform="translate(48.52 546.50) scale(1.153 1.000)" font-size="10.5" stroke="#fff" stroke-width="0.1">8</text>
<text transform="translate(33.82 585.64) scale(0.943 1.040)" font-size="15" stroke="#fff" stroke-width="0.1">10</text>
<text transform="translate(48.56 580.24) scale(1.089 1.000)" font-size="10.5" stroke="#fff" stroke-width="0.1">6</text>
<text transform="translate(33.82 619.39) scale(0.943 1.040)" font-size="15" stroke="#fff" stroke-width="0.1">10</text>
<text transform="translate(48.84 613.99) scale(1.032 1.000)" font-size="10.5" stroke="#fff" stroke-width="0.1">4</text>
<text transform="translate(33.82 653.13) scale(0.943 1.040)" font-size="15" stroke="#fff" stroke-width="0.1">10</text>
<text transform="translate(48.52 647.73) scale(1.153 1.000)" font-size="10.5" stroke="#fff" stroke-width="0.1">2</text>
<text transform="translate(47.56 686.08) scale(0.990 1.010)" font-size="15" stroke="#fff" stroke-width="0.1">1</text>
<text transform="translate(81.13 348.80) scale(1.082 1.044)" font-size="15">0.1</text>
<text transform="translate(127.57 348.80) scale(1.082 1.044)" font-size="15">0.3</text>
<text transform="translate(184.71 348.80) scale(1.082 1.044)" font-size="15">1</text>
<text transform="translate(231.42 348.80) scale(1.082 1.044)" font-size="15">3</text>
<text transform="translate(317.48 348.80) scale(1.082 1.044)" font-size="15">0.1</text>
<text transform="translate(364.95 348.80) scale(1.082 1.044)" font-size="15">0.3</text>
<text transform="translate(423.21 348.80) scale(1.082 1.044)" font-size="15">1</text>
<text transform="translate(470.94 348.80) scale(1.082 1.044)" font-size="15">3</text>
<text transform="translate(81.13 717.25) scale(1.082 1.044)" font-size="15">0.1</text>
<text transform="translate(127.57 717.25) scale(1.082 1.044)" font-size="15">0.3</text>
<text transform="translate(184.71 717.25) scale(1.082 1.044)" font-size="15">1</text>
<text transform="translate(231.42 717.25) scale(1.082 1.044)" font-size="15">3</text>
<text transform="translate(317.48 717.25) scale(1.082 1.044)" font-size="15">0.1</text>
<text transform="translate(364.95 717.25) scale(1.082 1.044)" font-size="15">0.3</text>
<text transform="translate(423.21 717.25) scale(1.082 1.044)" font-size="15">1</text>
<text transform="translate(470.94 717.25) scale(1.082 1.044)" font-size="15">3</text>
<text transform="translate(3.54 15.63) scale(1.059 1.105)" font-size="21" stroke="#fff" stroke-width="0.1">(a)</text>
<text transform="translate(1.04 387.83) scale(1.062 1.126)" font-size="21" stroke="#fff" stroke-width="0.1">(b)</text>
<text transform="translate(70.46 149.90) scale(1.520 1.000)" font-size="15.5" font-style="italic" stroke="#fff" stroke-width="0.22">t</text>
<text transform="translate(76.80 152.60) scale(1.600 1.337)" font-size="15.5" stroke="#fff" stroke-width="0.08">/</text>
<text transform="translate(83.39 149.90) scale(1.418 1.000)" font-size="15.5" font-style="italic" stroke="#fff" stroke-width="0.22">τ</text>
<text transform="translate(111.86 149.90) scale(1.077 1.000)" font-size="15">0</text>
<path d="M97.40 145.05h10.1M97.40 147.80h10.1" stroke="#333" stroke-width="0.8"/>
<text transform="translate(305.56 149.90) scale(1.520 1.000)" font-size="15.5" font-style="italic" stroke="#fff" stroke-width="0.22">t</text>
<text transform="translate(311.90 152.60) scale(1.600 1.337)" font-size="15.5" stroke="#fff" stroke-width="0.08">/</text>
<text transform="translate(318.49 149.90) scale(1.418 1.000)" font-size="15.5" font-style="italic" stroke="#fff" stroke-width="0.22">τ</text>
<text transform="translate(346.94 149.90) scale(1.018 1.000)" font-size="15">37</text>
<path d="M332.50 145.05h10.1M332.50 147.80h10.1" stroke="#333" stroke-width="0.8"/>
<text transform="translate(70.46 318.30) scale(1.520 1.000)" font-size="15.5" font-style="italic" stroke="#fff" stroke-width="0.22">t</text>
<text transform="translate(76.80 321.00) scale(1.600 1.337)" font-size="15.5" stroke="#fff" stroke-width="0.08">/</text>
<text transform="translate(83.39 318.30) scale(1.418 1.000)" font-size="15.5" font-style="italic" stroke="#fff" stroke-width="0.22">τ</text>
<text transform="translate(111.93 318.30) scale(1.031 1.000)" font-size="15">303</text>
<path d="M97.40 313.45h10.1M97.40 316.20h10.1" stroke="#333" stroke-width="0.8"/>
<text transform="translate(305.56 318.30) scale(1.520 1.000)" font-size="15.5" font-style="italic" stroke="#fff" stroke-width="0.22">t</text>
<text transform="translate(311.90 321.00) scale(1.600 1.337)" font-size="15.5" stroke="#fff" stroke-width="0.08">/</text>
<text transform="translate(318.49 318.30) scale(1.418 1.000)" font-size="15.5" font-style="italic" stroke="#fff" stroke-width="0.22">τ</text>
<text transform="translate(347.45 318.30) scale(0.996 1.000)" font-size="15">1212</text>
<path d="M332.50 313.45h10.1M332.50 316.20h10.1" stroke="#333" stroke-width="0.8"/>
<text transform="translate(70.46 517.90) scale(1.520 1.000)" font-size="15.5" font-style="italic" stroke="#fff" stroke-width="0.22">t</text>
<text transform="translate(76.80 520.60) scale(1.600 1.337)" font-size="15.5" stroke="#fff" stroke-width="0.08">/</text>
<text transform="translate(83.39 517.90) scale(1.418 1.000)" font-size="15.5" font-style="italic" stroke="#fff" stroke-width="0.22">τ</text>
<text transform="translate(111.85 517.90) scale(1.108 1.000)" font-size="15">0</text>
<path d="M97.40 513.05h10.1M97.40 515.80h10.1" stroke="#333" stroke-width="0.8"/>
<text transform="translate(305.56 517.90) scale(1.520 1.000)" font-size="15.5" font-style="italic" stroke="#fff" stroke-width="0.22">t</text>
<text transform="translate(311.90 520.60) scale(1.600 1.337)" font-size="15.5" stroke="#fff" stroke-width="0.08">/</text>
<text transform="translate(318.49 517.90) scale(1.418 1.000)" font-size="15.5" font-style="italic" stroke="#fff" stroke-width="0.22">τ</text>
<text transform="translate(346.93 517.90) scale(1.033 1.000)" font-size="15">37</text>
<path d="M332.50 513.05h10.1M332.50 515.80h10.1" stroke="#333" stroke-width="0.8"/>
<text transform="translate(70.46 686.40) scale(1.520 1.000)" font-size="15.5" font-style="italic" stroke="#fff" stroke-width="0.22">t</text>
<text transform="translate(76.80 689.10) scale(1.600 1.337)" font-size="15.5" stroke="#fff" stroke-width="0.08">/</text>
<text transform="translate(83.39 686.40) scale(1.418 1.000)" font-size="15.5" font-style="italic" stroke="#fff" stroke-width="0.22">τ</text>
<text transform="translate(111.93 686.40) scale(1.021 1.000)" font-size="15">303</text>
<path d="M97.40 681.55h10.1M97.40 684.30h10.1" stroke="#333" stroke-width="0.8"/>
<text transform="translate(305.56 686.40) scale(1.520 1.000)" font-size="15.5" font-style="italic" stroke="#fff" stroke-width="0.22">t</text>
<text transform="translate(311.90 689.10) scale(1.600 1.337)" font-size="15.5" stroke="#fff" stroke-width="0.08">/</text>
<text transform="translate(318.49 686.40) scale(1.418 1.000)" font-size="15.5" font-style="italic" stroke="#fff" stroke-width="0.22">τ</text>
<text transform="translate(347.45 686.40) scale(1.004 1.000)" font-size="15">1212</text>
<path d="M332.50 681.55h10.1M332.50 684.30h10.1" stroke="#333" stroke-width="0.8"/>
<text transform="translate(436.47 204.80) scale(1.067 0.927)" font-size="16" font-style="italic">k</text>
<text transform="translate(436.47 573.00) scale(1.067 0.927)" font-size="16" font-style="italic">k</text>
<text transform="translate(452.55 199.70) scale(1.106 1.043)" font-size="10.5">2</text>
<text transform="translate(452.55 567.90) scale(1.106 1.043)" font-size="10.5">5</text>
<path d="M445.2 197.1h6.8M445.2 565.3h6.8" stroke="#222" stroke-width="0.75"/>
<text transform="translate(14.44 262.99) rotate(-90) scale(1.055 1.090)" font-size="19" stroke="#fff" stroke-width="0.1">Occupation number <tspan font-style="italic">n</tspan>(<tspan font-style="italic">k</tspan>)</text>
<text transform="translate(14.44 630.49) rotate(-90) scale(1.051 1.090)" font-size="19" stroke="#fff" stroke-width="0.1">Occupation number <tspan font-style="italic">n</tspan>(<tspan font-style="italic">k</tspan>)</text>
<text transform="translate(215.68 742.95) scale(1.041 1.091)" font-size="19" stroke="#fff" stroke-width="0.1">Radial momentum <tspan font-style="italic">kξ</tspan></text>
</svg></body></html>
